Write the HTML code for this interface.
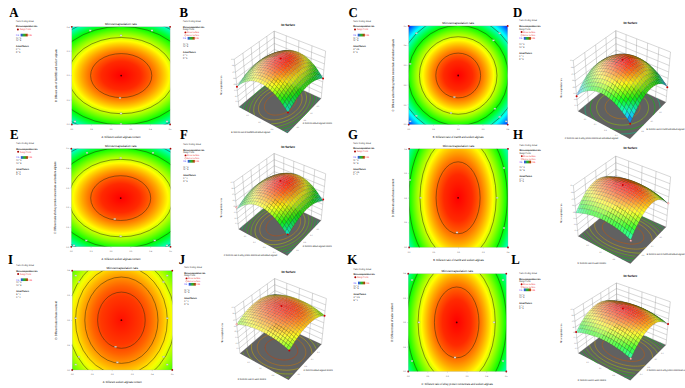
<!DOCTYPE html>
<html><head><meta charset="utf-8"><title>Figure</title>
<style>
html,body{margin:0;padding:0;background:#fff;width:685px;height:388px;overflow:hidden}
svg{display:block}
text{font-family:"Liberation Sans",sans-serif;text-rendering:geometricPrecision}
.L{font-family:"Liberation Serif",serif;font-weight:bold;font-size:13.6px;fill:#000;text-rendering:geometricPrecision}
</style></head><body>
<svg width="685" height="388" viewBox="0 0 685 388" font-family="Liberation Sans, sans-serif"><defs><linearGradient id="cbar"><stop offset="0" stop-color="#3344ff"/><stop offset="0.5" stop-color="#22bb22"/><stop offset="1" stop-color="#cc2200"/></linearGradient><radialGradient id="rg1" gradientUnits="userSpaceOnUse" cx="0" cy="0" r="1" gradientTransform="translate(121.2 75.6) scale(96.8 69.6)"><stop offset="0.0000" stop-color="#ff0000"/><stop offset="0.2041" stop-color="#ff2a00"/><stop offset="0.2887" stop-color="#ff5500"/><stop offset="0.3536" stop-color="#ff8000"/><stop offset="0.4082" stop-color="#ffaa00"/><stop offset="0.4564" stop-color="#ffd400"/><stop offset="0.5000" stop-color="#ffff00"/><stop offset="0.5401" stop-color="#d4ff00"/><stop offset="0.5774" stop-color="#aaff00"/><stop offset="0.6124" stop-color="#80ff00"/><stop offset="0.6455" stop-color="#55ff00"/><stop offset="0.6770" stop-color="#2bff00"/><stop offset="0.7071" stop-color="#00ff00"/><stop offset="0.7360" stop-color="#00ff2a"/><stop offset="0.7638" stop-color="#00ff55"/><stop offset="0.7906" stop-color="#00ff80"/><stop offset="0.8165" stop-color="#00ffaa"/><stop offset="0.8416" stop-color="#00ffd4"/><stop offset="0.8660" stop-color="#00ffff"/><stop offset="0.8898" stop-color="#00d4ff"/><stop offset="0.9129" stop-color="#00aaff"/><stop offset="0.9354" stop-color="#0080ff"/><stop offset="0.9574" stop-color="#0055ff"/><stop offset="0.9789" stop-color="#002bff"/><stop offset="1.0000" stop-color="#0000ff"/></radialGradient><clipPath id="cp1"><rect x="71.8" y="26.8" width="98.3" height="97.6"/></clipPath><radialGradient id="rg2" gradientUnits="userSpaceOnUse" cx="0" cy="0" r="1" gradientTransform="translate(458.2 75.5) scale(70.8 70.8)"><stop offset="0.0000" stop-color="#ff0000"/><stop offset="0.2041" stop-color="#ff2a00"/><stop offset="0.2887" stop-color="#ff5500"/><stop offset="0.3536" stop-color="#ff8000"/><stop offset="0.4082" stop-color="#ffaa00"/><stop offset="0.4564" stop-color="#ffd400"/><stop offset="0.5000" stop-color="#ffff00"/><stop offset="0.5401" stop-color="#d4ff00"/><stop offset="0.5774" stop-color="#aaff00"/><stop offset="0.6124" stop-color="#80ff00"/><stop offset="0.6455" stop-color="#55ff00"/><stop offset="0.6770" stop-color="#2bff00"/><stop offset="0.7071" stop-color="#00ff00"/><stop offset="0.7360" stop-color="#00ff2a"/><stop offset="0.7638" stop-color="#00ff55"/><stop offset="0.7906" stop-color="#00ff80"/><stop offset="0.8165" stop-color="#00ffaa"/><stop offset="0.8416" stop-color="#00ffd4"/><stop offset="0.8660" stop-color="#00ffff"/><stop offset="0.8898" stop-color="#00d4ff"/><stop offset="0.9129" stop-color="#00aaff"/><stop offset="0.9354" stop-color="#0080ff"/><stop offset="0.9574" stop-color="#0055ff"/><stop offset="0.9789" stop-color="#002bff"/><stop offset="1.0000" stop-color="#0000ff"/></radialGradient><clipPath id="cp2"><rect x="408.7" y="25.9" width="99" height="98.7"/></clipPath><radialGradient id="rg3" gradientUnits="userSpaceOnUse" cx="0" cy="0" r="1" gradientTransform="translate(120.7 198.1) scale(94.9 70.8)"><stop offset="0.0000" stop-color="#ff0000"/><stop offset="0.2041" stop-color="#ff2a00"/><stop offset="0.2887" stop-color="#ff5500"/><stop offset="0.3536" stop-color="#ff8000"/><stop offset="0.4082" stop-color="#ffaa00"/><stop offset="0.4564" stop-color="#ffd400"/><stop offset="0.5000" stop-color="#ffff00"/><stop offset="0.5401" stop-color="#d4ff00"/><stop offset="0.5774" stop-color="#aaff00"/><stop offset="0.6124" stop-color="#80ff00"/><stop offset="0.6455" stop-color="#55ff00"/><stop offset="0.6770" stop-color="#2bff00"/><stop offset="0.7071" stop-color="#00ff00"/><stop offset="0.7360" stop-color="#00ff2a"/><stop offset="0.7638" stop-color="#00ff55"/><stop offset="0.7906" stop-color="#00ff80"/><stop offset="0.8165" stop-color="#00ffaa"/><stop offset="0.8416" stop-color="#00ffd4"/><stop offset="0.8660" stop-color="#00ffff"/><stop offset="0.8898" stop-color="#00d4ff"/><stop offset="0.9129" stop-color="#00aaff"/><stop offset="0.9354" stop-color="#0080ff"/><stop offset="0.9574" stop-color="#0055ff"/><stop offset="0.9789" stop-color="#002bff"/><stop offset="1.0000" stop-color="#0000ff"/></radialGradient><clipPath id="cp3"><rect x="71.3" y="148.7" width="99.2" height="98.1"/></clipPath><radialGradient id="rg4" gradientUnits="userSpaceOnUse" cx="0" cy="0" r="1" gradientTransform="translate(458.1 197.8) scale(69.6 113.8)"><stop offset="0.0000" stop-color="#ff0000"/><stop offset="0.2041" stop-color="#ff2a00"/><stop offset="0.2887" stop-color="#ff5500"/><stop offset="0.3536" stop-color="#ff8000"/><stop offset="0.4082" stop-color="#ffaa00"/><stop offset="0.4564" stop-color="#ffd400"/><stop offset="0.5000" stop-color="#ffff00"/><stop offset="0.5401" stop-color="#d4ff00"/><stop offset="0.5774" stop-color="#aaff00"/><stop offset="0.6124" stop-color="#80ff00"/><stop offset="0.6455" stop-color="#55ff00"/><stop offset="0.6770" stop-color="#2bff00"/><stop offset="0.7071" stop-color="#00ff00"/><stop offset="0.7360" stop-color="#00ff2a"/><stop offset="0.7638" stop-color="#00ff55"/><stop offset="0.7906" stop-color="#00ff80"/><stop offset="0.8165" stop-color="#00ffaa"/><stop offset="0.8416" stop-color="#00ffd4"/><stop offset="0.8660" stop-color="#00ffff"/><stop offset="0.8898" stop-color="#00d4ff"/><stop offset="0.9129" stop-color="#00aaff"/><stop offset="0.9354" stop-color="#0080ff"/><stop offset="0.9574" stop-color="#0055ff"/><stop offset="0.9789" stop-color="#002bff"/><stop offset="1.0000" stop-color="#0000ff"/></radialGradient><clipPath id="cp4"><rect x="409.1" y="148.8" width="98.9" height="98.6"/></clipPath><radialGradient id="rg5" gradientUnits="userSpaceOnUse" cx="0" cy="0" r="1" gradientTransform="translate(121.4 320.2) scale(100.74 118.9)"><stop offset="0.0000" stop-color="#ff0f00"/><stop offset="0.2041" stop-color="#ff3900"/><stop offset="0.2887" stop-color="#ff6300"/><stop offset="0.3536" stop-color="#ff8d00"/><stop offset="0.4082" stop-color="#ffb700"/><stop offset="0.4564" stop-color="#ffe100"/><stop offset="0.5000" stop-color="#f4ff00"/><stop offset="0.5401" stop-color="#caff00"/><stop offset="0.5774" stop-color="#a0ff00"/><stop offset="0.6124" stop-color="#76ff00"/><stop offset="0.6455" stop-color="#4cff00"/><stop offset="0.6770" stop-color="#22ff00"/><stop offset="0.7071" stop-color="#00ff08"/><stop offset="0.7360" stop-color="#00ff32"/><stop offset="0.7638" stop-color="#00ff5b"/><stop offset="0.7906" stop-color="#00ff85"/><stop offset="0.8165" stop-color="#00ffaf"/><stop offset="0.8416" stop-color="#00ffd9"/><stop offset="0.8660" stop-color="#00fbff"/><stop offset="0.8898" stop-color="#00d1ff"/><stop offset="0.9129" stop-color="#00a7ff"/><stop offset="0.9354" stop-color="#007eff"/><stop offset="0.9574" stop-color="#0054ff"/><stop offset="0.9789" stop-color="#002aff"/><stop offset="1.0000" stop-color="#0000ff"/></radialGradient><clipPath id="cp5"><rect x="72.2" y="270.7" width="100.1" height="99.3"/></clipPath><radialGradient id="rg6" gradientUnits="userSpaceOnUse" cx="0" cy="0" r="1" gradientTransform="translate(456.7 322.4) scale(70.5 112)"><stop offset="0.0000" stop-color="#ff0000"/><stop offset="0.2041" stop-color="#ff2a00"/><stop offset="0.2887" stop-color="#ff5500"/><stop offset="0.3536" stop-color="#ff8000"/><stop offset="0.4082" stop-color="#ffaa00"/><stop offset="0.4564" stop-color="#ffd400"/><stop offset="0.5000" stop-color="#ffff00"/><stop offset="0.5401" stop-color="#d4ff00"/><stop offset="0.5774" stop-color="#aaff00"/><stop offset="0.6124" stop-color="#80ff00"/><stop offset="0.6455" stop-color="#55ff00"/><stop offset="0.6770" stop-color="#2bff00"/><stop offset="0.7071" stop-color="#00ff00"/><stop offset="0.7360" stop-color="#00ff2a"/><stop offset="0.7638" stop-color="#00ff55"/><stop offset="0.7906" stop-color="#00ff80"/><stop offset="0.8165" stop-color="#00ffaa"/><stop offset="0.8416" stop-color="#00ffd4"/><stop offset="0.8660" stop-color="#00ffff"/><stop offset="0.8898" stop-color="#00d4ff"/><stop offset="0.9129" stop-color="#00aaff"/><stop offset="0.9354" stop-color="#0080ff"/><stop offset="0.9574" stop-color="#0055ff"/><stop offset="0.9789" stop-color="#002bff"/><stop offset="1.0000" stop-color="#0000ff"/></radialGradient><clipPath id="cp6"><rect x="408.2" y="273.7" width="98.1" height="97.8"/></clipPath></defs><text transform="translate(9.3 16.8) scale(.94 1)" class="L">A</text><text x="16.1" y="21.75" font-size="2.4" fill="#222" textLength="17.64" lengthAdjust="spacingAndGlyphs">Factor Coding: Actual</text><text x="16.1" y="27.25" font-size="2.4" fill="#000" font-weight="bold" textLength="21.16" lengthAdjust="spacingAndGlyphs">Microencapsulation rate</text><circle cx="17.9" cy="29.4" r="1" fill="#a00"/><text x="19.9" y="30.25" font-size="2.4" fill="#e33" textLength="11.05" lengthAdjust="spacingAndGlyphs">Design Points</text><text x="16.1" y="35.95" font-size="2.4" fill="#33f" textLength="2.7" lengthAdjust="spacingAndGlyphs">0.5</text><rect x="20.6" y="33.75" width="7.1" height="2.7" fill="url(#cbar)"/><text x="28.3" y="35.95" font-size="2.4" fill="#f33" textLength="3.6" lengthAdjust="spacingAndGlyphs">0.95</text><text x="16.1" y="38.65" font-size="2.4" fill="#222" textLength="5.1" lengthAdjust="spacingAndGlyphs">X1 = A</text><text x="16.1" y="41.45" font-size="2.4" fill="#222" textLength="5.1" lengthAdjust="spacingAndGlyphs">X2 = B</text><text x="16.1" y="47.45" font-size="2.4" fill="#000" font-weight="bold" textLength="12.6" lengthAdjust="spacingAndGlyphs">Actual Factors</text><text x="16.1" y="50.35" font-size="2.4" fill="#222" textLength="4.25" lengthAdjust="spacingAndGlyphs">C = 1</text><text x="16.1" y="53.05" font-size="2.4" fill="#222" textLength="4.25" lengthAdjust="spacingAndGlyphs">D = 5</text><rect x="71.8" y="26.8" width="98.3" height="97.6" fill="url(#rg1)"/><g clip-path="url(#cp1)" fill="none" stroke="#2a2a10" stroke-width="0.5"><ellipse cx="121.2" cy="75.6" rx="30.61" ry="22.01"/><ellipse cx="121.2" cy="75.6" rx="53.02" ry="38.12"/><ellipse cx="121.2" cy="75.6" rx="68.45" ry="49.21"/><ellipse cx="121.2" cy="75.6" rx="80.99" ry="58.23"/></g><rect x="71.8" y="26.8" width="98.3" height="97.6" fill="none" stroke="#aaa" stroke-width="0.3"/><rect x="89.2" y="29.85" width="2" height="1.3" fill="#ddd" stroke="#999" stroke-width="0.2"/><rect x="120" y="34.85" width="2" height="1.3" fill="#ddd" stroke="#999" stroke-width="0.2"/><rect x="151" y="29.85" width="2" height="1.3" fill="#ddd" stroke="#999" stroke-width="0.2"/><rect x="120" y="112.85" width="2" height="1.3" fill="#ddd" stroke="#999" stroke-width="0.2"/><rect x="119" y="97.35" width="2" height="1.3" fill="#ddd" stroke="#999" stroke-width="0.2"/><rect x="74" y="120.85" width="2" height="1.3" fill="#ddd" stroke="#999" stroke-width="0.2"/><rect x="166" y="120.85" width="2" height="1.3" fill="#ddd" stroke="#999" stroke-width="0.2"/><rect x="120" y="123.35" width="2" height="1.3" fill="#ddd" stroke="#999" stroke-width="0.2"/><circle cx="71.8" cy="26.8" r="0.9" fill="#a00"/><circle cx="170.1" cy="26.8" r="0.9" fill="#a00"/><circle cx="71.8" cy="124.4" r="0.9" fill="#a00"/><circle cx="170.1" cy="124.4" r="0.9" fill="#a00"/><circle cx="121.2" cy="75.6" r="0.9" fill="#400"/><text x="120.95" y="24.9" font-size="3" fill="#000" text-anchor="middle" textLength="31.74" lengthAdjust="spacingAndGlyphs">Microencapsulation rate</text><line x1="71.8" y1="124.4" x2="71.8" y2="125.6" stroke="#999" stroke-width="0.3"/><text x="71.8" y="129.6" font-size="1.9" fill="#333" text-anchor="middle">0.0</text><line x1="91.46" y1="124.4" x2="91.46" y2="125.6" stroke="#999" stroke-width="0.3"/><text x="91.46" y="129.6" font-size="1.9" fill="#333" text-anchor="middle">0.1</text><line x1="111.12" y1="124.4" x2="111.12" y2="125.6" stroke="#999" stroke-width="0.3"/><text x="111.12" y="129.6" font-size="1.9" fill="#333" text-anchor="middle">0.2</text><line x1="130.78" y1="124.4" x2="130.78" y2="125.6" stroke="#999" stroke-width="0.3"/><text x="130.78" y="129.6" font-size="1.9" fill="#333" text-anchor="middle">0.3</text><line x1="150.44" y1="124.4" x2="150.44" y2="125.6" stroke="#999" stroke-width="0.3"/><text x="150.44" y="129.6" font-size="1.9" fill="#333" text-anchor="middle">0.4</text><line x1="170.1" y1="124.4" x2="170.1" y2="125.6" stroke="#999" stroke-width="0.3"/><text x="170.1" y="129.6" font-size="1.9" fill="#333" text-anchor="middle">0.5</text><line x1="70.6" y1="124.4" x2="71.8" y2="124.4" stroke="#999" stroke-width="0.3"/><text x="69.5" y="125.1" font-size="1.9" fill="#333" text-anchor="end">0.0</text><line x1="70.6" y1="100" x2="71.8" y2="100" stroke="#999" stroke-width="0.3"/><text x="69.5" y="100.7" font-size="1.9" fill="#333" text-anchor="end">0.1</text><line x1="70.6" y1="75.6" x2="71.8" y2="75.6" stroke="#999" stroke-width="0.3"/><text x="69.5" y="76.3" font-size="1.9" fill="#333" text-anchor="end">0.2</text><line x1="70.6" y1="51.2" x2="71.8" y2="51.2" stroke="#999" stroke-width="0.3"/><text x="69.5" y="51.9" font-size="1.9" fill="#333" text-anchor="end">0.3</text><line x1="70.6" y1="26.8" x2="71.8" y2="26.8" stroke="#999" stroke-width="0.3"/><text x="69.5" y="27.5" font-size="1.9" fill="#333" text-anchor="end">0.4</text><text x="120.95" y="137.6" font-size="3" fill="#000" text-anchor="middle" textLength="38.88" lengthAdjust="spacingAndGlyphs">A: Different sodium alginate content</text><text x="56.8" y="75.6" font-size="3" fill="#000" text-anchor="middle" transform="rotate(-90 56.8 75.6)" textLength="52.8" lengthAdjust="spacingAndGlyphs">B: Different ratio of NaHSO3 and sodium alginate</text><text transform="translate(179.6 16.5) scale(.94 1)" class="L">B</text><text x="183.1" y="21.95" font-size="2.4" fill="#222" textLength="17.64" lengthAdjust="spacingAndGlyphs">Factor Coding: Actual</text><text x="183.1" y="27.55" font-size="2.4" fill="#000" font-weight="bold" textLength="21.16" lengthAdjust="spacingAndGlyphs">Microencapsulation rate</text><text x="183.1" y="30.35" font-size="2.4" fill="#222" textLength="11.05" lengthAdjust="spacingAndGlyphs">Design Points</text><circle cx="185.4" cy="32.4" r="0.95" fill="#b00"/><text x="186.7" y="33.25" font-size="2.4" fill="#e33" textLength="12.48" lengthAdjust="spacingAndGlyphs">Above Surface</text><circle cx="185.4" cy="35.3" r="0.8" fill="none" stroke="#d66" stroke-width="0.35"/><text x="186.7" y="36.15" font-size="2.4" fill="#e55" textLength="12.48" lengthAdjust="spacingAndGlyphs">Below Surface</text><text x="183.1" y="39.15" font-size="2.4" fill="#33f" textLength="2.7" lengthAdjust="spacingAndGlyphs">0.5</text><rect x="187.6" y="36.95" width="7.1" height="2.7" fill="url(#cbar)"/><text x="195.3" y="39.15" font-size="2.4" fill="#f33" textLength="3.6" lengthAdjust="spacingAndGlyphs">0.95</text><text x="183.1" y="44.75" font-size="2.4" fill="#222" textLength="5.1" lengthAdjust="spacingAndGlyphs">X1 = A</text><text x="183.1" y="47.35" font-size="2.4" fill="#222" textLength="5.1" lengthAdjust="spacingAndGlyphs">X2 = B</text><text x="183.1" y="53.15" font-size="2.4" fill="#000" font-weight="bold" textLength="12.6" lengthAdjust="spacingAndGlyphs">Actual Factors</text><text x="183.1" y="55.95" font-size="2.4" fill="#222" textLength="4.25" lengthAdjust="spacingAndGlyphs">C = 1</text><text x="183.1" y="58.65" font-size="2.4" fill="#222" textLength="4.25" lengthAdjust="spacingAndGlyphs">D = 5</text><polygon points="274.78,77.13 238.92,107.1 234.21,59.22 274.18,31.12" fill="#fff"/><path d="M274.78 77.13L274.18 31.12M268.15 82.67L266.86 36.27M261.27 88.42L259.22 41.64M254.11 94.4L251.25 47.24M246.67 100.62L242.92 53.09M238.92 107.1L234.21 59.22M274.78 77.13L274.18 31.12M285.77 82.2L286.31 35.83M297.16 87.44L298.91 40.72M308.96 92.87L312.01 45.8M321.18 98.5L325.64 51.09M238.92 107.1L274.78 77.13L321.18 98.5M238.39 101.65L274.71 71.85L321.69 93.09M237.84 96.06L274.64 66.44L322.21 87.55M237.27 90.33L274.57 60.91L322.75 81.86M236.69 84.44L274.49 55.24L323.29 76.03M236.1 78.39L274.42 49.43L323.86 70.04M235.48 72.17L274.34 43.48L324.43 63.9M234.85 65.79L274.27 37.38L325.03 57.58M234.21 59.22L274.18 31.12L325.64 51.09" fill="none" stroke="#999" stroke-width="0.4"/><polygon points="274.78,77.13 238.92,107.1 287.56,133.27 321.18,98.5" fill="#616161"/><path d="M268.8 113.6 269.6 114.0 270.4 114.3 271.3 114.6 272.2 114.8 273.1 115.0 274.1 115.1 275.1 115.1 276.2 115.1 277.2 115.0 278.3 114.9 279.4 114.8 280.4 114.5 281.5 114.3 282.6 113.9 283.7 113.6 284.7 113.1 285.7 112.7 286.8 112.2 287.7 111.6 288.7 111.0 289.6 110.4 290.4 109.8 291.2 109.1 292.0 108.4 292.7 107.7 293.3 106.9 293.9 106.2 294.5 105.4 294.9 104.6 295.3 103.8 295.7 103.1 296.0 102.3 296.2 101.5 296.3 100.7 296.4 100.0 296.4 99.3 296.3 98.5 296.2 97.8 296.0 97.2 295.8 96.5 295.4 95.9 295.1 95.3 294.6 94.8 294.1 94.2 293.6 93.7 293.0 93.3 292.3 92.9 291.6 92.5 290.9 92.2 290.1 91.9 289.3 91.7 288.4 91.5 287.6 91.4 286.6 91.3 285.7 91.3 284.7 91.3 283.8 91.3 282.8 91.4 281.8 91.6 280.8 91.8 279.8 92.0 278.7 92.3 277.7 92.6 276.8 93.0 275.8 93.4 274.8 93.8 273.9 94.3 273.0 94.9 272.1 95.4 271.2 96.0 270.4 96.6 269.6 97.3 268.9 98.0 268.2 98.7 267.6 99.4 267.0 100.1 266.4 100.9 266.0 101.7 265.6 102.4 265.2 103.2 264.9 104.0 264.7 104.8 264.6 105.5 264.5 106.3 264.5 107.1 264.5 107.8 264.6 108.5 264.8 109.2 265.1 109.9 265.4 110.5 265.8 111.2 266.3 111.7 266.8 112.3 267.4 112.8 268.1 113.2 268.8 113.6" fill="none" stroke="#cc5a00" stroke-width="0.5"/><path d="M264.3 117.8 265.4 118.3 266.5 118.8 267.7 119.1 268.9 119.4 270.3 119.7 271.6 119.8 273.0 119.9 274.4 119.9 275.9 119.8 277.4 119.6 278.9 119.4 280.4 119.1 281.9 118.7 283.4 118.2 284.8 117.7 286.3 117.1 287.7 116.5 289.1 115.8 290.4 115.0 291.7 114.2 292.9 113.3 294.1 112.4 295.2 111.5 296.2 110.5 297.2 109.5 298.1 108.5 298.9 107.4 299.6 106.4 300.2 105.3 300.8 104.2 301.2 103.2 301.6 102.1 301.8 101.1 302.0 100.0 302.1 99.0 302.1 98.0 302.0 97.0 301.8 96.1 301.5 95.2 301.2 94.3 300.7 93.5 300.2 92.7 299.6 91.9 298.9 91.2 298.2 90.6 297.3 90.0 296.4 89.5 295.5 89.0 294.5 88.6 293.4 88.2 292.3 87.9 291.2 87.6 290.0 87.5 288.7 87.3 287.5 87.3 286.2 87.3 284.9 87.4 283.5 87.5 282.2 87.7 280.8 87.9 279.5 88.3 278.1 88.6 276.7 89.1 275.4 89.6 274.1 90.1 272.8 90.7 271.5 91.4 270.3 92.1 269.1 92.8 267.9 93.6 266.8 94.5 265.7 95.3 264.7 96.3 263.8 97.2 262.9 98.2 262.1 99.2 261.3 100.2 260.7 101.3 260.1 102.3 259.6 103.4 259.2 104.4 258.8 105.5 258.6 106.6 258.5 107.6 258.4 108.7 258.5 109.7 258.7 110.7 258.9 111.7 259.3 112.6 259.7 113.5 260.3 114.3 260.9 115.1 261.6 115.9 262.4 116.6 263.3 117.2 264.3 117.8" fill="none" stroke="#cca700" stroke-width="0.5"/><path d="M271.3 123.7 273.1 123.7 274.9 123.6 276.7 123.4 278.5 123.1 280.3 122.7 282.2 122.2 284.0 121.7 285.8 121.0 287.5 120.3 289.3 119.5 291.0 118.6 292.6 117.7 294.1 116.7 295.6 115.6 297.0 114.5 298.4 113.4 299.6 112.2 300.8 110.9 301.8 109.7 302.8 108.4 303.6 107.1 304.4 105.9 305.0 104.6 305.5 103.3 305.9 102.0 306.2 100.7 306.4 99.4 306.5 98.2 306.5 97.0 306.4 95.8 306.1 94.7 305.8 93.6 305.3 92.6 304.8 91.6M288.8 84.2 287.3 84.2 285.7 84.3 284.1 84.5 282.5 84.7 280.9 85.0 279.2 85.4 277.6 85.8 276.0 86.3 274.4 86.9 272.8 87.6 271.2 88.3 269.7 89.1 268.2 89.9 266.7 90.8 265.3 91.8 264.0 92.8 262.7 93.8 261.4 94.9 260.3 96.1 259.2 97.2 258.2 98.5 257.3 99.7 256.5 100.9 255.8 102.2 255.2 103.5 254.6 104.8 254.2 106.1 253.9 107.4 253.8 108.7 253.7 109.9 253.7 111.2 253.9 112.4 254.2 113.6 254.6 114.7" fill="none" stroke="#a3cc00" stroke-width="0.5"/><path d="M276.0 126.7 278.2 126.3 280.3 125.9 282.4 125.3 284.5 124.6 286.6 123.9 288.6 123.0 290.6 122.1 292.6 121.1 294.4 120.0 296.2 118.8 297.9 117.6 299.6 116.3 301.1 115.0 302.5 113.6 303.8 112.2 305.0 110.8 306.1 109.3 307.1 107.8 307.9 106.3 308.6 104.8 309.2 103.3 309.7 101.9 310.0 100.4 310.2 99.0 310.3 97.6 310.2 96.2 310.1 94.9 309.8 93.6M284.6 82.0 282.7 82.2 280.9 82.6 279.0 83.0 277.2 83.5 275.3 84.1 273.5 84.7 271.7 85.5 269.9 86.3 268.1 87.2 266.4 88.1 264.8 89.1 263.1 90.2 261.6 91.4 260.1 92.6 258.7 93.8 257.4 95.1 256.1 96.5 255.0 97.8 253.9 99.2 253.0 100.7 252.1 102.1 251.4 103.6 250.8 105.1 250.3 106.6 249.9 108.1 249.7 109.6 249.6 111.0 249.7 112.5" fill="none" stroke="#56cc00" stroke-width="0.5"/><path d="M280.3 128.7 282.6 128.1 285.0 127.3 287.3 126.5 289.6 125.5 291.8 124.5 294.0 123.3 296.1 122.1 298.1 120.8 300.0 119.4 301.8 117.9 303.5 116.4 305.1 114.9 306.6 113.3 307.9 111.7 309.1 110.0 310.1 108.4 311.1 106.7 311.8 105.1 312.5 103.4 313.0 101.8 313.3 100.1 313.5 98.5 313.6 97.0 313.5 95.5M280.9 80.4 278.9 80.9 276.8 81.4 274.8 82.1 272.7 82.8 270.7 83.6 268.7 84.5 266.8 85.5 264.9 86.5 263.0 87.7 261.2 88.9 259.5 90.1 257.9 91.5 256.3 92.8 254.8 94.3 253.4 95.8 252.1 97.3 250.9 98.9 249.8 100.5 248.9 102.1 248.1 103.7 247.4 105.4 246.8 107.0 246.4 108.7 246.1 110.4" fill="none" stroke="#08cc00" stroke-width="0.5"/><path d="M282.8 130.6 285.4 129.8 288.0 128.9 290.5 127.8 293.0 126.6M315.4 103.5 316.0 101.7 316.3 99.9 316.5 98.2 316.6 96.5M278.7 79.0 276.5 79.6 274.3 80.3 272.1 81.1 269.9 82.0M245.9 102.0 245.0 103.8 244.2 105.6 243.6 107.5 243.1 109.3" fill="none" stroke="#00cc46" stroke-width="0.5"/><path d="M285.8 132.1 288.6 131.1M319.1 99.7 319.3 97.8M276.2 77.9 273.8 78.7M241.4 105.9 240.7 107.8" fill="none" stroke="#00cc93" stroke-width="0.5"/><line x1="237.39" y1="101.65" x2="238.39" y2="101.65" stroke="#888" stroke-width="0.3"/><text x="237.09" y="102.25" font-size="1.7" fill="#333" text-anchor="end" textLength="1.65" lengthAdjust="spacingAndGlyphs">0.2</text><line x1="236.84" y1="96.06" x2="237.84" y2="96.06" stroke="#888" stroke-width="0.3"/><text x="236.54" y="96.66" font-size="1.7" fill="#333" text-anchor="end" textLength="1.65" lengthAdjust="spacingAndGlyphs">0.3</text><line x1="236.27" y1="90.33" x2="237.27" y2="90.33" stroke="#888" stroke-width="0.3"/><text x="235.97" y="90.93" font-size="1.7" fill="#333" text-anchor="end" textLength="1.65" lengthAdjust="spacingAndGlyphs">0.4</text><line x1="235.69" y1="84.44" x2="236.69" y2="84.44" stroke="#888" stroke-width="0.3"/><text x="235.39" y="85.04" font-size="1.7" fill="#333" text-anchor="end" textLength="1.65" lengthAdjust="spacingAndGlyphs">0.5</text><line x1="235.1" y1="78.39" x2="236.1" y2="78.39" stroke="#888" stroke-width="0.3"/><text x="234.8" y="78.99" font-size="1.7" fill="#333" text-anchor="end" textLength="1.65" lengthAdjust="spacingAndGlyphs">0.6</text><line x1="234.48" y1="72.17" x2="235.48" y2="72.17" stroke="#888" stroke-width="0.3"/><text x="234.18" y="72.77" font-size="1.7" fill="#333" text-anchor="end" textLength="1.65" lengthAdjust="spacingAndGlyphs">0.7</text><line x1="233.85" y1="65.79" x2="234.85" y2="65.79" stroke="#888" stroke-width="0.3"/><text x="233.55" y="66.39" font-size="1.7" fill="#333" text-anchor="end" textLength="1.65" lengthAdjust="spacingAndGlyphs">0.8</text><line x1="233.21" y1="59.22" x2="234.21" y2="59.22" stroke="#888" stroke-width="0.3"/><text x="232.91" y="59.82" font-size="1.7" fill="#333" text-anchor="end" textLength="1.65" lengthAdjust="spacingAndGlyphs">0.9</text><g transform="scale(.1)" stroke="#000" stroke-opacity=".42" stroke-width="2.6" stroke-linejoin="round"><polygon points="2745,575 2730,574 2750,558 2766,559" fill="#47ffd0"/><polygon points="2766,559 2750,558 2771,543 2786,544" fill="#44ff93"/><polygon points="2730,574 2714,574 2734,558 2750,558" fill="#4cffb4"/><polygon points="2786,544 2771,543 2792,531 2807,532" fill="#41ff59"/><polygon points="2750,558 2734,558 2755,543 2771,543" fill="#4aff78"/><polygon points="2714,574 2698,576 2718,559 2734,558" fill="#52ff9b"/><polygon points="2807,532 2792,531 2813,521 2829,522" fill="#59ff3d"/><polygon points="2771,543 2755,543 2776,531 2792,531" fill="#50ff48"/><polygon points="2734,558 2718,559 2739,544 2755,543" fill="#50ff61"/><polygon points="2698,576 2681,579 2702,562 2718,559" fill="#57ff88"/><polygon points="2829,522 2813,521 2835,513 2850,515" fill="#82ff39"/><polygon points="2792,531 2776,531 2797,521 2813,521" fill="#7dff44"/><polygon points="2755,543 2739,544 2760,532 2776,531" fill="#71ff4e"/><polygon points="2718,559 2702,562 2722,547 2739,544" fill="#5dff56"/><polygon points="2681,579 2665,583 2685,566 2702,562" fill="#5dff79"/><polygon points="2850,515 2835,513 2857,508 2872,510" fill="#a6ff33"/><polygon points="2776,531 2760,532 2781,522 2797,521" fill="#9eff4b"/><polygon points="2739,544 2722,547 2743,534 2760,532" fill="#8eff54"/><polygon points="2665,583 2648,588 2668,571 2685,566" fill="#62ff6d"/><polygon points="2813,521 2797,521 2819,513 2835,513" fill="#a6ff40"/><polygon points="2702,562 2685,566 2706,551 2722,547" fill="#76ff5c"/><polygon points="2872,510 2857,508 2879,506 2894,507" fill="#c6ff2b"/><polygon points="2835,513 2819,513 2841,508 2857,508" fill="#caff3a"/><polygon points="2797,521 2781,522 2803,514 2819,513" fill="#c6ff47"/><polygon points="2760,532 2743,534 2765,524 2781,522" fill="#b9ff52"/><polygon points="2722,547 2706,551 2727,538 2743,534" fill="#a5ff5a"/><polygon points="2685,566 2668,571 2689,556 2706,551" fill="#8aff61"/><polygon points="2648,588 2631,595 2652,578 2668,571" fill="#6aff67"/><polygon points="2894,507 2879,506 2902,506 2917,507" fill="#e0ff23"/><polygon points="2857,508 2841,508 2863,505 2879,506" fill="#eaff33"/><polygon points="2819,513 2803,514 2825,509 2841,508" fill="#e9ff41"/><polygon points="2781,522 2765,524 2787,517 2803,514" fill="#e0ff4e"/><polygon points="2743,534 2727,538 2748,528 2765,524" fill="#cfff58"/><polygon points="2706,551 2689,556 2710,544 2727,538" fill="#b8ff60"/><polygon points="2668,571 2652,578 2672,563 2689,556" fill="#9bff67"/><polygon points="2631,595 2614,603 2635,586 2652,578" fill="#78ff6c"/><polygon points="2917,507 2902,506 2924,508 2939,510" fill="#f5ff18"/><polygon points="2879,506 2863,505 2886,506 2902,506" fill="#fffa2a"/><polygon points="2841,508 2825,509 2848,507 2863,505" fill="#fff53b"/><polygon points="2803,514 2787,517 2809,512 2825,509" fill="#fffa49"/><polygon points="2765,524 2748,528 2770,521 2787,517" fill="#f6ff55"/><polygon points="2727,538 2710,544 2732,534 2748,528" fill="#e2ff5f"/><polygon points="2689,556 2672,563 2693,550 2710,544" fill="#c8ff66"/><polygon points="2652,578 2635,586 2655,571 2672,563" fill="#a9ff6c"/><polygon points="2614,603 2597,613 2617,596 2635,586" fill="#84ff71"/><polygon points="2863,505 2848,507 2870,507 2886,506" fill="#ffda32"/><polygon points="2825,509 2809,512 2831,509 2848,507" fill="#ffdd43"/><polygon points="2787,517 2770,521 2793,515 2809,512" fill="#ffe650"/><polygon points="2748,528 2732,534 2754,526 2770,521" fill="#fff85c"/><polygon points="2710,544 2693,550 2715,540 2732,534" fill="#f0ff65"/><polygon points="2672,563 2655,571 2676,559 2693,550" fill="#d4ff6c"/><polygon points="2939,510 2924,508 2947,514 2962,515" fill="#fbf614"/><polygon points="2902,506 2886,506 2909,508 2924,508" fill="#ffe320"/><polygon points="2635,586 2617,596 2638,581 2655,571" fill="#b3ff71"/><polygon points="2597,613 2580,624 2600,607 2617,596" fill="#8dff75"/><polygon points="2962,515 2947,514 2970,522 2985,523" fill="#f5e913"/><polygon points="2848,507 2831,509 2854,509 2870,507" fill="#ffc03a"/><polygon points="2809,512 2793,515 2815,513 2831,509" fill="#ffc84a"/><polygon points="2770,521 2754,526 2776,521 2793,515" fill="#ffd658"/><polygon points="2732,534 2715,540 2737,533 2754,526" fill="#ffeb62"/><polygon points="2693,550 2676,559 2698,548 2715,540" fill="#fbff6b"/><polygon points="2580,624 2563,636 2583,619 2600,607" fill="#92ff79"/><polygon points="2924,508 2909,508 2932,514 2947,514" fill="#ffd215"/><polygon points="2886,506 2870,507 2893,509 2909,508" fill="#ffc428"/><polygon points="2655,571 2638,581 2659,568 2676,559" fill="#ddff71"/><polygon points="2617,596 2600,607 2621,592 2638,581" fill="#baff76"/><polygon points="2985,523 2970,522 2993,532 3008,534" fill="#efe213"/><polygon points="2947,514 2932,514 2954,522 2970,522" fill="#f9c514"/><polygon points="2909,508 2893,509 2916,515 2932,514" fill="#ffb11d"/><polygon points="2870,507 2854,509 2877,512 2893,509" fill="#ffa930"/><polygon points="2831,509 2815,513 2838,513 2854,509" fill="#ffad42"/><polygon points="2793,515 2776,521 2798,518 2815,513" fill="#ffb952"/><polygon points="2754,526 2737,533 2759,527 2776,521" fill="#ffcb5f"/><polygon points="2715,540 2698,548 2720,541 2737,533" fill="#ffe269"/><polygon points="2676,559 2659,568 2681,558 2698,548" fill="#fffc71"/><polygon points="2638,581 2621,592 2642,579 2659,568" fill="#e2ff76"/><polygon points="2600,607 2583,619 2603,604 2621,592" fill="#bfff7a"/><polygon points="2563,636 2545,650 2565,633 2583,619" fill="#95ff7d"/><polygon points="3008,534 2993,532 3016,546 3030,547" fill="#e8e212"/><polygon points="2970,522 2954,522 2978,532 2993,532" fill="#f2c013"/><polygon points="2932,514 2916,515 2939,523 2954,522" fill="#fda514"/><polygon points="2893,509 2877,512 2900,517 2916,515" fill="#ff9625"/><polygon points="2854,509 2838,513 2861,516 2877,512" fill="#ff9539"/><polygon points="2815,513 2798,518 2821,518 2838,513" fill="#ff9e4a"/><polygon points="2776,521 2759,527 2782,525 2798,518" fill="#ffae59"/><polygon points="2737,533 2720,541 2742,536 2759,527" fill="#ffc366"/><polygon points="2698,548 2681,558 2703,550 2720,541" fill="#ffdb6f"/><polygon points="2659,568 2642,579 2663,569 2681,558" fill="#fff876"/><polygon points="2621,592 2603,604 2624,592 2642,579" fill="#e6ff7b"/><polygon points="2583,619 2565,633 2586,618 2603,604" fill="#c1ff7f"/><polygon points="2545,650 2528,665 2548,648 2565,633" fill="#96ff81"/><polygon points="2993,532 2978,532 3001,546 3016,546" fill="#ebc112"/><polygon points="2916,515 2900,517 2923,525 2939,523" fill="#ff8817"/><polygon points="2798,518 2782,525 2805,525 2821,518" fill="#ff9452"/><polygon points="2759,527 2742,536 2765,533 2782,525" fill="#ffa761"/><polygon points="2642,579 2624,592 2646,582 2663,569" fill="#fff57b"/><polygon points="2565,633 2548,648 2568,634 2586,618" fill="#c0ff82"/><polygon points="3030,547 3016,546 3039,562 3053,563" fill="#d8e012"/><polygon points="2954,522 2939,523 2962,534 2978,532" fill="#f6a113"/><polygon points="2877,512 2861,516 2884,521 2900,517" fill="#ff812d"/><polygon points="2838,513 2821,518 2844,521 2861,516" fill="#ff8641"/><polygon points="2720,541 2703,550 2725,545 2742,536" fill="#ffbe6c"/><polygon points="2681,558 2663,569 2685,562 2703,550" fill="#ffd875"/><polygon points="2603,604 2586,618 2607,606 2624,592" fill="#e7ff7f"/><polygon points="2528,665 2510,682 2530,665 2548,648" fill="#95ff84"/><polygon points="3053,563 3039,562 3062,581 3076,582" fill="#bdda11"/><polygon points="3016,546 3001,546 3024,562 3039,562" fill="#e4c912"/><polygon points="2978,532 2962,534 2985,547 3001,546" fill="#eea313"/><polygon points="2939,523 2923,525 2946,536 2962,534" fill="#f98314"/><polygon points="2900,517 2884,521 2907,529 2923,525" fill="#ff721f"/><polygon points="2861,516 2844,521 2867,527 2884,521" fill="#ff7135"/><polygon points="2821,518 2805,525 2828,528 2844,521" fill="#ff7c49"/><polygon points="2782,525 2765,533 2788,533 2805,525" fill="#ff8d5a"/><polygon points="2742,536 2725,545 2748,543 2765,533" fill="#ffa367"/><polygon points="2703,550 2685,562 2708,556 2725,545" fill="#ffbc72"/><polygon points="2663,569 2646,582 2668,574 2685,562" fill="#ffd77a"/><polygon points="2624,592 2607,606 2628,596 2646,582" fill="#fff680"/><polygon points="2586,618 2568,634 2589,621 2607,606" fill="#e5ff83"/><polygon points="2548,648 2530,665 2551,651 2568,634" fill="#beff86"/><polygon points="2510,682 2493,700 2513,684 2530,665" fill="#91ff87"/><polygon points="3076,582 3062,581 3084,602 3099,603" fill="#9fd311"/><polygon points="3039,562 3024,562 3047,581 3062,581" fill="#dcd711"/><polygon points="2962,534 2946,536 2970,550 2985,547" fill="#f28713"/><polygon points="2884,521 2867,527 2891,535 2907,529" fill="#ff6127"/><polygon points="2685,562 2668,574 2690,569 2708,556" fill="#ffbc78"/><polygon points="2607,606 2589,621 2611,611 2628,596" fill="#fff984"/><polygon points="2530,665 2513,684 2533,669 2551,651" fill="#baff89"/><polygon points="2493,700 2475,720 2495,703 2513,684" fill="#8cff8a"/><polygon points="3001,546 2985,547 3009,563 3024,562" fill="#e7ac12"/><polygon points="2923,525 2907,529 2931,540 2946,536" fill="#fd6a14"/><polygon points="2844,521 2828,528 2851,534 2867,527" fill="#ff673d"/><polygon points="2805,525 2788,533 2811,536 2828,528" fill="#ff7650"/><polygon points="2765,533 2748,543 2770,543 2788,533" fill="#ff8a61"/><polygon points="2725,545 2708,556 2730,554 2748,543" fill="#ffa26e"/><polygon points="2646,582 2628,596 2650,588 2668,574" fill="#ffd97f"/><polygon points="2568,634 2551,651 2571,638 2589,621" fill="#e2ff87"/><polygon points="3062,581 3047,581 3070,602 3084,602" fill="#c1d511"/><polygon points="2513,684 2495,703 2515,689 2533,669" fill="#b3ff8b"/><polygon points="3099,603 3084,602 3107,626 3121,627" fill="#7bcd10"/><polygon points="3024,562 3009,563 3032,583 3047,581" fill="#dfba12"/><polygon points="2985,547 2970,550 2993,566 3009,563" fill="#ea9012"/><polygon points="2946,536 2931,540 2954,554 2970,550" fill="#f56e13"/><polygon points="2907,529 2891,535 2914,546 2931,540" fill="#ff5618"/><polygon points="2867,527 2851,534 2874,542 2891,535" fill="#ff552f"/><polygon points="2828,528 2811,536 2834,542 2851,534" fill="#ff6045"/><polygon points="2788,533 2770,543 2794,546 2811,536" fill="#ff7358"/><polygon points="2748,543 2730,554 2753,554 2770,543" fill="#ff8a68"/><polygon points="2708,556 2690,569 2713,567 2730,554" fill="#ffa374"/><polygon points="2668,574 2650,588 2672,583 2690,569" fill="#ffbf7d"/><polygon points="2628,596 2611,611 2632,604 2650,588" fill="#ffdc83"/><polygon points="2589,621 2571,638 2593,628 2611,611" fill="#fffc88"/><polygon points="2551,651 2533,669 2554,657 2571,638" fill="#ddff8a"/><polygon points="2475,720 2457,741 2477,725 2495,703" fill="#8cff94"/><polygon points="3121,627 3107,626 3130,653 3144,653" fill="#54c710"/><polygon points="3084,602 3070,602 3093,627 3107,626" fill="#9ccf10"/><polygon points="3047,581 3032,583 3055,604 3070,602" fill="#d8ce11"/><polygon points="3009,563 2993,566 3017,586 3032,583" fill="#e2a012"/><polygon points="2970,550 2954,554 2977,571 2993,566" fill="#ed7913"/><polygon points="2931,540 2914,546 2938,560 2954,554" fill="#f95814"/><polygon points="2891,535 2874,542 2898,553 2914,546" fill="#ff481f"/><polygon points="2851,534 2834,542 2858,550 2874,542" fill="#ff4e37"/><polygon points="2811,536 2794,546 2817,552 2834,542" fill="#ff5d4c"/><polygon points="2770,543 2753,554 2776,558 2794,546" fill="#ff745f"/><polygon points="2730,554 2713,567 2736,567 2753,554" fill="#ff8c6e"/><polygon points="2690,569 2672,583 2695,581 2713,567" fill="#ffa779"/><polygon points="2650,588 2632,604 2655,599 2672,583" fill="#ffc382"/><polygon points="2611,611 2593,628 2615,621 2632,604" fill="#ffe187"/><polygon points="2571,638 2554,657 2575,647 2593,628" fill="#fcff8b"/><polygon points="2533,669 2515,689 2536,677 2554,657" fill="#d6ff8d"/><polygon points="2495,703 2477,725 2497,710 2515,689" fill="#abff8e"/><polygon points="2457,741 2440,764 2459,747 2477,725" fill="#8effa2"/><polygon points="3107,626 3093,627 3115,654 3130,653" fill="#73c910"/><polygon points="3032,583 3017,586 3040,608 3055,604" fill="#dbb611"/><polygon points="2993,566 2977,571 3001,590 3017,586" fill="#e58a12"/><polygon points="2914,546 2898,553 2922,567 2938,560" fill="#fc4614"/><polygon points="2874,542 2858,550 2881,562 2898,553" fill="#ff4027"/><polygon points="2834,542 2817,552 2841,560 2858,550" fill="#ff4b3e"/><polygon points="2753,554 2736,567 2759,570 2776,558" fill="#ff7665"/><polygon points="2713,567 2695,581 2718,582 2736,567" fill="#ff9173"/><polygon points="2672,583 2655,599 2677,597 2695,581" fill="#ffac7e"/><polygon points="2593,628 2575,647 2597,640 2615,621" fill="#ffe88b"/><polygon points="2554,657 2536,677 2557,667 2575,647" fill="#f4ff8e"/><polygon points="2477,725 2459,747 2479,733 2497,710" fill="#a1ff90"/><polygon points="3144,653 3130,653 3152,682 3166,682" fill="#28c20f"/><polygon points="3070,602 3055,604 3078,629 3093,627" fill="#bbd110"/><polygon points="2954,554 2938,560 2962,577 2977,571" fill="#f16413"/><polygon points="2794,546 2776,558 2800,563 2817,552" fill="#ff5e53"/><polygon points="2632,604 2615,621 2637,616 2655,599" fill="#ffc986"/><polygon points="2515,689 2497,710 2518,698 2536,677" fill="#cdff8f"/><polygon points="2440,764 2422,788 2441,771 2459,747" fill="#8fffb0"/><polygon points="3017,586 3001,590 3024,612 3040,608" fill="#de9f11"/><polygon points="2898,553 2881,562 2905,576 2922,567" fill="#ff3816"/><polygon points="2695,581 2677,597 2700,598 2718,582" fill="#ff9778"/><polygon points="2575,647 2557,667 2579,660 2597,640" fill="#fff18d"/><polygon points="3166,682 3152,682 3174,714 3188,714" fill="#0fbd25"/><polygon points="3130,653 3115,654 3138,683 3152,682" fill="#47c40f"/><polygon points="3093,627 3078,629 3101,656 3115,654" fill="#91cb10"/><polygon points="3055,604 3040,608 3063,632 3078,629" fill="#d4cf11"/><polygon points="2977,571 2962,577 2985,596 3001,590" fill="#e87612"/><polygon points="2938,560 2922,567 2945,584 2962,577" fill="#f45213"/><polygon points="2858,550 2841,560 2864,572 2881,562" fill="#ff3c2e"/><polygon points="2817,552 2800,563 2823,572 2841,560" fill="#ff4b45"/><polygon points="2776,558 2759,570 2782,576 2800,563" fill="#ff625a"/><polygon points="2736,567 2718,582 2741,585 2759,570" fill="#ff7b6b"/><polygon points="2655,599 2637,616 2659,614 2677,597" fill="#ffb382"/><polygon points="2615,621 2597,640 2619,635 2637,616" fill="#ffd189"/><polygon points="2536,677 2518,698 2539,689 2557,667" fill="#ebff90"/><polygon points="2497,710 2479,733 2500,721 2518,698" fill="#c3ff91"/><polygon points="2459,747 2441,771 2461,757 2479,733" fill="#96ff91"/><polygon points="2422,788 2404,813 2424,797 2441,771" fill="#91ffc0"/><polygon points="3188,714 3174,714 3196,748 3209,748" fill="#0eb956"/><polygon points="3152,682 3138,683 3160,715 3174,714" fill="#17bf0f"/><polygon points="3078,629 3063,632 3086,659 3101,656" fill="#acce10"/><polygon points="3001,590 2985,596 3009,618 3024,612" fill="#e08d12"/><polygon points="2962,577 2945,584 2969,604 2985,596" fill="#eb6612"/><polygon points="2881,562 2864,572 2888,586 2905,576" fill="#ff321d"/><polygon points="2800,563 2782,576 2806,585 2823,572" fill="#ff4e4c"/><polygon points="2718,582 2700,598 2724,601 2741,585" fill="#ff8370"/><polygon points="2637,616 2619,635 2641,633 2659,614" fill="#ffbb86"/><polygon points="2597,640 2579,660 2601,656 2619,635" fill="#ffda8c"/><polygon points="2518,698 2500,721 2521,712 2539,689" fill="#e0ff92"/><polygon points="2441,771 2424,797 2443,783 2461,757" fill="#92ff9d"/><polygon points="2404,813 2387,840 2406,824 2424,797" fill="#92ffd1"/><polygon points="3115,654 3101,656 3124,685 3138,683" fill="#63c610"/><polygon points="3040,608 3024,612 3048,637 3063,632" fill="#d6bb11"/><polygon points="2922,567 2905,576 2929,593 2945,584" fill="#f74413"/><polygon points="2841,560 2823,572 2847,584 2864,572" fill="#ff3b35"/><polygon points="2759,570 2741,585 2765,591 2782,576" fill="#ff6760"/><polygon points="2677,597 2659,614 2682,615 2700,598" fill="#ff9f7d"/><polygon points="2557,667 2539,689 2561,682 2579,660" fill="#fffa90"/><polygon points="2479,733 2461,757 2482,746 2500,721" fill="#b7ff93"/><polygon points="3174,714 3160,715 3182,749 3196,748" fill="#0fba3a"/><polygon points="2985,596 2969,604 2993,626 3009,618" fill="#e37d12"/><polygon points="2619,635 2601,656 2623,654 2641,633" fill="#ffc589"/><polygon points="2424,797 2406,824 2426,811 2443,783" fill="#93ffae"/><polygon points="3209,748 3196,748 3218,784 3231,784" fill="#0eb58a"/><polygon points="3138,683 3124,685 3146,718 3160,715" fill="#32c10f"/><polygon points="3101,656 3086,659 3109,689 3124,685" fill="#7dc810"/><polygon points="3063,632 3048,637 3071,664 3086,659" fill="#c5d010"/><polygon points="3024,612 3009,618 3032,643 3048,637" fill="#d9a811"/><polygon points="2945,584 2929,593 2953,612 2969,604" fill="#ee5713"/><polygon points="2905,576 2888,586 2912,603 2929,593" fill="#fa3914"/><polygon points="2864,572 2847,584 2871,598 2888,586" fill="#ff3224"/><polygon points="2823,572 2806,585 2830,597 2847,584" fill="#ff3e3c"/><polygon points="2782,576 2765,591 2789,600 2806,585" fill="#ff5452"/><polygon points="2741,585 2724,601 2747,607 2765,591" fill="#ff6f65"/><polygon points="2700,598 2682,615 2706,619 2724,601" fill="#ff8b75"/><polygon points="2659,614 2641,633 2664,634 2682,615" fill="#ffa881"/><polygon points="2579,660 2561,682 2583,678 2601,656" fill="#ffe48e"/><polygon points="2539,689 2521,712 2542,705 2561,682" fill="#f9ff92"/><polygon points="2500,721 2482,746 2503,737 2521,712" fill="#d3ff93"/><polygon points="2461,757 2443,783 2464,772 2482,746" fill="#a9ff94"/><polygon points="2387,840 2369,868 2388,853 2406,824" fill="#93ffe3"/><polygon points="3196,748 3182,749 3204,786 3218,784" fill="#0eb670"/><polygon points="3160,715 3146,718 3168,752 3182,749" fill="#0fbc20"/><polygon points="3124,685 3109,689 3132,722 3146,718" fill="#4cc20f"/><polygon points="3086,659 3071,664 3094,694 3109,689" fill="#95ca10"/><polygon points="3048,637 3032,643 3056,671 3071,664" fill="#d2ca10"/><polygon points="3009,618 2993,626 3016,651 3032,643" fill="#dc9a11"/><polygon points="2969,604 2953,612 2977,635 2993,626" fill="#e67012"/><polygon points="2929,593 2912,603 2936,623 2953,612" fill="#f24d13"/><polygon points="2888,586 2871,598 2895,615 2912,603" fill="#fe3314"/><polygon points="2847,584 2830,597 2854,611 2871,598" fill="#ff342a"/><polygon points="2806,585 2789,600 2813,611 2830,597" fill="#ff4442"/><polygon points="2765,591 2747,607 2771,616 2789,600" fill="#ff5d58"/><polygon points="2724,601 2706,619 2729,625 2747,607" fill="#ff786a"/><polygon points="2682,615 2664,634 2688,638 2706,619" fill="#ff9579"/><polygon points="2641,633 2623,654 2646,655 2664,634" fill="#ffb384"/><polygon points="2601,656 2583,678 2605,676 2623,654" fill="#ffd08b"/><polygon points="2561,682 2542,705 2564,701 2583,678" fill="#ffef90"/><polygon points="2521,712 2503,737 2524,730 2542,705" fill="#ecff93"/><polygon points="2482,746 2464,772 2485,763 2503,737" fill="#c5ff94"/><polygon points="2443,783 2426,811 2446,799 2464,772" fill="#99ff95"/><polygon points="2406,824 2388,853 2408,839 2426,811" fill="#94ffc1"/><polygon points="3182,749 3168,752 3190,789 3204,786" fill="#0eb857"/><polygon points="3146,718 3132,722 3154,757 3168,752" fill="#16be0f"/><polygon points="3109,689 3094,694 3117,727 3132,722" fill="#61c40f"/><polygon points="3071,664 3056,671 3079,701 3094,694" fill="#aacc10"/><polygon points="3032,643 3016,651 3040,679 3056,671" fill="#d5bc11"/><polygon points="2993,626 2977,635 3000,660 3016,651" fill="#de8e11"/><polygon points="2953,612 2936,623 2960,646 2977,635" fill="#e96612"/><polygon points="2912,603 2895,615 2919,635 2936,623" fill="#f44713"/><polygon points="2871,598 2854,611 2878,628 2895,615" fill="#ff3117"/><polygon points="2830,597 2813,611 2837,626 2854,611" fill="#ff3a30"/><polygon points="2789,600 2771,616 2795,628 2813,611" fill="#ff4d47"/><polygon points="2747,607 2729,625 2753,634 2771,616" fill="#ff675c"/><polygon points="2706,619 2688,638 2711,644 2729,625" fill="#ff836e"/><polygon points="2664,634 2646,655 2669,658 2688,638" fill="#ffa17c"/><polygon points="2623,654 2605,676 2628,677 2646,655" fill="#ffbe86"/><polygon points="2583,678 2564,701 2587,700 2605,676" fill="#ffdc8d"/><polygon points="2542,705 2524,730 2546,726 2564,701" fill="#fffc91"/><polygon points="2503,737 2485,763 2506,757 2524,730" fill="#deff94"/><polygon points="2464,772 2446,799 2467,791 2485,763" fill="#b5ff95"/><polygon points="2426,811 2408,839 2428,828 2446,799" fill="#95ffa2"/><polygon points="3168,752 3154,757 3176,794 3190,789" fill="#0fba40"/><polygon points="3132,722 3117,727 3140,762 3154,757" fill="#2bc00f"/><polygon points="3094,694 3079,701 3102,734 3117,727" fill="#75c610"/><polygon points="3056,671 3040,679 3063,709 3079,701" fill="#bcce10"/><polygon points="3016,651 3000,660 3024,688 3040,679" fill="#d7b011"/><polygon points="2977,635 2960,646 2984,671 3000,660" fill="#e18512"/><polygon points="2936,623 2919,635 2943,658 2960,646" fill="#ec6012"/><polygon points="2895,615 2878,628 2902,649 2919,635" fill="#f74313"/><polygon points="2854,611 2837,626 2861,643 2878,628" fill="#ff361d"/><polygon points="2813,611 2795,628 2819,642 2837,626" fill="#ff4235"/><polygon points="2771,616 2753,634 2777,646 2795,628" fill="#ff584c"/><polygon points="2729,625 2711,644 2735,653 2753,634" fill="#ff7361"/><polygon points="2688,638 2669,658 2693,665 2711,644" fill="#ff9071"/><polygon points="2646,655 2628,677 2651,681 2669,658" fill="#ffad7e"/><polygon points="2605,676 2587,700 2610,701 2628,677" fill="#ffcb88"/><polygon points="2564,701 2546,726 2569,725 2587,700" fill="#ffea8e"/><polygon points="2524,730 2506,757 2528,753 2546,726" fill="#f2ff92"/><polygon points="2485,763 2467,791 2488,784 2506,757" fill="#ceff94"/><polygon points="2446,799 2428,828 2449,820 2467,791" fill="#a4ff95"/><polygon points="3117,727 3102,734 3125,769 3140,762" fill="#3dc10f"/><polygon points="3079,701 3063,709 3087,742 3102,734" fill="#86c910"/><polygon points="3000,660 2984,671 3008,699 3024,688" fill="#d9a811"/><polygon points="2919,635 2902,649 2926,671 2943,658" fill="#ee5e13"/><polygon points="2878,628 2861,643 2885,664 2902,649" fill="#fa4414"/><polygon points="2837,626 2819,642 2843,660 2861,643" fill="#ff4023"/><polygon points="2795,628 2777,646 2801,661 2819,642" fill="#ff4d3b"/><polygon points="2753,634 2735,653 2759,665 2777,646" fill="#ff6551"/><polygon points="2711,644 2693,665 2717,674 2735,653" fill="#ff8064"/><polygon points="2628,677 2610,701 2633,705 2651,681" fill="#ffbb80"/><polygon points="2546,726 2528,753 2550,751 2569,725" fill="#fff98f"/><polygon points="2506,757 2488,784 2510,781 2528,753" fill="#e2ff93"/><polygon points="3154,757 3140,762 3162,800 3176,794" fill="#0fbb2d"/><polygon points="3040,679 3024,688 3048,719 3063,709" fill="#cbd010"/><polygon points="2960,646 2943,658 2967,683 2984,671" fill="#e48012"/><polygon points="2669,658 2651,681 2675,687 2693,665" fill="#ff9d74"/><polygon points="2587,700 2569,725 2591,726 2610,701" fill="#ffd989"/><polygon points="2467,791 2449,820 2470,814 2488,784" fill="#bcff94"/><polygon points="3102,734 3087,742 3109,778 3125,769" fill="#4dc30f"/><polygon points="2902,649 2885,664 2909,687 2926,671" fill="#f15f13"/><polygon points="2861,643 2843,660 2868,680 2885,664" fill="#fd4914"/><polygon points="2777,646 2759,665 2783,680 2801,661" fill="#ff5b3f"/><polygon points="2735,653 2717,674 2741,686 2759,665" fill="#ff7454"/><polygon points="2528,753 2510,781 2532,780 2550,751" fill="#f4ff8f"/><polygon points="3140,762 3125,769 3147,807 3162,800" fill="#0fbd1b"/><polygon points="3063,709 3048,719 3071,752 3087,742" fill="#94cb10"/><polygon points="3024,688 3008,699 3032,730 3048,719" fill="#d3cf11"/><polygon points="2984,671 2967,683 2991,712 3008,699" fill="#dca311"/><polygon points="2943,658 2926,671 2951,697 2967,683" fill="#e67d12"/><polygon points="2819,642 2801,661 2826,678 2843,660" fill="#ff4a28"/><polygon points="2693,665 2675,687 2699,697 2717,674" fill="#ff9067"/><polygon points="2651,681 2633,705 2657,711 2675,687" fill="#ffad76"/><polygon points="2610,701 2591,726 2615,730 2633,705" fill="#ffcb81"/><polygon points="2569,725 2550,751 2573,753 2591,726" fill="#ffea8a"/><polygon points="2488,784 2470,814 2492,810 2510,781" fill="#d0ff92"/><polygon points="2885,664 2868,680 2892,704 2909,687" fill="#f46313"/><polygon points="2759,665 2741,686 2765,701 2783,680" fill="#ff6c43"/><polygon points="3125,769 3109,778 3132,816 3147,807" fill="#12bf0f"/><polygon points="3087,742 3071,752 3094,788 3109,778" fill="#5bc50f"/><polygon points="3048,719 3032,730 3055,763 3071,752" fill="#9fcd10"/><polygon points="3008,699 2991,712 3015,743 3032,730" fill="#d5cb11"/><polygon points="2967,683 2951,697 2975,726 2991,712" fill="#dea111"/><polygon points="2926,671 2909,687 2934,713 2951,697" fill="#e97f12"/><polygon points="2843,660 2826,678 2850,699 2868,680" fill="#ff5114"/><polygon points="2801,661 2783,680 2808,698 2826,678" fill="#ff592c"/><polygon points="2717,674 2699,697 2723,709 2741,686" fill="#ff8457"/><polygon points="2675,687 2657,711 2680,721 2699,697" fill="#ffa169"/><polygon points="2633,705 2615,730 2638,737 2657,711" fill="#ffbe77"/><polygon points="2591,726 2573,753 2596,757 2615,730" fill="#ffdc82"/><polygon points="2550,751 2532,780 2555,781 2573,753" fill="#fffc8a"/><polygon points="2510,781 2492,810 2514,809 2532,780" fill="#e1ff8f"/><polygon points="3109,778 3094,788 3117,826 3132,816" fill="#1ec10f"/><polygon points="3071,752 3055,763 3078,799 3094,788" fill="#65c710"/><polygon points="3032,730 3015,743 3039,776 3055,763" fill="#a6cf10"/><polygon points="2991,712 2975,726 2999,757 3015,743" fill="#d7c911"/><polygon points="2951,697 2934,713 2958,741 2975,726" fill="#e1a312"/><polygon points="2909,687 2892,704 2916,730 2934,713" fill="#eb8412"/><polygon points="2868,680 2850,699 2875,722 2892,704" fill="#f66c13"/><polygon points="2826,678 2808,698 2832,719 2850,699" fill="#ff6019"/><polygon points="2783,680 2765,701 2790,719 2808,698" fill="#ff6a30"/><polygon points="2741,686 2723,709 2747,724 2765,701" fill="#ff7d46"/><polygon points="2699,697 2680,721 2705,733 2723,709" fill="#ff975a"/><polygon points="2657,711 2638,737 2662,747 2680,721" fill="#ffb36b"/><polygon points="2615,730 2596,757 2620,764 2638,737" fill="#ffd178"/><polygon points="2573,753 2555,781 2578,786 2596,757" fill="#ffef82"/><polygon points="2532,780 2514,809 2536,811 2555,781" fill="#efff8a"/><polygon points="3055,763 3039,776 3062,812 3078,799" fill="#6bc910"/><polygon points="3015,743 2999,757 3022,790 3039,776" fill="#acd110"/><polygon points="2934,713 2916,730 2941,758 2958,741" fill="#e3a812"/><polygon points="2850,699 2832,719 2857,742 2875,722" fill="#f87913"/><polygon points="2808,698 2790,719 2814,740 2832,719" fill="#ff741d"/><polygon points="2723,709 2705,733 2729,749 2747,724" fill="#ff9249"/><polygon points="2638,737 2620,764 2644,774 2662,747" fill="#ffc86c"/><polygon points="2596,757 2578,786 2601,793 2620,764" fill="#ffe578"/><polygon points="3094,788 3078,799 3101,838 3117,826" fill="#28c20f"/><polygon points="2975,726 2958,741 2982,772 2999,757" fill="#dacb11"/><polygon points="2892,704 2875,722 2899,748 2916,730" fill="#ed8d13"/><polygon points="2765,701 2747,724 2772,742 2790,719" fill="#ff7e34"/><polygon points="2680,721 2662,747 2686,759 2705,733" fill="#ffab5c"/><polygon points="2555,781 2536,811 2559,816 2578,786" fill="#faff82"/><polygon points="3039,776 3022,790 3046,827 3062,812" fill="#70cb10"/><polygon points="2832,719 2814,740 2839,764 2857,742" fill="#fa8914"/><polygon points="2620,764 2601,793 2625,803 2644,774" fill="#ffde6c"/><polygon points="3078,799 3062,812 3086,851 3101,838" fill="#2ec40f"/><polygon points="2999,757 2982,772 3006,806 3022,790" fill="#aed311"/><polygon points="2958,741 2941,758 2965,790 2982,772" fill="#dcd111"/><polygon points="2916,730 2899,748 2923,777 2941,758" fill="#e5b112"/><polygon points="2875,722 2857,742 2881,768 2899,748" fill="#f09913"/><polygon points="2790,719 2772,742 2796,763 2814,740" fill="#ff8821"/><polygon points="2747,724 2729,749 2753,767 2772,742" fill="#ff9537"/><polygon points="2705,733 2686,759 2711,775 2729,749" fill="#ffa94b"/><polygon points="2662,747 2644,774 2668,787 2686,759" fill="#ffc25d"/><polygon points="2578,786 2559,816 2583,823 2601,793" fill="#fffc78"/><polygon points="3062,812 3046,827 3069,866 3086,851" fill="#32c610"/><polygon points="3022,790 3006,806 3030,843 3046,827" fill="#72cd10"/><polygon points="2982,772 2965,790 2989,824 3006,806" fill="#abd511"/><polygon points="2941,758 2923,777 2948,808 2965,790" fill="#deda11"/><polygon points="2899,748 2881,768 2906,797 2923,777" fill="#e8be12"/><polygon points="2857,742 2839,764 2864,790 2881,768" fill="#f2aa13"/><polygon points="2814,740 2796,763 2821,787 2839,764" fill="#fc9e14"/><polygon points="2772,742 2753,767 2778,788 2796,763" fill="#ffa024"/><polygon points="2729,749 2711,775 2735,793 2753,767" fill="#ffad3a"/><polygon points="2686,759 2668,787 2692,802 2711,775" fill="#ffc24d"/><polygon points="2644,774 2625,803 2649,816 2668,787" fill="#ffdb5e"/><polygon points="2601,793 2583,823 2607,833 2625,803" fill="#fff76d"/><polygon points="3046,827 3030,843 3053,882 3069,866" fill="#32c810"/><polygon points="3006,806 2989,824 3013,860 3030,843" fill="#6fcf10"/><polygon points="2965,790 2948,808 2972,843 2989,824" fill="#a7d711"/><polygon points="2923,777 2906,797 2930,829 2948,808" fill="#dae012"/><polygon points="2881,768 2864,790 2888,819 2906,797" fill="#eace12"/><polygon points="2839,764 2821,787 2846,813 2864,790" fill="#f4bd13"/><polygon points="2796,763 2778,788 2803,811 2821,787" fill="#feb614"/><polygon points="2753,767 2735,793 2760,814 2778,788" fill="#ffba27"/><polygon points="2711,775 2692,802 2717,821 2735,793" fill="#ffc93c"/><polygon points="2668,787 2649,816 2674,831 2692,802" fill="#ffdd4f"/><polygon points="2625,803 2607,833 2631,846 2649,816" fill="#fff65f"/><polygon points="3030,843 3013,860 3037,899 3053,882" fill="#30ca10"/><polygon points="2989,824 2972,843 2996,879 3013,860" fill="#6ad110"/><polygon points="2948,808 2930,829 2955,863 2972,843" fill="#9fd911"/><polygon points="2906,797 2888,819 2913,851 2930,829" fill="#cee212"/><polygon points="2864,790 2846,813 2870,842 2888,819" fill="#ece212"/><polygon points="2821,787 2803,811 2828,838 2846,813" fill="#f6d613"/><polygon points="2778,788 2760,814 2785,838 2803,811" fill="#ffd415"/><polygon points="2735,793 2717,821 2742,842 2760,814" fill="#ffd92a"/><polygon points="2692,802 2674,831 2698,850 2717,821" fill="#ffe63e"/><polygon points="2649,816 2631,846 2655,862 2674,831" fill="#fffb50"/><polygon points="3013,860 2996,879 3020,918 3037,899" fill="#2acc10"/><polygon points="2972,843 2955,863 2979,900 2996,879" fill="#61d311"/><polygon points="2930,829 2913,851 2937,885 2955,863" fill="#92db11"/><polygon points="2888,819 2870,842 2895,874 2913,851" fill="#bee412"/><polygon points="2846,813 2828,838 2853,867 2870,842" fill="#e1ed13"/><polygon points="2803,811 2785,838 2810,864 2828,838" fill="#f7f113"/><polygon points="2760,814 2742,842 2766,866 2785,838" fill="#fff318"/><polygon points="2717,821 2698,850 2723,871 2742,842" fill="#fffa2c"/><polygon points="2674,831 2655,862 2680,881 2698,850" fill="#f7ff3f"/><polygon points="2996,879 2979,900 3003,939 3020,918" fill="#20ce10"/><polygon points="2955,863 2937,885 2962,922 2979,900" fill="#54d511"/><polygon points="2913,851 2895,874 2920,909 2937,885" fill="#82dd11"/><polygon points="2870,842 2853,867 2877,899 2895,874" fill="#aae612"/><polygon points="2828,838 2810,864 2834,894 2853,867" fill="#c9ef13"/><polygon points="2785,838 2766,866 2791,892 2810,864" fill="#def914"/><polygon points="2742,842 2723,871 2748,895 2766,866" fill="#e8ff1b"/><polygon points="2698,850 2680,881 2705,902 2723,871" fill="#e2ff2e"/><polygon points="2979,900 2962,922 2986,961 3003,939" fill="#14d010"/><polygon points="2937,885 2920,909 2944,946 2962,922" fill="#44d711"/><polygon points="2895,874 2877,899 2902,934 2920,909" fill="#6edf12"/><polygon points="2810,864 2791,892 2816,922 2834,894" fill="#acf113"/><polygon points="2766,866 2748,895 2773,922 2791,892" fill="#bcfa14"/><polygon points="2723,871 2705,902 2730,926 2748,895" fill="#c3ff1d"/><polygon points="2853,867 2834,894 2859,926 2877,899" fill="#91e812"/><polygon points="2920,909 2902,934 2926,971 2944,946" fill="#30d911"/><polygon points="2791,892 2773,922 2798,951 2816,922" fill="#8bf213"/><polygon points="2962,922 2944,946 2968,985 2986,961" fill="#10d21e"/><polygon points="2877,899 2859,926 2884,960 2902,934" fill="#57e112"/><polygon points="2834,894 2816,922 2841,954 2859,926" fill="#75ea12"/><polygon points="2748,895 2730,926 2755,953 2773,922" fill="#97fc14"/><polygon points="2944,946 2926,971 2951,1010 2968,985" fill="#11d333"/><polygon points="2902,934 2884,960 2909,997 2926,971" fill="#1adb11"/><polygon points="2859,926 2841,954 2866,988 2884,960" fill="#3be312"/><polygon points="2816,922 2798,951 2823,983 2841,954" fill="#55eb12"/><polygon points="2773,922 2755,953 2780,982 2798,951" fill="#66f413"/><polygon points="2884,960 2866,988 2891,1026 2909,997" fill="#11dc25"/><polygon points="2841,954 2823,983 2848,1018 2866,988" fill="#1ce412"/><polygon points="2926,971 2909,997 2933,1037 2951,1010" fill="#11d54a"/><polygon points="2798,951 2780,982 2805,1015 2823,983" fill="#31ed13"/><polygon points="2866,988 2848,1018 2873,1055 2891,1026" fill="#11de45"/><polygon points="2909,997 2891,1026 2915,1065 2933,1037" fill="#11d765"/><polygon points="2823,983 2805,1015 2830,1049 2848,1018" fill="#12e62d"/><polygon points="2891,1026 2873,1055 2897,1095 2915,1065" fill="#11d884"/><polygon points="2848,1018 2830,1049 2855,1087 2873,1055" fill="#12e068"/><polygon points="2873,1055 2855,1087 2879,1126 2897,1095" fill="#11daa7"/></g><circle cx="280.61" cy="58.51" r="1" fill="#c00"/><circle cx="236.93" cy="86.81" r="1" fill="#c00"/><circle cx="323.07" cy="78.38" r="1" fill="#c00"/><circle cx="287.93" cy="112.61" r="1" fill="#c00"/><text x="288" y="25.5" font-size="3.1" fill="#000" text-anchor="middle" font-weight="bold" textLength="14.1" lengthAdjust="spacingAndGlyphs">3D Surface</text><text x="222.49" y="85.44" font-size="2.6" fill="#000" text-anchor="middle" transform="rotate(-90 222.49 85.44)" textLength="19.78" lengthAdjust="spacingAndGlyphs">Microencapsulation rate</text><text x="250.74" y="133.47" font-size="2.6" fill="#000" text-anchor="middle" textLength="38.88" lengthAdjust="spacingAndGlyphs">B: Different ratio of NaHSO3 and sodium alginate</text><text x="302.87" y="124.27" font-size="2.6" fill="#000" textLength="29.16" lengthAdjust="spacingAndGlyphs">A: Different sodium alginate content</text><text x="248.88" y="116.46" font-size="1.7" fill="#333" text-anchor="end">0.1</text><text x="260.79" y="122.87" font-size="1.7" fill="#333" text-anchor="end">0.2</text><text x="273.18" y="129.54" font-size="1.7" fill="#333" text-anchor="end">0.3</text><text x="316.81" y="107.39" font-size="1.7" fill="#333">0.1</text><text x="310.38" y="114.04" font-size="1.7" fill="#333">0.2</text><text x="303.67" y="120.98" font-size="1.7" fill="#333">0.3</text><text x="296.67" y="128.21" font-size="1.7" fill="#333">0.4</text><text transform="translate(348.6 16.7) scale(.94 1)" class="L">C</text><text x="353.2" y="21.75" font-size="2.4" fill="#222" textLength="17.64" lengthAdjust="spacingAndGlyphs">Factor Coding: Actual</text><text x="353.2" y="27.25" font-size="2.4" fill="#000" font-weight="bold" textLength="21.16" lengthAdjust="spacingAndGlyphs">Microencapsulation rate</text><circle cx="355" cy="29.4" r="1" fill="#a00"/><text x="357" y="30.25" font-size="2.4" fill="#e33" textLength="11.05" lengthAdjust="spacingAndGlyphs">Design Points</text><text x="353.2" y="35.95" font-size="2.4" fill="#33f" textLength="2.7" lengthAdjust="spacingAndGlyphs">0.5</text><rect x="357.7" y="33.75" width="7.1" height="2.7" fill="url(#cbar)"/><text x="365.4" y="35.95" font-size="2.4" fill="#f33" textLength="3.6" lengthAdjust="spacingAndGlyphs">0.95</text><text x="353.2" y="38.65" font-size="2.4" fill="#222" textLength="5.1" lengthAdjust="spacingAndGlyphs">X1 = A</text><text x="353.2" y="41.45" font-size="2.4" fill="#222" textLength="5.1" lengthAdjust="spacingAndGlyphs">X2 = B</text><text x="353.2" y="47.45" font-size="2.4" fill="#000" font-weight="bold" textLength="12.6" lengthAdjust="spacingAndGlyphs">Actual Factors</text><text x="353.2" y="50.35" font-size="2.4" fill="#222" textLength="5.95" lengthAdjust="spacingAndGlyphs">A = 2.5</text><text x="353.2" y="53.05" font-size="2.4" fill="#222" textLength="4.25" lengthAdjust="spacingAndGlyphs">D = 5</text><rect x="408.7" y="25.9" width="99" height="98.7" fill="url(#rg2)"/><g clip-path="url(#cp2)" fill="none" stroke="#2a2a10" stroke-width="0.5"><ellipse cx="458.2" cy="75.5" rx="22.39" ry="22.39"/><ellipse cx="458.2" cy="75.5" rx="38.78" ry="38.78"/><ellipse cx="458.2" cy="75.5" rx="50.06" ry="50.06"/><ellipse cx="458.2" cy="75.5" rx="59.24" ry="59.24"/></g><rect x="408.7" y="25.9" width="99" height="98.7" fill="none" stroke="#aaa" stroke-width="0.3"/><rect x="415.4" y="32.65" width="2" height="1.3" fill="#ddd" stroke="#999" stroke-width="0.2"/><rect x="498.7" y="32.65" width="2" height="1.3" fill="#ddd" stroke="#999" stroke-width="0.2"/><rect x="492.5" y="39.75" width="2" height="1.3" fill="#ddd" stroke="#999" stroke-width="0.2"/><rect x="409.2" y="63.25" width="2" height="1.3" fill="#ddd" stroke="#999" stroke-width="0.2"/><rect x="453.4" y="96.45" width="2" height="1.3" fill="#ddd" stroke="#999" stroke-width="0.2"/><rect x="450" y="112.25" width="2" height="1.3" fill="#ddd" stroke="#999" stroke-width="0.2"/><rect x="493.9" y="108.05" width="2" height="1.3" fill="#ddd" stroke="#999" stroke-width="0.2"/><rect x="415.4" y="115.15" width="2" height="1.3" fill="#ddd" stroke="#999" stroke-width="0.2"/><rect x="498.7" y="116.25" width="2" height="1.3" fill="#ddd" stroke="#999" stroke-width="0.2"/><rect x="505.2" y="120.75" width="2" height="1.3" fill="#ddd" stroke="#999" stroke-width="0.2"/><rect x="409.2" y="120.75" width="2" height="1.3" fill="#ddd" stroke="#999" stroke-width="0.2"/><circle cx="408.7" cy="25.9" r="0.9" fill="#a00"/><circle cx="507.7" cy="25.9" r="0.9" fill="#a00"/><circle cx="408.7" cy="124.6" r="0.9" fill="#a00"/><circle cx="507.7" cy="124.6" r="0.9" fill="#a00"/><circle cx="458.2" cy="75.5" r="0.9" fill="#400"/><text x="458.2" y="24" font-size="3" fill="#000" text-anchor="middle" textLength="31.74" lengthAdjust="spacingAndGlyphs">Microencapsulation rate</text><line x1="408.7" y1="124.6" x2="408.7" y2="125.8" stroke="#999" stroke-width="0.3"/><text x="408.7" y="129.8" font-size="1.9" fill="#333" text-anchor="middle">0.0</text><line x1="433.45" y1="124.6" x2="433.45" y2="125.8" stroke="#999" stroke-width="0.3"/><text x="433.45" y="129.8" font-size="1.9" fill="#333" text-anchor="middle">0.1</text><line x1="458.2" y1="124.6" x2="458.2" y2="125.8" stroke="#999" stroke-width="0.3"/><text x="458.2" y="129.8" font-size="1.9" fill="#333" text-anchor="middle">0.2</text><line x1="482.95" y1="124.6" x2="482.95" y2="125.8" stroke="#999" stroke-width="0.3"/><text x="482.95" y="129.8" font-size="1.9" fill="#333" text-anchor="middle">0.3</text><line x1="507.7" y1="124.6" x2="507.7" y2="125.8" stroke="#999" stroke-width="0.3"/><text x="507.7" y="129.8" font-size="1.9" fill="#333" text-anchor="middle">0.4</text><line x1="407.5" y1="124.6" x2="408.7" y2="124.6" stroke="#999" stroke-width="0.3"/><text x="406.4" y="125.3" font-size="1.9" fill="#333" text-anchor="end">0.0</text><line x1="407.5" y1="104.86" x2="408.7" y2="104.86" stroke="#999" stroke-width="0.3"/><text x="406.4" y="105.56" font-size="1.9" fill="#333" text-anchor="end">0.1</text><line x1="407.5" y1="85.12" x2="408.7" y2="85.12" stroke="#999" stroke-width="0.3"/><text x="406.4" y="85.82" font-size="1.9" fill="#333" text-anchor="end">0.2</text><line x1="407.5" y1="65.38" x2="408.7" y2="65.38" stroke="#999" stroke-width="0.3"/><text x="406.4" y="66.08" font-size="1.9" fill="#333" text-anchor="end">0.3</text><line x1="407.5" y1="45.64" x2="408.7" y2="45.64" stroke="#999" stroke-width="0.3"/><text x="406.4" y="46.34" font-size="1.9" fill="#333" text-anchor="end">0.4</text><line x1="407.5" y1="25.9" x2="408.7" y2="25.9" stroke="#999" stroke-width="0.3"/><text x="406.4" y="26.6" font-size="1.9" fill="#333" text-anchor="end">0.5</text><text x="458.2" y="137.8" font-size="3" fill="#000" text-anchor="middle" textLength="50.76" lengthAdjust="spacingAndGlyphs">B: Different ratio of CaCl2 and sodium alginate</text><text x="393.7" y="75.25" font-size="3" fill="#000" text-anchor="middle" transform="rotate(-90 393.7 75.25)" textLength="72.6" lengthAdjust="spacingAndGlyphs">C: Different ratio of whey protein concentrate and sodium alginate</text><text transform="translate(513 16.7) scale(.94 1)" class="L">D</text><text x="519.3" y="20.65" font-size="2.4" fill="#222" textLength="17.64" lengthAdjust="spacingAndGlyphs">Factor Coding: Actual</text><text x="519.3" y="26.7" font-size="2.4" fill="#000" font-weight="bold" textLength="21.16" lengthAdjust="spacingAndGlyphs">Microencapsulation rate</text><text x="519.3" y="29.72" font-size="2.4" fill="#222" textLength="11.05" lengthAdjust="spacingAndGlyphs">Design Points</text><circle cx="521.6" cy="32" r="0.95" fill="#b00"/><text x="522.9" y="32.85" font-size="2.4" fill="#e33" textLength="12.48" lengthAdjust="spacingAndGlyphs">Above Surface</text><circle cx="521.6" cy="35.14" r="0.8" fill="none" stroke="#d66" stroke-width="0.35"/><text x="522.9" y="35.99" font-size="2.4" fill="#e55" textLength="12.48" lengthAdjust="spacingAndGlyphs">Below Surface</text><text x="519.3" y="39.23" font-size="2.4" fill="#33f" textLength="2.7" lengthAdjust="spacingAndGlyphs">0.5</text><rect x="523.8" y="37.03" width="7.1" height="2.7" fill="url(#cbar)"/><text x="531.5" y="39.23" font-size="2.4" fill="#f33" textLength="3.6" lengthAdjust="spacingAndGlyphs">0.95</text><text x="519.3" y="45.27" font-size="2.4" fill="#222" textLength="5.1" lengthAdjust="spacingAndGlyphs">X1 = A</text><text x="519.3" y="48.08" font-size="2.4" fill="#222" textLength="5.1" lengthAdjust="spacingAndGlyphs">X2 = B</text><text x="519.3" y="54.35" font-size="2.4" fill="#000" font-weight="bold" textLength="12.6" lengthAdjust="spacingAndGlyphs">Actual Factors</text><text x="519.3" y="57.37" font-size="2.4" fill="#222" textLength="4.25" lengthAdjust="spacingAndGlyphs">C = 1</text><text x="519.3" y="60.29" font-size="2.4" fill="#222" textLength="4.25" lengthAdjust="spacingAndGlyphs">D = 5</text><polygon points="616.42,79.42 578.07,111.25 573.25,60.53 615.81,30.65" fill="#fff"/><path d="M616.42 79.42L615.81 30.65M607.5 86.82L605.99 37.54M598.16 94.58L595.65 44.8M588.36 102.71L584.75 52.45M578.07 111.25L573.25 60.53M616.42 79.42L615.81 30.65M625.78 83.73L626.1 34.66M635.41 88.17L636.7 38.8M645.31 92.72L647.63 43.06M655.48 97.41L658.89 47.46M665.95 102.23L670.51 52M578.07 111.25L616.42 79.42L665.95 102.23M577.52 105.46L616.35 73.8L666.47 96.48M576.96 99.52L616.28 68.06L667 90.59M576.38 93.44L616.2 62.18L667.55 84.55M575.78 87.19L616.13 56.17L668.12 78.37M575.17 80.79L616.05 50.01L668.69 72.03M574.55 74.21L615.97 43.71L669.28 65.52M573.91 67.46L615.9 37.26L669.89 58.85M573.25 60.53L615.81 30.65L670.51 52" fill="none" stroke="#999" stroke-width="0.4"/><polygon points="616.42,79.42 578.07,111.25 629.91,139.05 665.95,102.23" fill="#616161"/><path d="M612.0 116.4 612.9 116.9 613.9 117.3 614.9 117.7 616.0 118.0 617.1 118.3 618.3 118.5 619.4 118.7 620.6 118.8 621.8 118.8 623.0 118.9 624.1 118.8 625.3 118.7 626.5 118.6 627.6 118.4 628.7 118.1 629.8 117.8 630.9 117.4 631.9 117.0 632.9 116.6 633.8 116.1 634.7 115.6 635.5 115.0 636.2 114.4 636.9 113.8 637.6 113.1 638.1 112.4 638.6 111.7 639.0 111.0 639.4 110.3 639.7 109.5 639.9 108.8 640.0 108.0 640.0 107.2 640.0 106.4 639.9 105.7 639.7 104.9 639.5 104.2 639.2 103.4 638.8 102.7 638.4 102.0 637.8 101.3 637.3 100.7 636.6 100.1 635.9 99.5 635.2 98.9 634.4 98.4 633.5 97.9 632.6 97.5 631.7 97.0 630.8 96.7 629.8 96.3 628.7 96.1 627.7 95.8 626.6 95.6 625.5 95.5 624.4 95.4 623.3 95.3 622.2 95.3 621.1 95.3 620.0 95.4 619.0 95.6 617.9 95.7 616.8 96.0 615.8 96.2 614.8 96.5 613.8 96.9 612.9 97.3 612.0 97.7 611.1 98.2 610.3 98.7 609.5 99.3 608.8 99.9 608.1 100.5 607.5 101.1 607.0 101.8 606.5 102.5 606.1 103.2 605.8 103.9 605.5 104.6 605.3 105.4 605.2 106.2 605.1 106.9 605.1 107.7 605.2 108.5 605.4 109.2 605.7 110.0 606.0 110.7 606.4 111.5 606.8 112.2 607.4 112.9 608.0 113.5 608.7 114.2 609.4 114.8 610.2 115.4 611.0 115.9 612.0 116.4" fill="none" stroke="#cc7600" stroke-width="0.5"/><path d="M606.6 121.4 608.0 122.1 609.5 122.7 611.1 123.3 612.7 123.8 614.4 124.2 616.1 124.5 617.8 124.8 619.6 125.0 621.4 125.1 623.1 125.1 624.9 125.0 626.7 124.9 628.4 124.6 630.2 124.3 631.9 123.9 633.5 123.5 635.1 122.9 636.6 122.3 638.1 121.6 639.4 120.9 640.7 120.1 642.0 119.2 643.1 118.3 644.1 117.3 645.0 116.4 645.9 115.3 646.6 114.2 647.2 113.2 647.7 112.0 648.1 110.9 648.3 109.8 648.5 108.6 648.5 107.5 648.5 106.3 648.3 105.2 648.0 104.1 647.6 103.0 647.1 101.9 646.5 100.8 645.9 99.8 645.1 98.8 644.2 97.9 643.2 97.0 642.2 96.1 641.1 95.3 639.9 94.5 638.7 93.8 637.3 93.2 636.0 92.6 634.6 92.0 633.1 91.6 631.6 91.1 630.1 90.8 628.5 90.5 626.9 90.3 625.3 90.1 623.7 90.1 622.1 90.1 620.5 90.1 618.9 90.2 617.3 90.4 615.7 90.7 614.2 91.0 612.6 91.4 611.2 91.8 609.7 92.4 608.3 92.9 607.0 93.6 605.7 94.2 604.5 95.0 603.4 95.8 602.3 96.6 601.3 97.5 600.4 98.5 599.6 99.4 598.9 100.4 598.2 101.5 597.7 102.6 597.3 103.6 597.0 104.8 596.7 105.9 596.6 107.0 596.6 108.2 596.8 109.3 597.0 110.5 597.3 111.6 597.8 112.7 598.3 113.8 599.0 114.9 599.8 116.0 600.7 117.0 601.7 118.0 602.8 118.9 603.9 119.8 605.2 120.6 606.6 121.4" fill="none" stroke="#93cc00" stroke-width="0.5"/><path d="M610.1 128.2 612.2 128.7 614.4 129.1 616.6 129.5 618.8 129.7 621.0 129.8 623.3 129.9 625.5 129.8 627.8 129.6 630.0 129.3 632.1 128.9 634.3 128.4 636.3 127.8 638.3 127.1 640.2 126.3 642.0 125.5 643.8 124.5M653.3 114.8 653.9 113.4 654.4 112.0 654.7 110.5 654.9 109.1 654.9 107.7 654.8 106.2 654.5 104.8 654.2 103.4 653.7 102.1 653.0 100.7 652.3 99.4 651.4 98.2 650.4 97.0 649.3 95.8 648.1 94.7 646.8 93.6M633.7 87.6 631.8 87.1 629.8 86.8 627.9 86.5 625.9 86.4 624.0 86.3 622.0 86.2 620.0 86.3 618.0 86.5 616.1 86.7 614.1 87.0 612.2 87.4 610.3 87.9 608.5 88.4 606.7 89.0 605.0 89.7 603.4 90.5M593.2 99.0 592.4 100.2 591.7 101.6 591.2 102.9 590.8 104.3 590.5 105.7 590.3 107.1 590.3 108.6 590.4 110.0 590.7 111.4 591.1 112.8 591.6 114.2 592.3 115.6 593.1 117.0 594.1 118.3 595.2 119.6 596.4 120.8" fill="none" stroke="#04cc00" stroke-width="0.5"/><path d="M620.8 133.9 623.4 133.9 626.1 133.8 628.7 133.6 631.3 133.3 633.8 132.8 636.3 132.2M660.2 107.8 660.0 106.2 659.7 104.5 659.3 102.9 658.7 101.3 657.9 99.8 657.0 98.3M624.2 83.1 621.9 83.1 619.6 83.2 617.3 83.4 615.1 83.6 612.8 84.0 610.6 84.4M585.2 105.5 585.0 107.2 585.0 108.9 585.1 110.5 585.4 112.2 585.8 113.9 586.4 115.5" fill="none" stroke="#00cc8a" stroke-width="0.5"/><line x1="576.52" y1="105.46" x2="577.52" y2="105.46" stroke="#888" stroke-width="0.3"/><text x="576.22" y="106.06" font-size="1.7" fill="#333" text-anchor="end" textLength="1.65" lengthAdjust="spacingAndGlyphs">0.2</text><line x1="575.96" y1="99.52" x2="576.96" y2="99.52" stroke="#888" stroke-width="0.3"/><text x="575.66" y="100.12" font-size="1.7" fill="#333" text-anchor="end" textLength="1.65" lengthAdjust="spacingAndGlyphs">0.3</text><line x1="575.38" y1="93.44" x2="576.38" y2="93.44" stroke="#888" stroke-width="0.3"/><text x="575.08" y="94.04" font-size="1.7" fill="#333" text-anchor="end" textLength="1.65" lengthAdjust="spacingAndGlyphs">0.4</text><line x1="574.78" y1="87.19" x2="575.78" y2="87.19" stroke="#888" stroke-width="0.3"/><text x="574.48" y="87.79" font-size="1.7" fill="#333" text-anchor="end" textLength="1.65" lengthAdjust="spacingAndGlyphs">0.5</text><line x1="574.17" y1="80.79" x2="575.17" y2="80.79" stroke="#888" stroke-width="0.3"/><text x="573.87" y="81.39" font-size="1.7" fill="#333" text-anchor="end" textLength="1.65" lengthAdjust="spacingAndGlyphs">0.6</text><line x1="573.55" y1="74.21" x2="574.55" y2="74.21" stroke="#888" stroke-width="0.3"/><text x="573.25" y="74.81" font-size="1.7" fill="#333" text-anchor="end" textLength="1.65" lengthAdjust="spacingAndGlyphs">0.7</text><line x1="572.91" y1="67.46" x2="573.91" y2="67.46" stroke="#888" stroke-width="0.3"/><text x="572.61" y="68.06" font-size="1.7" fill="#333" text-anchor="end" textLength="1.65" lengthAdjust="spacingAndGlyphs">0.8</text><line x1="572.25" y1="60.53" x2="573.25" y2="60.53" stroke="#888" stroke-width="0.3"/><text x="571.95" y="61.13" font-size="1.7" fill="#333" text-anchor="end" textLength="1.65" lengthAdjust="spacingAndGlyphs">0.9</text><g transform="scale(.1)" stroke="#000" stroke-opacity=".42" stroke-width="2.6" stroke-linejoin="round"><polygon points="6162,644 6146,632 6167,616 6184,628" fill="#1499ff"/><polygon points="6184,628 6167,616 6189,603 6206,615" fill="#14e0fd"/><polygon points="6146,632 6128,622 6150,606 6167,616" fill="#1ee3ff"/><polygon points="6206,615 6189,603 6211,591 6228,604" fill="#14fad6"/><polygon points="6167,616 6150,606 6172,592 6189,603" fill="#1affd4"/><polygon points="6128,622 6111,614 6133,598 6150,606" fill="#28ffdd"/><polygon points="6228,604 6211,591 6234,582 6250,595" fill="#13f79b"/><polygon points="6189,603 6172,592 6194,581 6211,591" fill="#15ff92"/><polygon points="6150,606 6133,598 6155,584 6172,592" fill="#24ff9a"/><polygon points="6111,614 6094,609 6115,593 6133,598" fill="#33ffac"/><polygon points="6250,595 6234,582 6257,576 6273,589" fill="#13f468"/><polygon points="6211,591 6194,581 6217,572 6234,582" fill="#14fd56"/><polygon points="6172,592 6155,584 6177,573 6194,581" fill="#20ff58"/><polygon points="6133,598 6115,593 6137,579 6155,584" fill="#2fff6a"/><polygon points="6094,609 6076,606 6098,590 6115,593" fill="#3dff87"/><polygon points="6273,589 6257,576 6280,572 6296,585" fill="#13f13d"/><polygon points="6194,581 6177,573 6200,564 6217,572" fill="#1aff1b"/><polygon points="6155,584 6137,579 6160,567 6177,573" fill="#2bff2c"/><polygon points="6076,606 6058,606 6080,589 6098,590" fill="#48ff6b"/><polygon points="6234,582 6217,572 6240,565 6257,576" fill="#14f923"/><polygon points="6115,593 6098,590 6120,576 6137,579" fill="#3aff48"/><polygon points="6296,585 6280,572 6303,570 6319,583" fill="#13ed1b"/><polygon points="6257,576 6240,565 6263,561 6280,572" fill="#2ff613"/><polygon points="6217,572 6200,564 6223,557 6240,565" fill="#46ff14"/><polygon points="6177,573 6160,567 6183,558 6200,564" fill="#5bff26"/><polygon points="6137,579 6120,576 6142,564 6160,567" fill="#61ff37"/><polygon points="6098,590 6080,589 6102,575 6120,576" fill="#5cff46"/><polygon points="6058,606 6040,608 6062,592 6080,589" fill="#53ff59"/><polygon points="6319,583 6303,570 6327,571 6343,584" fill="#26e912"/><polygon points="6280,572 6263,561 6287,559 6303,570" fill="#51f213"/><polygon points="6240,565 6223,557 6247,553 6263,561" fill="#71fc14"/><polygon points="6200,564 6183,558 6206,551 6223,557" fill="#88ff20"/><polygon points="6160,567 6142,564 6165,555 6183,558" fill="#91ff32"/><polygon points="6120,576 6102,575 6124,563 6142,564" fill="#8eff43"/><polygon points="6080,589 6062,592 6084,577 6102,575" fill="#81ff51"/><polygon points="6040,608 6022,613 6043,596 6062,592" fill="#6cff5d"/><polygon points="6343,584 6327,571 6351,575 6367,588" fill="#38e412"/><polygon points="6303,570 6287,559 6311,560 6327,571" fill="#6aee13"/><polygon points="6263,561 6247,553 6270,551 6287,559" fill="#93f813"/><polygon points="6223,557 6206,551 6229,547 6247,553" fill="#aeff19"/><polygon points="6183,558 6165,555 6188,548 6206,551" fill="#bcff2d"/><polygon points="6142,564 6124,563 6147,554 6165,555" fill="#bbff3f"/><polygon points="6102,575 6084,577 6106,565 6124,563" fill="#b1ff4e"/><polygon points="6062,592 6043,596 6065,582 6084,577" fill="#9dff5c"/><polygon points="6022,613 6003,620 6025,603 6043,596" fill="#83ff67"/><polygon points="6287,559 6270,551 6294,552 6311,560" fill="#acf413"/><polygon points="6247,553 6229,547 6253,545 6270,551" fill="#d0fe14"/><polygon points="6206,551 6188,548 6212,543 6229,547" fill="#e2ff26"/><polygon points="6165,555 6147,554 6171,547 6188,548" fill="#e5ff3a"/><polygon points="6124,563 6106,565 6129,556 6147,554" fill="#dcff4b"/><polygon points="6084,577 6065,582 6088,570 6106,565" fill="#caff5a"/><polygon points="6367,588 6351,575 6375,581 6390,594" fill="#44e012"/><polygon points="6327,571 6311,560 6335,564 6351,575" fill="#7ce912"/><polygon points="6043,596 6025,603 6047,589 6065,582" fill="#b2ff66"/><polygon points="6003,620 5985,630 6006,613 6025,603" fill="#93ff70"/><polygon points="6390,594 6375,581 6399,589 6414,603" fill="#49db11"/><polygon points="6270,551 6253,545 6277,546 6294,552" fill="#e9fa14"/><polygon points="6229,547 6212,543 6236,541 6253,545" fill="#fffa1f"/><polygon points="6188,548 6171,547 6194,542 6212,543" fill="#fff534"/><polygon points="6147,554 6129,556 6153,549 6171,547" fill="#fffb47"/><polygon points="6106,565 6088,570 6111,560 6129,556" fill="#f3ff58"/><polygon points="5985,630 5966,643 5988,626 6006,613" fill="#9eff78"/><polygon points="6351,575 6335,564 6359,570 6375,581" fill="#87e512"/><polygon points="6311,560 6294,552 6318,555 6335,564" fill="#bdef13"/><polygon points="6065,582 6047,589 6070,577 6088,570" fill="#dcff65"/><polygon points="6025,603 6006,613 6029,599 6047,589" fill="#c0ff70"/><polygon points="6414,603 6399,589 6423,601 6438,614" fill="#47d611"/><polygon points="6375,581 6359,570 6383,579 6399,589" fill="#8ae012"/><polygon points="6335,564 6318,555 6342,561 6359,570" fill="#c6ea12"/><polygon points="6294,552 6277,546 6301,549 6318,555" fill="#f5f013"/><polygon points="6253,545 6236,541 6260,542 6277,546" fill="#ffdd16"/><polygon points="6212,543 6194,542 6218,541 6236,541" fill="#ffd32d"/><polygon points="6171,547 6153,549 6176,544 6194,542" fill="#ffd842"/><polygon points="6129,556 6111,560 6134,553 6153,549" fill="#ffe654"/><polygon points="6088,570 6070,577 6093,567 6111,560" fill="#fffc64"/><polygon points="6047,589 6029,599 6051,587 6070,577" fill="#e7ff70"/><polygon points="6006,613 5988,626 6010,612 6029,599" fill="#c7ff79"/><polygon points="5966,643 5948,658 5969,641 5988,626" fill="#a3ff80"/><polygon points="6438,614 6423,601 6447,615 6462,628" fill="#3fd110"/><polygon points="6399,589 6383,579 6407,590 6423,601" fill="#86da11"/><polygon points="6359,570 6342,561 6367,570 6383,579" fill="#c9e512"/><polygon points="6318,555 6301,549 6326,555 6342,561" fill="#f0de13"/><polygon points="6277,546 6260,542 6284,546 6301,549" fill="#fbc414"/><polygon points="6236,541 6218,541 6242,541 6260,542" fill="#ffb624"/><polygon points="6194,542 6176,544 6200,542 6218,541" fill="#ffb73b"/><polygon points="6153,549 6134,553 6158,549 6176,544" fill="#ffc54f"/><polygon points="6111,560 6093,567 6116,560 6134,553" fill="#ffd961"/><polygon points="6070,577 6051,587 6074,577 6093,567" fill="#fff36f"/><polygon points="6029,599 6010,612 6032,600 6051,587" fill="#edff79"/><polygon points="5988,626 5969,641 5991,627 6010,612" fill="#caff81"/><polygon points="5948,658 5929,676 5951,659 5969,641" fill="#a3ff86"/><polygon points="6423,601 6407,590 6432,604 6447,615" fill="#7ed511"/><polygon points="6342,561 6326,555 6350,564 6367,570" fill="#ead112"/><polygon points="6218,541 6200,542 6224,543 6242,541" fill="#ff9c33"/><polygon points="6176,544 6158,549 6182,547 6200,542" fill="#ffa749"/><polygon points="6051,587 6032,600 6055,590 6074,577" fill="#fff079"/><polygon points="5969,641 5951,659 5972,645 5991,627" fill="#caff87"/><polygon points="6462,628 6447,615 6471,631 6486,644" fill="#32cc10"/><polygon points="6383,579 6367,570 6391,582 6407,590" fill="#c4df12"/><polygon points="6301,549 6284,546 6309,552 6326,555" fill="#f6b213"/><polygon points="6260,542 6242,541 6267,545 6284,546" fill="#ff9f1b"/><polygon points="6134,553 6116,560 6140,556 6158,549" fill="#ffbb5d"/><polygon points="6093,567 6074,577 6097,570 6116,560" fill="#ffd36d"/><polygon points="6010,612 5991,627 6014,615 6032,600" fill="#eeff81"/><polygon points="5929,676 5911,697 5932,680 5951,659" fill="#a0ff8b"/><polygon points="6486,644 6471,631 6495,651 6510,664" fill="#21c710"/><polygon points="6447,615 6432,604 6456,621 6471,631" fill="#6fd010"/><polygon points="6407,590 6391,582 6416,596 6432,604" fill="#b8da11"/><polygon points="6367,570 6350,564 6375,576 6391,582" fill="#e4cc12"/><polygon points="6326,555 6309,552 6333,561 6350,564" fill="#f0a713"/><polygon points="6284,546 6267,545 6291,551 6309,552" fill="#fd8c14"/><polygon points="6242,541 6224,543 6249,547 6267,545" fill="#ff8329"/><polygon points="6200,542 6182,547 6206,548 6224,543" fill="#ff8b42"/><polygon points="6158,549 6140,556 6164,554 6182,547" fill="#ff9e57"/><polygon points="6116,560 6097,570 6121,566 6140,556" fill="#ffb669"/><polygon points="6074,577 6055,590 6079,583 6097,570" fill="#ffd277"/><polygon points="6032,600 6014,615 6037,606 6055,590" fill="#fff181"/><polygon points="5991,627 5972,645 5995,633 6014,615" fill="#ebff88"/><polygon points="5951,659 5932,680 5954,666 5972,645" fill="#c5ff8c"/><polygon points="5911,697 5892,720 5913,704 5932,680" fill="#99ff8f"/><polygon points="6510,664 6495,651 6519,673 6534,685" fill="#0fc316"/><polygon points="6471,631 6456,621 6480,640 6495,651" fill="#5bcb10"/><polygon points="6391,582 6375,576 6399,590 6416,596" fill="#dfce11"/><polygon points="6309,552 6291,551 6316,560 6333,561" fill="#f78213"/><polygon points="6097,570 6079,583 6102,579 6121,566" fill="#ffb874"/><polygon points="6014,615 5995,633 6018,624 6037,606" fill="#fff588"/><polygon points="5932,680 5913,704 5935,690 5954,666" fill="#bdff90"/><polygon points="5892,720 5874,746 5895,730 5913,704" fill="#92ff96"/><polygon points="6432,604 6416,596 6440,613 6456,621" fill="#a8d411"/><polygon points="6350,564 6333,561 6358,573 6375,576" fill="#eaa312"/><polygon points="6267,545 6249,547 6274,553 6291,551" fill="#ff6e1e"/><polygon points="6224,543 6206,548 6231,551 6249,547" fill="#ff7238"/><polygon points="6182,547 6164,554 6188,555 6206,548" fill="#ff8350"/><polygon points="6140,556 6121,566 6145,564 6164,554" fill="#ff9c64"/><polygon points="6055,590 6037,606 6060,599 6079,583" fill="#ffd580"/><polygon points="5972,645 5954,666 5976,654 5995,633" fill="#e5ff8e"/><polygon points="6495,651 6480,640 6505,662 6519,673" fill="#42c610"/><polygon points="5913,704 5895,730 5916,716 5935,690" fill="#b1ff93"/><polygon points="6534,685 6519,673 6543,697 6558,710" fill="#0fbe31"/><polygon points="6456,621 6440,613 6465,632 6480,640" fill="#92cf10"/><polygon points="6416,596 6399,590 6424,607 6440,613" fill="#d9d411"/><polygon points="6375,576 6358,573 6383,587 6399,590" fill="#e4a412"/><polygon points="6333,561 6316,560 6341,572 6358,573" fill="#f07e13"/><polygon points="6291,551 6274,553 6299,562 6316,560" fill="#fe6014"/><polygon points="6249,547 6231,551 6256,558 6274,553" fill="#ff5e2d"/><polygon points="6206,548 6188,555 6213,559 6231,551" fill="#ff6c47"/><polygon points="6164,554 6145,564 6170,565 6188,555" fill="#ff835d"/><polygon points="6121,566 6102,579 6127,577 6145,564" fill="#ff9f70"/><polygon points="6079,583 6060,599 6084,595 6102,579" fill="#ffbd7e"/><polygon points="6037,606 6018,624 6041,617 6060,599" fill="#ffdb88"/><polygon points="5995,633 5976,654 5999,645 6018,624" fill="#fffd8e"/><polygon points="5954,666 5935,690 5957,678 5976,654" fill="#dcff91"/><polygon points="5874,746 5855,775 5876,759 5895,730" fill="#93ffa8"/><polygon points="6558,710 6543,697 6567,724 6581,736" fill="#0fba50"/><polygon points="6519,673 6505,662 6529,687 6543,697" fill="#25c10f"/><polygon points="6480,640 6465,632 6489,655 6505,662" fill="#77c910"/><polygon points="6440,613 6424,607 6449,627 6465,632" fill="#c5d311"/><polygon points="6399,590 6383,587 6408,604 6424,607" fill="#dead11"/><polygon points="6358,573 6341,572 6366,586 6383,587" fill="#ea8112"/><polygon points="6316,560 6299,562 6324,574 6341,572" fill="#f75e13"/><polygon points="6274,553 6256,558 6281,567 6299,562" fill="#ff4d20"/><polygon points="6231,551 6213,559 6238,565 6256,558" fill="#ff583b"/><polygon points="6188,555 6170,565 6194,569 6213,559" fill="#ff6d55"/><polygon points="6145,564 6127,577 6151,578 6170,565" fill="#ff886a"/><polygon points="6102,579 6084,595 6108,593 6127,577" fill="#ffa67a"/><polygon points="6060,599 6041,617 6065,613 6084,595" fill="#ffc486"/><polygon points="6018,624 5999,645 6022,639 6041,617" fill="#ffe48d"/><polygon points="5976,654 5957,678 5980,669 5999,645" fill="#f7ff92"/><polygon points="5935,690 5916,716 5939,705 5957,678" fill="#d0ff94"/><polygon points="5895,730 5876,759 5898,745 5916,716" fill="#a2ff94"/><polygon points="5855,775 5837,806 5858,791 5876,759" fill="#94ffbc"/><polygon points="6543,697 6529,687 6553,715 6567,724" fill="#0fbd1b"/><polygon points="6465,632 6449,627 6474,649 6489,655" fill="#a8cd10"/><polygon points="6424,607 6408,604 6433,624 6449,627" fill="#d7bb11"/><polygon points="6341,572 6324,574 6349,589 6366,586" fill="#f06213"/><polygon points="6299,562 6281,567 6306,579 6324,574" fill="#fe4414"/><polygon points="6256,558 6238,565 6263,574 6281,567" fill="#ff452e"/><polygon points="6170,565 6151,578 6176,582 6194,569" fill="#ff7361"/><polygon points="6127,577 6108,593 6132,594 6151,578" fill="#ff9074"/><polygon points="6084,595 6065,613 6089,612 6108,593" fill="#ffaf82"/><polygon points="5999,645 5980,669 6003,663 6022,639" fill="#ffef91"/><polygon points="5957,678 5939,705 5961,696 5980,669" fill="#eaff94"/><polygon points="5876,759 5858,791 5879,777 5898,745" fill="#95ff9c"/><polygon points="6581,736 6567,724 6591,754 6605,766" fill="#0eb672"/><polygon points="6505,662 6489,655 6514,680 6529,687" fill="#58c40f"/><polygon points="6383,587 6366,586 6391,604 6408,604" fill="#e38b12"/><polygon points="6213,559 6194,569 6219,575 6238,565" fill="#ff5849"/><polygon points="6041,617 6022,639 6046,635 6065,613" fill="#ffce8b"/><polygon points="5916,716 5898,745 5920,734 5939,705" fill="#bfff95"/><polygon points="5837,806 5819,840 5840,825 5858,791" fill="#94ffd4"/><polygon points="6449,627 6433,624 6458,647 6474,649" fill="#d1cd10"/><polygon points="6324,574 6306,579 6331,594 6349,589" fill="#f64813"/><polygon points="6108,593 6089,612 6113,613 6132,594" fill="#ff9b7c"/><polygon points="5980,669 5961,696 5984,690 6003,663" fill="#fffd93"/><polygon points="6605,766 6591,754 6614,786 6628,797" fill="#0eb399"/><polygon points="6567,724 6553,715 6577,744 6591,754" fill="#0eb93f"/><polygon points="6529,687 6514,680 6538,707 6553,715" fill="#35c00f"/><polygon points="6489,655 6474,649 6498,675 6514,680" fill="#87c810"/><polygon points="6408,604 6391,604 6416,624 6433,624" fill="#dc9911"/><polygon points="6366,586 6349,589 6374,606 6391,604" fill="#e96d12"/><polygon points="6281,567 6263,574 6288,586 6306,579" fill="#ff3820"/><polygon points="6238,565 6219,575 6244,585 6263,574" fill="#ff453c"/><polygon points="6194,569 6176,582 6201,589 6219,575" fill="#ff5e56"/><polygon points="6151,578 6132,594 6157,598 6176,582" fill="#ff7c6c"/><polygon points="6065,613 6046,635 6070,633 6089,612" fill="#ffba88"/><polygon points="6022,639 6003,663 6027,659 6046,635" fill="#ffda8f"/><polygon points="5939,705 5920,734 5942,726 5961,696" fill="#daff95"/><polygon points="5898,745 5879,777 5901,766 5920,734" fill="#acff95"/><polygon points="5858,791 5840,825 5861,812 5879,777" fill="#94ffb3"/><polygon points="5819,840 5801,877 5822,862 5840,825" fill="#93ffee"/><polygon points="6628,797 6614,786 6638,820 6651,832" fill="#0e9baf"/><polygon points="6591,754 6577,744 6600,777 6614,786" fill="#0eb568"/><polygon points="6514,680 6498,675 6523,702 6538,707" fill="#63c30f"/><polygon points="6433,624 6416,624 6441,647 6458,647" fill="#d6ad11"/><polygon points="6391,604 6374,606 6399,626 6416,624" fill="#e27d12"/><polygon points="6306,579 6288,586 6313,601 6331,594" fill="#fd3614"/><polygon points="6219,575 6201,589 6226,598 6244,585" fill="#ff4c49"/><polygon points="6132,594 6113,613 6138,617 6157,598" fill="#ff8874"/><polygon points="6046,635 6027,659 6051,658 6070,633" fill="#ffc78c"/><polygon points="6003,663 5984,690 6008,686 6027,659" fill="#ffe891"/><polygon points="5920,734 5901,766 5924,758 5942,726" fill="#c6ff95"/><polygon points="5840,825 5822,862 5843,849 5861,812" fill="#93ffcd"/><polygon points="5801,877 5783,916 5804,901 5822,862" fill="#92f2ff"/><polygon points="6553,715 6538,707 6562,737 6577,744" fill="#0fbb0f"/><polygon points="6474,649 6458,647 6482,672 6498,675" fill="#b3cc10"/><polygon points="6349,589 6331,594 6356,611 6374,606" fill="#ef5313"/><polygon points="6263,574 6244,585 6270,597 6288,586" fill="#ff372d"/><polygon points="6176,582 6157,598 6182,605 6201,589" fill="#ff6861"/><polygon points="6089,612 6070,633 6094,635 6113,613" fill="#ffa782"/><polygon points="5961,696 5942,726 5965,719 5984,690" fill="#f1ff94"/><polygon points="5879,777 5861,812 5883,801 5901,766" fill="#94ff95"/><polygon points="6614,786 6600,777 6624,812 6638,820" fill="#0eb193"/><polygon points="6416,624 6399,626 6424,649 6441,647" fill="#db9111"/><polygon points="6027,659 6008,686 6032,685 6051,658" fill="#ffd58d"/><polygon points="5822,862 5804,901 5825,889 5843,849" fill="#92ffeb"/><polygon points="6651,832 6638,820 6660,857 6673,868" fill="#0e67ac"/><polygon points="6577,744 6562,737 6586,770 6600,777" fill="#0eb739"/><polygon points="6538,707 6523,702 6547,733 6562,737" fill="#39be0f"/><polygon points="6498,675 6482,672 6507,700 6523,702" fill="#8cc610"/><polygon points="6458,647 6441,647 6466,672 6482,672" fill="#d0c610"/><polygon points="6374,606 6356,611 6382,631 6399,626" fill="#e76512"/><polygon points="6331,594 6313,601 6339,619 6356,611" fill="#f54113"/><polygon points="6288,586 6270,597 6295,612 6313,601" fill="#ff2f1d"/><polygon points="6244,585 6226,598 6251,610 6270,597" fill="#ff3d3a"/><polygon points="6201,589 6182,605 6207,614 6226,598" fill="#ff5754"/><polygon points="6157,598 6138,617 6163,624 6182,605" fill="#ff766a"/><polygon points="6113,613 6094,635 6119,639 6138,617" fill="#ff967b"/><polygon points="6070,633 6051,658 6075,659 6094,635" fill="#ffb586"/><polygon points="5984,690 5965,719 5989,716 6008,686" fill="#fff992"/><polygon points="5942,726 5924,758 5947,752 5965,719" fill="#ddff93"/><polygon points="5901,766 5883,801 5905,793 5924,758" fill="#aeff94"/><polygon points="5861,812 5843,849 5864,839 5883,801" fill="#93ffae"/><polygon points="5783,916 5766,957 5786,943 5804,901" fill="#90cfff"/><polygon points="6638,820 6624,812 6647,849 6660,857" fill="#0e9aae"/><polygon points="6600,777 6586,770 6610,805 6624,812" fill="#0eb467"/><polygon points="6562,737 6547,733 6571,766 6586,770" fill="#0fba0f"/><polygon points="6523,702 6507,700 6532,731 6547,733" fill="#62c20f"/><polygon points="6482,672 6466,672 6491,700 6507,700" fill="#b2ca10"/><polygon points="6441,647 6424,649 6449,675 6466,672" fill="#d4ac11"/><polygon points="6399,626 6382,631 6407,655 6424,649" fill="#e07c12"/><polygon points="6356,611 6339,619 6364,640 6382,631" fill="#ed5313"/><polygon points="6313,601 6295,612 6321,630 6339,619" fill="#fb3514"/><polygon points="6270,597 6251,610 6277,625 6295,612" fill="#ff3329"/><polygon points="6226,598 6207,614 6233,627 6251,610" fill="#ff4845"/><polygon points="6182,605 6163,624 6188,633 6207,614" fill="#ff655d"/><polygon points="6138,617 6119,639 6144,646 6163,624" fill="#ff8570"/><polygon points="6094,635 6075,659 6100,663 6119,639" fill="#ffa47f"/><polygon points="6051,658 6032,685 6056,687 6075,659" fill="#ffc588"/><polygon points="6008,686 5989,716 6013,715 6032,685" fill="#ffe78e"/><polygon points="5965,719 5947,752 5970,749 5989,716" fill="#f0ff91"/><polygon points="5924,758 5905,793 5928,787 5947,752" fill="#c5ff92"/><polygon points="5883,801 5864,839 5887,831 5905,793" fill="#92ff92"/><polygon points="5843,849 5825,889 5846,879 5864,839" fill="#91ffcc"/><polygon points="5804,901 5786,943 5807,931 5825,889" fill="#8ff1ff"/><polygon points="6624,812 6610,805 6633,843 6647,849" fill="#0eb097"/><polygon points="6586,770 6571,766 6595,801 6610,805" fill="#0eb63e"/><polygon points="6547,733 6532,731 6556,764 6571,766" fill="#34bd0f"/><polygon points="6507,700 6491,700 6516,731 6532,731" fill="#85c50f"/><polygon points="6466,672 6449,675 6474,703 6491,700" fill="#ceca10"/><polygon points="6424,649 6407,655 6432,681 6449,675" fill="#d99711"/><polygon points="6382,631 6364,640 6390,663 6407,655" fill="#e56b12"/><polygon points="6339,619 6321,630 6346,650 6364,640" fill="#f34713"/><polygon points="6295,612 6277,625 6302,643 6321,630" fill="#ff3118"/><polygon points="6251,610 6233,627 6258,642 6277,625" fill="#ff3d34"/><polygon points="6207,614 6188,633 6214,646 6233,627" fill="#ff564e"/><polygon points="6163,624 6144,646 6169,655 6188,633" fill="#ff7564"/><polygon points="6119,639 6100,663 6125,670 6144,646" fill="#ff9575"/><polygon points="6075,659 6056,687 6081,691 6100,663" fill="#ffb681"/><polygon points="6032,685 6013,715 6037,717 6056,687" fill="#ffd888"/><polygon points="5989,716 5970,749 5994,748 6013,715" fill="#fffd8d"/><polygon points="5947,752 5928,787 5951,784 5970,749" fill="#d7ff8f"/><polygon points="5905,793 5887,831 5909,825 5928,787" fill="#a7ff90"/><polygon points="5864,839 5846,879 5868,871 5887,831" fill="#8fffaf"/><polygon points="5825,889 5807,931 5828,921 5846,879" fill="#8effed"/><polygon points="6610,805 6595,801 6619,839 6633,843" fill="#0eb370"/><polygon points="6571,766 6556,764 6580,800 6595,801" fill="#0fb91a"/><polygon points="6532,731 6516,731 6540,765 6556,764" fill="#56c00f"/><polygon points="6491,700 6474,703 6499,735 6516,731" fill="#a5c910"/><polygon points="6449,675 6432,681 6458,709 6474,703" fill="#d3b711"/><polygon points="6407,655 6390,663 6415,689 6432,681" fill="#de8811"/><polygon points="6364,640 6346,650 6372,674 6390,663" fill="#eb6012"/><polygon points="6321,630 6302,643 6328,664 6346,650" fill="#f84213"/><polygon points="6277,625 6258,642 6284,660 6302,643" fill="#ff3b22"/><polygon points="6233,627 6214,646 6239,661 6258,642" fill="#ff4d3d"/><polygon points="6188,633 6169,655 6195,668 6214,646" fill="#ff6855"/><polygon points="6144,646 6125,670 6150,680 6169,655" fill="#ff8768"/><polygon points="6100,663 6081,691 6106,698 6125,670" fill="#ffa877"/><polygon points="6056,687 6037,717 6062,721 6081,691" fill="#ffca81"/><polygon points="6013,715 5994,748 6018,750 6037,717" fill="#ffee87"/><polygon points="5970,749 5951,784 5975,784 5994,748" fill="#e8ff8b"/><polygon points="5928,787 5909,825 5932,822 5951,784" fill="#baff8d"/><polygon points="5887,831 5868,871 5891,866 5909,825" fill="#8dff95"/><polygon points="5846,879 5828,921 5850,914 5868,871" fill="#8dffd1"/><polygon points="6556,764 6540,765 6564,801 6580,800" fill="#24bc0f"/><polygon points="6516,731 6499,735 6524,768 6540,765" fill="#74c40f"/><polygon points="6432,681 6415,689 6440,718 6458,709" fill="#d7a811"/><polygon points="6346,650 6328,664 6354,688 6372,674" fill="#f05b13"/><polygon points="6302,643 6284,660 6310,681 6328,664" fill="#fd4414"/><polygon points="6258,642 6239,661 6265,679 6284,660" fill="#ff4a2c"/><polygon points="6214,646 6195,668 6221,683 6239,661" fill="#ff6045"/><polygon points="6169,655 6150,680 6176,693 6195,668" fill="#ff7c5a"/><polygon points="6125,670 6106,698 6131,708 6150,680" fill="#ff9c6b"/><polygon points="6037,717 6018,750 6043,755 6062,721" fill="#ffe180"/><polygon points="5951,784 5932,822 5956,822 5975,784" fill="#caff88"/><polygon points="5909,825 5891,866 5914,863 5932,822" fill="#98ff8a"/><polygon points="6595,801 6580,800 6604,838 6619,839" fill="#0eb54d"/><polygon points="6474,703 6458,709 6483,741 6499,735" fill="#bfcd10"/><polygon points="6390,663 6372,674 6397,700 6415,689" fill="#e37d12"/><polygon points="6081,691 6062,721 6087,729 6106,698" fill="#ffbd78"/><polygon points="5994,748 5975,784 5999,786 6018,750" fill="#f6ff85"/><polygon points="5868,871 5850,914 5873,909 5891,866" fill="#8affb6"/><polygon points="6540,765 6524,768 6549,805 6564,801" fill="#40bf0f"/><polygon points="6328,664 6310,681 6335,705 6354,688" fill="#f55d13"/><polygon points="6284,660 6265,679 6291,700 6310,681" fill="#ff4f1a"/><polygon points="6195,668 6176,693 6201,709 6221,683" fill="#ff754a"/><polygon points="6150,680 6131,708 6157,721 6176,693" fill="#ff925d"/><polygon points="5932,822 5914,863 5937,863 5956,822" fill="#a7ff85"/><polygon points="6580,800 6564,801 6589,839 6604,838" fill="#0eb82f"/><polygon points="6499,735 6483,741 6508,775 6524,768" fill="#8dc710"/><polygon points="6458,709 6440,718 6466,749 6483,741" fill="#d1cd10"/><polygon points="6415,689 6397,700 6423,729 6440,718" fill="#dc9f11"/><polygon points="6372,674 6354,688 6379,714 6397,700" fill="#e87a12"/><polygon points="6239,661 6221,683 6246,702 6265,679" fill="#ff5d33"/><polygon points="6106,698 6087,729 6112,739 6131,708" fill="#ffb36c"/><polygon points="6062,721 6043,755 6068,762 6087,729" fill="#ffd677"/><polygon points="6018,750 5999,786 6024,791 6043,755" fill="#fffc7e"/><polygon points="5975,784 5956,822 5980,825 5999,786" fill="#d7ff83"/><polygon points="5891,866 5873,909 5896,907 5914,863" fill="#86ff9e"/><polygon points="6310,681 6291,700 6317,724 6335,705" fill="#f96614"/><polygon points="6176,693 6157,721 6182,737 6201,709" fill="#ff8d4e"/><polygon points="6564,801 6549,805 6573,843 6589,839" fill="#0fbb15"/><polygon points="6524,768 6508,775 6532,811 6549,805" fill="#57c30f"/><polygon points="6483,741 6466,749 6491,783 6508,775" fill="#a1cb10"/><polygon points="6440,718 6423,729 6448,761 6466,749" fill="#d5c511"/><polygon points="6397,700 6379,714 6405,743 6423,729" fill="#e09c12"/><polygon points="6354,688 6335,705 6361,731 6379,714" fill="#ec7c13"/><polygon points="6265,679 6246,702 6272,723 6291,700" fill="#ff6321"/><polygon points="6221,683 6201,709 6227,727 6246,702" fill="#ff7339"/><polygon points="6131,708 6112,739 6137,752 6157,721" fill="#ffad5f"/><polygon points="6087,729 6068,762 6093,773 6112,739" fill="#ffce6c"/><polygon points="6043,755 6024,791 6048,799 6068,762" fill="#fff475"/><polygon points="5999,786 5980,825 6005,830 6024,791" fill="#e1ff7c"/><polygon points="5956,822 5937,863 5961,866 5980,825" fill="#b3ff80"/><polygon points="5914,863 5896,907 5919,907 5937,863" fill="#82ff87"/><polygon points="6549,805 6532,811 6557,850 6573,843" fill="#1fbe0f"/><polygon points="6508,775 6491,783 6516,820 6532,811" fill="#6ac610"/><polygon points="6466,749 6448,761 6474,795 6491,783" fill="#b0cf10"/><polygon points="6423,729 6405,743 6431,775 6448,761" fill="#d9c211"/><polygon points="6379,714 6361,731 6387,760 6405,743" fill="#e59f12"/><polygon points="6335,705 6317,724 6343,751 6361,731" fill="#f18513"/><polygon points="6291,700 6272,723 6298,747 6317,724" fill="#fd7614"/><polygon points="6246,702 6227,727 6253,748 6272,723" fill="#ff7b28"/><polygon points="6201,709 6182,737 6208,755 6227,727" fill="#ff8f3e"/><polygon points="6157,721 6137,752 6163,768 6182,737" fill="#ffaa51"/><polygon points="6112,739 6093,773 6118,786 6137,752" fill="#ffca5f"/><polygon points="6068,762 6048,799 6074,809 6093,773" fill="#ffee6b"/><polygon points="6024,791 6005,830 6029,838 6048,799" fill="#e8ff73"/><polygon points="5980,825 5961,866 5986,871 6005,830" fill="#bbff79"/><polygon points="5937,863 5919,907 5943,910 5961,866" fill="#88ff7c"/><polygon points="6491,783 6474,795 6499,832 6516,820" fill="#78ca10"/><polygon points="6448,761 6431,775 6456,810 6474,795" fill="#bad311"/><polygon points="6361,731 6343,751 6369,780 6387,760" fill="#e9a812"/><polygon points="6272,723 6253,748 6279,772 6298,747" fill="#ff8e17"/><polygon points="6227,727 6208,755 6234,777 6253,748" fill="#ff992d"/><polygon points="6137,752 6118,786 6144,802 6163,768" fill="#ffcb52"/><polygon points="6048,799 6029,838 6054,848 6074,809" fill="#ebff69"/><polygon points="6005,830 5986,871 6010,879 6029,838" fill="#c0ff70"/><polygon points="6532,811 6516,820 6540,860 6557,850" fill="#30c20f"/><polygon points="6405,743 6387,760 6413,792 6431,775" fill="#dec611"/><polygon points="6317,724 6298,747 6324,774 6343,751" fill="#f59613"/><polygon points="6182,737 6163,768 6189,786 6208,755" fill="#ffaf41"/><polygon points="6093,773 6074,809 6099,822 6118,786" fill="#ffed5f"/><polygon points="5961,866 5943,910 5967,915 5986,871" fill="#8fff75"/><polygon points="6474,795 6456,810 6481,847 6499,832" fill="#7fce10"/><polygon points="6253,748 6234,777 6260,801 6279,772" fill="#ffac1c"/><polygon points="6029,838 6010,879 6035,890 6054,848" fill="#c0ff67"/><polygon points="6516,820 6499,832 6523,872 6540,860" fill="#3bc50f"/><polygon points="6431,775 6413,792 6438,827 6456,810" fill="#bdd711"/><polygon points="6387,760 6369,780 6394,813 6413,792" fill="#e2d112"/><polygon points="6343,751 6324,774 6350,803 6369,780" fill="#edb913"/><polygon points="6298,747 6279,772 6305,799 6324,774" fill="#f8ac13"/><polygon points="6208,755 6189,786 6215,808 6234,777" fill="#ffbb31"/><polygon points="6163,768 6144,802 6170,820 6189,786" fill="#ffd243"/><polygon points="6118,786 6099,822 6125,838 6144,802" fill="#fff152"/><polygon points="6074,809 6054,848 6080,862 6099,822" fill="#eaff5e"/><polygon points="5986,871 5967,915 5992,924 6010,879" fill="#91ff6d"/><polygon points="6499,832 6481,847 6506,887 6523,872" fill="#43c910"/><polygon points="6456,810 6438,827 6464,864 6481,847" fill="#81d110"/><polygon points="6413,792 6394,813 6420,847 6438,827" fill="#badb11"/><polygon points="6369,780 6350,803 6376,836 6394,813" fill="#e6e112"/><polygon points="6324,774 6305,799 6331,829 6350,803" fill="#f0d013"/><polygon points="6279,772 6260,801 6286,828 6305,799" fill="#fbcb14"/><polygon points="6234,777 6215,808 6241,832 6260,801" fill="#ffd121"/><polygon points="6189,786 6170,820 6196,842 6215,808" fill="#ffe234"/><polygon points="6144,802 6125,838 6151,857 6170,820" fill="#fffb44"/><polygon points="6099,822 6080,862 6105,878 6125,838" fill="#e2ff52"/><polygon points="6054,848 6035,890 6061,904 6080,862" fill="#bbff5c"/><polygon points="6010,879 5992,924 6017,935 6035,890" fill="#8fff64"/><polygon points="6481,847 6464,864 6489,904 6506,887" fill="#44cc10"/><polygon points="6438,827 6420,847 6446,885 6464,864" fill="#7ed511"/><polygon points="6394,813 6376,836 6402,870 6420,847" fill="#b1df11"/><polygon points="6350,803 6331,829 6357,861 6376,836" fill="#dae912"/><polygon points="6305,799 6286,828 6313,858 6331,829" fill="#f3ef13"/><polygon points="6260,801 6241,832 6267,859 6286,828" fill="#fef214"/><polygon points="6215,808 6196,842 6222,866 6241,832" fill="#fffa24"/><polygon points="6170,820 6151,857 6177,879 6196,842" fill="#f0ff36"/><polygon points="6125,838 6105,878 6131,897 6151,857" fill="#d5ff44"/><polygon points="6080,862 6061,904 6086,920 6105,878" fill="#b2ff51"/><polygon points="6035,890 6017,935 6042,948 6061,904" fill="#88ff5a"/><polygon points="6464,864 6446,885 6471,925 6489,904" fill="#3fd010"/><polygon points="6420,847 6402,870 6427,908 6446,885" fill="#74d911"/><polygon points="6376,836 6357,861 6383,896 6402,870" fill="#a0e212"/><polygon points="6331,829 6313,858 6339,890 6357,861" fill="#c2ec13"/><polygon points="6286,828 6267,859 6293,889 6313,858" fill="#d8f613"/><polygon points="6241,832 6222,866 6248,893 6267,859" fill="#e0ff15"/><polygon points="6196,842 6177,879 6203,903 6222,866" fill="#d5ff27"/><polygon points="6151,857 6131,897 6157,919 6177,879" fill="#bfff37"/><polygon points="6105,878 6086,920 6112,939 6131,897" fill="#a0ff44"/><polygon points="6061,904 6042,948 6067,965 6086,920" fill="#7aff4f"/><polygon points="6446,885 6427,908 6453,948 6471,925" fill="#34d311"/><polygon points="6402,870 6383,896 6409,934 6427,908" fill="#62dc11"/><polygon points="6357,861 6339,890 6365,925 6383,896" fill="#88e612"/><polygon points="6313,858 6293,889 6320,922 6339,890" fill="#a1ef13"/><polygon points="6267,859 6248,893 6274,923 6293,889" fill="#aff813"/><polygon points="6222,866 6203,903 6229,930 6248,893" fill="#aeff19"/><polygon points="6177,879 6157,919 6183,943 6203,903" fill="#a0ff29"/><polygon points="6131,897 6112,939 6138,961 6157,919" fill="#87ff37"/><polygon points="6086,920 6067,965 6093,984 6112,939" fill="#66ff44"/><polygon points="6427,908 6409,934 6435,974 6453,948" fill="#23d711"/><polygon points="6383,896 6365,925 6390,963 6409,934" fill="#4adf12"/><polygon points="6339,890 6320,922 6346,957 6365,925" fill="#68e912"/><polygon points="6293,889 6274,923 6300,956 6320,922" fill="#7af213"/><polygon points="6248,893 6229,930 6255,960 6274,923" fill="#7ffa14"/><polygon points="6203,903 6183,943 6210,970 6229,930" fill="#76ff1b"/><polygon points="6157,919 6138,961 6164,985 6183,943" fill="#65ff2a"/><polygon points="6112,939 6093,984 6119,1006 6138,961" fill="#4aff38"/><polygon points="6409,934 6390,963 6416,1003 6435,974" fill="#11da19"/><polygon points="6365,925 6346,957 6371,994 6390,963" fill="#2ce212"/><polygon points="6320,922 6300,956 6327,991 6346,957" fill="#41eb12"/><polygon points="6229,930 6210,970 6236,1000 6255,960" fill="#45fc14"/><polygon points="6183,943 6164,985 6190,1013 6210,970" fill="#39ff1e"/><polygon points="6138,961 6119,1006 6145,1030 6164,985" fill="#2bff34"/><polygon points="6274,923 6255,960 6281,993 6300,956" fill="#4af413"/><polygon points="6346,957 6327,991 6353,1029 6371,994" fill="#12e520"/><polygon points="6210,970 6190,1013 6217,1043 6236,1000" fill="#14fd24"/><polygon points="6390,963 6371,994 6397,1034 6416,1003" fill="#11dd38"/><polygon points="6300,956 6281,993 6307,1028 6327,991" fill="#13ee14"/><polygon points="6255,960 6236,1000 6262,1033 6281,993" fill="#13f614"/><polygon points="6164,985 6145,1030 6171,1058 6190,1013" fill="#1fff4a"/><polygon points="6371,994 6353,1029 6378,1069 6397,1034" fill="#12e060"/><polygon points="6327,991 6307,1028 6333,1066 6353,1029" fill="#12e84f"/><polygon points="6281,993 6262,1033 6288,1068 6307,1028" fill="#13f04a"/><polygon points="6236,1000 6217,1043 6243,1075 6262,1033" fill="#13f754"/><polygon points="6190,1013 6171,1058 6197,1088 6217,1043" fill="#14ff6d"/><polygon points="6307,1028 6288,1068 6314,1105 6333,1066" fill="#12ea86"/><polygon points="6262,1033 6243,1075 6269,1110 6288,1068" fill="#13f28a"/><polygon points="6353,1029 6333,1066 6359,1106 6378,1069" fill="#12e28e"/><polygon points="6217,1043 6197,1088 6223,1120 6243,1075" fill="#14f99c"/><polygon points="6288,1068 6269,1110 6295,1148 6314,1105" fill="#13ecc3"/><polygon points="6333,1066 6314,1105 6340,1145 6359,1106" fill="#12e5c3"/><polygon points="6243,1075 6223,1120 6250,1155 6269,1110" fill="#13f3d0"/><polygon points="6314,1105 6295,1148 6321,1188 6340,1145" fill="#12cde7"/><polygon points="6269,1110 6250,1155 6276,1192 6295,1148" fill="#13d3ee"/><polygon points="6295,1148 6276,1192 6302,1232 6321,1188" fill="#128ce9"/></g><circle cx="622.58" cy="59.81" r="1" fill="#c00"/><circle cx="576.64" cy="96.13" r="1" fill="#c00"/><circle cx="667.31" cy="87.23" r="1" fill="#c00"/><circle cx="630.16" cy="123.66" r="1" fill="#c00"/><text x="630.3" y="24.1" font-size="3.1" fill="#000" text-anchor="middle" font-weight="bold" textLength="14.1" lengthAdjust="spacingAndGlyphs">3D Surface</text><text x="561.58" y="88.19" font-size="2.6" fill="#000" text-anchor="middle" transform="rotate(-90 561.58 88.19)" textLength="19.78" lengthAdjust="spacingAndGlyphs">Microencapsulation rate</text><text x="591.49" y="139.25" font-size="2.6" fill="#000" text-anchor="middle" textLength="53.46" lengthAdjust="spacingAndGlyphs">C: Different ratio of whey protein concentrate and sodium alginate</text><text x="646.43" y="130.05" font-size="2.6" fill="#000" textLength="38.07" lengthAdjust="spacingAndGlyphs">B: Different ratio of CaCl2 and sodium alginate</text><text x="586.32" y="119.68" font-size="1.7" fill="#333" text-anchor="end">0.1</text><text x="596.36" y="125.07" font-size="1.7" fill="#333" text-anchor="end">0.2</text><text x="606.72" y="130.62" font-size="1.7" fill="#333" text-anchor="end">0.3</text><text x="617.39" y="136.34" font-size="1.7" fill="#333" text-anchor="end">0.4</text><text x="659.41" y="113.24" font-size="1.7" fill="#333">0.1</text><text x="650.65" y="122.2" font-size="1.7" fill="#333">0.2</text><text x="641.43" y="131.62" font-size="1.7" fill="#333">0.3</text><text transform="translate(9.9 139.2) scale(.94 1)" class="L">E</text><text x="16.3" y="144.15" font-size="2.4" fill="#222" textLength="17.64" lengthAdjust="spacingAndGlyphs">Factor Coding: Actual</text><text x="16.3" y="149.65" font-size="2.4" fill="#000" font-weight="bold" textLength="21.16" lengthAdjust="spacingAndGlyphs">Microencapsulation rate</text><circle cx="18.1" cy="151.8" r="1" fill="#a00"/><text x="20.1" y="152.65" font-size="2.4" fill="#e33" textLength="11.05" lengthAdjust="spacingAndGlyphs">Design Points</text><text x="16.3" y="158.35" font-size="2.4" fill="#33f" textLength="2.7" lengthAdjust="spacingAndGlyphs">0.5</text><rect x="20.8" y="156.15" width="7.1" height="2.7" fill="url(#cbar)"/><text x="28.5" y="158.35" font-size="2.4" fill="#f33" textLength="3.6" lengthAdjust="spacingAndGlyphs">0.95</text><text x="16.3" y="161.05" font-size="2.4" fill="#222" textLength="5.1" lengthAdjust="spacingAndGlyphs">X1 = A</text><text x="16.3" y="163.85" font-size="2.4" fill="#222" textLength="5.1" lengthAdjust="spacingAndGlyphs">X2 = B</text><text x="16.3" y="169.85" font-size="2.4" fill="#000" font-weight="bold" textLength="12.6" lengthAdjust="spacingAndGlyphs">Actual Factors</text><text x="16.3" y="172.75" font-size="2.4" fill="#222" textLength="4.25" lengthAdjust="spacingAndGlyphs">B = 0</text><text x="16.3" y="175.45" font-size="2.4" fill="#222" textLength="4.25" lengthAdjust="spacingAndGlyphs">D = 5</text><rect x="71.3" y="148.7" width="99.2" height="98.1" fill="url(#rg3)"/><g clip-path="url(#cp3)" fill="none" stroke="#2a2a10" stroke-width="0.5"><ellipse cx="120.7" cy="198.1" rx="30.01" ry="22.39"/><ellipse cx="120.7" cy="198.1" rx="51.98" ry="38.78"/><ellipse cx="120.7" cy="198.1" rx="67.1" ry="50.06"/><ellipse cx="120.7" cy="198.1" rx="79.4" ry="59.24"/></g><rect x="71.3" y="148.7" width="99.2" height="98.1" fill="none" stroke="#aaa" stroke-width="0.3"/><rect x="86" y="152.15" width="2" height="1.3" fill="#ddd" stroke="#999" stroke-width="0.2"/><rect x="119.7" y="157.35" width="2" height="1.3" fill="#ddd" stroke="#999" stroke-width="0.2"/><rect x="152" y="152.15" width="2" height="1.3" fill="#ddd" stroke="#999" stroke-width="0.2"/><rect x="119.7" y="235.65" width="2" height="1.3" fill="#ddd" stroke="#999" stroke-width="0.2"/><rect x="113.8" y="218.35" width="2" height="1.3" fill="#ddd" stroke="#999" stroke-width="0.2"/><rect x="73" y="244.85" width="2" height="1.3" fill="#ddd" stroke="#999" stroke-width="0.2"/><rect x="166" y="244.85" width="2" height="1.3" fill="#ddd" stroke="#999" stroke-width="0.2"/><rect x="85.3" y="239.85" width="2" height="1.3" fill="#ddd" stroke="#999" stroke-width="0.2"/><rect x="153.8" y="239.85" width="2" height="1.3" fill="#ddd" stroke="#999" stroke-width="0.2"/><circle cx="71.3" cy="148.7" r="0.9" fill="#a00"/><circle cx="170.5" cy="148.7" r="0.9" fill="#a00"/><circle cx="71.3" cy="246.8" r="0.9" fill="#a00"/><circle cx="170.5" cy="246.8" r="0.9" fill="#a00"/><circle cx="120.7" cy="198.1" r="0.9" fill="#400"/><text x="120.9" y="146.8" font-size="3" fill="#000" text-anchor="middle" textLength="31.74" lengthAdjust="spacingAndGlyphs">Microencapsulation rate</text><line x1="71.3" y1="246.8" x2="71.3" y2="248" stroke="#999" stroke-width="0.3"/><text x="71.3" y="252" font-size="1.9" fill="#333" text-anchor="middle">0.0</text><line x1="91.14" y1="246.8" x2="91.14" y2="248" stroke="#999" stroke-width="0.3"/><text x="91.14" y="252" font-size="1.9" fill="#333" text-anchor="middle">0.1</text><line x1="110.98" y1="246.8" x2="110.98" y2="248" stroke="#999" stroke-width="0.3"/><text x="110.98" y="252" font-size="1.9" fill="#333" text-anchor="middle">0.2</text><line x1="130.82" y1="246.8" x2="130.82" y2="248" stroke="#999" stroke-width="0.3"/><text x="130.82" y="252" font-size="1.9" fill="#333" text-anchor="middle">0.3</text><line x1="150.66" y1="246.8" x2="150.66" y2="248" stroke="#999" stroke-width="0.3"/><text x="150.66" y="252" font-size="1.9" fill="#333" text-anchor="middle">0.4</text><line x1="170.5" y1="246.8" x2="170.5" y2="248" stroke="#999" stroke-width="0.3"/><text x="170.5" y="252" font-size="1.9" fill="#333" text-anchor="middle">0.5</text><line x1="70.1" y1="246.8" x2="71.3" y2="246.8" stroke="#999" stroke-width="0.3"/><text x="69" y="247.5" font-size="1.9" fill="#333" text-anchor="end">0.0</text><line x1="70.1" y1="227.18" x2="71.3" y2="227.18" stroke="#999" stroke-width="0.3"/><text x="69" y="227.88" font-size="1.9" fill="#333" text-anchor="end">0.1</text><line x1="70.1" y1="207.56" x2="71.3" y2="207.56" stroke="#999" stroke-width="0.3"/><text x="69" y="208.26" font-size="1.9" fill="#333" text-anchor="end">0.2</text><line x1="70.1" y1="187.94" x2="71.3" y2="187.94" stroke="#999" stroke-width="0.3"/><text x="69" y="188.64" font-size="1.9" fill="#333" text-anchor="end">0.3</text><line x1="70.1" y1="168.32" x2="71.3" y2="168.32" stroke="#999" stroke-width="0.3"/><text x="69" y="169.02" font-size="1.9" fill="#333" text-anchor="end">0.4</text><line x1="70.1" y1="148.7" x2="71.3" y2="148.7" stroke="#999" stroke-width="0.3"/><text x="69" y="149.4" font-size="1.9" fill="#333" text-anchor="end">0.5</text><text x="120.9" y="260" font-size="3" fill="#000" text-anchor="middle" textLength="38.88" lengthAdjust="spacingAndGlyphs">A: Different sodium alginate content</text><text x="56.3" y="197.75" font-size="3" fill="#000" text-anchor="middle" transform="rotate(-90 56.3 197.75)" textLength="72.6" lengthAdjust="spacingAndGlyphs">C: Different ratio of whey protein concentrate and sodium alginate</text><text transform="translate(179.9 139.3) scale(.94 1)" class="L">F</text><text x="183.2" y="144.95" font-size="2.4" fill="#222" textLength="17.64" lengthAdjust="spacingAndGlyphs">Factor Coding: Actual</text><text x="183.2" y="150.55" font-size="2.4" fill="#000" font-weight="bold" textLength="21.16" lengthAdjust="spacingAndGlyphs">Microencapsulation rate</text><text x="183.2" y="153.35" font-size="2.4" fill="#222" textLength="11.05" lengthAdjust="spacingAndGlyphs">Design Points</text><circle cx="185.5" cy="155.4" r="0.95" fill="#b00"/><text x="186.8" y="156.25" font-size="2.4" fill="#e33" textLength="12.48" lengthAdjust="spacingAndGlyphs">Above Surface</text><circle cx="185.5" cy="158.3" r="0.8" fill="none" stroke="#d66" stroke-width="0.35"/><text x="186.8" y="159.15" font-size="2.4" fill="#e55" textLength="12.48" lengthAdjust="spacingAndGlyphs">Below Surface</text><text x="183.2" y="162.15" font-size="2.4" fill="#33f" textLength="2.7" lengthAdjust="spacingAndGlyphs">0.5</text><rect x="187.7" y="159.95" width="7.1" height="2.7" fill="url(#cbar)"/><text x="195.4" y="162.15" font-size="2.4" fill="#f33" textLength="3.6" lengthAdjust="spacingAndGlyphs">0.95</text><text x="183.2" y="167.75" font-size="2.4" fill="#222" textLength="5.1" lengthAdjust="spacingAndGlyphs">X1 = A</text><text x="183.2" y="170.35" font-size="2.4" fill="#222" textLength="5.1" lengthAdjust="spacingAndGlyphs">X2 = B</text><text x="183.2" y="176.15" font-size="2.4" fill="#000" font-weight="bold" textLength="12.6" lengthAdjust="spacingAndGlyphs">Actual Factors</text><text x="183.2" y="178.95" font-size="2.4" fill="#222" textLength="4.25" lengthAdjust="spacingAndGlyphs">C = 1</text><text x="183.2" y="181.65" font-size="2.4" fill="#222" textLength="4.25" lengthAdjust="spacingAndGlyphs">D = 5</text><polygon points="274.71,198.92 238.69,229.16 233.79,181.94 274.11,153.46" fill="#fff"/><path d="M274.71 198.92L274.11 153.46M268.07 204.5L266.74 158.67M261.15 210.3L259.04 164.1M253.97 216.34L251 169.78M246.48 222.62L242.59 175.72M238.69 229.16L233.79 181.94M274.71 198.92L274.11 153.46M283.46 203.01L283.79 157.27M292.47 207.22L293.77 161.21M301.73 211.55L304.07 165.27M311.27 216.01L314.71 169.47M321.09 220.6L325.71 173.81M238.69 229.16L274.71 198.92L321.09 220.6M238.13 223.81L274.65 193.71L321.61 215.28M237.56 218.31L274.57 188.38L322.15 209.82M236.98 212.66L274.5 182.92L322.71 204.22M236.38 206.86L274.43 177.32L323.27 198.47M235.76 200.89L274.35 171.58L323.86 192.55M235.12 194.75L274.27 165.69L324.46 186.48M234.47 188.44L274.19 159.65L325.08 180.23M233.79 181.94L274.11 153.46L325.71 173.81" fill="none" stroke="#999" stroke-width="0.4"/><polygon points="274.71,198.92 238.69,229.16 287.31,255.83 321.09,220.6" fill="#616161"/><path d="M270.1 234.4 270.8 234.8 271.5 235.1 272.3 235.3 273.1 235.5 274.0 235.7 274.9 235.8 275.8 235.8 276.7 235.8 277.7 235.8 278.6 235.7 279.6 235.6 280.5 235.4 281.5 235.2 282.5 234.9 283.4 234.6 284.3 234.2 285.3 233.8 286.1 233.4 287.0 232.9 287.8 232.4 288.6 231.8 289.4 231.3 290.1 230.7 290.8 230.0 291.4 229.4 292.0 228.7 292.5 228.1 293.0 227.4 293.4 226.7 293.7 226.0 294.0 225.3 294.2 224.6 294.4 223.9 294.5 223.2 294.6 222.5 294.6 221.9 294.5 221.2 294.4 220.6 294.2 220.0 294.0 219.4 293.7 218.8 293.3 218.3 292.9 217.8 292.5 217.3 292.0 216.9 291.4 216.5 290.8 216.1 290.2 215.8 289.5 215.5 288.8 215.2 288.1 215.0 287.3 214.8 286.5 214.7 285.7 214.6 284.8 214.5 283.9 214.5 283.1 214.6 282.2 214.6 281.3 214.8 280.4 214.9 279.5 215.1 278.6 215.4 277.7 215.7 276.8 216.0 275.9 216.3 275.0 216.7 274.2 217.2 273.4 217.6 272.6 218.1 271.9 218.6 271.1 219.2 270.5 219.8 269.8 220.4 269.2 221.0 268.7 221.7 268.1 222.3 267.7 223.0 267.3 223.7 266.9 224.4 266.6 225.1 266.4 225.8 266.2 226.4 266.1 227.1 266.0 227.8 266.0 228.5 266.1 229.2 266.2 229.8 266.4 230.4 266.7 231.0 267.0 231.6 267.4 232.2 267.8 232.7 268.3 233.2 268.9 233.6 269.5 234.1 270.1 234.4" fill="none" stroke="#cc4a00" stroke-width="0.5"/><path d="M265.5 238.7 266.5 239.2 267.6 239.6 268.7 240.0 269.9 240.3 271.1 240.5 272.4 240.7 273.7 240.8 275.0 240.8 276.4 240.7 277.8 240.6 279.2 240.4 280.6 240.1 282.0 239.8 283.4 239.4 284.7 238.9 286.1 238.4 287.4 237.8 288.7 237.1 289.9 236.4 291.1 235.7 292.2 234.9 293.3 234.1 294.3 233.2 295.3 232.3 296.2 231.4 297.0 230.4 297.7 229.5 298.3 228.5 298.9 227.5 299.4 226.5 299.8 225.5 300.1 224.5 300.4 223.5 300.5 222.5 300.6 221.6 300.5 220.6 300.4 219.7 300.2 218.8 300.0 218.0 299.6 217.1 299.2 216.4 298.7 215.6 298.1 214.9 297.4 214.2 296.7 213.6 295.9 213.0 295.1 212.5 294.2 212.1 293.2 211.6 292.2 211.3 291.2 211.0 290.1 210.7 288.9 210.6 287.8 210.4 286.6 210.4 285.4 210.3 284.1 210.4 282.9 210.5 281.6 210.7 280.3 210.9 279.1 211.2 277.8 211.5 276.5 211.9 275.3 212.4 274.0 212.9 272.8 213.4 271.6 214.0 270.5 214.7 269.4 215.4 268.3 216.1 267.3 216.9 266.3 217.7 265.4 218.5 264.5 219.4 263.7 220.3 263.0 221.3 262.3 222.2 261.7 223.2 261.2 224.2 260.7 225.1 260.4 226.1 260.1 227.1 259.9 228.1 259.8 229.1 259.8 230.1 259.9 231.1 260.1 232.0 260.3 232.9 260.7 233.8 261.1 234.6 261.6 235.4 262.2 236.2 262.9 236.9 263.7 237.6 264.6 238.2 265.5 238.7" fill="none" stroke="#cc9600" stroke-width="0.5"/><path d="M264.5 243.2 265.9 243.7 267.3 244.0 268.9 244.3 270.4 244.5 272.1 244.6 273.7 244.6 275.4 244.6 277.1 244.4 278.9 244.1 280.6 243.8 282.3 243.4 284.1 242.9 285.8 242.3 287.4 241.6 289.0 240.9 290.6 240.1 292.2 239.2 293.6 238.3 295.0 237.3 296.3 236.3 297.6 235.2 298.8 234.1 299.8 232.9 300.8 231.7 301.7 230.5 302.5 229.3 303.2 228.1 303.8 226.9 304.2 225.7 304.6 224.4 304.9 223.2 305.0 222.0 305.1 220.9 305.0 219.7 304.9 218.6 304.6 217.5 304.3 216.5 303.8 215.4 303.3 214.5 302.7 213.6 301.9 212.7 301.1 211.9 300.3 211.2 299.3 210.5M294.8 208.4 293.5 208.0 292.1 207.7 290.8 207.5 289.4 207.3 287.9 207.2 286.4 207.2 284.9 207.3 283.4 207.4 281.8 207.6 280.3 207.9 278.8 208.2 277.2 208.6 275.7 209.1 274.1 209.6 272.6 210.3 271.2 210.9 269.7 211.6 268.3 212.4 266.9 213.3 265.6 214.2 264.4 215.1 263.2 216.1 262.0 217.1 260.9 218.2 259.9 219.3 259.0 220.4 258.2 221.6 257.4 222.8 256.8 224.0 256.2 225.2 255.8 226.4 255.4 227.7 255.2 228.9 255.0 230.1 255.0 231.3 255.1 232.5 255.3 233.7 255.6 234.8 256.0 235.9 256.5 236.9 257.2 237.9 257.9 238.9 258.8 239.8 259.7 240.6" fill="none" stroke="#b6cc00" stroke-width="0.5"/><path d="M274.6 247.9 276.6 247.7 278.6 247.4 280.6 247.0 282.7 246.5 284.7 245.9 286.6 245.2 288.6 244.4 290.5 243.5 292.3 242.6 294.1 241.6 295.8 240.5 297.4 239.3 298.9 238.1 300.4 236.9 301.7 235.6 302.9 234.2 304.1 232.8 305.1 231.5 306.0 230.0 306.8 228.6 307.4 227.2 308.0 225.8 308.4 224.4 308.7 223.0 308.8 221.6 308.9 220.2 308.8 218.9 308.6 217.6 308.3 216.4 307.9 215.2M285.6 204.7 283.8 204.9 282.1 205.1 280.3 205.4 278.5 205.8 276.7 206.3 275.0 206.8 273.2 207.4 271.5 208.1 269.8 208.9 268.1 209.7 266.5 210.6 264.9 211.5 263.4 212.6 261.9 213.6 260.5 214.8 259.2 216.0 258.0 217.2 256.8 218.5 255.7 219.8 254.8 221.1 253.9 222.5 253.1 223.9 252.4 225.3 251.9 226.7 251.5 228.1 251.2 229.6 251.0 231.0 250.9 232.4 251.0 233.7 251.2 235.1" fill="none" stroke="#6bcc00" stroke-width="0.5"/><path d="M278.4 250.3 280.7 249.8 282.9 249.3 285.2 248.6 287.4 247.8 289.6 246.9 291.7 245.9 293.8 244.8 295.8 243.7 297.7 242.4 299.5 241.1 301.2 239.8 302.8 238.4 304.3 236.9 305.7 235.4 307.0 233.8 308.1 232.3 309.1 230.7 309.9 229.1 310.7 227.5 311.2 225.9 311.7 224.3 312.0 222.7 312.2 221.2 312.2 219.7 312.1 218.2 311.9 216.8M282.2 202.9 280.3 203.2 278.3 203.7 276.3 204.2 274.4 204.8 272.4 205.5 270.5 206.2 268.6 207.1 266.7 208.0 264.9 209.0 263.2 210.0 261.5 211.2 259.8 212.4 258.3 213.6 256.8 214.9 255.4 216.3 254.1 217.7 252.8 219.2 251.7 220.7 250.7 222.2 249.9 223.8 249.1 225.3 248.5 226.9 248.0 228.5 247.6 230.1 247.4 231.7 247.3 233.3" fill="none" stroke="#1fcc00" stroke-width="0.5"/><path d="M283.2 251.8 285.7 251.0 288.1 250.2 290.6 249.2 292.9 248.1 295.2 246.9M313.6 227.7 314.2 226.0 314.7 224.3 315.0 222.6 315.2 220.9 315.2 219.2M278.1 201.8 276.0 202.3 273.8 203.0 271.7 203.7 269.6 204.6 267.5 205.5M247.9 222.0 246.9 223.7 246.1 225.4 245.4 227.1 244.8 228.9 244.4 230.6" fill="none" stroke="#00cc2d" stroke-width="0.5"/><path d="M286.2 253.3 288.8 252.4 291.4 251.3M317.4 224.2 317.8 222.4 317.9 220.6M275.6 200.7 273.3 201.4 271.0 202.2M243.3 225.4 242.5 227.3 241.9 229.2" fill="none" stroke="#00cc79" stroke-width="0.5"/><line x1="237.13" y1="223.81" x2="238.13" y2="223.81" stroke="#888" stroke-width="0.3"/><text x="236.83" y="224.41" font-size="1.7" fill="#333" text-anchor="end" textLength="1.65" lengthAdjust="spacingAndGlyphs">0.2</text><line x1="236.56" y1="218.31" x2="237.56" y2="218.31" stroke="#888" stroke-width="0.3"/><text x="236.26" y="218.91" font-size="1.7" fill="#333" text-anchor="end" textLength="1.65" lengthAdjust="spacingAndGlyphs">0.3</text><line x1="235.98" y1="212.66" x2="236.98" y2="212.66" stroke="#888" stroke-width="0.3"/><text x="235.68" y="213.26" font-size="1.7" fill="#333" text-anchor="end" textLength="1.65" lengthAdjust="spacingAndGlyphs">0.4</text><line x1="235.38" y1="206.86" x2="236.38" y2="206.86" stroke="#888" stroke-width="0.3"/><text x="235.08" y="207.46" font-size="1.7" fill="#333" text-anchor="end" textLength="1.65" lengthAdjust="spacingAndGlyphs">0.5</text><line x1="234.76" y1="200.89" x2="235.76" y2="200.89" stroke="#888" stroke-width="0.3"/><text x="234.46" y="201.49" font-size="1.7" fill="#333" text-anchor="end" textLength="1.65" lengthAdjust="spacingAndGlyphs">0.6</text><line x1="234.12" y1="194.75" x2="235.12" y2="194.75" stroke="#888" stroke-width="0.3"/><text x="233.82" y="195.35" font-size="1.7" fill="#333" text-anchor="end" textLength="1.65" lengthAdjust="spacingAndGlyphs">0.7</text><line x1="233.47" y1="188.44" x2="234.47" y2="188.44" stroke="#888" stroke-width="0.3"/><text x="233.17" y="189.04" font-size="1.7" fill="#333" text-anchor="end" textLength="1.65" lengthAdjust="spacingAndGlyphs">0.8</text><line x1="232.79" y1="181.94" x2="233.79" y2="181.94" stroke="#888" stroke-width="0.3"/><text x="232.49" y="182.54" font-size="1.7" fill="#333" text-anchor="end" textLength="1.65" lengthAdjust="spacingAndGlyphs">0.9</text><g transform="scale(.1)" stroke="#000" stroke-opacity=".42" stroke-width="2.6" stroke-linejoin="round"><polygon points="2745,1799 2729,1798 2749,1782 2765,1783" fill="#43ffd8"/><polygon points="2765,1783 2749,1782 2770,1768 2786,1770" fill="#40ff99"/><polygon points="2729,1798 2713,1797 2733,1781 2749,1782" fill="#49ffb8"/><polygon points="2786,1770 2770,1768 2791,1756 2807,1758" fill="#3dff5f"/><polygon points="2749,1782 2733,1781 2754,1767 2770,1768" fill="#46ff7c"/><polygon points="2713,1797 2697,1798 2717,1782 2733,1781" fill="#4fff9d"/><polygon points="2807,1758 2791,1756 2812,1747 2828,1749" fill="#4aff39"/><polygon points="2770,1768 2754,1767 2775,1756 2791,1756" fill="#45ff44"/><polygon points="2733,1781 2717,1782 2738,1768 2754,1767" fill="#4dff63"/><polygon points="2697,1798 2680,1801 2701,1785 2717,1782" fill="#55ff88"/><polygon points="2828,1749 2812,1747 2834,1740 2850,1742" fill="#74ff34"/><polygon points="2791,1756 2775,1756 2796,1746 2812,1747" fill="#73ff40"/><polygon points="2754,1767 2738,1768 2759,1756 2775,1756" fill="#69ff4a"/><polygon points="2717,1782 2701,1785 2721,1770 2738,1768" fill="#57ff53"/><polygon points="2680,1801 2664,1805 2684,1788 2701,1785" fill="#5aff78"/><polygon points="2850,1742 2834,1740 2856,1735 2872,1738" fill="#98ff2d"/><polygon points="2775,1756 2759,1756 2780,1747 2796,1746" fill="#96ff47"/><polygon points="2738,1768 2721,1770 2742,1759 2759,1756" fill="#88ff51"/><polygon points="2664,1805 2647,1810 2667,1793 2684,1788" fill="#60ff6c"/><polygon points="2812,1747 2796,1746 2818,1739 2834,1740" fill="#9cff3b"/><polygon points="2701,1785 2684,1788 2705,1774 2721,1770" fill="#72ff59"/><polygon points="2872,1738 2856,1735 2878,1733 2894,1735" fill="#b8ff26"/><polygon points="2834,1740 2818,1739 2840,1735 2856,1735" fill="#bfff35"/><polygon points="2796,1746 2780,1747 2802,1740 2818,1739" fill="#beff43"/><polygon points="2759,1756 2742,1759 2764,1749 2780,1747" fill="#b4ff4e"/><polygon points="2721,1770 2705,1774 2726,1762 2742,1759" fill="#a1ff58"/><polygon points="2684,1788 2667,1793 2688,1779 2705,1774" fill="#88ff60"/><polygon points="2647,1810 2630,1817 2650,1800 2667,1793" fill="#69ff66"/><polygon points="2894,1735 2878,1733 2901,1734 2916,1736" fill="#d2ff1d"/><polygon points="2856,1735 2840,1735 2863,1732 2878,1733" fill="#e0ff2e"/><polygon points="2818,1739 2802,1740 2824,1735 2840,1735" fill="#e2ff3d"/><polygon points="2780,1747 2764,1749 2786,1742 2802,1740" fill="#dbff4a"/><polygon points="2742,1759 2726,1762 2747,1753 2764,1749" fill="#ccff55"/><polygon points="2705,1774 2688,1779 2709,1767 2726,1762" fill="#b7ff5e"/><polygon points="2667,1793 2650,1800 2671,1786 2688,1779" fill="#9aff65"/><polygon points="2630,1817 2613,1825 2633,1808 2650,1800" fill="#79ff6b"/><polygon points="2916,1736 2901,1734 2923,1737 2939,1739" fill="#e7ff14"/><polygon points="2878,1733 2863,1732 2885,1733 2901,1734" fill="#faff26"/><polygon points="2840,1735 2824,1735 2847,1733 2863,1732" fill="#fffc36"/><polygon points="2802,1740 2786,1742 2808,1737 2824,1735" fill="#feff45"/><polygon points="2764,1749 2747,1753 2769,1746 2786,1742" fill="#f2ff52"/><polygon points="2726,1762 2709,1767 2731,1758 2747,1753" fill="#e0ff5c"/><polygon points="2688,1779 2671,1786 2692,1774 2709,1767" fill="#c7ff65"/><polygon points="2650,1800 2633,1808 2654,1794 2671,1786" fill="#a9ff6b"/><polygon points="2613,1825 2596,1834 2616,1818 2633,1808" fill="#85ff70"/><polygon points="2863,1732 2847,1733 2869,1734 2885,1733" fill="#ffe22e"/><polygon points="2824,1735 2808,1737 2830,1735 2847,1733" fill="#ffe13f"/><polygon points="2786,1742 2769,1746 2791,1741 2808,1737" fill="#ffe94d"/><polygon points="2747,1753 2731,1758 2752,1751 2769,1746" fill="#fff959"/><polygon points="2709,1767 2692,1774 2714,1764 2731,1758" fill="#efff63"/><polygon points="2671,1786 2654,1794 2675,1782 2692,1774" fill="#d4ff6b"/><polygon points="2939,1739 2923,1737 2946,1742 2961,1744" fill="#f0f914"/><polygon points="2901,1734 2885,1733 2908,1736 2923,1737" fill="#ffee1b"/><polygon points="2633,1808 2616,1818 2637,1803 2654,1794" fill="#b4ff71"/><polygon points="2596,1834 2578,1845 2598,1829 2616,1818" fill="#8fff75"/><polygon points="2961,1744 2946,1742 2969,1750 2984,1752" fill="#f2f313"/><polygon points="2847,1733 2830,1735 2853,1736 2869,1734" fill="#ffc636"/><polygon points="2808,1737 2791,1741 2814,1739 2830,1735" fill="#ffcb47"/><polygon points="2769,1746 2752,1751 2775,1746 2791,1741" fill="#ffd855"/><polygon points="2731,1758 2714,1764 2736,1757 2752,1751" fill="#ffeb60"/><polygon points="2692,1774 2675,1782 2696,1772 2714,1764" fill="#fbff69"/><polygon points="2578,1845 2561,1858 2581,1841 2598,1829" fill="#94ff79"/><polygon points="2923,1737 2908,1736 2931,1742 2946,1742" fill="#fddc14"/><polygon points="2885,1733 2869,1734 2892,1737 2908,1736" fill="#ffcb24"/><polygon points="2654,1794 2637,1803 2658,1792 2675,1782" fill="#deff70"/><polygon points="2616,1818 2598,1829 2619,1815 2637,1803" fill="#bcff76"/><polygon points="2984,1752 2969,1750 2992,1761 3007,1763" fill="#eced13"/><polygon points="2946,1742 2931,1742 2954,1750 2969,1750" fill="#f7cf13"/><polygon points="2908,1736 2892,1737 2915,1742 2931,1742" fill="#ffb818"/><polygon points="2869,1734 2853,1736 2876,1739 2892,1737" fill="#ffae2c"/><polygon points="2830,1735 2814,1739 2837,1739 2853,1736" fill="#ffb03f"/><polygon points="2791,1741 2775,1746 2797,1744 2814,1739" fill="#ffba4f"/><polygon points="2752,1751 2736,1757 2758,1752 2775,1746" fill="#ffcb5c"/><polygon points="2714,1764 2696,1772 2718,1765 2736,1757" fill="#ffe167"/><polygon points="2675,1782 2658,1792 2679,1782 2696,1772" fill="#fffb70"/><polygon points="2637,1803 2619,1815 2640,1803 2658,1792" fill="#e4ff76"/><polygon points="2598,1829 2581,1841 2602,1827 2619,1815" fill="#c0ff7a"/><polygon points="2561,1858 2543,1872 2563,1855 2581,1841" fill="#97ff7e"/><polygon points="3007,1763 2992,1761 3015,1775 3030,1777" fill="#dee612"/><polygon points="2969,1750 2954,1750 2977,1761 2992,1761" fill="#f0ca13"/><polygon points="2931,1742 2915,1742 2938,1751 2954,1750" fill="#fbad14"/><polygon points="2892,1737 2876,1739 2899,1744 2915,1742" fill="#ff9b21"/><polygon points="2853,1736 2837,1739 2860,1742 2876,1739" fill="#ff9835"/><polygon points="2814,1739 2797,1744 2820,1744 2837,1739" fill="#ffa047"/><polygon points="2775,1746 2758,1752 2780,1750 2797,1744" fill="#ffae57"/><polygon points="2736,1757 2718,1765 2741,1761 2758,1752" fill="#ffc264"/><polygon points="2696,1772 2679,1782 2701,1775 2718,1765" fill="#ffdb6e"/><polygon points="2658,1792 2640,1803 2662,1793 2679,1782" fill="#fff775"/><polygon points="2619,1815 2602,1827 2623,1815 2640,1803" fill="#e7ff7b"/><polygon points="2581,1841 2563,1855 2584,1841 2602,1827" fill="#c2ff7f"/><polygon points="2543,1872 2526,1887 2546,1871 2563,1855" fill="#99ff81"/><polygon points="2992,1761 2977,1761 3000,1774 3015,1775" fill="#e9cb12"/><polygon points="2915,1742 2899,1744 2922,1753 2938,1751" fill="#ff8e14"/><polygon points="2797,1744 2780,1750 2803,1751 2820,1744" fill="#ff9450"/><polygon points="2758,1752 2741,1761 2763,1759 2780,1750" fill="#ffa65f"/><polygon points="2640,1803 2623,1815 2644,1806 2662,1793" fill="#fff57b"/><polygon points="2563,1855 2546,1871 2566,1857 2584,1841" fill="#c2ff83"/><polygon points="3030,1777 3015,1775 3038,1791 3053,1793" fill="#cadf11"/><polygon points="2954,1750 2938,1751 2961,1762 2977,1761" fill="#f4a813"/><polygon points="2876,1739 2860,1742 2883,1748 2899,1744" fill="#ff8429"/><polygon points="2837,1739 2820,1744 2843,1747 2860,1742" fill="#ff883e"/><polygon points="2718,1765 2701,1775 2723,1770 2741,1761" fill="#ffbd6b"/><polygon points="2679,1782 2662,1793 2684,1786 2701,1775" fill="#ffd774"/><polygon points="2602,1827 2584,1841 2605,1830 2623,1815" fill="#e8ff80"/><polygon points="2526,1887 2508,1904 2528,1888 2546,1871" fill="#97ff85"/><polygon points="3053,1793 3038,1791 3061,1810 3075,1811" fill="#b0d811"/><polygon points="3015,1775 3000,1774 3023,1790 3038,1791" fill="#e2d212"/><polygon points="2977,1761 2961,1762 2985,1775 3000,1774" fill="#edaa13"/><polygon points="2938,1751 2922,1753 2946,1764 2961,1762" fill="#f88a13"/><polygon points="2899,1744 2883,1748 2906,1757 2922,1753" fill="#ff751c"/><polygon points="2860,1742 2843,1747 2866,1753 2883,1748" fill="#ff7332"/><polygon points="2820,1744 2803,1751 2826,1754 2843,1747" fill="#ff7c46"/><polygon points="2780,1750 2763,1759 2786,1759 2803,1751" fill="#ff8d58"/><polygon points="2741,1761 2723,1770 2746,1768 2763,1759" fill="#ffa266"/><polygon points="2701,1775 2684,1786 2706,1781 2723,1770" fill="#ffbb71"/><polygon points="2662,1793 2644,1806 2666,1799 2684,1786" fill="#ffd67a"/><polygon points="2623,1815 2605,1830 2626,1820 2644,1806" fill="#fff580"/><polygon points="2584,1841 2566,1857 2587,1845 2605,1830" fill="#e6ff84"/><polygon points="2546,1871 2528,1888 2548,1874 2566,1857" fill="#bfff86"/><polygon points="2508,1904 2490,1923 2510,1907 2528,1888" fill="#93ff88"/><polygon points="3075,1811 3061,1810 3084,1831 3098,1832" fill="#93d210"/><polygon points="3038,1791 3023,1790 3046,1809 3061,1810" fill="#d7db11"/><polygon points="2961,1762 2946,1764 2969,1778 2985,1775" fill="#f08c13"/><polygon points="2883,1748 2866,1753 2890,1762 2906,1757" fill="#ff6325"/><polygon points="2684,1786 2666,1799 2688,1794 2706,1781" fill="#ffbb77"/><polygon points="2605,1830 2587,1845 2608,1836 2626,1820" fill="#fff884"/><polygon points="2528,1888 2510,1907 2530,1893 2548,1874" fill="#bbff8a"/><polygon points="2490,1923 2473,1943 2492,1927 2510,1907" fill="#8dff8b"/><polygon points="3000,1774 2985,1775 3008,1792 3023,1790" fill="#e5b312"/><polygon points="2922,1753 2906,1757 2930,1768 2946,1764" fill="#fc6f14"/><polygon points="2843,1747 2826,1754 2850,1760 2866,1753" fill="#ff683b"/><polygon points="2803,1751 2786,1759 2809,1762 2826,1754" fill="#ff754e"/><polygon points="2763,1759 2746,1768 2769,1769 2786,1759" fill="#ff895f"/><polygon points="2723,1770 2706,1781 2729,1780 2746,1768" fill="#ffa16d"/><polygon points="2644,1806 2626,1820 2648,1813 2666,1799" fill="#ffd87f"/><polygon points="2566,1857 2548,1874 2569,1863 2587,1845" fill="#e3ff88"/><polygon points="3061,1810 3046,1809 3069,1831 3084,1831" fill="#b7d511"/><polygon points="2510,1907 2492,1927 2512,1914 2530,1893" fill="#b4ff8c"/><polygon points="3098,1832 3084,1831 3107,1855 3121,1856" fill="#6fcc10"/><polygon points="3023,1790 3008,1792 3031,1811 3046,1809" fill="#dec211"/><polygon points="2985,1775 2969,1778 2992,1794 3008,1792" fill="#e99712"/><polygon points="2946,1764 2930,1768 2953,1782 2969,1778" fill="#f47313"/><polygon points="2906,1757 2890,1762 2913,1773 2930,1768" fill="#ff5815"/><polygon points="2866,1753 2850,1760 2873,1769 2890,1762" fill="#ff552d"/><polygon points="2826,1754 2809,1762 2833,1768 2850,1760" fill="#ff6043"/><polygon points="2786,1759 2769,1769 2792,1772 2809,1762" fill="#ff7256"/><polygon points="2746,1768 2729,1780 2751,1780 2769,1769" fill="#ff8966"/><polygon points="2706,1781 2688,1794 2711,1792 2729,1780" fill="#ffa373"/><polygon points="2666,1799 2648,1813 2670,1809 2688,1794" fill="#ffbe7d"/><polygon points="2626,1820 2608,1836 2630,1829 2648,1813" fill="#ffdc84"/><polygon points="2587,1845 2569,1863 2590,1853 2608,1836" fill="#fffc88"/><polygon points="2548,1874 2530,1893 2551,1882 2569,1863" fill="#ddff8b"/><polygon points="2473,1943 2455,1965 2474,1949 2492,1927" fill="#8dff95"/><polygon points="3121,1856 3107,1855 3129,1881 3143,1882" fill="#49c610"/><polygon points="3084,1831 3069,1831 3092,1855 3107,1855" fill="#92ce10"/><polygon points="3046,1809 3031,1811 3054,1832 3069,1831" fill="#d7d511"/><polygon points="3008,1792 2992,1794 3016,1813 3031,1811" fill="#e1a612"/><polygon points="2969,1778 2953,1782 2977,1798 2992,1794" fill="#ec7d13"/><polygon points="2930,1768 2913,1773 2937,1787 2953,1782" fill="#f85c13"/><polygon points="2890,1762 2873,1769 2897,1780 2913,1773" fill="#ff491e"/><polygon points="2850,1760 2833,1768 2856,1777 2873,1769" fill="#ff4e35"/><polygon points="2809,1762 2792,1772 2816,1778 2833,1768" fill="#ff5c4b"/><polygon points="2769,1769 2751,1780 2775,1784 2792,1772" fill="#ff735e"/><polygon points="2729,1780 2711,1792 2734,1793 2751,1780" fill="#ff8c6d"/><polygon points="2688,1794 2670,1809 2693,1807 2711,1792" fill="#ffa779"/><polygon points="2648,1813 2630,1829 2653,1825 2670,1809" fill="#ffc382"/><polygon points="2608,1836 2590,1853 2612,1847 2630,1829" fill="#ffe188"/><polygon points="2569,1863 2551,1882 2572,1873 2590,1853" fill="#fcff8c"/><polygon points="2530,1893 2512,1914 2533,1902 2551,1882" fill="#d6ff8e"/><polygon points="2492,1927 2474,1949 2494,1936 2512,1914" fill="#abff8f"/><polygon points="2455,1965 2437,1988 2457,1972 2474,1949" fill="#8fffa3"/><polygon points="3107,1855 3092,1855 3115,1882 3129,1881" fill="#6bc910"/><polygon points="3031,1811 3016,1813 3039,1835 3054,1832" fill="#dabb11"/><polygon points="2992,1794 2977,1798 3000,1817 3016,1813" fill="#e58e12"/><polygon points="2913,1773 2897,1780 2921,1794 2937,1787" fill="#fc4914"/><polygon points="2873,1769 2856,1777 2880,1789 2897,1780" fill="#ff4026"/><polygon points="2833,1768 2816,1778 2839,1787 2856,1777" fill="#ff4a3d"/><polygon points="2751,1780 2734,1793 2757,1797 2775,1784" fill="#ff7665"/><polygon points="2711,1792 2693,1807 2716,1808 2734,1793" fill="#ff9073"/><polygon points="2670,1809 2653,1825 2675,1823 2693,1807" fill="#ffac7e"/><polygon points="2590,1853 2572,1873 2594,1866 2612,1847" fill="#ffe88b"/><polygon points="2551,1882 2533,1902 2554,1893 2572,1873" fill="#f3ff8e"/><polygon points="2474,1949 2457,1972 2477,1959 2494,1936" fill="#a1ff91"/><polygon points="3143,1882 3129,1881 3151,1910 3165,1911" fill="#1fc10f"/><polygon points="3069,1831 3054,1832 3077,1857 3092,1855" fill="#b4d110"/><polygon points="2953,1782 2937,1787 2961,1804 2977,1798" fill="#f06713"/><polygon points="2792,1772 2775,1784 2798,1790 2816,1778" fill="#ff5d52"/><polygon points="2630,1829 2612,1847 2634,1843 2653,1825" fill="#ffc986"/><polygon points="2512,1914 2494,1936 2515,1924 2533,1902" fill="#cdff90"/><polygon points="2437,1988 2419,2013 2439,1997 2457,1972" fill="#90ffb2"/><polygon points="3016,1813 3000,1817 3024,1839 3039,1835" fill="#dda411"/><polygon points="2897,1780 2880,1789 2904,1803 2921,1794" fill="#ff3915"/><polygon points="2693,1807 2675,1823 2698,1824 2716,1808" fill="#ff9778"/><polygon points="2572,1873 2554,1893 2576,1887 2594,1866" fill="#fff18e"/><polygon points="3165,1911 3151,1910 3174,1942 3187,1942" fill="#0fbd2d"/><polygon points="3129,1881 3115,1882 3137,1911 3151,1910" fill="#40c30f"/><polygon points="3092,1855 3077,1857 3100,1883 3115,1882" fill="#8acb10"/><polygon points="3054,1832 3039,1835 3062,1860 3077,1857" fill="#d3d311"/><polygon points="2977,1798 2961,1804 2984,1823 3000,1817" fill="#e87912"/><polygon points="2937,1787 2921,1794 2944,1811 2961,1804" fill="#f35413"/><polygon points="2856,1777 2839,1787 2863,1799 2880,1789" fill="#ff3c2d"/><polygon points="2816,1778 2798,1790 2822,1799 2839,1787" fill="#ff4b45"/><polygon points="2775,1784 2757,1797 2781,1803 2798,1790" fill="#ff6159"/><polygon points="2734,1793 2716,1808 2739,1811 2757,1797" fill="#ff7b6b"/><polygon points="2653,1825 2634,1843 2657,1841 2675,1823" fill="#ffb382"/><polygon points="2612,1847 2594,1866 2616,1862 2634,1843" fill="#ffd18a"/><polygon points="2533,1902 2515,1924 2536,1915 2554,1893" fill="#eaff91"/><polygon points="2494,1936 2477,1959 2497,1948 2515,1924" fill="#c2ff92"/><polygon points="2457,1972 2439,1997 2459,1984 2477,1959" fill="#94ff92"/><polygon points="2419,2013 2402,2039 2421,2024 2439,1997" fill="#92ffc3"/><polygon points="3187,1942 3174,1942 3195,1975 3209,1976" fill="#0eb95e"/><polygon points="3151,1910 3137,1911 3160,1942 3174,1942" fill="#10bf0f"/><polygon points="3077,1857 3062,1860 3086,1887 3100,1883" fill="#a7cd10"/><polygon points="3000,1817 2984,1823 3008,1845 3024,1839" fill="#e08f12"/><polygon points="2961,1804 2944,1811 2968,1831 2984,1823" fill="#eb6612"/><polygon points="2880,1789 2863,1799 2887,1813 2904,1803" fill="#ff321c"/><polygon points="2798,1790 2781,1803 2804,1812 2822,1799" fill="#ff4e4c"/><polygon points="2716,1808 2698,1824 2721,1828 2739,1811" fill="#ff8370"/><polygon points="2634,1843 2616,1862 2639,1860 2657,1841" fill="#ffbc86"/><polygon points="2594,1866 2576,1887 2598,1883 2616,1862" fill="#ffda8c"/><polygon points="2515,1924 2497,1948 2518,1939 2536,1915" fill="#deff92"/><polygon points="2439,1997 2421,2024 2441,2011 2459,1984" fill="#93ffa1"/><polygon points="2402,2039 2384,2067 2403,2052 2421,2024" fill="#93ffd5"/><polygon points="3115,1882 3100,1883 3123,1913 3137,1911" fill="#5ec50f"/><polygon points="3039,1835 3024,1839 3047,1864 3062,1860" fill="#d6be11"/><polygon points="2921,1794 2904,1803 2928,1820 2944,1811" fill="#f74613"/><polygon points="2839,1787 2822,1799 2846,1810 2863,1799" fill="#ff3c35"/><polygon points="2757,1797 2739,1811 2763,1818 2781,1803" fill="#ff6760"/><polygon points="2675,1823 2657,1841 2680,1842 2698,1824" fill="#ff9f7d"/><polygon points="2554,1893 2536,1915 2558,1909 2576,1887" fill="#fffb90"/><polygon points="2477,1959 2459,1984 2479,1973 2497,1948" fill="#b5ff93"/><polygon points="3174,1942 3160,1942 3182,1977 3195,1975" fill="#0fba40"/><polygon points="2984,1823 2968,1831 2992,1853 3008,1845" fill="#e37e12"/><polygon points="2616,1862 2598,1883 2621,1881 2639,1860" fill="#ffc689"/><polygon points="2421,2024 2403,2052 2423,2039 2441,2011" fill="#94ffb3"/><polygon points="3209,1976 3195,1975 3217,2011 3230,2011" fill="#0eb592"/><polygon points="3137,1911 3123,1913 3146,1945 3160,1942" fill="#2dc00f"/><polygon points="3100,1883 3086,1887 3109,1916 3123,1913" fill="#79c810"/><polygon points="3062,1860 3047,1864 3070,1891 3086,1887" fill="#c2d010"/><polygon points="3024,1839 3008,1845 3032,1870 3047,1864" fill="#d9ab11"/><polygon points="2944,1811 2928,1820 2952,1839 2968,1831" fill="#ee5913"/><polygon points="2904,1803 2887,1813 2911,1830 2928,1820" fill="#fa3a14"/><polygon points="2863,1799 2846,1810 2870,1825 2887,1813" fill="#ff3123"/><polygon points="2822,1799 2804,1812 2828,1824 2846,1810" fill="#ff3e3c"/><polygon points="2781,1803 2763,1818 2787,1827 2804,1812" fill="#ff5452"/><polygon points="2739,1811 2721,1828 2745,1834 2763,1818" fill="#ff6f65"/><polygon points="2698,1824 2680,1842 2703,1846 2721,1828" fill="#ff8c75"/><polygon points="2657,1841 2639,1860 2662,1862 2680,1842" fill="#ffa981"/><polygon points="2576,1887 2558,1909 2580,1905 2598,1883" fill="#ffe58f"/><polygon points="2536,1915 2518,1939 2540,1933 2558,1909" fill="#f7ff92"/><polygon points="2497,1948 2479,1973 2500,1965 2518,1939" fill="#d1ff94"/><polygon points="2459,1984 2441,2011 2461,2000 2479,1973" fill="#a6ff94"/><polygon points="2384,2067 2367,2096 2385,2081 2403,2052" fill="#93ffe9"/><polygon points="3195,1975 3182,1977 3204,2013 3217,2011" fill="#0eb675"/><polygon points="3160,1942 3146,1945 3168,1979 3182,1977" fill="#0fbc24"/><polygon points="3123,1913 3109,1916 3131,1948 3146,1945" fill="#48c20f"/><polygon points="3086,1887 3070,1891 3094,1921 3109,1916" fill="#92ca10"/><polygon points="3047,1864 3032,1870 3055,1898 3070,1891" fill="#d2cc10"/><polygon points="3008,1845 2992,1853 3016,1878 3032,1870" fill="#dc9b11"/><polygon points="2968,1831 2952,1839 2976,1862 2992,1853" fill="#e67112"/><polygon points="2928,1820 2911,1830 2935,1850 2952,1839" fill="#f24e13"/><polygon points="2887,1813 2870,1825 2894,1842 2911,1830" fill="#fe3314"/><polygon points="2846,1810 2828,1824 2853,1838 2870,1825" fill="#ff342a"/><polygon points="2804,1812 2787,1827 2811,1839 2828,1824" fill="#ff4542"/><polygon points="2763,1818 2745,1834 2769,1843 2787,1827" fill="#ff5e58"/><polygon points="2721,1828 2703,1846 2727,1852 2745,1834" fill="#ff796a"/><polygon points="2680,1842 2662,1862 2685,1866 2703,1846" fill="#ff9779"/><polygon points="2639,1860 2621,1881 2644,1883 2662,1862" fill="#ffb484"/><polygon points="2598,1883 2580,1905 2602,1904 2621,1881" fill="#ffd28b"/><polygon points="2558,1909 2540,1933 2562,1930 2580,1905" fill="#fff190"/><polygon points="2518,1939 2500,1965 2521,1959 2540,1933" fill="#e9ff93"/><polygon points="2479,1973 2461,2000 2482,1992 2500,1965" fill="#c2ff95"/><polygon points="2441,2011 2423,2039 2443,2028 2461,2000" fill="#96ff95"/><polygon points="2403,2052 2385,2081 2405,2068 2423,2039" fill="#94ffc6"/><polygon points="3182,1977 3168,1979 3190,2016 3204,2013" fill="#0eb85a"/><polygon points="3146,1945 3131,1948 3154,1983 3168,1979" fill="#13be0f"/><polygon points="3109,1916 3094,1921 3116,1954 3131,1948" fill="#5fc50f"/><polygon points="3070,1891 3055,1898 3078,1928 3094,1921" fill="#a8cc10"/><polygon points="3032,1870 3016,1878 3039,1905 3055,1898" fill="#d5bd11"/><polygon points="2992,1853 2976,1862 3000,1887 3016,1878" fill="#de8e11"/><polygon points="2952,1839 2935,1850 2959,1873 2976,1862" fill="#e96612"/><polygon points="2911,1830 2894,1842 2918,1862 2935,1850" fill="#f54613"/><polygon points="2870,1825 2853,1838 2877,1856 2894,1842" fill="#ff3118"/><polygon points="2828,1824 2811,1839 2835,1853 2853,1838" fill="#ff3a31"/><polygon points="2787,1827 2769,1843 2793,1855 2811,1839" fill="#ff4e48"/><polygon points="2745,1834 2727,1852 2751,1862 2769,1843" fill="#ff685d"/><polygon points="2703,1846 2685,1866 2709,1872 2727,1852" fill="#ff856e"/><polygon points="2662,1862 2644,1883 2667,1887 2685,1866" fill="#ffa27c"/><polygon points="2621,1881 2602,1904 2625,1906 2644,1883" fill="#ffc086"/><polygon points="2580,1905 2562,1930 2584,1929 2602,1904" fill="#ffdf8d"/><polygon points="2540,1933 2521,1959 2543,1955 2562,1930" fill="#ffff92"/><polygon points="2500,1965 2482,1992 2503,1986 2521,1959" fill="#daff94"/><polygon points="2461,2000 2443,2028 2464,2020 2482,1992" fill="#b1ff95"/><polygon points="2423,2039 2405,2068 2425,2058 2443,2028" fill="#95ffa8"/><polygon points="3168,1979 3154,1983 3176,2020 3190,2016" fill="#0fba42"/><polygon points="3131,1948 3116,1954 3139,1988 3154,1983" fill="#29c00f"/><polygon points="3094,1921 3078,1928 3101,1960 3116,1954" fill="#74c710"/><polygon points="3055,1898 3039,1905 3063,1936 3078,1928" fill="#bbce10"/><polygon points="3016,1878 3000,1887 3023,1915 3039,1905" fill="#d7b111"/><polygon points="2976,1862 2959,1873 2983,1898 3000,1887" fill="#e18512"/><polygon points="2935,1850 2918,1862 2942,1885 2959,1873" fill="#ec6013"/><polygon points="2894,1842 2877,1856 2901,1876 2918,1862" fill="#f84313"/><polygon points="2853,1838 2835,1853 2859,1871 2877,1856" fill="#ff371e"/><polygon points="2811,1839 2793,1855 2817,1870 2835,1853" fill="#ff4336"/><polygon points="2769,1843 2751,1862 2775,1874 2793,1855" fill="#ff594d"/><polygon points="2727,1852 2709,1872 2733,1882 2751,1862" fill="#ff7561"/><polygon points="2685,1866 2667,1887 2691,1894 2709,1872" fill="#ff9272"/><polygon points="2644,1883 2625,1906 2649,1910 2667,1887" fill="#ffb07e"/><polygon points="2602,1904 2584,1929 2607,1930 2625,1906" fill="#ffce88"/><polygon points="2562,1930 2543,1955 2566,1954 2584,1929" fill="#ffed8e"/><polygon points="2521,1959 2503,1986 2525,1983 2543,1955" fill="#efff92"/><polygon points="2482,1992 2464,2020 2485,2015 2503,1986" fill="#c9ff94"/><polygon points="2443,2028 2425,2058 2446,2050 2464,2020" fill="#9fff95"/><polygon points="3116,1954 3101,1960 3124,1995 3139,1988" fill="#3dc20f"/><polygon points="3078,1928 3063,1936 3086,1969 3101,1960" fill="#86c910"/><polygon points="3000,1887 2983,1898 3007,1926 3023,1915" fill="#daa811"/><polygon points="2918,1862 2901,1876 2925,1899 2942,1885" fill="#ef5e13"/><polygon points="2877,1856 2859,1871 2884,1891 2901,1876" fill="#fb4414"/><polygon points="2835,1853 2817,1870 2842,1888 2859,1871" fill="#ff4124"/><polygon points="2793,1855 2775,1874 2799,1889 2817,1870" fill="#ff4f3c"/><polygon points="2751,1862 2733,1882 2757,1894 2775,1874" fill="#ff6752"/><polygon points="2709,1872 2691,1894 2715,1903 2733,1882" fill="#ff8265"/><polygon points="2625,1906 2607,1930 2630,1934 2649,1910" fill="#ffbe80"/><polygon points="2543,1955 2525,1983 2547,1982 2566,1954" fill="#fffe8f"/><polygon points="2503,1986 2485,2015 2507,2012 2525,1983" fill="#ddff92"/><polygon points="3154,1983 3139,1988 3161,2026 3176,2020" fill="#0fbb2e"/><polygon points="3039,1905 3023,1915 3047,1945 3063,1936" fill="#cbd110"/><polygon points="2959,1873 2942,1885 2966,1910 2983,1898" fill="#e47f12"/><polygon points="2667,1887 2649,1910 2672,1917 2691,1894" fill="#ffa174"/><polygon points="2584,1929 2566,1954 2589,1956 2607,1930" fill="#ffdd89"/><polygon points="2464,2020 2446,2050 2467,2045 2485,2015" fill="#b6ff94"/><polygon points="3101,1960 3086,1969 3109,2004 3124,1995" fill="#4ec40f"/><polygon points="2901,1876 2884,1891 2908,1914 2925,1899" fill="#f25f13"/><polygon points="2859,1871 2842,1888 2866,1908 2884,1891" fill="#fe4914"/><polygon points="2775,1874 2757,1894 2781,1909 2799,1889" fill="#ff5e40"/><polygon points="2733,1882 2715,1903 2739,1916 2757,1894" fill="#ff7655"/><polygon points="2525,1983 2507,2012 2529,2011 2547,1982" fill="#eeff8f"/><polygon points="3139,1988 3124,1995 3147,2033 3161,2026" fill="#0fbd1b"/><polygon points="3063,1936 3047,1945 3070,1978 3086,1969" fill="#95cb10"/><polygon points="3023,1915 3007,1926 3031,1956 3047,1945" fill="#d3ce11"/><polygon points="2983,1898 2966,1910 2990,1938 3007,1926" fill="#dda311"/><polygon points="2942,1885 2925,1899 2949,1924 2966,1910" fill="#e77c12"/><polygon points="2817,1870 2799,1889 2824,1906 2842,1888" fill="#ff4d29"/><polygon points="2691,1894 2672,1917 2696,1926 2715,1903" fill="#ff9368"/><polygon points="2649,1910 2630,1934 2654,1942 2672,1917" fill="#ffb076"/><polygon points="2607,1930 2589,1956 2612,1961 2630,1934" fill="#ffcf81"/><polygon points="2566,1954 2547,1982 2570,1984 2589,1956" fill="#ffee89"/><polygon points="2485,2015 2467,2045 2488,2042 2507,2012" fill="#c9ff92"/><polygon points="2884,1891 2866,1908 2891,1931 2908,1914" fill="#f56413"/><polygon points="2757,1894 2739,1916 2763,1931 2781,1909" fill="#ff6f44"/><polygon points="3124,1995 3109,2004 3132,2041 3147,2033" fill="#13bf0f"/><polygon points="3086,1969 3070,1978 3093,2014 3109,2004" fill="#5cc610"/><polygon points="3047,1945 3031,1956 3054,1990 3070,1978" fill="#a1cd10"/><polygon points="3007,1926 2990,1938 3014,1969 3031,1956" fill="#d6ca11"/><polygon points="2966,1910 2949,1924 2974,1953 2990,1938" fill="#dfa012"/><polygon points="2925,1899 2908,1914 2932,1940 2949,1924" fill="#ea7d12"/><polygon points="2842,1888 2824,1906 2848,1927 2866,1908" fill="#ff5416"/><polygon points="2799,1889 2781,1909 2806,1927 2824,1906" fill="#ff5c2e"/><polygon points="2715,1903 2696,1926 2720,1939 2739,1916" fill="#ff8858"/><polygon points="2672,1917 2654,1942 2678,1951 2696,1926" fill="#ffa46a"/><polygon points="2630,1934 2612,1961 2635,1968 2654,1942" fill="#ffc277"/><polygon points="2589,1956 2570,1984 2593,1989 2612,1961" fill="#ffe182"/><polygon points="2547,1982 2529,2011 2552,2013 2570,1984" fill="#fcff89"/><polygon points="2507,2012 2488,2042 2511,2042 2529,2011" fill="#daff8e"/><polygon points="3109,2004 3093,2014 3116,2052 3132,2041" fill="#20c10f"/><polygon points="3070,1978 3054,1990 3078,2025 3093,2014" fill="#67c810"/><polygon points="3031,1956 3014,1969 3038,2003 3054,1990" fill="#a9d010"/><polygon points="2990,1938 2974,1953 2998,1984 3014,1969" fill="#d8c911"/><polygon points="2949,1924 2932,1940 2957,1968 2974,1953" fill="#e2a212"/><polygon points="2908,1914 2891,1931 2915,1957 2932,1940" fill="#ec8313"/><polygon points="2866,1908 2848,1927 2873,1950 2891,1931" fill="#f76d13"/><polygon points="2824,1906 2806,1927 2830,1947 2848,1927" fill="#ff641b"/><polygon points="2781,1909 2763,1931 2788,1949 2806,1927" fill="#ff6d32"/><polygon points="2739,1916 2720,1939 2745,1954 2763,1931" fill="#ff8248"/><polygon points="2696,1926 2678,1951 2702,1964 2720,1939" fill="#ff9b5b"/><polygon points="2654,1942 2635,1968 2659,1978 2678,1951" fill="#ffb86b"/><polygon points="2612,1961 2593,1989 2617,1996 2635,1968" fill="#ffd678"/><polygon points="2570,1984 2552,2013 2575,2018 2593,1989" fill="#fff582"/><polygon points="2529,2011 2511,2042 2533,2044 2552,2013" fill="#e7ff89"/><polygon points="3054,1990 3038,2003 3062,2038 3078,2025" fill="#6fca10"/><polygon points="3014,1969 2998,1984 3022,2017 3038,2003" fill="#afd210"/><polygon points="2932,1940 2915,1957 2939,1986 2957,1968" fill="#e4a812"/><polygon points="2848,1927 2830,1947 2855,1971 2873,1950" fill="#f97a14"/><polygon points="2806,1927 2788,1949 2812,1969 2830,1947" fill="#ff7620"/><polygon points="2720,1939 2702,1964 2726,1979 2745,1954" fill="#ff974a"/><polygon points="2635,1968 2617,1996 2641,2006 2659,1978" fill="#ffce6c"/><polygon points="2593,1989 2575,2018 2598,2026 2617,1996" fill="#ffec78"/><polygon points="3093,2014 3078,2025 3101,2063 3116,2052" fill="#2ac30f"/><polygon points="2974,1953 2957,1968 2981,1999 2998,1984" fill="#dbcb11"/><polygon points="2891,1931 2873,1950 2897,1976 2915,1957" fill="#ef8c13"/><polygon points="2763,1931 2745,1954 2769,1972 2788,1949" fill="#ff8336"/><polygon points="2678,1951 2659,1978 2684,1991 2702,1964" fill="#ffb15d"/><polygon points="2552,2013 2533,2044 2556,2049 2575,2018" fill="#f2ff81"/><polygon points="3038,2003 3022,2017 3045,2053 3062,2038" fill="#73cc10"/><polygon points="2830,1947 2812,1969 2837,1993 2855,1971" fill="#fc8c14"/><polygon points="2617,1996 2598,2026 2622,2036 2641,2006" fill="#ffe56c"/><polygon points="3078,2025 3062,2038 3085,2077 3101,2063" fill="#31c50f"/><polygon points="2998,1984 2981,1999 3005,2033 3022,2017" fill="#b1d411"/><polygon points="2957,1968 2939,1986 2964,2017 2981,1999" fill="#ddd111"/><polygon points="2915,1957 2897,1976 2922,2005 2939,1986" fill="#e7b112"/><polygon points="2873,1950 2855,1971 2880,1997 2897,1976" fill="#f19a13"/><polygon points="2788,1949 2769,1972 2794,1993 2812,1969" fill="#ff8d23"/><polygon points="2745,1954 2726,1979 2751,1998 2769,1972" fill="#ff9a39"/><polygon points="2702,1964 2684,1991 2708,2006 2726,1979" fill="#ffaf4d"/><polygon points="2659,1978 2641,2006 2665,2019 2684,1991" fill="#ffc95e"/><polygon points="2575,2018 2556,2049 2580,2057 2598,2026" fill="#faff78"/><polygon points="3062,2038 3045,2053 3069,2091 3085,2077" fill="#34c710"/><polygon points="3022,2017 3005,2033 3029,2069 3045,2053" fill="#75ce10"/><polygon points="2981,1999 2964,2017 2988,2051 3005,2033" fill="#afd611"/><polygon points="2939,1986 2922,2005 2946,2036 2964,2017" fill="#dfda12"/><polygon points="2897,1976 2880,1997 2904,2026 2922,2005" fill="#e9bf12"/><polygon points="2855,1971 2837,1993 2862,2019 2880,1997" fill="#f3ac13"/><polygon points="2812,1969 2794,1993 2819,2017 2837,1993" fill="#fea214"/><polygon points="2769,1972 2751,1998 2776,2019 2794,1993" fill="#ffa627"/><polygon points="2726,1979 2708,2006 2733,2025 2751,1998" fill="#ffb43b"/><polygon points="2684,1991 2665,2019 2689,2035 2708,2006" fill="#ffc94e"/><polygon points="2641,2006 2622,2036 2646,2049 2665,2019" fill="#ffe35f"/><polygon points="2598,2026 2580,2057 2604,2067 2622,2036" fill="#feff6c"/><polygon points="3045,2053 3029,2069 3052,2108 3069,2091" fill="#35c910"/><polygon points="3005,2033 2988,2051 3012,2087 3029,2069" fill="#72d010"/><polygon points="2964,2017 2946,2036 2971,2070 2988,2051" fill="#aad911"/><polygon points="2922,2005 2904,2026 2929,2057 2946,2036" fill="#dbe112"/><polygon points="2880,1997 2862,2019 2886,2048 2904,2026" fill="#ebd012"/><polygon points="2837,1993 2819,2017 2844,2043 2862,2019" fill="#f5c113"/><polygon points="2794,1993 2776,2019 2801,2042 2819,2017" fill="#ffbd15"/><polygon points="2751,1998 2733,2025 2757,2046 2776,2019" fill="#ffc22a"/><polygon points="2708,2006 2689,2035 2714,2053 2733,2025" fill="#ffd13e"/><polygon points="2665,2019 2646,2049 2671,2065 2689,2035" fill="#ffe650"/><polygon points="2622,2036 2604,2067 2628,2081 2646,2049" fill="#feff5f"/><polygon points="3029,2069 3012,2087 3035,2126 3052,2108" fill="#33cb10"/><polygon points="2988,2051 2971,2070 2995,2107 3012,2087" fill="#6cd311"/><polygon points="2946,2036 2929,2057 2953,2091 2971,2070" fill="#a0db11"/><polygon points="2904,2026 2886,2048 2911,2080 2929,2057" fill="#cee412"/><polygon points="2862,2019 2844,2043 2868,2072 2886,2048" fill="#ede613"/><polygon points="2819,2017 2801,2042 2825,2069 2844,2043" fill="#f7db13"/><polygon points="2776,2019 2757,2046 2782,2069 2801,2042" fill="#ffdb18"/><polygon points="2733,2025 2714,2053 2739,2074 2757,2046" fill="#ffe12c"/><polygon points="2689,2035 2671,2065 2695,2083 2714,2053" fill="#fff03f"/><polygon points="2646,2049 2628,2081 2652,2096 2671,2065" fill="#f8ff50"/><polygon points="3012,2087 2995,2107 3019,2145 3035,2126" fill="#2ccd10"/><polygon points="2971,2070 2953,2091 2977,2128 2995,2107" fill="#63d511"/><polygon points="2929,2057 2911,2080 2936,2114 2953,2091" fill="#93dd11"/><polygon points="2886,2048 2868,2072 2893,2104 2911,2080" fill="#bde612"/><polygon points="2844,2043 2825,2069 2850,2098 2868,2072" fill="#dfef13"/><polygon points="2801,2042 2782,2069 2807,2096 2825,2069" fill="#f8f914"/><polygon points="2757,2046 2739,2074 2764,2098 2782,2069" fill="#fffc1b"/><polygon points="2714,2053 2695,2083 2720,2105 2739,2074" fill="#fbff2f"/><polygon points="2671,2065 2652,2096 2677,2115 2695,2083" fill="#ecff41"/><polygon points="2995,2107 2977,2128 3001,2167 3019,2145" fill="#22cf10"/><polygon points="2953,2091 2936,2114 2960,2150 2977,2128" fill="#55d711"/><polygon points="2911,2080 2893,2104 2918,2138 2936,2114" fill="#82df11"/><polygon points="2868,2072 2850,2098 2875,2130 2893,2104" fill="#a7e812"/><polygon points="2825,2069 2807,2096 2832,2125 2850,2098" fill="#c4f113"/><polygon points="2782,2069 2764,2098 2789,2125 2807,2096" fill="#d8fa14"/><polygon points="2739,2074 2720,2105 2745,2129 2764,2098" fill="#ddff1e"/><polygon points="2695,2083 2677,2115 2702,2137 2720,2105" fill="#d6ff30"/><polygon points="2977,2128 2960,2150 2984,2189 3001,2167" fill="#15d110"/><polygon points="2936,2114 2918,2138 2942,2175 2960,2150" fill="#44d911"/><polygon points="2893,2104 2875,2130 2900,2164 2918,2138" fill="#6ce112"/><polygon points="2807,2096 2789,2125 2814,2154 2832,2125" fill="#a6f313"/><polygon points="2764,2098 2745,2129 2770,2155 2789,2125" fill="#b3fc14"/><polygon points="2720,2105 2702,2137 2727,2161 2745,2129" fill="#b6ff20"/><polygon points="2850,2098 2832,2125 2857,2157 2875,2130" fill="#8eea12"/><polygon points="2918,2138 2900,2164 2924,2201 2942,2175" fill="#2fdb11"/><polygon points="2789,2125 2770,2155 2795,2185 2814,2154" fill="#82f413"/><polygon points="2960,2150 2942,2175 2967,2214 2984,2189" fill="#11d31f"/><polygon points="2875,2130 2857,2157 2882,2191 2900,2164" fill="#54e312"/><polygon points="2832,2125 2814,2154 2839,2186 2857,2157" fill="#70eb12"/><polygon points="2745,2129 2727,2161 2752,2187 2770,2155" fill="#8afd14"/><polygon points="2942,2175 2924,2201 2949,2240 2967,2214" fill="#11d534"/><polygon points="2900,2164 2882,2191 2907,2228 2924,2201" fill="#16dd11"/><polygon points="2857,2157 2839,2186 2864,2220 2882,2191" fill="#36e512"/><polygon points="2814,2154 2795,2185 2820,2217 2839,2186" fill="#4ded13"/><polygon points="2770,2155 2752,2187 2777,2217 2795,2185" fill="#5bf613"/><polygon points="2882,2191 2864,2220 2888,2257 2907,2228" fill="#11de2b"/><polygon points="2839,2186 2820,2217 2845,2251 2864,2220" fill="#14e612"/><polygon points="2924,2201 2907,2228 2931,2267 2949,2240" fill="#11d74d"/><polygon points="2795,2185 2777,2217 2802,2249 2820,2217" fill="#26ee13"/><polygon points="2864,2220 2845,2251 2870,2288 2888,2257" fill="#12e04d"/><polygon points="2907,2228 2888,2257 2913,2296 2931,2267" fill="#11d96a"/><polygon points="2820,2217 2802,2249 2827,2283 2845,2251" fill="#12e837"/><polygon points="2888,2257 2870,2288 2895,2327 2913,2296" fill="#11da8c"/><polygon points="2845,2251 2827,2283 2852,2320 2870,2288" fill="#12e273"/><polygon points="2870,2288 2852,2320 2877,2359 2895,2327" fill="#11dcb2"/></g><circle cx="280.45" cy="180.68" r="1" fill="#c00"/><circle cx="323.18" cy="199.4" r="1" fill="#c00"/><circle cx="287.7" cy="234.59" r="1" fill="#c00"/><circle cx="236.43" cy="207.33" r="0.9" fill="#fcc" stroke="#d66" stroke-width="0.3"/><text x="288" y="147.5" font-size="3.1" fill="#000" text-anchor="middle" font-weight="bold" textLength="14.1" lengthAdjust="spacingAndGlyphs">3D Surface</text><text x="222.18" y="207.86" font-size="2.6" fill="#000" text-anchor="middle" transform="rotate(-90 222.18 207.86)" textLength="19.78" lengthAdjust="spacingAndGlyphs">Microencapsulation rate</text><text x="250.5" y="256.03" font-size="2.6" fill="#000" text-anchor="middle" textLength="53.46" lengthAdjust="spacingAndGlyphs">C: Different ratio of whey protein concentrate and sodium alginate</text><text x="302.7" y="246.83" font-size="2.6" fill="#000" textLength="29.16" lengthAdjust="spacingAndGlyphs">A: Different sodium alginate content</text><text x="246.3" y="237.36" font-size="1.7" fill="#333" text-anchor="end">0.1</text><text x="255.71" y="242.52" font-size="1.7" fill="#333" text-anchor="end">0.2</text><text x="265.42" y="247.85" font-size="1.7" fill="#333" text-anchor="end">0.3</text><text x="275.45" y="253.34" font-size="1.7" fill="#333" text-anchor="end">0.4</text><text x="316.69" y="229.56" font-size="1.7" fill="#333">0.1</text><text x="310.24" y="236.3" font-size="1.7" fill="#333">0.2</text><text x="303.5" y="243.32" font-size="1.7" fill="#333">0.3</text><text x="296.46" y="250.66" font-size="1.7" fill="#333">0.4</text><text transform="translate(348 139.4) scale(.94 1)" class="L">G</text><text x="353.2" y="143.95" font-size="2.4" fill="#222" textLength="17.64" lengthAdjust="spacingAndGlyphs">Factor Coding: Actual</text><text x="353.2" y="149.45" font-size="2.4" fill="#000" font-weight="bold" textLength="21.16" lengthAdjust="spacingAndGlyphs">Microencapsulation rate</text><circle cx="355" cy="151.6" r="1" fill="#a00"/><text x="357" y="152.45" font-size="2.4" fill="#e33" textLength="11.05" lengthAdjust="spacingAndGlyphs">Design Points</text><text x="353.2" y="158.15" font-size="2.4" fill="#33f" textLength="2.7" lengthAdjust="spacingAndGlyphs">0.5</text><rect x="357.7" y="155.95" width="7.1" height="2.7" fill="url(#cbar)"/><text x="365.4" y="158.15" font-size="2.4" fill="#f33" textLength="3.6" lengthAdjust="spacingAndGlyphs">0.95</text><text x="353.2" y="160.85" font-size="2.4" fill="#222" textLength="5.1" lengthAdjust="spacingAndGlyphs">X1 = A</text><text x="353.2" y="163.65" font-size="2.4" fill="#222" textLength="5.1" lengthAdjust="spacingAndGlyphs">X2 = B</text><text x="353.2" y="169.65" font-size="2.4" fill="#000" font-weight="bold" textLength="12.6" lengthAdjust="spacingAndGlyphs">Actual Factors</text><text x="353.2" y="172.55" font-size="2.4" fill="#222" textLength="5.95" lengthAdjust="spacingAndGlyphs">A = 2.5</text><text x="353.2" y="175.25" font-size="2.4" fill="#222" textLength="4.25" lengthAdjust="spacingAndGlyphs">C = 1</text><rect x="409.1" y="148.8" width="98.9" height="98.6" fill="url(#rg4)"/><g clip-path="url(#cp4)" fill="none" stroke="#2a2a10" stroke-width="0.5"><ellipse cx="458.1" cy="197.8" rx="22.01" ry="35.99"/><ellipse cx="458.1" cy="197.8" rx="38.12" ry="62.33"/><ellipse cx="458.1" cy="197.8" rx="49.21" ry="80.47"/><ellipse cx="458.1" cy="197.8" rx="58.23" ry="95.21"/></g><rect x="409.1" y="148.8" width="98.9" height="98.6" fill="none" stroke="#aaa" stroke-width="0.3"/><rect x="409" y="179.35" width="2" height="1.3" fill="#ddd" stroke="#999" stroke-width="0.2"/><rect x="419.7" y="197.15" width="2" height="1.3" fill="#ddd" stroke="#999" stroke-width="0.2"/><rect x="496.1" y="197.15" width="2" height="1.3" fill="#ddd" stroke="#999" stroke-width="0.2"/><rect x="503" y="167.35" width="2" height="1.3" fill="#ddd" stroke="#999" stroke-width="0.2"/><rect x="503" y="227.35" width="2" height="1.3" fill="#ddd" stroke="#999" stroke-width="0.2"/><rect x="456" y="231.85" width="2" height="1.3" fill="#ddd" stroke="#999" stroke-width="0.2"/><circle cx="409.1" cy="148.8" r="0.9" fill="#a00"/><circle cx="508" cy="148.8" r="0.9" fill="#a00"/><circle cx="409.1" cy="247.4" r="0.9" fill="#a00"/><circle cx="508" cy="247.4" r="0.9" fill="#a00"/><circle cx="458.1" cy="197.8" r="0.9" fill="#400"/><text x="458.55" y="146.9" font-size="3" fill="#000" text-anchor="middle" textLength="31.74" lengthAdjust="spacingAndGlyphs">Microencapsulation rate</text><line x1="409.1" y1="247.4" x2="409.1" y2="248.6" stroke="#999" stroke-width="0.3"/><text x="409.1" y="252.6" font-size="1.9" fill="#333" text-anchor="middle">0.0</text><line x1="433.83" y1="247.4" x2="433.83" y2="248.6" stroke="#999" stroke-width="0.3"/><text x="433.83" y="252.6" font-size="1.9" fill="#333" text-anchor="middle">0.1</text><line x1="458.55" y1="247.4" x2="458.55" y2="248.6" stroke="#999" stroke-width="0.3"/><text x="458.55" y="252.6" font-size="1.9" fill="#333" text-anchor="middle">0.2</text><line x1="483.27" y1="247.4" x2="483.27" y2="248.6" stroke="#999" stroke-width="0.3"/><text x="483.27" y="252.6" font-size="1.9" fill="#333" text-anchor="middle">0.3</text><line x1="508" y1="247.4" x2="508" y2="248.6" stroke="#999" stroke-width="0.3"/><text x="508" y="252.6" font-size="1.9" fill="#333" text-anchor="middle">0.4</text><line x1="407.9" y1="247.4" x2="409.1" y2="247.4" stroke="#999" stroke-width="0.3"/><text x="406.8" y="248.1" font-size="1.9" fill="#333" text-anchor="end">0.0</text><line x1="407.9" y1="222.75" x2="409.1" y2="222.75" stroke="#999" stroke-width="0.3"/><text x="406.8" y="223.45" font-size="1.9" fill="#333" text-anchor="end">0.1</text><line x1="407.9" y1="198.1" x2="409.1" y2="198.1" stroke="#999" stroke-width="0.3"/><text x="406.8" y="198.8" font-size="1.9" fill="#333" text-anchor="end">0.2</text><line x1="407.9" y1="173.45" x2="409.1" y2="173.45" stroke="#999" stroke-width="0.3"/><text x="406.8" y="174.15" font-size="1.9" fill="#333" text-anchor="end">0.3</text><line x1="407.9" y1="148.8" x2="409.1" y2="148.8" stroke="#999" stroke-width="0.3"/><text x="406.8" y="149.5" font-size="1.9" fill="#333" text-anchor="end">0.4</text><text x="458.55" y="260.6" font-size="3" fill="#000" text-anchor="middle" textLength="50.76" lengthAdjust="spacingAndGlyphs">B: Different ratio of CaCl2 and sodium alginate</text><text x="394.1" y="198.1" font-size="3" fill="#000" text-anchor="middle" transform="rotate(-90 394.1 198.1)" textLength="38.5" lengthAdjust="spacingAndGlyphs">D: Different ratio of water content</text><text transform="translate(513 139.4) scale(.94 1)" class="L">H</text><text x="519.5" y="145.65" font-size="2.4" fill="#222" textLength="17.64" lengthAdjust="spacingAndGlyphs">Factor Coding: Actual</text><text x="519.5" y="151.25" font-size="2.4" fill="#000" font-weight="bold" textLength="21.16" lengthAdjust="spacingAndGlyphs">Microencapsulation rate</text><text x="519.5" y="154.05" font-size="2.4" fill="#222" textLength="11.05" lengthAdjust="spacingAndGlyphs">Design Points</text><circle cx="521.8" cy="156.1" r="0.95" fill="#b00"/><text x="523.1" y="156.95" font-size="2.4" fill="#e33" textLength="12.48" lengthAdjust="spacingAndGlyphs">Above Surface</text><circle cx="521.8" cy="159" r="0.8" fill="none" stroke="#d66" stroke-width="0.35"/><text x="523.1" y="159.85" font-size="2.4" fill="#e55" textLength="12.48" lengthAdjust="spacingAndGlyphs">Below Surface</text><text x="519.5" y="162.85" font-size="2.4" fill="#33f" textLength="2.7" lengthAdjust="spacingAndGlyphs">0.5</text><rect x="524" y="160.65" width="7.1" height="2.7" fill="url(#cbar)"/><text x="531.7" y="162.85" font-size="2.4" fill="#f33" textLength="3.6" lengthAdjust="spacingAndGlyphs">0.95</text><text x="519.5" y="168.45" font-size="2.4" fill="#222" textLength="5.1" lengthAdjust="spacingAndGlyphs">X1 = A</text><text x="519.5" y="171.05" font-size="2.4" fill="#222" textLength="5.1" lengthAdjust="spacingAndGlyphs">X2 = B</text><text x="519.5" y="176.85" font-size="2.4" fill="#000" font-weight="bold" textLength="12.6" lengthAdjust="spacingAndGlyphs">Actual Factors</text><text x="519.5" y="179.65" font-size="2.4" fill="#222" textLength="4.25" lengthAdjust="spacingAndGlyphs">C = 1</text><text x="519.5" y="182.35" font-size="2.4" fill="#222" textLength="4.25" lengthAdjust="spacingAndGlyphs">D = 5</text><polygon points="616.33,204.77 578.17,236.37 573.34,185.57 615.71,156.14" fill="#fff"/><path d="M616.33 204.77L615.71 156.14M607.48 212.1L605.96 162.92M598.19 219.79L595.68 170.06M588.43 227.87L584.82 177.6M578.17 236.37L573.34 185.57M616.33 204.77L615.71 156.14M628.12 210.06L628.65 161.03M640.32 215.53L642.1 166.1M652.97 221.2L656.08 171.37M666.07 227.08L670.62 176.86M578.17 236.37L616.33 204.77L666.07 227.08M577.62 230.57L616.26 199.17L666.59 221.33M577.05 224.63L616.19 193.44L667.13 215.44M576.47 218.53L616.11 187.58L667.67 209.41M575.88 212.28L616.03 181.58L668.23 203.22M575.27 205.86L615.96 175.45L668.81 196.88M574.64 199.28L615.88 169.16L669.4 190.38M574 192.52L615.79 162.73L670 183.71M573.34 185.57L615.71 156.14L670.62 176.86" fill="none" stroke="#999" stroke-width="0.4"/><polygon points="616.33,204.77 578.17,236.37 630.38,263.77 666.07,227.08" fill="#616161"/><path d="M614.1 239.6 615.4 240.2 616.7 240.8 618.0 241.3 619.4 241.8 620.8 242.3 622.2 242.7 623.6 243.0 625.0 243.3 626.4 243.6 627.8 243.8 629.1 244.0 630.5 244.1 631.8 244.1 633.0 244.1 634.3 244.0 635.4 243.9 636.5 243.7 637.6 243.5 638.5 243.2 639.4 242.9 640.3 242.5 641.0 242.1 641.7 241.6 642.3 241.1 642.7 240.5 643.1 240.0 643.5 239.3 643.7 238.7 643.8 238.0 643.8 237.3 643.8 236.5 643.6 235.8 643.4 235.0 643.1 234.3 642.7 233.5 642.2 232.7 641.6 231.9 640.9 231.1 640.2 230.3 639.4 229.6 638.5 228.8 637.6 228.1 636.6 227.4 635.6 226.7 634.5 226.0 633.4 225.3 632.2 224.7 631.0 224.1 629.7 223.6 628.5 223.0 627.2 222.6 625.9 222.1 624.6 221.7 623.2 221.3 621.9 221.0 620.6 220.8 619.3 220.5 618.0 220.3 616.8 220.2 615.5 220.1 614.3 220.1 613.2 220.1 612.0 220.2 610.9 220.3 609.9 220.4 608.9 220.6 608.0 220.9 607.1 221.1 606.3 221.5 605.5 221.9 604.9 222.3 604.3 222.7 603.7 223.2 603.3 223.8 602.9 224.3 602.6 224.9 602.4 225.6 602.3 226.2 602.3 226.9 602.3 227.6 602.5 228.4 602.7 229.1 603.0 229.9 603.4 230.6 603.9 231.4 604.5 232.2 605.1 233.0 605.9 233.8 606.7 234.6 607.5 235.3 608.5 236.1 609.5 236.8 610.6 237.6 611.7 238.3 612.9 238.9 614.1 239.6" fill="none" stroke="#cc5600" stroke-width="0.5"/><path d="M610.7 242.7 612.5 243.5 614.3 244.4 616.2 245.1 618.1 245.8 620.0 246.5 622.0 247.0 624.0 247.6 625.9 248.0 627.9 248.4 629.8 248.7 631.7 248.9 633.6 249.0 635.4 249.1 637.2 249.1 638.9 249.0 640.5 248.8 642.0 248.6 643.5 248.2 644.8 247.8 646.1 247.4M651.9 241.4 652.0 240.5 652.1 239.5 652.0 238.4 651.7 237.4 651.4 236.3 650.9 235.3 650.3 234.2 649.6 233.1 648.8 232.0 647.8 230.9 646.8 229.8 645.7 228.8 644.5 227.7 643.2 226.7 641.8 225.7 640.4 224.8 638.9 223.9 637.3 223.0 635.7 222.1 634.0 221.3 632.3 220.6 630.6 219.9 628.8 219.2 627.0 218.6 625.2 218.1 623.4 217.6 621.6 217.2 619.8 216.8 618.1 216.5 616.3 216.2 614.6 216.1 612.9 215.9 611.3 215.9 609.7 215.9 608.1 216.0 606.7 216.1 605.2 216.3 603.9 216.6 602.6 216.9 601.4 217.3M595.2 222.4 594.9 223.3 594.7 224.2 594.7 225.1 594.7 226.1 594.9 227.1 595.2 228.1 595.6 229.2 596.1 230.2 596.8 231.3 597.5 232.4 598.4 233.5 599.4 234.6 600.5 235.7 601.7 236.7 603.0 237.8 604.3 238.8 605.8 239.8 607.4 240.8 609.0 241.8 610.7 242.7" fill="none" stroke="#cca300" stroke-width="0.5"/><path d="M608.0 245.1 610.2 246.2 612.4 247.2 614.7 248.1 617.1 249.0 619.4 249.8 621.8 250.5 624.2 251.2 626.6 251.7 629.0 252.2 631.4 252.5 633.8 252.8 636.1 253.0 638.3 253.1 640.5 253.0M657.0 236.0 656.3 234.7 655.4 233.4 654.4 232.1 653.2 230.8 651.9 229.5 650.6 228.2 649.1 226.9 647.5 225.7 645.8 224.5 644.1 223.4 642.2 222.2 640.3 221.2 638.3 220.2 636.3 219.2 634.3 218.3 632.2 217.5 630.0 216.7 627.9 216.0 625.7 215.3 623.6 214.7 621.4 214.2 619.3 213.8 617.1 213.4 615.0 213.1 613.0 212.9 610.9 212.8 609.0 212.7 607.0 212.7M589.3 227.4 589.8 228.7 590.4 229.9 591.2 231.3 592.1 232.6 593.1 233.9 594.3 235.2 595.6 236.5 597.1 237.9 598.6 239.1 600.3 240.4 602.1 241.7 604.0 242.9 606.0 244.0 608.0 245.1" fill="none" stroke="#a7cc00" stroke-width="0.5"/><path d="M605.7 247.2 608.2 248.5 610.8 249.7 613.4 250.8 616.1 251.8 618.9 252.7 621.7 253.5 624.5 254.3 627.3 254.9 630.1 255.5 632.8 255.9 635.5 256.2M659.1 232.1 657.8 230.6 656.3 229.1 654.7 227.7 653.0 226.2 651.1 224.8 649.2 223.5 647.2 222.1 645.0 220.9 642.8 219.7 640.6 218.5 638.3 217.4 635.9 216.4 633.5 215.4 631.1 214.5 628.6 213.7 626.1 213.0 623.7 212.3 621.2 211.8 618.8 211.3 616.3 210.9 613.9 210.5 611.6 210.3M586.5 231.2 587.5 232.7 588.7 234.2 590.0 235.8 591.5 237.3 593.1 238.8 594.9 240.3 596.8 241.8 598.9 243.2 601.1 244.6 603.3 246.0 605.7 247.2" fill="none" stroke="#5acc00" stroke-width="0.5"/><path d="M603.7 249.1 606.5 250.5 609.3 251.9 612.3 253.1 615.3 254.2 618.4 255.3 621.5 256.2 624.7 257.1 627.8 257.8 631.0 258.4 634.1 258.9M661.8 230.5 660.1 228.8 658.3 227.2 656.4 225.6 654.3 224.1 652.1 222.5 649.9 221.1 647.5 219.7 645.1 218.3 642.5 217.1 640.0 215.9 637.3 214.7 634.7 213.7 632.0 212.7 629.2 211.8 626.5 211.0 623.8 210.3 621.1 209.6 618.3 209.1 615.7 208.6 613.0 208.3M583.4 232.8 584.7 234.5 586.2 236.2 587.8 237.9 589.6 239.6 591.6 241.3 593.7 243.0 596.0 244.6 598.5 246.2 601.0 247.7 603.7 249.1" fill="none" stroke="#0ccc00" stroke-width="0.5"/><path d="M621.4 258.7 624.9 259.7 628.3 260.5 631.8 261.2M663.6 228.6 661.6 226.8 659.5 225.1 657.2 223.4M623.9 208.4 620.9 207.7 618.0 207.1 615.0 206.6M581.1 234.8 582.7 236.7 584.5 238.5 586.5 240.4" fill="none" stroke="#00cc42" stroke-width="0.5"/><line x1="576.62" y1="230.57" x2="577.62" y2="230.57" stroke="#888" stroke-width="0.3"/><text x="576.32" y="231.17" font-size="1.7" fill="#333" text-anchor="end" textLength="1.65" lengthAdjust="spacingAndGlyphs">0.2</text><line x1="576.05" y1="224.63" x2="577.05" y2="224.63" stroke="#888" stroke-width="0.3"/><text x="575.75" y="225.23" font-size="1.7" fill="#333" text-anchor="end" textLength="1.65" lengthAdjust="spacingAndGlyphs">0.3</text><line x1="575.47" y1="218.53" x2="576.47" y2="218.53" stroke="#888" stroke-width="0.3"/><text x="575.17" y="219.13" font-size="1.7" fill="#333" text-anchor="end" textLength="1.65" lengthAdjust="spacingAndGlyphs">0.4</text><line x1="574.88" y1="212.28" x2="575.88" y2="212.28" stroke="#888" stroke-width="0.3"/><text x="574.58" y="212.88" font-size="1.7" fill="#333" text-anchor="end" textLength="1.65" lengthAdjust="spacingAndGlyphs">0.5</text><line x1="574.27" y1="205.86" x2="575.27" y2="205.86" stroke="#888" stroke-width="0.3"/><text x="573.97" y="206.46" font-size="1.7" fill="#333" text-anchor="end" textLength="1.65" lengthAdjust="spacingAndGlyphs">0.6</text><line x1="573.64" y1="199.28" x2="574.64" y2="199.28" stroke="#888" stroke-width="0.3"/><text x="573.34" y="199.88" font-size="1.7" fill="#333" text-anchor="end" textLength="1.65" lengthAdjust="spacingAndGlyphs">0.7</text><line x1="573" y1="192.52" x2="574" y2="192.52" stroke="#888" stroke-width="0.3"/><text x="572.7" y="193.12" font-size="1.7" fill="#333" text-anchor="end" textLength="1.65" lengthAdjust="spacingAndGlyphs">0.8</text><line x1="572.34" y1="185.57" x2="573.34" y2="185.57" stroke="#888" stroke-width="0.3"/><text x="572.04" y="186.17" font-size="1.7" fill="#333" text-anchor="end" textLength="1.65" lengthAdjust="spacingAndGlyphs">0.9</text><g transform="scale(.1)" stroke="#000" stroke-opacity=".42" stroke-width="2.6" stroke-linejoin="round"><polygon points="6160,1822 6143,1807 6166,1806 6182,1821" fill="#12e885"/><polygon points="6182,1821 6166,1806 6188,1806 6205,1821" fill="#12e76b"/><polygon points="6143,1807 6126,1795 6148,1793 6166,1806" fill="#13ee3f"/><polygon points="6205,1821 6188,1806 6211,1807 6227,1822" fill="#12e552"/><polygon points="6166,1806 6148,1793 6171,1793 6188,1806" fill="#12ec24"/><polygon points="6126,1795 6109,1785 6131,1783 6148,1793" fill="#29f313"/><polygon points="6227,1822 6211,1807 6233,1808 6250,1824" fill="#12e33c"/><polygon points="6188,1806 6171,1793 6194,1794 6211,1807" fill="#1aea12"/><polygon points="6148,1793 6131,1783 6154,1783 6171,1793" fill="#45f213"/><polygon points="6109,1785 6091,1777 6113,1776 6131,1783" fill="#68fa14"/><polygon points="6250,1824 6233,1808 6256,1811 6273,1827" fill="#12e12a"/><polygon points="6211,1807 6194,1794 6217,1796 6233,1808" fill="#2fe812"/><polygon points="6171,1793 6154,1783 6177,1784 6194,1794" fill="#5df013"/><polygon points="6131,1783 6113,1776 6136,1775 6154,1783" fill="#83f813"/><polygon points="6091,1777 6073,1772 6096,1771 6113,1776" fill="#a2ff17"/><polygon points="6273,1827 6256,1811 6280,1815 6296,1831" fill="#12e01a"/><polygon points="6194,1794 6177,1784 6200,1785 6217,1796" fill="#73ee13"/><polygon points="6154,1783 6136,1775 6159,1776 6177,1784" fill="#9bf613"/><polygon points="6073,1772 6055,1770 6077,1768 6096,1771" fill="#d3ff25"/><polygon points="6233,1808 6217,1796 6240,1798 6256,1811" fill="#41e712"/><polygon points="6113,1776 6096,1771 6118,1770 6136,1775" fill="#bfff14"/><polygon points="6296,1831 6280,1815 6303,1820 6319,1835" fill="#17de11"/><polygon points="6256,1811 6240,1798 6263,1802 6280,1815" fill="#50e512"/><polygon points="6217,1796 6200,1785 6223,1788 6240,1798" fill="#84ec13"/><polygon points="6177,1784 6159,1776 6182,1778 6200,1785" fill="#b1f413"/><polygon points="6136,1775 6118,1770 6141,1771 6159,1776" fill="#d6fd14"/><polygon points="6096,1771 6077,1768 6100,1768 6118,1770" fill="#efff22"/><polygon points="6055,1770 6037,1770 6059,1769 6077,1768" fill="#f9ff34"/><polygon points="6319,1835 6303,1820 6327,1826 6342,1841" fill="#21dc11"/><polygon points="6280,1815 6263,1802 6287,1807 6303,1820" fill="#5de312"/><polygon points="6240,1798 6223,1788 6246,1792 6263,1802" fill="#93ea12"/><polygon points="6200,1785 6182,1778 6206,1780 6223,1788" fill="#c3f213"/><polygon points="6159,1776 6141,1771 6165,1773 6182,1778" fill="#ecfb14"/><polygon points="6118,1770 6100,1768 6123,1769 6141,1771" fill="#fff71e"/><polygon points="6077,1768 6059,1769 6082,1768 6100,1768" fill="#ffed31"/><polygon points="6037,1770 6018,1774 6041,1772 6059,1769" fill="#ffec44"/><polygon points="6342,1841 6327,1826 6350,1833 6366,1849" fill="#27da11"/><polygon points="6303,1820 6287,1807 6311,1813 6327,1826" fill="#66e112"/><polygon points="6263,1802 6246,1792 6270,1797 6287,1807" fill="#9fe812"/><polygon points="6223,1788 6206,1780 6229,1784 6246,1792" fill="#d2f013"/><polygon points="6182,1778 6165,1773 6188,1775 6206,1780" fill="#f9f314"/><polygon points="6141,1771 6123,1769 6147,1770 6165,1773" fill="#ffe01a"/><polygon points="6100,1768 6082,1768 6105,1769 6123,1769" fill="#ffd42d"/><polygon points="6059,1769 6041,1772 6064,1772 6082,1768" fill="#ffd541"/><polygon points="6018,1774 5999,1780 6022,1778 6041,1772" fill="#ffdd53"/><polygon points="6287,1807 6270,1797 6294,1803 6311,1813" fill="#a9e612"/><polygon points="6246,1792 6229,1784 6253,1789 6270,1797" fill="#deee13"/><polygon points="6206,1780 6188,1775 6212,1779 6229,1784" fill="#f7e113"/><polygon points="6165,1773 6147,1770 6170,1773 6188,1775" fill="#ffcc16"/><polygon points="6123,1769 6105,1769 6129,1771 6147,1770" fill="#ffbe2a"/><polygon points="6082,1768 6064,1772 6087,1772 6105,1769" fill="#ffbe3d"/><polygon points="6366,1849 6350,1833 6374,1841 6390,1857" fill="#2dd811"/><polygon points="6327,1826 6311,1813 6334,1820 6350,1833" fill="#6ddf11"/><polygon points="6041,1772 6022,1778 6045,1778 6064,1772" fill="#ffc650"/><polygon points="5999,1780 5981,1789 6003,1788 6022,1778" fill="#ffd561"/><polygon points="6390,1857 6374,1841 6398,1851 6414,1866" fill="#2ed611"/><polygon points="6270,1797 6253,1789 6277,1795 6294,1803" fill="#e7ec13"/><polygon points="6229,1784 6212,1779 6236,1784 6253,1789" fill="#f5d013"/><polygon points="6188,1775 6170,1773 6194,1777 6212,1779" fill="#feb814"/><polygon points="6147,1770 6129,1771 6152,1774 6170,1773" fill="#ffaa26"/><polygon points="6105,1769 6087,1772 6110,1774 6129,1771" fill="#ffa839"/><polygon points="5981,1789 5962,1801 5985,1800 6003,1788" fill="#ffd36e"/><polygon points="6350,1833 6334,1820 6359,1829 6374,1841" fill="#72dd11"/><polygon points="6311,1813 6294,1803 6318,1810 6334,1820" fill="#afe412"/><polygon points="6064,1772 6045,1778 6068,1779 6087,1772" fill="#ffb14d"/><polygon points="6022,1778 6003,1788 6026,1787 6045,1778" fill="#ffc05e"/><polygon points="6414,1866 6398,1851 6423,1861 6438,1876" fill="#2ed511"/><polygon points="6374,1841 6359,1829 6383,1838 6398,1851" fill="#73db11"/><polygon points="6334,1820 6318,1810 6342,1818 6359,1829" fill="#b3e212"/><polygon points="6294,1803 6277,1795 6302,1802 6318,1810" fill="#eae612"/><polygon points="6253,1789 6236,1784 6260,1790 6277,1795" fill="#f3c313"/><polygon points="6212,1779 6194,1777 6218,1782 6236,1784" fill="#fca814"/><polygon points="6170,1773 6152,1774 6176,1778 6194,1777" fill="#ff9821"/><polygon points="6129,1771 6110,1774 6134,1777 6152,1774" fill="#ff9635"/><polygon points="6087,1772 6068,1779 6092,1781 6110,1774" fill="#ff9d49"/><polygon points="6045,1778 6026,1787 6050,1788 6068,1779" fill="#ffac5b"/><polygon points="6003,1788 5985,1800 6008,1800 6026,1787" fill="#ffc06b"/><polygon points="5962,1801 5943,1816 5966,1815 5985,1800" fill="#ffd679"/><polygon points="6438,1876 6423,1861 6447,1872 6462,1888" fill="#2cd311"/><polygon points="6398,1851 6383,1838 6407,1848 6423,1861" fill="#72d911"/><polygon points="6359,1829 6342,1818 6367,1828 6383,1838" fill="#b3e012"/><polygon points="6318,1810 6302,1802 6326,1811 6342,1818" fill="#e8e012"/><polygon points="6277,1795 6260,1790 6285,1797 6302,1802" fill="#f0ba13"/><polygon points="6236,1784 6218,1782 6243,1788 6260,1790" fill="#fa9b14"/><polygon points="6194,1777 6176,1778 6201,1783 6218,1782" fill="#ff881d"/><polygon points="6152,1774 6134,1777 6158,1781 6176,1778" fill="#ff8431"/><polygon points="6110,1774 6092,1781 6116,1783 6134,1777" fill="#ff8b45"/><polygon points="6068,1779 6050,1788 6073,1790 6092,1781" fill="#ff9a58"/><polygon points="6026,1787 6008,1800 6031,1800 6050,1788" fill="#ffae68"/><polygon points="5985,1800 5966,1815 5989,1815 6008,1800" fill="#ffc576"/><polygon points="5943,1816 5924,1834 5947,1833 5966,1815" fill="#ffdd81"/><polygon points="6423,1861 6407,1848 6432,1860 6447,1872" fill="#6ed711"/><polygon points="6342,1818 6326,1811 6351,1820 6367,1828" fill="#e6db12"/><polygon points="6218,1782 6201,1783 6225,1789 6243,1788" fill="#ff7918"/><polygon points="6176,1778 6158,1781 6183,1786 6201,1783" fill="#ff742d"/><polygon points="6050,1788 6031,1800 6055,1802 6073,1790" fill="#ff9d65"/><polygon points="5966,1815 5947,1833 5970,1833 5989,1815" fill="#ffcd7f"/><polygon points="6462,1888 6447,1872 6471,1885 6486,1900" fill="#26d110"/><polygon points="6383,1838 6367,1828 6391,1838 6407,1848" fill="#b2de11"/><polygon points="6302,1802 6285,1797 6309,1806 6326,1811" fill="#eeb213"/><polygon points="6260,1790 6243,1788 6267,1795 6285,1797" fill="#f79113"/><polygon points="6134,1777 6116,1783 6140,1787 6158,1781" fill="#ff7a41"/><polygon points="6092,1781 6073,1790 6097,1793 6116,1783" fill="#ff8854"/><polygon points="6008,1800 5989,1815 6012,1816 6031,1800" fill="#ffb473"/><polygon points="5924,1834 5905,1855 5928,1854 5947,1833" fill="#ffe787"/><polygon points="6486,1900 6471,1885 6496,1899 6510,1914" fill="#1fcf10"/><polygon points="6447,1872 6432,1860 6456,1872 6471,1885" fill="#68d511"/><polygon points="6407,1848 6391,1838 6416,1850 6432,1860" fill="#aedc11"/><polygon points="6367,1828 6351,1820 6375,1831 6391,1838" fill="#e3d912"/><polygon points="6326,1811 6309,1806 6334,1815 6351,1820" fill="#ecae12"/><polygon points="6285,1797 6267,1795 6292,1804 6309,1806" fill="#f58a13"/><polygon points="6243,1788 6225,1789 6250,1796 6267,1795" fill="#ff6f14"/><polygon points="6201,1783 6183,1786 6207,1792 6225,1789" fill="#ff6628"/><polygon points="6158,1781 6140,1787 6164,1793 6183,1786" fill="#ff6b3c"/><polygon points="6116,1783 6097,1793 6121,1797 6140,1787" fill="#ff7950"/><polygon points="6073,1790 6055,1802 6079,1805 6097,1793" fill="#ff8d62"/><polygon points="6031,1800 6012,1816 6036,1818 6055,1802" fill="#ffa470"/><polygon points="5989,1815 5970,1833 5993,1834 6012,1816" fill="#ffbd7c"/><polygon points="5947,1833 5928,1854 5951,1854 5970,1833" fill="#ffd785"/><polygon points="5905,1855 5887,1879 5909,1879 5928,1854" fill="#fff38b"/><polygon points="6510,1914 6496,1899 6521,1913 6535,1928" fill="#15cd10"/><polygon points="6471,1885 6456,1872 6481,1886 6496,1899" fill="#60d311"/><polygon points="6391,1838 6375,1831 6400,1842 6416,1850" fill="#e1d912"/><polygon points="6309,1806 6292,1804 6317,1813 6334,1815" fill="#f38613"/><polygon points="6097,1793 6079,1805 6103,1809 6121,1797" fill="#ff7e5e"/><polygon points="6012,1816 5993,1834 6017,1836 6036,1818" fill="#ffae79"/><polygon points="5928,1854 5909,1879 5932,1879 5951,1854" fill="#ffe588"/><polygon points="5887,1879 5868,1906 5891,1906 5909,1879" fill="#fcff8c"/><polygon points="6432,1860 6416,1850 6441,1862 6456,1872" fill="#a6da11"/><polygon points="6351,1820 6334,1815 6359,1826 6375,1831" fill="#e9ac12"/><polygon points="6267,1795 6250,1796 6274,1804 6292,1804" fill="#fc6714"/><polygon points="6225,1789 6207,1792 6232,1800 6250,1796" fill="#ff5a23"/><polygon points="6183,1786 6164,1793 6189,1799 6207,1792" fill="#ff5e38"/><polygon points="6140,1787 6121,1797 6146,1802 6164,1793" fill="#ff6a4c"/><polygon points="6055,1802 6036,1818 6060,1821 6079,1805" fill="#ff956d"/><polygon points="5970,1833 5951,1854 5974,1855 5993,1834" fill="#ffc882"/><polygon points="6496,1899 6481,1886 6506,1901 6521,1913" fill="#55d110"/><polygon points="5909,1879 5891,1906 5914,1906 5932,1879" fill="#fff58a"/><polygon points="6535,1928 6521,1913 6545,1929 6559,1944" fill="#10cb18"/><polygon points="6456,1872 6441,1862 6466,1876 6481,1886" fill="#9ed811"/><polygon points="6416,1850 6400,1842 6425,1855 6441,1862" fill="#dfdb11"/><polygon points="6375,1831 6359,1826 6384,1838 6400,1842" fill="#e7ad12"/><polygon points="6334,1815 6317,1813 6342,1824 6359,1826" fill="#f08513"/><polygon points="6292,1804 6274,1804 6299,1814 6317,1813" fill="#fa6314"/><polygon points="6250,1796 6232,1800 6257,1808 6274,1804" fill="#ff511e"/><polygon points="6207,1792 6189,1799 6214,1806 6232,1800" fill="#ff5133"/><polygon points="6164,1793 6146,1802 6171,1809 6189,1799" fill="#ff5d47"/><polygon points="6121,1797 6103,1809 6127,1815 6146,1802" fill="#ff7059"/><polygon points="6079,1805 6060,1821 6084,1825 6103,1809" fill="#ff8769"/><polygon points="6036,1818 6017,1836 6041,1839 6060,1821" fill="#ffa076"/><polygon points="5993,1834 5974,1855 5998,1858 6017,1836" fill="#ffbb7f"/><polygon points="5951,1854 5932,1879 5956,1880 5974,1855" fill="#ffd686"/><polygon points="5868,1906 5849,1936 5872,1936 5891,1906" fill="#e8ff8c"/><polygon points="6559,1944 6545,1929 6570,1946 6584,1961" fill="#10c925"/><polygon points="6521,1913 6506,1901 6531,1917 6545,1929" fill="#48cf10"/><polygon points="6481,1886 6466,1876 6491,1891 6506,1901" fill="#92d511"/><polygon points="6441,1862 6425,1855 6450,1869 6466,1876" fill="#d7dd11"/><polygon points="6400,1842 6384,1838 6409,1850 6425,1855" fill="#e5b112"/><polygon points="6359,1826 6342,1824 6367,1836 6384,1838" fill="#ed8613"/><polygon points="6317,1813 6299,1814 6325,1825 6342,1824" fill="#f76213"/><polygon points="6274,1804 6257,1808 6282,1818 6299,1814" fill="#ff4918"/><polygon points="6232,1800 6214,1806 6239,1815 6257,1808" fill="#ff482d"/><polygon points="6189,1799 6171,1809 6195,1816 6214,1806" fill="#ff5242"/><polygon points="6146,1802 6127,1815 6152,1821 6171,1809" fill="#ff6454"/><polygon points="6103,1809 6084,1825 6109,1830 6127,1815" fill="#ff7a65"/><polygon points="6060,1821 6041,1839 6065,1844 6084,1825" fill="#ff9372"/><polygon points="6017,1836 5998,1858 6022,1861 6041,1839" fill="#ffad7c"/><polygon points="5974,1855 5956,1880 5979,1882 5998,1858" fill="#ffc983"/><polygon points="5932,1879 5914,1906 5937,1907 5956,1880" fill="#ffe788"/><polygon points="5891,1906 5872,1936 5895,1936 5914,1906" fill="#f7ff8a"/><polygon points="5849,1936 5831,1969 5853,1969 5872,1936" fill="#d0ff8b"/><polygon points="6545,1929 6531,1917 6556,1934 6570,1946" fill="#3acd10"/><polygon points="6466,1876 6450,1869 6475,1884 6491,1891" fill="#ccda11"/><polygon points="6425,1855 6409,1850 6434,1865 6450,1869" fill="#e2b612"/><polygon points="6342,1824 6325,1825 6350,1837 6367,1836" fill="#f46413"/><polygon points="6299,1814 6282,1818 6307,1829 6325,1825" fill="#fe4614"/><polygon points="6257,1808 6239,1815 6264,1825 6282,1818" fill="#ff4028"/><polygon points="6171,1809 6152,1821 6177,1829 6195,1816" fill="#ff584f"/><polygon points="6127,1815 6109,1830 6133,1837 6152,1821" fill="#ff6e60"/><polygon points="6084,1825 6065,1844 6090,1849 6109,1830" fill="#ff876e"/><polygon points="5998,1858 5979,1882 6003,1886 6022,1861" fill="#ffbc80"/><polygon points="5956,1880 5937,1907 5960,1910 5979,1882" fill="#ffda85"/><polygon points="5872,1936 5853,1969 5876,1970 5895,1936" fill="#dfff88"/><polygon points="6584,1961 6570,1946 6595,1964 6608,1979" fill="#10c734"/><polygon points="6506,1901 6491,1891 6516,1907 6531,1917" fill="#85d311"/><polygon points="6384,1838 6367,1836 6392,1849 6409,1850" fill="#eb8912"/><polygon points="6214,1806 6195,1816 6220,1825 6239,1815" fill="#ff483c"/><polygon points="6041,1839 6022,1861 6046,1866 6065,1844" fill="#ffa178"/><polygon points="5914,1906 5895,1936 5918,1938 5937,1907" fill="#fffb87"/><polygon points="5831,1969 5813,2005 5835,2005 5853,1969" fill="#b4ff88"/><polygon points="6450,1869 6434,1865 6460,1880 6475,1884" fill="#e0be12"/><polygon points="6325,1825 6307,1829 6333,1841 6350,1837" fill="#fc4814"/><polygon points="6109,1830 6090,1849 6114,1856 6133,1837" fill="#ff7c69"/><polygon points="5979,1882 5960,1910 5984,1914 6003,1886" fill="#ffce82"/><polygon points="6608,1979 6595,1964 6619,1983 6633,1998" fill="#0fc647"/><polygon points="6570,1946 6556,1934 6581,1952 6595,1964" fill="#29cb10"/><polygon points="6531,1917 6516,1907 6541,1925 6556,1934" fill="#75d110"/><polygon points="6491,1891 6475,1884 6501,1900 6516,1907" fill="#bdd811"/><polygon points="6409,1850 6392,1849 6418,1863 6434,1865" fill="#e89012"/><polygon points="6367,1836 6350,1837 6375,1850 6392,1849" fill="#f26913"/><polygon points="6282,1818 6264,1825 6289,1836 6307,1829" fill="#ff3b22"/><polygon points="6239,1815 6220,1825 6246,1835 6264,1825" fill="#ff4036"/><polygon points="6195,1816 6177,1829 6202,1838 6220,1825" fill="#ff4e4a"/><polygon points="6152,1821 6133,1837 6158,1845 6177,1829" fill="#ff635b"/><polygon points="6065,1844 6046,1866 6071,1871 6090,1849" fill="#ff9574"/><polygon points="6022,1861 6003,1886 6027,1890 6046,1866" fill="#ffb17c"/><polygon points="5937,1907 5918,1938 5942,1941 5960,1910" fill="#ffee85"/><polygon points="5895,1936 5876,1970 5899,1971 5918,1938" fill="#ebff86"/><polygon points="5853,1969 5835,2005 5858,2006 5876,1970" fill="#c1ff86"/><polygon points="5813,2005 5795,2044 5817,2044 5835,2005" fill="#91ff85"/><polygon points="6633,1998 6619,1983 6644,2004 6657,2018" fill="#0fc45b"/><polygon points="6595,1964 6581,1952 6606,1972 6619,1983" fill="#16c910"/><polygon points="6516,1907 6501,1900 6526,1918 6541,1925" fill="#acd611"/><polygon points="6434,1865 6418,1863 6443,1878 6460,1880" fill="#e69912"/><polygon points="6392,1849 6375,1850 6401,1864 6418,1863" fill="#ef6f13"/><polygon points="6307,1829 6289,1836 6315,1848 6333,1841" fill="#ff391c"/><polygon points="6220,1825 6202,1838 6227,1848 6246,1835" fill="#ff4644"/><polygon points="6133,1837 6114,1856 6139,1864 6158,1845" fill="#ff7264"/><polygon points="6046,1866 6027,1890 6052,1896 6071,1871" fill="#ffa678"/><polygon points="6003,1886 5984,1914 6008,1918 6027,1890" fill="#ffc37e"/><polygon points="5918,1938 5899,1971 5923,1974 5942,1941" fill="#f7ff83"/><polygon points="5835,2005 5817,2044 5840,2045 5858,2006" fill="#9fff83"/><polygon points="5795,2044 5777,2085 5799,2086 5817,2044" fill="#81ff9b"/><polygon points="6556,1934 6541,1925 6566,1943 6581,1952" fill="#64cf10"/><polygon points="6475,1884 6460,1880 6485,1896 6501,1900" fill="#ddc911"/><polygon points="6350,1837 6333,1841 6358,1854 6375,1850" fill="#f94d13"/><polygon points="6264,1825 6246,1835 6271,1846 6289,1836" fill="#ff3a30"/><polygon points="6177,1829 6158,1845 6183,1854 6202,1838" fill="#ff5a56"/><polygon points="6090,1849 6071,1871 6096,1878 6114,1856" fill="#ff8b70"/><polygon points="5960,1910 5942,1941 5965,1944 5984,1914" fill="#ffe381"/><polygon points="5876,1970 5858,2006 5881,2008 5899,1971" fill="#ceff83"/><polygon points="6619,1983 6606,1972 6631,1992 6644,2004" fill="#10c71e"/><polygon points="6418,1863 6401,1864 6427,1880 6443,1878" fill="#ec7913"/><polygon points="6027,1890 6008,1918 6033,1924 6052,1896" fill="#ffb97a"/><polygon points="5817,2044 5799,2086 5822,2087 5840,2045" fill="#7fff8a"/><polygon points="6657,2018 6644,2004 6669,2025 6682,2039" fill="#0fc26f"/><polygon points="6581,1952 6566,1943 6592,1962 6606,1972" fill="#50cd10"/><polygon points="6541,1925 6526,1918 6551,1936 6566,1943" fill="#99d411"/><polygon points="6501,1900 6485,1896 6511,1914 6526,1918" fill="#dbd611"/><polygon points="6460,1880 6443,1878 6469,1895 6485,1896" fill="#e3a512"/><polygon points="6375,1850 6358,1854 6384,1868 6401,1864" fill="#f65513"/><polygon points="6333,1841 6315,1848 6340,1861 6358,1854" fill="#ff3816"/><polygon points="6289,1836 6271,1846 6297,1858 6315,1848" fill="#ff372a"/><polygon points="6246,1835 6227,1848 6253,1859 6271,1846" fill="#ff413e"/><polygon points="6202,1838 6183,1854 6209,1864 6227,1848" fill="#ff5250"/><polygon points="6158,1845 6139,1864 6165,1873 6183,1854" fill="#ff695f"/><polygon points="6114,1856 6096,1878 6121,1886 6139,1864" fill="#ff816b"/><polygon points="6071,1871 6052,1896 6077,1903 6096,1878" fill="#ff9c74"/><polygon points="5984,1914 5965,1944 5990,1949 6008,1918" fill="#ffd97e"/><polygon points="5942,1941 5923,1974 5947,1978 5965,1944" fill="#fffc80"/><polygon points="5899,1971 5881,2008 5904,2011 5923,1974" fill="#d9ff81"/><polygon points="5858,2006 5840,2045 5863,2047 5881,2008" fill="#abff80"/><polygon points="5777,2085 5759,2129 5782,2130 5799,2086" fill="#7effc3"/><polygon points="6644,2004 6631,1992 6656,2014 6669,2025" fill="#0fc535"/><polygon points="6606,1972 6592,1962 6617,1983 6631,1992" fill="#3acb10"/><polygon points="6566,1943 6551,1936 6577,1956 6592,1962" fill="#84d110"/><polygon points="6526,1918 6511,1914 6536,1932 6551,1936" fill="#ccd811"/><polygon points="6485,1896 6469,1895 6495,1912 6511,1914" fill="#e0b312"/><polygon points="6443,1878 6427,1880 6452,1896 6469,1895" fill="#e98612"/><polygon points="6401,1864 6384,1868 6410,1884 6427,1880" fill="#f35f13"/><polygon points="6358,1854 6340,1861 6366,1876 6384,1868" fill="#fd4014"/><polygon points="6315,1848 6297,1858 6323,1871 6340,1861" fill="#ff3624"/><polygon points="6271,1846 6253,1859 6279,1871 6297,1858" fill="#ff3d38"/><polygon points="6227,1848 6209,1864 6234,1875 6253,1859" fill="#ff4c4a"/><polygon points="6183,1854 6165,1873 6190,1883 6209,1864" fill="#ff6159"/><polygon points="6139,1864 6121,1886 6146,1895 6165,1873" fill="#ff7a66"/><polygon points="6096,1878 6077,1903 6102,1911 6121,1886" fill="#ff946f"/><polygon points="6052,1896 6033,1924 6058,1931 6077,1903" fill="#ffb076"/><polygon points="6008,1918 5990,1949 6014,1955 6033,1924" fill="#ffcf7a"/><polygon points="5965,1944 5947,1978 5971,1983 5990,1949" fill="#fff27d"/><polygon points="5923,1974 5904,2011 5928,2015 5947,1978" fill="#e3ff7e"/><polygon points="5881,2008 5863,2047 5886,2051 5904,2011" fill="#b6ff7e"/><polygon points="5840,2045 5822,2087 5845,2089 5863,2047" fill="#81ff7d"/><polygon points="5799,2086 5782,2130 5804,2132 5822,2087" fill="#7bffb2"/><polygon points="6631,1992 6617,1983 6642,2005 6656,2014" fill="#22c910"/><polygon points="6592,1962 6577,1956 6602,1977 6617,1983" fill="#6ecf10"/><polygon points="6551,1936 6536,1932 6562,1952 6577,1956" fill="#b5d611"/><polygon points="6511,1914 6495,1912 6520,1931 6536,1932" fill="#dec211"/><polygon points="6469,1895 6452,1896 6478,1914 6495,1912" fill="#e69312"/><polygon points="6427,1880 6410,1884 6436,1901 6452,1896" fill="#f06b13"/><polygon points="6384,1868 6366,1876 6392,1891 6410,1884" fill="#fa4a14"/><polygon points="6340,1861 6323,1871 6349,1886 6366,1876" fill="#ff391d"/><polygon points="6297,1858 6279,1871 6304,1885 6323,1871" fill="#ff3b31"/><polygon points="6253,1859 6234,1875 6260,1887 6279,1871" fill="#ff4844"/><polygon points="6209,1864 6190,1883 6216,1894 6234,1875" fill="#ff5b53"/><polygon points="6165,1873 6146,1895 6171,1905 6190,1883" fill="#ff7360"/><polygon points="6121,1886 6102,1911 6127,1920 6146,1895" fill="#ff8c6a"/><polygon points="6077,1903 6058,1931 6083,1940 6102,1911" fill="#ffa872"/><polygon points="6033,1924 6014,1955 6039,1963 6058,1931" fill="#ffc776"/><polygon points="5990,1949 5971,1983 5995,1990 6014,1955" fill="#ffe979"/><polygon points="5947,1978 5928,2015 5952,2020 5971,1983" fill="#edff7a"/><polygon points="5904,2011 5886,2051 5910,2055 5928,2015" fill="#c0ff7b"/><polygon points="5863,2047 5845,2089 5868,2093 5886,2051" fill="#8cff7a"/><polygon points="5822,2087 5804,2132 5827,2134 5845,2089" fill="#79ffa2"/><polygon points="6617,1983 6602,1977 6628,1999 6642,2005" fill="#55cd10"/><polygon points="6577,1956 6562,1952 6587,1973 6602,1977" fill="#9fd411"/><polygon points="6536,1932 6520,1931 6546,1951 6562,1952" fill="#dbd411"/><polygon points="6495,1912 6478,1914 6504,1933 6520,1931" fill="#e4a312"/><polygon points="6452,1896 6436,1901 6461,1919 6478,1914" fill="#ed7b13"/><polygon points="6410,1884 6392,1891 6418,1908 6436,1901" fill="#f65713"/><polygon points="6366,1876 6349,1886 6375,1902 6392,1891" fill="#ff3e17"/><polygon points="6323,1871 6304,1885 6330,1899 6349,1886" fill="#ff3d2a"/><polygon points="6279,1871 6260,1887 6286,1901 6304,1885" fill="#ff463d"/><polygon points="6234,1875 6216,1894 6242,1907 6260,1887" fill="#ff584d"/><polygon points="6190,1883 6171,1905 6197,1917 6216,1894" fill="#ff6e5b"/><polygon points="6146,1895 6127,1920 6152,1931 6171,1905" fill="#ff8665"/><polygon points="6102,1911 6083,1940 6108,1949 6127,1920" fill="#ffa16d"/><polygon points="6058,1931 6039,1963 6064,1971 6083,1940" fill="#ffbf72"/><polygon points="6014,1955 5995,1990 6020,1997 6039,1963" fill="#ffe275"/><polygon points="5971,1983 5952,2020 5976,2027 5995,1990" fill="#f5ff77"/><polygon points="5928,2015 5910,2055 5933,2060 5952,2020" fill="#c8ff77"/><polygon points="5886,2051 5868,2093 5891,2097 5910,2055" fill="#95ff77"/><polygon points="5845,2089 5827,2134 5850,2138 5868,2093" fill="#76ff92"/><polygon points="6562,1952 6546,1951 6572,1972 6587,1973" fill="#cad911"/><polygon points="6520,1931 6504,1933 6530,1953 6546,1951" fill="#e1b712"/><polygon points="6436,1901 6418,1908 6444,1926 6461,1919" fill="#f36713"/><polygon points="6349,1886 6330,1899 6357,1915 6375,1902" fill="#ff4224"/><polygon points="6304,1885 6286,1901 6312,1916 6330,1899" fill="#ff4836"/><polygon points="6260,1887 6242,1907 6268,1921 6286,1901" fill="#ff5647"/><polygon points="6216,1894 6197,1917 6223,1930 6242,1907" fill="#ff6a55"/><polygon points="6171,1905 6152,1931 6178,1943 6197,1917" fill="#ff8160"/><polygon points="6127,1920 6108,1949 6133,1960 6152,1931" fill="#ff9c68"/><polygon points="6039,1963 6020,1997 6045,2006 6064,1971" fill="#ffdc71"/><polygon points="5952,2020 5933,2060 5958,2067 5976,2027" fill="#d0ff74"/><polygon points="5910,2055 5891,2097 5915,2103 5933,2060" fill="#9dff74"/><polygon points="6602,1977 6587,1973 6613,1995 6628,1999" fill="#84d110"/><polygon points="6478,1914 6461,1919 6488,1938 6504,1933" fill="#ea8b12"/><polygon points="6392,1891 6375,1902 6401,1919 6418,1908" fill="#fd4a14"/><polygon points="6083,1940 6064,1971 6089,1981 6108,1949" fill="#ffba6d"/><polygon points="5995,1990 5976,2027 6001,2034 6020,1997" fill="#fbff73"/><polygon points="5868,2093 5850,2138 5873,2143 5891,2097" fill="#74ff84"/><polygon points="6546,1951 6530,1953 6556,1975 6572,1972" fill="#decc11"/><polygon points="6330,1899 6312,1916 6338,1932 6357,1915" fill="#ff4c2f"/><polygon points="6286,1901 6268,1921 6294,1936 6312,1916" fill="#ff5740"/><polygon points="6197,1917 6178,1943 6204,1955 6223,1930" fill="#ff7f5a"/><polygon points="6152,1931 6133,1960 6159,1971 6178,1943" fill="#ff9862"/><polygon points="5933,2060 5915,2103 5939,2110 5958,2067" fill="#a4ff71"/><polygon points="6587,1973 6572,1972 6598,1995 6613,1995" fill="#afd611"/><polygon points="6504,1933 6488,1938 6514,1958 6530,1953" fill="#e79f12"/><polygon points="6461,1919 6444,1926 6471,1946 6488,1938" fill="#f07913"/><polygon points="6418,1908 6401,1919 6427,1937 6444,1926" fill="#fa5a14"/><polygon points="6375,1902 6357,1915 6383,1933 6401,1919" fill="#ff4a1d"/><polygon points="6242,1907 6223,1930 6249,1943 6268,1921" fill="#ff684e"/><polygon points="6108,1949 6089,1981 6114,1991 6133,1960" fill="#ffb669"/><polygon points="6064,1971 6045,2006 6070,2015 6089,1981" fill="#ffd76d"/><polygon points="6020,1997 6001,2034 6026,2043 6045,2006" fill="#fffd6f"/><polygon points="5976,2027 5958,2067 5982,2075 6001,2034" fill="#d6ff71"/><polygon points="5891,2097 5873,2143 5897,2149 5915,2103" fill="#71ff77"/><polygon points="6312,1916 6294,1936 6320,1952 6338,1932" fill="#ff5b39"/><polygon points="6178,1943 6159,1971 6185,1984 6204,1955" fill="#ff975d"/><polygon points="6572,1972 6556,1975 6582,1997 6598,1995" fill="#d5db11"/><polygon points="6530,1953 6514,1958 6540,1980 6556,1975" fill="#e4b512"/><polygon points="6488,1938 6471,1946 6497,1966 6514,1958" fill="#ed8d13"/><polygon points="6444,1926 6427,1937 6453,1956 6471,1946" fill="#f66d13"/><polygon points="6401,1919 6383,1933 6409,1951 6427,1937" fill="#ff5616"/><polygon points="6357,1915 6338,1932 6365,1949 6383,1933" fill="#ff5328"/><polygon points="6268,1921 6249,1943 6275,1959 6294,1936" fill="#ff6b48"/><polygon points="6223,1930 6204,1955 6230,1969 6249,1943" fill="#ff7f53"/><polygon points="6133,1960 6114,1991 6140,2003 6159,1971" fill="#ffb463"/><polygon points="6089,1981 6070,2015 6095,2026 6114,1991" fill="#ffd468"/><polygon points="6045,2006 6026,2043 6051,2053 6070,2015" fill="#fff96b"/><polygon points="6001,2034 5982,2075 6007,2084 6026,2043" fill="#daff6d"/><polygon points="5958,2067 5939,2110 5964,2118 5982,2075" fill="#a9ff6e"/><polygon points="5915,2103 5897,2149 5921,2156 5939,2110" fill="#71ff6e"/><polygon points="6556,1975 6540,1980 6566,2002 6582,1997" fill="#e1cc12"/><polygon points="6514,1958 6497,1966 6523,1988 6540,1980" fill="#eaa412"/><polygon points="6471,1946 6453,1956 6480,1977 6497,1966" fill="#f38213"/><polygon points="6427,1937 6409,1951 6436,1970 6453,1956" fill="#fc6814"/><polygon points="6383,1933 6365,1949 6391,1968 6409,1951" fill="#ff5e21"/><polygon points="6338,1932 6320,1952 6346,1969 6365,1949" fill="#ff6232"/><polygon points="6294,1936 6275,1959 6301,1975 6320,1952" fill="#ff6e41"/><polygon points="6249,1943 6230,1969 6256,1985 6275,1959" fill="#ff814d"/><polygon points="6204,1955 6185,1984 6211,1998 6230,1969" fill="#ff9857"/><polygon points="6159,1971 6140,2003 6166,2016 6185,1984" fill="#ffb35e"/><polygon points="6114,1991 6095,2026 6121,2038 6140,2003" fill="#ffd363"/><polygon points="6070,2015 6051,2053 6076,2064 6095,2026" fill="#fff767"/><polygon points="6026,2043 6007,2084 6032,2094 6051,2053" fill="#ddff69"/><polygon points="5982,2075 5964,2118 5988,2127 6007,2084" fill="#adff6a"/><polygon points="5939,2110 5921,2156 5945,2164 5964,2118" fill="#76ff6a"/><polygon points="6497,1966 6480,1977 6506,1999 6523,1988" fill="#f09913"/><polygon points="6453,1956 6436,1970 6462,1991 6480,1977" fill="#f97e14"/><polygon points="6365,1949 6346,1969 6373,1988 6391,1968" fill="#ff6c2b"/><polygon points="6275,1959 6256,1985 6282,2001 6301,1975" fill="#ff8547"/><polygon points="6230,1969 6211,1998 6237,2014 6256,1985" fill="#ff9a51"/><polygon points="6140,2003 6121,2038 6147,2051 6166,2016" fill="#ffd35e"/><polygon points="6051,2053 6032,2094 6057,2105 6076,2064" fill="#deff65"/><polygon points="6007,2084 5988,2127 6013,2137 6032,2094" fill="#aeff66"/><polygon points="6540,1980 6523,1988 6549,2011 6566,2002" fill="#e7bc12"/><polygon points="6409,1951 6391,1968 6418,1988 6436,1970" fill="#ff6d1a"/><polygon points="6320,1952 6301,1975 6328,1992 6346,1969" fill="#ff753a"/><polygon points="6185,1984 6166,2016 6192,2031 6211,1998" fill="#ffb458"/><polygon points="6095,2026 6076,2064 6102,2076 6121,2038" fill="#fff762"/><polygon points="5964,2118 5945,2164 5970,2173 5988,2127" fill="#78ff67"/><polygon points="6480,1977 6462,1991 6489,2013 6506,1999" fill="#f69513"/><polygon points="6256,1985 6237,2014 6263,2030 6282,2001" fill="#ffa04a"/><polygon points="6032,2094 6013,2137 6038,2149 6057,2105" fill="#aeff62"/><polygon points="6523,1988 6506,1999 6533,2022 6549,2011" fill="#edb213"/><polygon points="6436,1970 6418,1988 6444,2008 6462,1991" fill="#fe8114"/><polygon points="6391,1968 6373,1988 6399,2008 6418,1988" fill="#ff7a24"/><polygon points="6346,1969 6328,1992 6354,2011 6373,1988" fill="#ff7f33"/><polygon points="6301,1975 6282,2001 6309,2019 6328,1992" fill="#ff8c40"/><polygon points="6211,1998 6192,2031 6218,2046 6237,2014" fill="#ffb853"/><polygon points="6166,2016 6147,2051 6173,2066 6192,2031" fill="#ffd659"/><polygon points="6121,2038 6102,2076 6128,2090 6147,2051" fill="#fff95d"/><polygon points="6076,2064 6057,2105 6083,2117 6102,2076" fill="#ddff60"/><polygon points="5988,2127 5970,2173 5995,2183 6013,2137" fill="#79ff63"/><polygon points="6506,1999 6489,2013 6515,2036 6533,2022" fill="#f2af13"/><polygon points="6462,1991 6444,2008 6471,2030 6489,2013" fill="#fb9814"/><polygon points="6418,1988 6399,2008 6426,2029 6444,2008" fill="#ff8c1c"/><polygon points="6373,1988 6354,2011 6381,2031 6399,2008" fill="#ff8e2c"/><polygon points="6328,1992 6309,2019 6336,2038 6354,2011" fill="#ff9739"/><polygon points="6282,2001 6263,2030 6290,2048 6309,2019" fill="#ffa844"/><polygon points="6237,2014 6218,2046 6244,2063 6263,2030" fill="#ffbf4d"/><polygon points="6192,2031 6173,2066 6199,2082 6218,2046" fill="#ffda53"/><polygon points="6147,2051 6128,2090 6153,2104 6173,2066" fill="#fffc58"/><polygon points="6102,2076 6083,2117 6108,2131 6128,2090" fill="#daff5c"/><polygon points="6057,2105 6038,2149 6064,2161 6083,2117" fill="#acff5e"/><polygon points="6013,2137 5995,2183 6020,2195 6038,2149" fill="#77ff60"/><polygon points="6489,2013 6471,2030 6498,2054 6515,2036" fill="#f7b313"/><polygon points="6444,2008 6426,2029 6453,2051 6471,2030" fill="#ffa415"/><polygon points="6399,2008 6381,2031 6408,2052 6426,2029" fill="#ff9f25"/><polygon points="6354,2011 6336,2038 6362,2058 6381,2031" fill="#ffa532"/><polygon points="6309,2019 6290,2048 6317,2067 6336,2038" fill="#ffb33e"/><polygon points="6263,2030 6244,2063 6271,2081 6290,2048" fill="#ffc847"/><polygon points="6218,2046 6199,2082 6225,2098 6244,2063" fill="#ffe24e"/><polygon points="6173,2066 6153,2104 6180,2120 6199,2082" fill="#fbff53"/><polygon points="6128,2090 6108,2131 6134,2145 6153,2104" fill="#d4ff57"/><polygon points="6083,2117 6064,2161 6089,2175 6108,2131" fill="#a8ff5a"/><polygon points="6038,2149 6020,2195 6045,2208 6064,2161" fill="#74ff5c"/><polygon points="6471,2030 6453,2051 6480,2074 6498,2054" fill="#fcbe14"/><polygon points="6426,2029 6408,2052 6434,2075 6453,2051" fill="#ffb61e"/><polygon points="6381,2031 6362,2058 6389,2079 6408,2052" fill="#ffb82b"/><polygon points="6336,2038 6317,2067 6343,2087 6362,2058" fill="#ffc237"/><polygon points="6290,2048 6271,2081 6297,2100 6317,2067" fill="#ffd541"/><polygon points="6244,2063 6225,2098 6252,2116 6271,2081" fill="#ffed48"/><polygon points="6199,2082 6180,2120 6206,2137 6225,2098" fill="#f2ff4e"/><polygon points="6153,2104 6134,2145 6160,2161 6180,2120" fill="#cdff52"/><polygon points="6108,2131 6089,2175 6115,2190 6134,2145" fill="#a1ff55"/><polygon points="6064,2161 6045,2208 6071,2222 6089,2175" fill="#6fff58"/><polygon points="6453,2051 6434,2075 6461,2098 6480,2074" fill="#ffd117"/><polygon points="6408,2052 6389,2079 6416,2101 6434,2075" fill="#ffcf24"/><polygon points="6362,2058 6343,2087 6370,2109 6389,2079" fill="#ffd530"/><polygon points="6317,2067 6297,2100 6324,2120 6343,2087" fill="#ffe43a"/><polygon points="6271,2081 6252,2116 6278,2136 6297,2100" fill="#fffa42"/><polygon points="6225,2098 6206,2137 6232,2155 6252,2116" fill="#e6ff49"/><polygon points="6180,2120 6160,2161 6187,2178 6206,2137" fill="#c3ff4d"/><polygon points="6134,2145 6115,2190 6141,2206 6160,2161" fill="#98ff51"/><polygon points="6089,2175 6071,2222 6096,2237 6115,2190" fill="#67ff54"/><polygon points="6434,2075 6416,2101 6443,2125 6461,2098" fill="#ffe81e"/><polygon points="6389,2079 6370,2109 6397,2131 6416,2101" fill="#ffec2a"/><polygon points="6343,2087 6324,2120 6351,2142 6370,2109" fill="#fff834"/><polygon points="6297,2100 6278,2136 6305,2156 6324,2120" fill="#f3ff3c"/><polygon points="6252,2116 6232,2155 6259,2174 6278,2136" fill="#d7ff43"/><polygon points="6206,2137 6187,2178 6213,2197 6232,2155" fill="#b5ff48"/><polygon points="6160,2161 6141,2206 6168,2223 6187,2178" fill="#8cff4c"/><polygon points="6115,2190 6096,2237 6122,2253 6141,2206" fill="#5dff4f"/><polygon points="6416,2101 6397,2131 6424,2155 6443,2125" fill="#f8ff23"/><polygon points="6370,2109 6351,2142 6378,2164 6397,2131" fill="#f0ff2e"/><polygon points="6324,2120 6305,2156 6332,2178 6351,2142" fill="#deff36"/><polygon points="6232,2155 6213,2197 6240,2216 6259,2174" fill="#a6ff43"/><polygon points="6187,2178 6168,2223 6194,2241 6213,2197" fill="#7dff48"/><polygon points="6141,2206 6122,2253 6148,2270 6168,2223" fill="#50ff4b"/><polygon points="6278,2136 6259,2174 6286,2195 6305,2156" fill="#c5ff3e"/><polygon points="6351,2142 6332,2178 6359,2200 6378,2164" fill="#c7ff30"/><polygon points="6213,2197 6194,2241 6220,2261 6240,2216" fill="#6cff43"/><polygon points="6397,2131 6378,2164 6405,2188 6424,2155" fill="#d4ff27"/><polygon points="6305,2156 6286,2195 6313,2217 6332,2178" fill="#afff38"/><polygon points="6259,2174 6240,2216 6266,2237 6286,2195" fill="#93ff3e"/><polygon points="6168,2223 6148,2270 6175,2289 6194,2241" fill="#47ff4e"/><polygon points="6378,2164 6359,2200 6386,2224 6405,2188" fill="#aaff2a"/><polygon points="6332,2178 6313,2217 6339,2239 6359,2200" fill="#97ff32"/><polygon points="6286,2195 6266,2237 6293,2259 6313,2217" fill="#7bff39"/><polygon points="6240,2216 6220,2261 6247,2281 6266,2237" fill="#58ff3e"/><polygon points="6194,2241 6175,2289 6201,2308 6220,2261" fill="#42ff58"/><polygon points="6313,2217 6293,2259 6320,2281 6339,2239" fill="#61ff34"/><polygon points="6266,2237 6247,2281 6274,2303 6293,2259" fill="#40ff39"/><polygon points="6359,2200 6339,2239 6366,2264 6386,2224" fill="#7aff2d"/><polygon points="6220,2261 6201,2308 6228,2329 6247,2281" fill="#3eff64"/><polygon points="6293,2259 6274,2303 6301,2326 6320,2281" fill="#34ff45"/><polygon points="6339,2239 6320,2281 6347,2306 6366,2264" fill="#43ff2e"/><polygon points="6247,2281 6228,2329 6254,2351 6274,2303" fill="#39ff75"/><polygon points="6320,2281 6301,2326 6328,2351 6347,2306" fill="#2fff5a"/><polygon points="6274,2303 6254,2351 6281,2374 6301,2326" fill="#34ff89"/><polygon points="6301,2326 6281,2374 6308,2398 6328,2351" fill="#30ff9f"/></g><circle cx="622.74" cy="185.03" r="1" fill="#c00"/><circle cx="630.78" cy="240.69" r="0.9" fill="#fcc" stroke="#d66" stroke-width="0.3"/><circle cx="668.23" cy="203.22" r="0.9" fill="#fcc" stroke="#d66" stroke-width="0.3"/><text x="630.3" y="149.1" font-size="3.1" fill="#000" text-anchor="middle" font-weight="bold" textLength="14.1" lengthAdjust="spacingAndGlyphs">3D Surface</text><text x="561.68" y="213.28" font-size="2.6" fill="#000" text-anchor="middle" transform="rotate(-90 561.68 213.28)" textLength="19.78" lengthAdjust="spacingAndGlyphs">Microencapsulation rate</text><text x="591.78" y="263.97" font-size="2.6" fill="#000" text-anchor="middle" textLength="28.35" lengthAdjust="spacingAndGlyphs">D: Different ratio of water content</text><text x="646.73" y="254.77" font-size="2.6" fill="#000" textLength="38.07" lengthAdjust="spacingAndGlyphs">B: Different ratio of CaCl2 and sodium alginate</text><text x="588.97" y="246.03" font-size="1.7" fill="#333" text-anchor="end">0.1</text><text x="601.75" y="252.73" font-size="1.7" fill="#333" text-anchor="end">0.2</text><text x="615.05" y="259.71" font-size="1.7" fill="#333" text-anchor="end">0.3</text><text x="659.64" y="238.04" font-size="1.7" fill="#333">0.1</text><text x="650.98" y="246.95" font-size="1.7" fill="#333">0.2</text><text x="641.84" y="256.35" font-size="1.7" fill="#333">0.3</text><text transform="translate(7.9 264.4) scale(.94 1)" class="L">I</text><text x="16.3" y="266.35" font-size="2.4" fill="#222" textLength="17.64" lengthAdjust="spacingAndGlyphs">Factor Coding: Actual</text><text x="16.3" y="271.85" font-size="2.4" fill="#000" font-weight="bold" textLength="21.16" lengthAdjust="spacingAndGlyphs">Microencapsulation rate</text><circle cx="18.1" cy="274" r="1" fill="#a00"/><text x="20.1" y="274.85" font-size="2.4" fill="#e33" textLength="11.05" lengthAdjust="spacingAndGlyphs">Design Points</text><text x="16.3" y="280.55" font-size="2.4" fill="#33f" textLength="2.7" lengthAdjust="spacingAndGlyphs">0.5</text><rect x="20.8" y="278.35" width="7.1" height="2.7" fill="url(#cbar)"/><text x="28.5" y="280.55" font-size="2.4" fill="#f33" textLength="3.6" lengthAdjust="spacingAndGlyphs">0.95</text><text x="16.3" y="283.25" font-size="2.4" fill="#222" textLength="5.1" lengthAdjust="spacingAndGlyphs">X1 = A</text><text x="16.3" y="286.05" font-size="2.4" fill="#222" textLength="5.1" lengthAdjust="spacingAndGlyphs">X2 = B</text><text x="16.3" y="292.05" font-size="2.4" fill="#000" font-weight="bold" textLength="12.6" lengthAdjust="spacingAndGlyphs">Actual Factors</text><text x="16.3" y="294.95" font-size="2.4" fill="#222" textLength="4.25" lengthAdjust="spacingAndGlyphs">B = 1</text><text x="16.3" y="297.65" font-size="2.4" fill="#222" textLength="4.25" lengthAdjust="spacingAndGlyphs">C = 1</text><rect x="72.2" y="270.7" width="100.1" height="99.3" fill="url(#rg5)"/><g clip-path="url(#cp5)" fill="none" stroke="#2a2a10" stroke-width="0.5"><ellipse cx="121.4" cy="320.2" rx="23.8" ry="28.1"/><ellipse cx="121.4" cy="320.2" rx="36.6" ry="43.19"/><ellipse cx="121.4" cy="320.2" rx="45.96" ry="54.24"/><ellipse cx="121.4" cy="320.2" rx="53.71" ry="63.39"/></g><rect x="72.2" y="270.7" width="100.1" height="99.3" fill="none" stroke="#aaa" stroke-width="0.3"/><rect x="74.8" y="274.95" width="2" height="1.3" fill="#ddd" stroke="#999" stroke-width="0.2"/><rect x="78" y="281.35" width="2" height="1.3" fill="#ddd" stroke="#999" stroke-width="0.2"/><rect x="162.6" y="281.35" width="2" height="1.3" fill="#ddd" stroke="#999" stroke-width="0.2"/><rect x="166.2" y="274.95" width="2" height="1.3" fill="#ddd" stroke="#999" stroke-width="0.2"/><rect x="74.8" y="317.65" width="2" height="1.3" fill="#ddd" stroke="#999" stroke-width="0.2"/><rect x="166.2" y="317.65" width="2" height="1.3" fill="#ddd" stroke="#999" stroke-width="0.2"/><rect x="114.6" y="346.15" width="2" height="1.3" fill="#ddd" stroke="#999" stroke-width="0.2"/><rect x="116.4" y="361.75" width="2" height="1.3" fill="#ddd" stroke="#999" stroke-width="0.2"/><rect x="78" y="356.15" width="2" height="1.3" fill="#ddd" stroke="#999" stroke-width="0.2"/><rect x="162.6" y="356.15" width="2" height="1.3" fill="#ddd" stroke="#999" stroke-width="0.2"/><rect x="74.8" y="363.95" width="2" height="1.3" fill="#ddd" stroke="#999" stroke-width="0.2"/><rect x="166.2" y="363.95" width="2" height="1.3" fill="#ddd" stroke="#999" stroke-width="0.2"/><circle cx="72.2" cy="270.7" r="0.9" fill="#a00"/><circle cx="172.3" cy="270.7" r="0.9" fill="#a00"/><circle cx="72.2" cy="370" r="0.9" fill="#a00"/><circle cx="172.3" cy="370" r="0.9" fill="#a00"/><circle cx="121.4" cy="320.2" r="0.9" fill="#400"/><text x="122.25" y="268.8" font-size="3" fill="#000" text-anchor="middle" textLength="31.74" lengthAdjust="spacingAndGlyphs">Microencapsulation rate</text><line x1="72.2" y1="370" x2="72.2" y2="371.2" stroke="#999" stroke-width="0.3"/><text x="72.2" y="375.2" font-size="1.9" fill="#333" text-anchor="middle">0.0</text><line x1="92.22" y1="370" x2="92.22" y2="371.2" stroke="#999" stroke-width="0.3"/><text x="92.22" y="375.2" font-size="1.9" fill="#333" text-anchor="middle">0.1</text><line x1="112.24" y1="370" x2="112.24" y2="371.2" stroke="#999" stroke-width="0.3"/><text x="112.24" y="375.2" font-size="1.9" fill="#333" text-anchor="middle">0.2</text><line x1="132.26" y1="370" x2="132.26" y2="371.2" stroke="#999" stroke-width="0.3"/><text x="132.26" y="375.2" font-size="1.9" fill="#333" text-anchor="middle">0.3</text><line x1="152.28" y1="370" x2="152.28" y2="371.2" stroke="#999" stroke-width="0.3"/><text x="152.28" y="375.2" font-size="1.9" fill="#333" text-anchor="middle">0.4</text><line x1="172.3" y1="370" x2="172.3" y2="371.2" stroke="#999" stroke-width="0.3"/><text x="172.3" y="375.2" font-size="1.9" fill="#333" text-anchor="middle">0.5</text><line x1="71" y1="370" x2="72.2" y2="370" stroke="#999" stroke-width="0.3"/><text x="69.9" y="370.7" font-size="1.9" fill="#333" text-anchor="end">0.0</text><line x1="71" y1="345.18" x2="72.2" y2="345.18" stroke="#999" stroke-width="0.3"/><text x="69.9" y="345.88" font-size="1.9" fill="#333" text-anchor="end">0.1</text><line x1="71" y1="320.35" x2="72.2" y2="320.35" stroke="#999" stroke-width="0.3"/><text x="69.9" y="321.05" font-size="1.9" fill="#333" text-anchor="end">0.2</text><line x1="71" y1="295.52" x2="72.2" y2="295.52" stroke="#999" stroke-width="0.3"/><text x="69.9" y="296.22" font-size="1.9" fill="#333" text-anchor="end">0.3</text><line x1="71" y1="270.7" x2="72.2" y2="270.7" stroke="#999" stroke-width="0.3"/><text x="69.9" y="271.4" font-size="1.9" fill="#333" text-anchor="end">0.4</text><text x="122.25" y="383.2" font-size="3" fill="#000" text-anchor="middle" textLength="38.88" lengthAdjust="spacingAndGlyphs">A: Different sodium alginate content</text><text x="57.2" y="320.35" font-size="3" fill="#000" text-anchor="middle" transform="rotate(-90 57.2 320.35)" textLength="38.5" lengthAdjust="spacingAndGlyphs">D: Different ratio of water content</text><text transform="translate(178.8 264) scale(.94 1)" class="L">J</text><text x="184.2" y="267.95" font-size="2.4" fill="#222" textLength="17.64" lengthAdjust="spacingAndGlyphs">Factor Coding: Actual</text><text x="184.2" y="273.55" font-size="2.4" fill="#000" font-weight="bold" textLength="21.16" lengthAdjust="spacingAndGlyphs">Microencapsulation rate</text><text x="184.2" y="276.35" font-size="2.4" fill="#222" textLength="11.05" lengthAdjust="spacingAndGlyphs">Design Points</text><circle cx="186.5" cy="278.4" r="0.95" fill="#b00"/><text x="187.8" y="279.25" font-size="2.4" fill="#e33" textLength="12.48" lengthAdjust="spacingAndGlyphs">Above Surface</text><circle cx="186.5" cy="281.3" r="0.8" fill="none" stroke="#d66" stroke-width="0.35"/><text x="187.8" y="282.15" font-size="2.4" fill="#e55" textLength="12.48" lengthAdjust="spacingAndGlyphs">Below Surface</text><text x="184.2" y="285.15" font-size="2.4" fill="#33f" textLength="2.7" lengthAdjust="spacingAndGlyphs">0.5</text><rect x="188.7" y="282.95" width="7.1" height="2.7" fill="url(#cbar)"/><text x="196.4" y="285.15" font-size="2.4" fill="#f33" textLength="3.6" lengthAdjust="spacingAndGlyphs">0.95</text><text x="184.2" y="290.75" font-size="2.4" fill="#222" textLength="5.1" lengthAdjust="spacingAndGlyphs">X1 = A</text><text x="184.2" y="293.35" font-size="2.4" fill="#222" textLength="5.1" lengthAdjust="spacingAndGlyphs">X2 = B</text><text x="184.2" y="299.15" font-size="2.4" fill="#000" font-weight="bold" textLength="12.6" lengthAdjust="spacingAndGlyphs">Actual Factors</text><text x="184.2" y="301.95" font-size="2.4" fill="#222" textLength="4.25" lengthAdjust="spacingAndGlyphs">C = 1</text><text x="184.2" y="304.65" font-size="2.4" fill="#222" textLength="4.25" lengthAdjust="spacingAndGlyphs">D = 5</text><polygon points="275.32,323.07 239.98,353.55 234.75,307.28 274.64,278.55" fill="#fff"/><path d="M275.32 323.07L274.64 278.55M268.83 328.67L267.39 283.77M262.07 334.5L259.8 289.23M255.02 340.58L251.85 294.96M247.66 346.92L243.51 300.97M239.98 353.55L234.75 307.28M275.32 323.07L274.64 278.55M286.22 328.1L286.78 283.24M297.53 333.32L299.43 288.13M309.28 338.74L312.62 293.23M321.49 344.37L326.39 298.55M239.98 353.55L275.32 323.07L321.49 344.37M239.39 348.34L275.24 318L322.04 339.2M238.78 342.98L275.16 312.81L322.61 333.88M238.16 337.47L275.08 307.47L323.19 328.41M237.52 331.79L274.99 301.99L323.8 322.78M236.86 325.94L274.91 296.37L324.42 316.99M236.18 319.91L274.82 290.59L325.05 311.02M235.47 313.69L274.73 284.65L325.71 304.88M234.75 307.28L274.64 278.55L326.39 298.55" fill="none" stroke="#999" stroke-width="0.4"/><polygon points="275.32,323.07 239.98,353.55 288.66,380.11 321.49,344.37" fill="#616161"/><path d="M272.6 357.3 273.6 357.7 274.6 358.2 275.6 358.6 276.6 358.9 277.7 359.2 278.8 359.5 279.9 359.7 281.0 359.8 282.1 359.9 283.2 360.0 284.3 360.0 285.3 360.0 286.4 359.9 287.4 359.8 288.5 359.6 289.4 359.3 290.4 359.1 291.3 358.8 292.1 358.4 292.9 358.0 293.7 357.5 294.4 357.1 295.0 356.6 295.6 356.0 296.1 355.4 296.5 354.8 296.9 354.2 297.2 353.6 297.5 352.9 297.6 352.2 297.7 351.5 297.7 350.8 297.7 350.1 297.6 349.4 297.4 348.7 297.1 348.0 296.8 347.3 296.4 346.7 296.0 346.0 295.5 345.3 294.9 344.7 294.3 344.1 293.6 343.5 292.9 342.9 292.1 342.4 291.3 341.9 290.5 341.4 289.6 340.9 288.7 340.5 287.8 340.2 286.8 339.8 285.8 339.5 284.8 339.2 283.8 339.0 282.8 338.8 281.7 338.7 280.7 338.6 279.7 338.6 278.7 338.5 277.7 338.6 276.7 338.6 275.7 338.8 274.7 338.9 273.8 339.1 272.9 339.4 272.1 339.6 271.2 340.0 270.4 340.3 269.7 340.7 269.0 341.1 268.4 341.6 267.8 342.1 267.2 342.6 266.7 343.2 266.3 343.8 266.0 344.4 265.7 345.0 265.4 345.6 265.3 346.3 265.2 347.0 265.2 347.7 265.2 348.3 265.3 349.0 265.5 349.7 265.7 350.5 266.1 351.2 266.4 351.8 266.9 352.5 267.4 353.2 268.0 353.9 268.6 354.5 269.3 355.1 270.1 355.7 270.9 356.3 271.7 356.8 272.6 357.3" fill="none" stroke="#cc3d00" stroke-width="0.5"/><path d="M268.2 361.6 269.6 362.3 271.1 362.9 272.6 363.5 274.2 364.0 275.8 364.5 277.4 364.9 279.1 365.2 280.7 365.5 282.4 365.6 284.1 365.7 285.8 365.8 287.4 365.7 289.0 365.6 290.6 365.4 292.1 365.1 293.6 364.7 295.0 364.3 296.4 363.8 297.7 363.3 298.9 362.6 300.0 362.0 301.0 361.2 302.0 360.4 302.8 359.6 303.6 358.7 304.2 357.8 304.7 356.9 305.2 355.9 305.5 354.9 305.7 353.9 305.8 352.8 305.8 351.8 305.7 350.8 305.5 349.7 305.2 348.7 304.8 347.6 304.3 346.6 303.7 345.6 303.0 344.6 302.3 343.6 301.4 342.7 300.5 341.8 299.5 340.9 298.4 340.1 297.3 339.3 296.1 338.6 294.8 337.9 293.5 337.2 292.1 336.6 290.8 336.1 289.3 335.6 287.9 335.1 286.4 334.8 284.9 334.4 283.4 334.2 281.9 334.0 280.4 333.8 278.9 333.8 277.4 333.7 275.9 333.8 274.5 333.9 273.1 334.1 271.7 334.3 270.3 334.6 269.0 334.9 267.7 335.3 266.5 335.8 265.3 336.3 264.2 336.9 263.2 337.5 262.2 338.2 261.3 338.9 260.5 339.7 259.8 340.5 259.2 341.3 258.6 342.2 258.2 343.1 257.8 344.1 257.5 345.0 257.3 346.0 257.3 347.0 257.3 348.1 257.5 349.1 257.7 350.2 258.0 351.2 258.5 352.3 259.0 353.3 259.7 354.3 260.4 355.3 261.3 356.3 262.2 357.3 263.3 358.2 264.4 359.1 265.6 360.0 266.9 360.8 268.2 361.6" fill="none" stroke="#cc7900" stroke-width="0.5"/><path d="M264.8 364.8 266.6 365.7 268.4 366.6 270.3 367.3 272.3 368.0 274.3 368.6 276.4 369.1 278.5 369.5 280.6 369.8 282.7 370.0 284.8 370.1 286.9 370.2 289.0 370.1 291.0 369.9 293.0 369.7 294.9 369.3 296.8 368.9 298.6 368.3M311.9 353.8 311.9 352.5 311.7 351.2 311.5 349.9 311.1 348.6 310.5 347.3 309.9 346.0 309.1 344.8 308.2 343.6 307.3 342.4 306.2 341.2 305.0 340.1 303.8 339.0 302.4 338.0 301.0 337.1 299.5 336.1 297.9 335.3 296.3 334.5 294.6 333.8 292.9 333.1 291.2 332.5 289.4 332.0 287.6 331.5 285.7 331.1 283.9 330.8 282.0 330.6 280.2 330.4 278.3 330.3 276.5 330.3 274.7 330.3 272.9 330.4 271.1 330.7 269.4 330.9 267.8 331.3 266.1 331.7M251.8 344.1 251.5 345.3 251.4 346.6 251.5 347.9 251.6 349.2 251.9 350.5 252.3 351.8 252.8 353.1 253.5 354.4 254.3 355.7 255.2 357.0 256.2 358.2 257.4 359.4 258.7 360.6 260.0 361.7 261.5 362.8 263.1 363.9 264.8 364.8" fill="none" stroke="#ccb400" stroke-width="0.5"/><path d="M275.5 372.6 278.0 373.1 280.4 373.5 282.9 373.8 285.4 373.9 287.9 373.9 290.3 373.9 292.7 373.7M315.9 348.6 315.3 347.1 314.5 345.6 313.6 344.1 312.6 342.7 311.4 341.3 310.1 340.0 308.8 338.7M286.4 328.4 284.3 328.0 282.1 327.8 280.0 327.6 277.9 327.5 275.8 327.4 273.7 327.5 271.6 327.6M246.7 349.2 247.0 350.7 247.5 352.3 248.1 353.8 248.8 355.3 249.7 356.8 250.8 358.3 252.0 359.8" fill="none" stroke="#a8cc00" stroke-width="0.5"/><path d="M286.0 377.3 288.8 377.3M318.5 345.2 317.5 343.6M277.5 325.0 275.1 325.0M243.2 352.7 243.9 354.4" fill="none" stroke="#6dcc00" stroke-width="0.5"/><line x1="238.39" y1="348.34" x2="239.39" y2="348.34" stroke="#888" stroke-width="0.3"/><text x="238.09" y="348.94" font-size="1.7" fill="#333" text-anchor="end" textLength="1.65" lengthAdjust="spacingAndGlyphs">0.2</text><line x1="237.78" y1="342.98" x2="238.78" y2="342.98" stroke="#888" stroke-width="0.3"/><text x="237.48" y="343.58" font-size="1.7" fill="#333" text-anchor="end" textLength="1.65" lengthAdjust="spacingAndGlyphs">0.3</text><line x1="237.16" y1="337.47" x2="238.16" y2="337.47" stroke="#888" stroke-width="0.3"/><text x="236.86" y="338.07" font-size="1.7" fill="#333" text-anchor="end" textLength="1.65" lengthAdjust="spacingAndGlyphs">0.4</text><line x1="236.52" y1="331.79" x2="237.52" y2="331.79" stroke="#888" stroke-width="0.3"/><text x="236.22" y="332.39" font-size="1.7" fill="#333" text-anchor="end" textLength="1.65" lengthAdjust="spacingAndGlyphs">0.5</text><line x1="235.86" y1="325.94" x2="236.86" y2="325.94" stroke="#888" stroke-width="0.3"/><text x="235.56" y="326.54" font-size="1.7" fill="#333" text-anchor="end" textLength="1.65" lengthAdjust="spacingAndGlyphs">0.6</text><line x1="235.18" y1="319.91" x2="236.18" y2="319.91" stroke="#888" stroke-width="0.3"/><text x="234.88" y="320.51" font-size="1.7" fill="#333" text-anchor="end" textLength="1.65" lengthAdjust="spacingAndGlyphs">0.7</text><line x1="234.47" y1="313.69" x2="235.47" y2="313.69" stroke="#888" stroke-width="0.3"/><text x="234.17" y="314.29" font-size="1.7" fill="#333" text-anchor="end" textLength="1.65" lengthAdjust="spacingAndGlyphs">0.8</text><line x1="233.75" y1="307.28" x2="234.75" y2="307.28" stroke="#888" stroke-width="0.3"/><text x="233.45" y="307.88" font-size="1.7" fill="#333" text-anchor="end" textLength="1.65" lengthAdjust="spacingAndGlyphs">0.9</text><g transform="scale(.1)" stroke="#000" stroke-opacity=".42" stroke-width="2.6" stroke-linejoin="round"><polygon points="2749,2949 2733,2949 2754,2948 2770,2949" fill="#82ff29"/><polygon points="2770,2949 2754,2948 2775,2949 2791,2950" fill="#9aff26"/><polygon points="2733,2949 2717,2949 2738,2949 2754,2948" fill="#a8ff31"/><polygon points="2791,2950 2775,2949 2796,2950 2812,2951" fill="#aeff23"/><polygon points="2754,2948 2738,2949 2759,2950 2775,2949" fill="#bfff2d"/><polygon points="2717,2949 2701,2951 2722,2951 2738,2949" fill="#c8ff38"/><polygon points="2812,2951 2796,2950 2818,2953 2834,2953" fill="#c2ff1f"/><polygon points="2775,2949 2759,2950 2781,2951 2796,2950" fill="#d3ff2a"/><polygon points="2738,2949 2722,2951 2743,2952 2759,2950" fill="#ddff35"/><polygon points="2701,2951 2684,2955 2705,2954 2722,2951" fill="#e2ff40"/><polygon points="2834,2953 2818,2953 2840,2956 2855,2956" fill="#d3ff1b"/><polygon points="2796,2950 2781,2951 2802,2953 2818,2953" fill="#e6ff26"/><polygon points="2759,2950 2743,2952 2765,2953 2781,2951" fill="#f3ff31"/><polygon points="2722,2951 2705,2954 2727,2955 2743,2952" fill="#f8ff3c"/><polygon points="2684,2955 2668,2959 2689,2959 2705,2954" fill="#f9ff47"/><polygon points="2855,2956 2840,2956 2862,2960 2877,2961" fill="#e2ff17"/><polygon points="2781,2951 2765,2953 2786,2955 2802,2953" fill="#fff92e"/><polygon points="2743,2952 2727,2955 2748,2956 2765,2953" fill="#fff139"/><polygon points="2668,2959 2651,2965 2672,2964 2689,2959" fill="#fff44e"/><polygon points="2818,2953 2802,2953 2824,2957 2840,2956" fill="#f8ff23"/><polygon points="2705,2954 2689,2959 2710,2959 2727,2955" fill="#fff144"/><polygon points="2877,2961 2862,2960 2884,2965 2899,2966" fill="#eefe14"/><polygon points="2840,2956 2824,2957 2846,2961 2862,2960" fill="#fff61e"/><polygon points="2802,2953 2786,2955 2808,2959 2824,2957" fill="#ffe72a"/><polygon points="2765,2953 2748,2956 2770,2959 2786,2955" fill="#ffde35"/><polygon points="2727,2955 2710,2959 2732,2961 2748,2956" fill="#ffdd41"/><polygon points="2689,2959 2672,2964 2693,2965 2710,2959" fill="#ffe04b"/><polygon points="2651,2965 2634,2972 2655,2972 2672,2964" fill="#ffe755"/><polygon points="2899,2966 2884,2965 2907,2971 2922,2972" fill="#f7fc14"/><polygon points="2862,2960 2846,2961 2869,2966 2884,2965" fill="#ffea1a"/><polygon points="2824,2957 2808,2959 2831,2963 2846,2961" fill="#ffd826"/><polygon points="2786,2955 2770,2959 2792,2962 2808,2959" fill="#ffcd32"/><polygon points="2748,2956 2732,2961 2754,2963 2770,2959" fill="#ffca3d"/><polygon points="2710,2959 2693,2965 2715,2967 2732,2961" fill="#ffcc48"/><polygon points="2672,2964 2655,2972 2677,2972 2693,2965" fill="#ffd352"/><polygon points="2634,2972 2617,2980 2638,2980 2655,2972" fill="#ffde5c"/><polygon points="2922,2972 2907,2971 2929,2978 2944,2978" fill="#faf614"/><polygon points="2884,2965 2869,2966 2891,2972 2907,2971" fill="#ffde16"/><polygon points="2846,2961 2831,2963 2853,2968 2869,2966" fill="#ffca22"/><polygon points="2808,2959 2792,2962 2815,2966 2831,2963" fill="#ffbe2e"/><polygon points="2770,2959 2754,2963 2776,2967 2792,2962" fill="#ffb939"/><polygon points="2732,2961 2715,2967 2737,2969 2754,2963" fill="#ffbb45"/><polygon points="2693,2965 2677,2972 2698,2974 2715,2967" fill="#ffc04f"/><polygon points="2655,2972 2638,2980 2659,2981 2677,2972" fill="#ffca59"/><polygon points="2617,2980 2599,2990 2621,2990 2638,2980" fill="#ffd863"/><polygon points="2869,2966 2853,2968 2876,2974 2891,2972" fill="#ffbf1d"/><polygon points="2831,2963 2815,2966 2837,2972 2853,2968" fill="#ffb129"/><polygon points="2792,2962 2776,2967 2798,2971 2815,2966" fill="#ffaa35"/><polygon points="2754,2963 2737,2969 2759,2973 2776,2967" fill="#ffa941"/><polygon points="2715,2967 2698,2974 2720,2976 2737,2969" fill="#ffae4c"/><polygon points="2677,2972 2659,2981 2681,2982 2698,2974" fill="#ffb856"/><polygon points="2944,2978 2929,2978 2952,2986 2967,2986" fill="#f8ef13"/><polygon points="2907,2971 2891,2972 2914,2979 2929,2978" fill="#fed514"/><polygon points="2638,2980 2621,2990 2642,2991 2659,2981" fill="#ffc560"/><polygon points="2599,2990 2582,3001 2603,3001 2621,2990" fill="#ffd469"/><polygon points="2967,2986 2952,2986 2975,2995 2990,2995" fill="#f6ea13"/><polygon points="2853,2968 2837,2972 2860,2978 2876,2974" fill="#ffa425"/><polygon points="2815,2966 2798,2971 2821,2976 2837,2972" fill="#ff9c31"/><polygon points="2776,2967 2759,2973 2782,2977 2798,2971" fill="#ff9b3d"/><polygon points="2737,2969 2720,2976 2743,2980 2759,2973" fill="#ff9f48"/><polygon points="2698,2974 2681,2982 2703,2985 2720,2976" fill="#ffa653"/><polygon points="2582,3001 2564,3014 2586,3014 2603,3001" fill="#ffd36f"/><polygon points="2929,2978 2914,2979 2937,2987 2952,2986" fill="#fbcd14"/><polygon points="2891,2972 2876,2974 2898,2981 2914,2979" fill="#ffb619"/><polygon points="2659,2981 2642,2991 2664,2992 2681,2982" fill="#ffb35d"/><polygon points="2621,2990 2603,3001 2625,3002 2642,2991" fill="#ffc266"/><polygon points="2990,2995 2975,2995 2998,3005 3012,3005" fill="#f3e813"/><polygon points="2952,2986 2937,2987 2960,2996 2975,2995" fill="#f9c814"/><polygon points="2914,2979 2898,2981 2921,2989 2937,2987" fill="#ffae14"/><polygon points="2876,2974 2860,2978 2883,2985 2898,2981" fill="#ff9b20"/><polygon points="2837,2972 2821,2976 2844,2982 2860,2978" fill="#ff912d"/><polygon points="2798,2971 2782,2977 2805,2982 2821,2976" fill="#ff8d39"/><polygon points="2759,2973 2743,2980 2765,2984 2782,2977" fill="#ff8f44"/><polygon points="2720,2976 2703,2985 2726,2989 2743,2980" fill="#ff964f"/><polygon points="2681,2982 2664,2992 2686,2995 2703,2985" fill="#ffa25a"/><polygon points="2642,2991 2625,3002 2647,3004 2664,2992" fill="#ffb163"/><polygon points="2603,3001 2586,3014 2607,3015 2625,3002" fill="#ffc26c"/><polygon points="2564,3014 2547,3028 2568,3028 2586,3014" fill="#ffd574"/><polygon points="3012,3005 2998,3005 3021,3015 3035,3015" fill="#f1e813"/><polygon points="2975,2995 2960,2996 2983,3006 2998,3005" fill="#f7c613"/><polygon points="2937,2987 2921,2989 2945,2998 2960,2996" fill="#fdaa14"/><polygon points="2898,2981 2883,2985 2906,2993 2921,2989" fill="#ff941b"/><polygon points="2860,2978 2844,2982 2867,2990 2883,2985" fill="#ff8628"/><polygon points="2821,2976 2805,2982 2827,2989 2844,2982" fill="#ff8134"/><polygon points="2782,2977 2765,2984 2788,2990 2805,2982" fill="#ff8140"/><polygon points="2743,2980 2726,2989 2748,2993 2765,2984" fill="#ff894b"/><polygon points="2703,2985 2686,2995 2708,2999 2726,2989" fill="#ff9356"/><polygon points="2664,2992 2647,3004 2669,3006 2686,2995" fill="#ffa060"/><polygon points="2625,3002 2607,3015 2629,3016 2647,3004" fill="#ffb269"/><polygon points="2586,3014 2568,3028 2589,3029 2607,3015" fill="#ffc472"/><polygon points="2547,3028 2529,3043 2550,3043 2568,3028" fill="#ffd979"/><polygon points="2998,3005 2983,3006 3006,3017 3021,3015" fill="#f4c713"/><polygon points="2921,2989 2906,2993 2929,3002 2945,2998" fill="#ff8f16"/><polygon points="2805,2982 2788,2990 2811,2996 2827,2989" fill="#ff763b"/><polygon points="2765,2984 2748,2993 2771,2999 2788,2990" fill="#ff7b47"/><polygon points="2647,3004 2629,3016 2651,3019 2669,3006" fill="#ffa166"/><polygon points="2568,3028 2550,3043 2572,3044 2589,3029" fill="#ffc876"/><polygon points="3035,3015 3021,3015 3044,3027 3059,3027" fill="#eeeb13"/><polygon points="2960,2996 2945,2998 2968,3008 2983,3006" fill="#faa914"/><polygon points="2883,2985 2867,2990 2890,2998 2906,2993" fill="#ff7f23"/><polygon points="2844,2982 2827,2989 2851,2996 2867,2990" fill="#ff762f"/><polygon points="2726,2989 2708,2999 2731,3003 2748,2993" fill="#ff8452"/><polygon points="2686,2995 2669,3006 2691,3010 2708,2999" fill="#ff925d"/><polygon points="2607,3015 2589,3029 2611,3031 2629,3016" fill="#ffb56f"/><polygon points="2529,3043 2511,3060 2532,3060 2550,3043" fill="#ffde7d"/><polygon points="3059,3027 3044,3027 3068,3040 3082,3040" fill="#e7ec13"/><polygon points="3021,3015 3006,3017 3030,3029 3044,3027" fill="#f2cb13"/><polygon points="2983,3006 2968,3008 2991,3019 3006,3017" fill="#f8a913"/><polygon points="2945,2998 2929,3002 2953,3012 2968,3008" fill="#fe8d14"/><polygon points="2906,2993 2890,2998 2913,3007 2929,3002" fill="#ff791e"/><polygon points="2867,2990 2851,2996 2874,3004 2890,2998" fill="#ff6e2a"/><polygon points="2827,2989 2811,2996 2834,3003 2851,2996" fill="#ff6c37"/><polygon points="2788,2990 2771,2999 2794,3005 2811,2996" fill="#ff6f43"/><polygon points="2748,2993 2731,3003 2754,3009 2771,2999" fill="#ff784e"/><polygon points="2708,2999 2691,3010 2714,3015 2731,3003" fill="#ff8359"/><polygon points="2669,3006 2651,3019 2674,3023 2691,3010" fill="#ff9363"/><polygon points="2629,3016 2611,3031 2634,3034 2651,3019" fill="#ffa56c"/><polygon points="2589,3029 2572,3044 2594,3046 2611,3031" fill="#ffb974"/><polygon points="2550,3043 2532,3060 2554,3061 2572,3044" fill="#ffcf7b"/><polygon points="2511,3060 2493,3078 2514,3078 2532,3060" fill="#ffe580"/><polygon points="3082,3040 3068,3040 3091,3054 3105,3053" fill="#dbe912"/><polygon points="3044,3027 3030,3029 3053,3041 3068,3040" fill="#efd013"/><polygon points="2968,3008 2953,3012 2976,3023 2991,3019" fill="#fb8f14"/><polygon points="2890,2998 2874,3004 2897,3013 2913,3007" fill="#ff6925"/><polygon points="2691,3010 2674,3023 2696,3028 2714,3015" fill="#ff865f"/><polygon points="2611,3031 2594,3046 2616,3049 2634,3034" fill="#ffaa71"/><polygon points="2532,3060 2514,3078 2536,3080 2554,3061" fill="#ffd67e"/><polygon points="2493,3078 2475,3097 2496,3098 2514,3078" fill="#ffee83"/><polygon points="3006,3017 2991,3019 3015,3031 3030,3029" fill="#f5ad13"/><polygon points="2929,3002 2913,3007 2937,3017 2953,3012" fill="#ff7619"/><polygon points="2851,2996 2834,3003 2857,3012 2874,3004" fill="#ff6332"/><polygon points="2811,2996 2794,3005 2817,3013 2834,3003" fill="#ff643e"/><polygon points="2771,2999 2754,3009 2777,3015 2794,3005" fill="#ff6c4a"/><polygon points="2731,3003 2714,3015 2737,3021 2754,3009" fill="#ff7655"/><polygon points="2651,3019 2634,3034 2656,3038 2674,3023" fill="#ff9768"/><polygon points="2572,3044 2554,3061 2576,3063 2594,3046" fill="#ffc078"/><polygon points="3068,3040 3053,3041 3077,3055 3091,3054" fill="#edd813"/><polygon points="2514,3078 2496,3098 2518,3099 2536,3080" fill="#ffdf81"/><polygon points="3105,3053 3091,3054 3115,3068 3128,3068" fill="#cde712"/><polygon points="3030,3029 3015,3031 3039,3044 3053,3041" fill="#f2b313"/><polygon points="2991,3019 2976,3023 3000,3035 3015,3031" fill="#f89213"/><polygon points="2953,3012 2937,3017 2961,3028 2976,3023" fill="#ff7614"/><polygon points="2913,3007 2897,3013 2921,3024 2937,3017" fill="#ff6520"/><polygon points="2874,3004 2857,3012 2881,3021 2897,3013" fill="#ff5d2c"/><polygon points="2834,3003 2817,3013 2841,3021 2857,3012" fill="#ff5c39"/><polygon points="2794,3005 2777,3015 2800,3023 2817,3013" fill="#ff6145"/><polygon points="2754,3009 2737,3021 2760,3027 2777,3015" fill="#ff6b50"/><polygon points="2714,3015 2696,3028 2719,3034 2737,3021" fill="#ff795b"/><polygon points="2674,3023 2656,3038 2679,3042 2696,3028" fill="#ff8a64"/><polygon points="2634,3034 2616,3049 2638,3053 2656,3038" fill="#ff9d6d"/><polygon points="2594,3046 2576,3063 2598,3067 2616,3049" fill="#ffb175"/><polygon points="2554,3061 2536,3080 2558,3082 2576,3063" fill="#ffc87c"/><polygon points="2475,3097 2457,3118 2478,3119 2496,3098" fill="#fff886"/><polygon points="3128,3068 3115,3068 3138,3084 3152,3083" fill="#bce412"/><polygon points="3091,3054 3077,3055 3101,3070 3115,3068" fill="#eae212"/><polygon points="3053,3041 3039,3044 3062,3058 3077,3055" fill="#f0bb13"/><polygon points="3015,3031 3000,3035 3024,3048 3039,3044" fill="#f69713"/><polygon points="2976,3023 2961,3028 2984,3041 3000,3035" fill="#fc7914"/><polygon points="2937,3017 2921,3024 2945,3035 2961,3028" fill="#ff631a"/><polygon points="2897,3013 2881,3021 2905,3032 2921,3024" fill="#ff5927"/><polygon points="2857,3012 2841,3021 2865,3030 2881,3021" fill="#ff5534"/><polygon points="2817,3013 2800,3023 2824,3031 2841,3021" fill="#ff5840"/><polygon points="2777,3015 2760,3027 2783,3035 2800,3023" fill="#ff614b"/><polygon points="2737,3021 2719,3034 2743,3040 2760,3027" fill="#ff6e56"/><polygon points="2696,3028 2679,3042 2702,3048 2719,3034" fill="#ff7d60"/><polygon points="2656,3038 2638,3053 2661,3058 2679,3042" fill="#ff9069"/><polygon points="2616,3049 2598,3067 2620,3071 2638,3053" fill="#ffa472"/><polygon points="2576,3063 2558,3082 2580,3085 2598,3067" fill="#ffba79"/><polygon points="2536,3080 2518,3099 2540,3102 2558,3082" fill="#ffd17f"/><polygon points="2496,3098 2478,3119 2500,3121 2518,3099" fill="#ffea84"/><polygon points="2457,3118 2439,3141 2460,3142 2478,3119" fill="#fbff88"/><polygon points="3115,3068 3101,3070 3124,3086 3138,3084" fill="#e1e712"/><polygon points="3039,3044 3024,3048 3048,3062 3062,3058" fill="#f3a113"/><polygon points="3000,3035 2984,3041 3008,3054 3024,3048" fill="#f98114"/><polygon points="2921,3024 2905,3032 2929,3043 2945,3035" fill="#ff5721"/><polygon points="2881,3021 2865,3030 2888,3041 2905,3032" fill="#ff512e"/><polygon points="2841,3021 2824,3031 2848,3041 2865,3030" fill="#ff513a"/><polygon points="2760,3027 2743,3040 2766,3048 2783,3035" fill="#ff6352"/><polygon points="2719,3034 2702,3048 2725,3055 2743,3040" fill="#ff735c"/><polygon points="2679,3042 2661,3058 2684,3064 2702,3048" fill="#ff8365"/><polygon points="2598,3067 2580,3085 2602,3089 2620,3071" fill="#ffad75"/><polygon points="2558,3082 2540,3102 2562,3105 2580,3085" fill="#ffc47c"/><polygon points="2478,3119 2460,3142 2482,3143 2500,3121" fill="#fff686"/><polygon points="3152,3083 3138,3084 3162,3101 3175,3100" fill="#a9e212"/><polygon points="3077,3055 3062,3058 3086,3073 3101,3070" fill="#edc613"/><polygon points="2961,3028 2945,3035 2969,3047 2984,3041" fill="#ff6415"/><polygon points="2800,3023 2783,3035 2807,3043 2824,3031" fill="#ff5846"/><polygon points="2638,3053 2620,3071 2643,3076 2661,3058" fill="#ff986e"/><polygon points="2518,3099 2500,3121 2521,3123 2540,3102" fill="#ffdc81"/><polygon points="2439,3141 2421,3165 2442,3166 2460,3142" fill="#edff89"/><polygon points="3024,3048 3008,3054 3032,3068 3048,3062" fill="#f68913"/><polygon points="2905,3032 2888,3041 2912,3052 2929,3043" fill="#ff4f28"/><polygon points="2702,3048 2684,3064 2707,3071 2725,3055" fill="#ff7961"/><polygon points="2580,3085 2562,3105 2584,3110 2602,3089" fill="#ffb878"/><polygon points="3175,3100 3162,3101 3186,3118 3199,3117" fill="#94e012"/><polygon points="3138,3084 3124,3086 3148,3103 3162,3101" fill="#cde512"/><polygon points="3101,3070 3086,3073 3110,3089 3124,3086" fill="#ead212"/><polygon points="3062,3058 3048,3062 3072,3077 3086,3073" fill="#f0ac13"/><polygon points="2984,3041 2969,3047 2993,3061 3008,3054" fill="#fd6c14"/><polygon points="2945,3035 2929,3043 2953,3055 2969,3047" fill="#ff581c"/><polygon points="2865,3030 2848,3041 2872,3052 2888,3041" fill="#ff4c35"/><polygon points="2824,3031 2807,3043 2831,3053 2848,3041" fill="#ff5141"/><polygon points="2783,3035 2766,3048 2790,3057 2807,3043" fill="#ff5b4c"/><polygon points="2743,3040 2725,3055 2749,3063 2766,3048" fill="#ff6857"/><polygon points="2661,3058 2643,3076 2666,3082 2684,3064" fill="#ff8d6a"/><polygon points="2620,3071 2602,3089 2625,3095 2643,3076" fill="#ffa272"/><polygon points="2540,3102 2521,3123 2544,3127 2562,3105" fill="#ffd07e"/><polygon points="2500,3121 2482,3143 2503,3146 2521,3123" fill="#ffe983"/><polygon points="2460,3142 2442,3166 2463,3168 2482,3143" fill="#fbff87"/><polygon points="2421,3165 2403,3190 2424,3191 2442,3166" fill="#dfff8a"/><polygon points="3199,3117 3186,3118 3209,3137 3222,3136" fill="#7fdd11"/><polygon points="3162,3101 3148,3103 3172,3120 3186,3118" fill="#b8e212"/><polygon points="3086,3073 3072,3077 3096,3093 3110,3089" fill="#eeb813"/><polygon points="3008,3054 2993,3061 3017,3075 3032,3068" fill="#fa7514"/><polygon points="2969,3047 2953,3055 2977,3069 2993,3061" fill="#ff5b16"/><polygon points="2888,3041 2872,3052 2896,3063 2912,3052" fill="#ff4a2f"/><polygon points="2807,3043 2790,3057 2814,3067 2831,3053" fill="#ff5447"/><polygon points="2725,3055 2707,3071 2731,3079 2749,3063" fill="#ff705c"/><polygon points="2643,3076 2625,3095 2648,3101 2666,3082" fill="#ff976e"/><polygon points="2602,3089 2584,3110 2607,3115 2625,3095" fill="#ffac75"/><polygon points="2521,3123 2503,3146 2525,3150 2544,3127" fill="#ffdc80"/><polygon points="2442,3166 2424,3191 2445,3193 2463,3168" fill="#ebff88"/><polygon points="2403,3190 2385,3216 2406,3218 2424,3191" fill="#ceff8a"/><polygon points="3124,3086 3110,3089 3134,3106 3148,3103" fill="#e8e112"/><polygon points="3048,3062 3032,3068 3056,3083 3072,3077" fill="#f49513"/><polygon points="2929,3043 2912,3052 2936,3065 2953,3055" fill="#ff4e23"/><polygon points="2848,3041 2831,3053 2855,3064 2872,3052" fill="#ff4c3b"/><polygon points="2766,3048 2749,3063 2772,3072 2790,3057" fill="#ff6052"/><polygon points="2684,3064 2666,3082 2690,3089 2707,3071" fill="#ff8266"/><polygon points="2562,3105 2544,3127 2566,3131 2584,3110" fill="#ffc37b"/><polygon points="2482,3143 2463,3168 2485,3170 2503,3146" fill="#fff684"/><polygon points="3186,3118 3172,3120 3196,3139 3209,3137" fill="#a1e012"/><polygon points="2993,3061 2977,3069 3001,3083 3017,3075" fill="#fd6314"/><polygon points="2625,3095 2607,3115 2630,3121 2648,3101" fill="#ffa171"/><polygon points="2424,3191 2406,3218 2427,3220 2445,3193" fill="#dbff88"/><polygon points="3222,3136 3209,3137 3233,3156 3246,3155" fill="#65db11"/><polygon points="3148,3103 3134,3106 3158,3124 3172,3120" fill="#d9e512"/><polygon points="3110,3089 3096,3093 3120,3111 3134,3106" fill="#ebc812"/><polygon points="3072,3077 3056,3083 3081,3099 3096,3093" fill="#f1a213"/><polygon points="3032,3068 3017,3075 3041,3090 3056,3083" fill="#f78213"/><polygon points="2953,3055 2936,3065 2961,3078 2977,3069" fill="#ff521d"/><polygon points="2912,3052 2896,3063 2920,3076 2936,3065" fill="#ff4929"/><polygon points="2872,3052 2855,3064 2879,3076 2896,3063" fill="#ff4836"/><polygon points="2831,3053 2814,3067 2838,3077 2855,3064" fill="#ff4e42"/><polygon points="2790,3057 2772,3072 2796,3082 2814,3067" fill="#ff594d"/><polygon points="2749,3063 2731,3079 2755,3088 2772,3072" fill="#ff6757"/><polygon points="2707,3071 2690,3089 2713,3097 2731,3079" fill="#ff7861"/><polygon points="2666,3082 2648,3101 2672,3108 2690,3089" fill="#ff8c69"/><polygon points="2584,3110 2566,3131 2589,3137 2607,3115" fill="#ffb977"/><polygon points="2544,3127 2525,3150 2548,3154 2566,3131" fill="#ffd17d"/><polygon points="2503,3146 2485,3170 2507,3174 2525,3150" fill="#ffeb82"/><polygon points="2463,3168 2445,3193 2467,3196 2485,3170" fill="#f8ff85"/><polygon points="2385,3216 2367,3244 2388,3246 2406,3218" fill="#bbff8a"/><polygon points="3209,3137 3196,3139 3220,3159 3233,3156" fill="#87dd11"/><polygon points="3172,3120 3158,3124 3182,3143 3196,3139" fill="#c0e312"/><polygon points="3134,3106 3120,3111 3144,3129 3158,3124" fill="#e8d912"/><polygon points="3096,3093 3081,3099 3105,3116 3120,3111" fill="#eeb213"/><polygon points="3056,3083 3041,3090 3065,3107 3081,3099" fill="#f48f13"/><polygon points="3017,3075 3001,3083 3026,3099 3041,3090" fill="#fa7014"/><polygon points="2977,3069 2961,3078 2985,3093 3001,3083" fill="#ff5816"/><polygon points="2936,3065 2920,3076 2944,3090 2961,3078" fill="#ff4c23"/><polygon points="2896,3063 2879,3076 2903,3088 2920,3076" fill="#ff4830"/><polygon points="2855,3064 2838,3077 2862,3089 2879,3076" fill="#ff4c3c"/><polygon points="2814,3067 2796,3082 2820,3093 2838,3077" fill="#ff5447"/><polygon points="2772,3072 2755,3088 2779,3098 2796,3082" fill="#ff6152"/><polygon points="2731,3079 2713,3097 2737,3106 2755,3088" fill="#ff715c"/><polygon points="2690,3089 2672,3108 2695,3116 2713,3097" fill="#ff8365"/><polygon points="2648,3101 2630,3121 2654,3129 2672,3108" fill="#ff986d"/><polygon points="2607,3115 2589,3137 2612,3143 2630,3121" fill="#ffaf74"/><polygon points="2566,3131 2548,3154 2571,3160 2589,3137" fill="#ffc779"/><polygon points="2525,3150 2507,3174 2530,3179 2548,3154" fill="#ffe07e"/><polygon points="2485,3170 2467,3196 2489,3200 2507,3174" fill="#fffb82"/><polygon points="2445,3193 2427,3220 2449,3223 2467,3196" fill="#e6ff86"/><polygon points="2406,3218 2388,3246 2409,3248 2427,3220" fill="#c8ff88"/><polygon points="3196,3139 3182,3143 3206,3162 3220,3159" fill="#a7e012"/><polygon points="3158,3124 3144,3129 3168,3148 3182,3143" fill="#dee512"/><polygon points="3120,3111 3105,3116 3129,3135 3144,3129" fill="#ebc412"/><polygon points="3081,3099 3065,3107 3090,3124 3105,3116" fill="#f1a013"/><polygon points="3041,3090 3026,3099 3050,3115 3065,3107" fill="#f77f13"/><polygon points="3001,3083 2985,3093 3010,3109 3026,3099" fill="#fd6314"/><polygon points="2961,3078 2944,3090 2969,3104 2985,3093" fill="#ff521d"/><polygon points="2920,3076 2903,3088 2928,3102 2944,3090" fill="#ff4a2a"/><polygon points="2879,3076 2862,3089 2886,3102 2903,3088" fill="#ff4a36"/><polygon points="2838,3077 2820,3093 2845,3105 2862,3089" fill="#ff5141"/><polygon points="2796,3082 2779,3098 2803,3109 2820,3093" fill="#ff5c4c"/><polygon points="2755,3088 2737,3106 2761,3116 2779,3098" fill="#ff6a57"/><polygon points="2713,3097 2695,3116 2719,3125 2737,3106" fill="#ff7c60"/><polygon points="2672,3108 2654,3129 2677,3137 2695,3116" fill="#ff9068"/><polygon points="2630,3121 2612,3143 2635,3151 2654,3129" fill="#ffa66f"/><polygon points="2589,3137 2571,3160 2594,3167 2612,3143" fill="#ffbd76"/><polygon points="2548,3154 2530,3179 2552,3185 2571,3160" fill="#ffd67b"/><polygon points="2507,3174 2489,3200 2511,3205 2530,3179" fill="#fff07f"/><polygon points="2467,3196 2449,3223 2471,3227 2489,3200" fill="#f1ff83"/><polygon points="2427,3220 2409,3248 2431,3252 2449,3223" fill="#d3ff86"/><polygon points="3182,3143 3168,3148 3192,3168 3206,3162" fill="#c4e312"/><polygon points="3144,3129 3129,3135 3154,3154 3168,3148" fill="#e8d812"/><polygon points="3105,3116 3090,3124 3114,3142 3129,3135" fill="#eeb113"/><polygon points="3065,3107 3050,3115 3075,3133 3090,3124" fill="#f48f13"/><polygon points="3026,3099 3010,3109 3034,3125 3050,3115" fill="#fa7114"/><polygon points="2985,3093 2969,3104 2993,3120 3010,3109" fill="#ff5a17"/><polygon points="2944,3090 2928,3102 2952,3117 2969,3104" fill="#ff4e23"/><polygon points="2903,3088 2886,3102 2911,3116 2928,3102" fill="#ff4d30"/><polygon points="2862,3089 2845,3105 2869,3118 2886,3102" fill="#ff4f3b"/><polygon points="2820,3093 2803,3109 2827,3121 2845,3105" fill="#ff5847"/><polygon points="2779,3098 2761,3116 2785,3127 2803,3109" fill="#ff6551"/><polygon points="2737,3106 2719,3125 2743,3136 2761,3116" fill="#ff765b"/><polygon points="2695,3116 2677,3137 2701,3146 2719,3125" fill="#ff8963"/><polygon points="2654,3129 2635,3151 2659,3159 2677,3137" fill="#ff9d6b"/><polygon points="2612,3143 2594,3167 2617,3174 2635,3151" fill="#ffb572"/><polygon points="2571,3160 2552,3185 2576,3191 2594,3167" fill="#ffcd77"/><polygon points="2530,3179 2511,3205 2534,3211 2552,3185" fill="#ffe87c"/><polygon points="2489,3200 2471,3227 2493,3232 2511,3205" fill="#fbff80"/><polygon points="2449,3223 2431,3252 2453,3256 2471,3227" fill="#ddff83"/><polygon points="3129,3135 3114,3142 3139,3161 3154,3154" fill="#ebc612"/><polygon points="3090,3124 3075,3133 3099,3151 3114,3142" fill="#f1a213"/><polygon points="3010,3109 2993,3120 3018,3137 3034,3125" fill="#fd6714"/><polygon points="2928,3102 2911,3116 2936,3131 2952,3117" fill="#ff5029"/><polygon points="2886,3102 2869,3118 2894,3132 2911,3116" fill="#ff5235"/><polygon points="2845,3105 2827,3121 2852,3134 2869,3118" fill="#ff5741"/><polygon points="2803,3109 2785,3127 2810,3140 2827,3121" fill="#ff624b"/><polygon points="2761,3116 2743,3136 2767,3147 2785,3127" fill="#ff7155"/><polygon points="2719,3125 2701,3146 2725,3157 2743,3136" fill="#ff835e"/><polygon points="2635,3151 2617,3174 2641,3183 2659,3159" fill="#ffad6d"/><polygon points="2552,3185 2534,3211 2557,3218 2576,3191" fill="#ffdf78"/><polygon points="2511,3205 2493,3232 2516,3239 2534,3211" fill="#fffa7d"/><polygon points="3168,3148 3154,3154 3178,3174 3192,3168" fill="#dee612"/><polygon points="3050,3115 3034,3125 3059,3143 3075,3133" fill="#f78213"/><polygon points="2969,3104 2952,3117 2977,3133 2993,3120" fill="#ff571d"/><polygon points="2677,3137 2659,3159 2683,3169 2701,3146" fill="#ff9766"/><polygon points="2594,3167 2576,3191 2599,3199 2617,3174" fill="#ffc573"/><polygon points="2471,3227 2453,3256 2475,3261 2493,3232" fill="#e7ff80"/><polygon points="3114,3142 3099,3151 3124,3171 3139,3161" fill="#eeb613"/><polygon points="2911,3116 2894,3132 2919,3147 2936,3131" fill="#ff552f"/><polygon points="2869,3118 2852,3134 2876,3149 2894,3132" fill="#ff583a"/><polygon points="2785,3127 2767,3147 2792,3159 2810,3140" fill="#ff6f4f"/><polygon points="2743,3136 2725,3157 2749,3168 2767,3147" fill="#ff7f59"/><polygon points="2534,3211 2516,3239 2539,3246 2557,3218" fill="#fff279"/><polygon points="3154,3154 3139,3161 3163,3182 3178,3174" fill="#e8dc12"/><polygon points="3075,3133 3059,3143 3084,3161 3099,3151" fill="#f49513"/><polygon points="3034,3125 3018,3137 3043,3154 3059,3143" fill="#fa7914"/><polygon points="2993,3120 2977,3133 3002,3150 3018,3137" fill="#ff6316"/><polygon points="2952,3117 2936,3131 2960,3147 2977,3133" fill="#ff5823"/><polygon points="2827,3121 2810,3140 2834,3153 2852,3134" fill="#ff6145"/><polygon points="2701,3146 2683,3169 2707,3179 2725,3157" fill="#ff9261"/><polygon points="2659,3159 2641,3183 2665,3192 2683,3169" fill="#ffa768"/><polygon points="2617,3174 2599,3199 2622,3208 2641,3183" fill="#ffbf6f"/><polygon points="2576,3191 2557,3218 2580,3226 2599,3199" fill="#ffd774"/><polygon points="2493,3232 2475,3261 2498,3268 2516,3239" fill="#efff7d"/><polygon points="2894,3132 2876,3149 2901,3164 2919,3147" fill="#ff5c34"/><polygon points="2767,3147 2749,3168 2774,3181 2792,3159" fill="#ff7d53"/><polygon points="3139,3161 3124,3171 3148,3191 3163,3182" fill="#ebcd12"/><polygon points="3099,3151 3084,3161 3108,3181 3124,3171" fill="#f1aa13"/><polygon points="3059,3143 3043,3154 3068,3173 3084,3161" fill="#f78c13"/><polygon points="3018,3137 3002,3150 3027,3167 3043,3154" fill="#fd7214"/><polygon points="2977,3133 2960,3147 2985,3164 3002,3150" fill="#ff631c"/><polygon points="2936,3131 2919,3147 2943,3163 2960,3147" fill="#ff5c28"/><polygon points="2852,3134 2834,3153 2859,3167 2876,3149" fill="#ff633f"/><polygon points="2810,3140 2792,3159 2816,3173 2834,3153" fill="#ff6d49"/><polygon points="2725,3157 2707,3179 2731,3191 2749,3168" fill="#ff8e5c"/><polygon points="2683,3169 2665,3192 2689,3203 2707,3179" fill="#ffa263"/><polygon points="2641,3183 2622,3208 2646,3218 2665,3192" fill="#ffb96a"/><polygon points="2599,3199 2580,3226 2604,3235 2622,3208" fill="#ffd170"/><polygon points="2557,3218 2539,3246 2562,3254 2580,3226" fill="#ffec75"/><polygon points="2516,3239 2498,3268 2521,3275 2539,3246" fill="#f6ff79"/><polygon points="3124,3171 3108,3181 3133,3202 3148,3191" fill="#eec113"/><polygon points="3084,3161 3068,3173 3093,3193 3108,3181" fill="#f4a213"/><polygon points="3043,3154 3027,3167 3052,3186 3068,3173" fill="#fa8614"/><polygon points="3002,3150 2985,3164 3010,3182 3027,3167" fill="#ff7016"/><polygon points="2960,3147 2943,3163 2968,3180 2985,3164" fill="#ff6722"/><polygon points="2919,3147 2901,3164 2926,3180 2943,3163" fill="#ff632e"/><polygon points="2876,3149 2859,3167 2884,3182 2901,3164" fill="#ff6739"/><polygon points="2834,3153 2816,3173 2841,3187 2859,3167" fill="#ff6f43"/><polygon points="2792,3159 2774,3181 2799,3194 2816,3173" fill="#ff7c4d"/><polygon points="2749,3168 2731,3191 2756,3203 2774,3181" fill="#ff8c56"/><polygon points="2707,3179 2689,3203 2713,3215 2731,3191" fill="#ff9f5e"/><polygon points="2665,3192 2646,3218 2670,3229 2689,3203" fill="#ffb565"/><polygon points="2622,3208 2604,3235 2628,3245 2646,3218" fill="#ffcc6b"/><polygon points="2580,3226 2562,3254 2586,3263 2604,3235" fill="#ffe671"/><polygon points="2539,3246 2521,3275 2544,3283 2562,3254" fill="#fcff75"/><polygon points="3068,3173 3052,3186 3077,3206 3093,3193" fill="#f79c13"/><polygon points="3027,3167 3010,3182 3035,3201 3052,3186" fill="#fd8514"/><polygon points="2943,3163 2926,3180 2951,3197 2968,3180" fill="#ff6e27"/><polygon points="2859,3167 2841,3187 2866,3203 2884,3182" fill="#ff743d"/><polygon points="2816,3173 2799,3194 2823,3209 2841,3187" fill="#ff7e47"/><polygon points="2731,3191 2713,3215 2738,3228 2756,3203" fill="#ff9e59"/><polygon points="2646,3218 2628,3245 2652,3256 2670,3229" fill="#ffc967"/><polygon points="2604,3235 2586,3263 2610,3273 2628,3245" fill="#ffe26c"/><polygon points="3108,3181 3093,3193 3118,3214 3133,3202" fill="#f1b913"/><polygon points="2985,3164 2968,3180 2994,3198 3010,3182" fill="#ff731b"/><polygon points="2901,3164 2884,3182 2909,3199 2926,3180" fill="#ff6e32"/><polygon points="2774,3181 2756,3203 2781,3217 2799,3194" fill="#ff8c50"/><polygon points="2689,3203 2670,3229 2695,3240 2713,3215" fill="#ffb360"/><polygon points="2562,3254 2544,3283 2567,3292 2586,3263" fill="#fffd71"/><polygon points="3052,3186 3035,3201 3060,3221 3077,3206" fill="#fa9a14"/><polygon points="2841,3187 2823,3209 2849,3224 2866,3203" fill="#ff8241"/><polygon points="2628,3245 2610,3273 2634,3284 2652,3256" fill="#ffdf68"/><polygon points="3093,3193 3077,3206 3102,3227 3118,3214" fill="#f4b413"/><polygon points="3010,3182 2994,3198 3019,3217 3035,3201" fill="#ff8615"/><polygon points="2968,3180 2951,3197 2977,3216 2994,3198" fill="#ff7a20"/><polygon points="2926,3180 2909,3199 2934,3216 2951,3197" fill="#ff772c"/><polygon points="2884,3182 2866,3203 2891,3219 2909,3199" fill="#ff7b37"/><polygon points="2799,3194 2781,3217 2805,3232 2823,3209" fill="#ff8f4a"/><polygon points="2756,3203 2738,3228 2762,3241 2781,3217" fill="#ff9e53"/><polygon points="2713,3215 2695,3240 2719,3253 2738,3228" fill="#ffb25b"/><polygon points="2670,3229 2652,3256 2676,3268 2695,3240" fill="#ffc762"/><polygon points="2586,3263 2567,3292 2591,3303 2610,3273" fill="#fff96d"/><polygon points="3077,3206 3060,3221 3086,3242 3102,3227" fill="#f6b213"/><polygon points="3035,3201 3019,3217 3044,3238 3060,3221" fill="#fc9b14"/><polygon points="2994,3198 2977,3216 3002,3235 3019,3217" fill="#ff8c1a"/><polygon points="2951,3197 2934,3216 2959,3235 2977,3216" fill="#ff8525"/><polygon points="2909,3199 2891,3219 2917,3237 2934,3216" fill="#ff8430"/><polygon points="2866,3203 2849,3224 2874,3241 2891,3219" fill="#ff893a"/><polygon points="2823,3209 2805,3232 2831,3247 2849,3224" fill="#ff9444"/><polygon points="2781,3217 2762,3241 2787,3256 2805,3232" fill="#ffa24d"/><polygon points="2738,3228 2719,3253 2744,3267 2762,3241" fill="#ffb355"/><polygon points="2695,3240 2676,3268 2701,3281 2719,3253" fill="#ffc75c"/><polygon points="2652,3256 2634,3284 2658,3296 2676,3268" fill="#ffde63"/><polygon points="2610,3273 2591,3303 2615,3314 2634,3284" fill="#fff768"/><polygon points="3060,3221 3044,3238 3069,3259 3086,3242" fill="#f9b414"/><polygon points="3019,3217 3002,3235 3027,3255 3044,3238" fill="#ffa114"/><polygon points="2977,3216 2959,3235 2985,3254 3002,3235" fill="#ff961e"/><polygon points="2934,3216 2917,3237 2942,3255 2959,3235" fill="#ff9129"/><polygon points="2891,3219 2874,3241 2899,3259 2917,3237" fill="#ff9434"/><polygon points="2849,3224 2831,3247 2856,3264 2874,3241" fill="#ff9c3e"/><polygon points="2805,3232 2787,3256 2812,3272 2831,3247" fill="#ffa747"/><polygon points="2762,3241 2744,3267 2769,3282 2787,3256" fill="#ffb64f"/><polygon points="2719,3253 2701,3281 2726,3295 2744,3267" fill="#ffc957"/><polygon points="2676,3268 2658,3296 2683,3309 2701,3281" fill="#ffdf5d"/><polygon points="2634,3284 2615,3314 2639,3326 2658,3296" fill="#fff763"/><polygon points="3044,3238 3027,3255 3053,3277 3069,3259" fill="#fbb914"/><polygon points="3002,3235 2985,3254 3010,3275 3027,3255" fill="#ffaa18"/><polygon points="2959,3235 2942,3255 2967,3275 2985,3254" fill="#ffa223"/><polygon points="2917,3237 2899,3259 2924,3277 2942,3255" fill="#ffa02d"/><polygon points="2874,3241 2856,3264 2881,3282 2899,3259" fill="#ffa537"/><polygon points="2831,3247 2812,3272 2838,3289 2856,3264" fill="#ffaf41"/><polygon points="2787,3256 2769,3282 2794,3298 2812,3272" fill="#ffbd49"/><polygon points="2744,3267 2726,3295 2751,3310 2769,3282" fill="#ffcd51"/><polygon points="2701,3281 2683,3309 2707,3323 2726,3295" fill="#ffe258"/><polygon points="2658,3296 2639,3326 2664,3339 2683,3309" fill="#fff95e"/><polygon points="3027,3255 3010,3275 3036,3296 3053,3277" fill="#fec314"/><polygon points="2985,3254 2967,3275 2993,3295 3010,3275" fill="#ffb71c"/><polygon points="2942,3255 2924,3277 2950,3297 2967,3275" fill="#ffb227"/><polygon points="2899,3259 2881,3282 2907,3301 2924,3277" fill="#ffb431"/><polygon points="2856,3264 2838,3289 2863,3307 2881,3282" fill="#ffba3a"/><polygon points="2812,3272 2794,3298 2820,3315 2838,3289" fill="#ffc543"/><polygon points="2769,3282 2751,3310 2776,3326 2794,3298" fill="#ffd44b"/><polygon points="2726,3295 2707,3323 2732,3339 2751,3310" fill="#ffe753"/><polygon points="2683,3309 2664,3339 2689,3354 2707,3323" fill="#fffc59"/><polygon points="3010,3275 2993,3295 3018,3317 3036,3296" fill="#ffcf16"/><polygon points="2967,3275 2950,3297 2975,3318 2993,3295" fill="#ffc620"/><polygon points="2924,3277 2907,3301 2932,3321 2950,3297" fill="#ffc42a"/><polygon points="2881,3282 2863,3307 2889,3326 2907,3301" fill="#ffc834"/><polygon points="2838,3289 2820,3315 2845,3333 2863,3307" fill="#ffd03d"/><polygon points="2794,3298 2776,3326 2801,3343 2820,3315" fill="#ffde45"/><polygon points="2751,3310 2732,3339 2757,3355 2776,3326" fill="#ffee4d"/><polygon points="2707,3323 2689,3354 2714,3369 2732,3339" fill="#fbff54"/><polygon points="2993,3295 2975,3318 3001,3340 3018,3317" fill="#ffdf1a"/><polygon points="2950,3297 2932,3321 2958,3342 2975,3318" fill="#ffda24"/><polygon points="2907,3301 2889,3326 2914,3346 2932,3321" fill="#ffda2e"/><polygon points="2820,3315 2801,3343 2827,3361 2845,3333" fill="#ffe93f"/><polygon points="2776,3326 2757,3355 2783,3372 2801,3343" fill="#fff847"/><polygon points="2732,3339 2714,3369 2739,3386 2757,3355" fill="#f3ff4e"/><polygon points="2863,3307 2845,3333 2871,3352 2889,3326" fill="#ffdf37"/><polygon points="2932,3321 2914,3346 2940,3367 2958,3342" fill="#ffee27"/><polygon points="2801,3343 2783,3372 2808,3391 2827,3361" fill="#f9ff41"/><polygon points="2975,3318 2958,3342 2984,3364 3001,3340" fill="#fff21d"/><polygon points="2889,3326 2871,3352 2896,3373 2914,3346" fill="#fff030"/><polygon points="2845,3333 2827,3361 2852,3380 2871,3352" fill="#fff939"/><polygon points="2757,3355 2739,3386 2764,3403 2783,3372" fill="#e8ff48"/><polygon points="2958,3342 2940,3367 2966,3389 2984,3364" fill="#f7ff21"/><polygon points="2914,3346 2896,3373 2922,3394 2940,3367" fill="#f8ff2a"/><polygon points="2871,3352 2852,3380 2878,3401 2896,3373" fill="#f3ff33"/><polygon points="2827,3361 2808,3391 2834,3410 2852,3380" fill="#e8ff3b"/><polygon points="2783,3372 2764,3403 2790,3421 2808,3391" fill="#dbff43"/><polygon points="2896,3373 2878,3401 2904,3422 2922,3394" fill="#dcff2d"/><polygon points="2852,3380 2834,3410 2860,3430 2878,3401" fill="#d6ff35"/><polygon points="2940,3367 2922,3394 2948,3416 2966,3389" fill="#deff24"/><polygon points="2808,3391 2790,3421 2815,3441 2834,3410" fill="#caff3d"/><polygon points="2878,3401 2860,3430 2885,3452 2904,3422" fill="#bfff2f"/><polygon points="2922,3394 2904,3422 2930,3444 2948,3416" fill="#c3ff26"/><polygon points="2834,3410 2815,3441 2841,3461 2860,3430" fill="#b6ff37"/><polygon points="2904,3422 2885,3452 2911,3474 2930,3444" fill="#a5ff29"/><polygon points="2860,3430 2841,3461 2867,3483 2885,3452" fill="#9fff31"/><polygon points="2885,3452 2867,3483 2893,3505 2911,3474" fill="#83ff2b"/></g><circle cx="281.36" cy="306.12" r="1" fill="#c00"/><circle cx="324.54" cy="315.81" r="1" fill="#c00"/><circle cx="289.3" cy="350.61" r="1" fill="#c00"/><circle cx="236.67" cy="324.27" r="0.9" fill="#fcc" stroke="#d66" stroke-width="0.3"/><text x="288.4" y="272.9" font-size="3.1" fill="#000" text-anchor="middle" font-weight="bold" textLength="14.1" lengthAdjust="spacingAndGlyphs">3D Surface</text><text x="223.32" y="332.79" font-size="2.6" fill="#000" text-anchor="middle" transform="rotate(-90 223.32 332.79)" textLength="19.78" lengthAdjust="spacingAndGlyphs">Microencapsulation rate</text><text x="251.82" y="380.31" font-size="2.6" fill="#000" text-anchor="middle" textLength="28.35" lengthAdjust="spacingAndGlyphs">D: Different ratio of water content</text><text x="303.58" y="371.11" font-size="2.6" fill="#000" textLength="29.16" lengthAdjust="spacingAndGlyphs">A: Different sodium alginate content</text><text x="249.9" y="362.98" font-size="1.7" fill="#333" text-anchor="end">0.1</text><text x="261.8" y="369.47" font-size="1.7" fill="#333" text-anchor="end">0.2</text><text x="274.21" y="376.24" font-size="1.7" fill="#333" text-anchor="end">0.3</text><text x="317.3" y="353.39" font-size="1.7" fill="#333">0.1</text><text x="311.05" y="360.19" font-size="1.7" fill="#333">0.2</text><text x="304.51" y="367.32" font-size="1.7" fill="#333">0.3</text><text x="297.65" y="374.78" font-size="1.7" fill="#333">0.4</text><text transform="translate(347.3 264) scale(.94 1)" class="L">K</text><text x="353.5" y="269.65" font-size="2.4" fill="#222" textLength="17.64" lengthAdjust="spacingAndGlyphs">Factor Coding: Actual</text><text x="353.5" y="275.15" font-size="2.4" fill="#000" font-weight="bold" textLength="21.16" lengthAdjust="spacingAndGlyphs">Microencapsulation rate</text><circle cx="355.3" cy="277.3" r="1" fill="#a00"/><text x="357.3" y="278.15" font-size="2.4" fill="#e33" textLength="11.05" lengthAdjust="spacingAndGlyphs">Design Points</text><text x="353.5" y="283.85" font-size="2.4" fill="#33f" textLength="2.7" lengthAdjust="spacingAndGlyphs">0.5</text><rect x="358" y="281.65" width="7.1" height="2.7" fill="url(#cbar)"/><text x="365.7" y="283.85" font-size="2.4" fill="#f33" textLength="3.6" lengthAdjust="spacingAndGlyphs">0.95</text><text x="353.5" y="286.55" font-size="2.4" fill="#222" textLength="5.1" lengthAdjust="spacingAndGlyphs">X1 = A</text><text x="353.5" y="289.35" font-size="2.4" fill="#222" textLength="5.1" lengthAdjust="spacingAndGlyphs">X2 = B</text><text x="353.5" y="295.35" font-size="2.4" fill="#000" font-weight="bold" textLength="12.6" lengthAdjust="spacingAndGlyphs">Actual Factors</text><text x="353.5" y="298.25" font-size="2.4" fill="#222" textLength="5.95" lengthAdjust="spacingAndGlyphs">A = 2.5</text><text x="353.5" y="300.95" font-size="2.4" fill="#222" textLength="4.25" lengthAdjust="spacingAndGlyphs">B = 1</text><rect x="408.2" y="273.7" width="98.1" height="97.8" fill="url(#rg6)"/><g clip-path="url(#cp6)" fill="none" stroke="#2a2a10" stroke-width="0.5"><ellipse cx="456.7" cy="322.4" rx="22.29" ry="35.42"/><ellipse cx="456.7" cy="322.4" rx="38.61" ry="61.34"/><ellipse cx="456.7" cy="322.4" rx="49.85" ry="79.2"/><ellipse cx="456.7" cy="322.4" rx="58.98" ry="93.71"/></g><rect x="408.2" y="273.7" width="98.1" height="97.8" fill="none" stroke="#aaa" stroke-width="0.3"/><rect x="411" y="279.35" width="2" height="1.3" fill="#ddd" stroke="#999" stroke-width="0.2"/><rect x="418" y="321.75" width="2" height="1.3" fill="#ddd" stroke="#999" stroke-width="0.2"/><rect x="493" y="321.75" width="2" height="1.3" fill="#ddd" stroke="#999" stroke-width="0.2"/><rect x="502" y="279.35" width="2" height="1.3" fill="#ddd" stroke="#999" stroke-width="0.2"/><rect x="411" y="360.35" width="2" height="1.3" fill="#ddd" stroke="#999" stroke-width="0.2"/><rect x="502" y="360.35" width="2" height="1.3" fill="#ddd" stroke="#999" stroke-width="0.2"/><rect x="454" y="356.85" width="2" height="1.3" fill="#ddd" stroke="#999" stroke-width="0.2"/><circle cx="408.2" cy="273.7" r="0.9" fill="#a00"/><circle cx="506.3" cy="273.7" r="0.9" fill="#a00"/><circle cx="408.2" cy="371.5" r="0.9" fill="#a00"/><circle cx="506.3" cy="371.5" r="0.9" fill="#a00"/><circle cx="456.7" cy="322.4" r="0.9" fill="#400"/><text x="457.25" y="271.8" font-size="3" fill="#000" text-anchor="middle" textLength="31.74" lengthAdjust="spacingAndGlyphs">Microencapsulation rate</text><line x1="408.2" y1="371.5" x2="408.2" y2="372.7" stroke="#999" stroke-width="0.3"/><text x="408.2" y="376.7" font-size="1.9" fill="#333" text-anchor="middle">0.0</text><line x1="427.82" y1="371.5" x2="427.82" y2="372.7" stroke="#999" stroke-width="0.3"/><text x="427.82" y="376.7" font-size="1.9" fill="#333" text-anchor="middle">0.1</text><line x1="447.44" y1="371.5" x2="447.44" y2="372.7" stroke="#999" stroke-width="0.3"/><text x="447.44" y="376.7" font-size="1.9" fill="#333" text-anchor="middle">0.2</text><line x1="467.06" y1="371.5" x2="467.06" y2="372.7" stroke="#999" stroke-width="0.3"/><text x="467.06" y="376.7" font-size="1.9" fill="#333" text-anchor="middle">0.3</text><line x1="486.68" y1="371.5" x2="486.68" y2="372.7" stroke="#999" stroke-width="0.3"/><text x="486.68" y="376.7" font-size="1.9" fill="#333" text-anchor="middle">0.4</text><line x1="506.3" y1="371.5" x2="506.3" y2="372.7" stroke="#999" stroke-width="0.3"/><text x="506.3" y="376.7" font-size="1.9" fill="#333" text-anchor="middle">0.5</text><line x1="407" y1="371.5" x2="408.2" y2="371.5" stroke="#999" stroke-width="0.3"/><text x="405.9" y="372.2" font-size="1.9" fill="#333" text-anchor="end">0.0</text><line x1="407" y1="347.05" x2="408.2" y2="347.05" stroke="#999" stroke-width="0.3"/><text x="405.9" y="347.75" font-size="1.9" fill="#333" text-anchor="end">0.1</text><line x1="407" y1="322.6" x2="408.2" y2="322.6" stroke="#999" stroke-width="0.3"/><text x="405.9" y="323.3" font-size="1.9" fill="#333" text-anchor="end">0.2</text><line x1="407" y1="298.15" x2="408.2" y2="298.15" stroke="#999" stroke-width="0.3"/><text x="405.9" y="298.85" font-size="1.9" fill="#333" text-anchor="end">0.3</text><line x1="407" y1="273.7" x2="408.2" y2="273.7" stroke="#999" stroke-width="0.3"/><text x="405.9" y="274.4" font-size="1.9" fill="#333" text-anchor="end">0.4</text><text x="457.25" y="384.7" font-size="3" fill="#000" text-anchor="middle" textLength="71.28" lengthAdjust="spacingAndGlyphs">C: Different ratio of whey protein concentrate and sodium alginate</text><text x="393.2" y="322.6" font-size="3" fill="#000" text-anchor="middle" transform="rotate(-90 393.2 322.6)" textLength="38.5" lengthAdjust="spacingAndGlyphs">D: Different ratio of water content</text><text transform="translate(511.3 264.1) scale(.94 1)" class="L">L</text><text x="519.3" y="274.35" font-size="2.4" fill="#222" textLength="17.64" lengthAdjust="spacingAndGlyphs">Factor Coding: Actual</text><text x="519.3" y="279.67" font-size="2.4" fill="#000" font-weight="bold" textLength="21.16" lengthAdjust="spacingAndGlyphs">Microencapsulation rate</text><text x="519.3" y="282.33" font-size="2.4" fill="#222" textLength="11.05" lengthAdjust="spacingAndGlyphs">Design Points</text><circle cx="521.6" cy="284.24" r="0.95" fill="#b00"/><text x="522.9" y="285.09" font-size="2.4" fill="#e33" textLength="12.48" lengthAdjust="spacingAndGlyphs">Above Surface</text><circle cx="521.6" cy="286.99" r="0.8" fill="none" stroke="#d66" stroke-width="0.35"/><text x="522.9" y="287.84" font-size="2.4" fill="#e55" textLength="12.48" lengthAdjust="spacingAndGlyphs">Below Surface</text><text x="519.3" y="290.69" font-size="2.4" fill="#33f" textLength="2.7" lengthAdjust="spacingAndGlyphs">0.5</text><rect x="523.8" y="288.49" width="7.1" height="2.7" fill="url(#cbar)"/><text x="531.5" y="290.69" font-size="2.4" fill="#f33" textLength="3.6" lengthAdjust="spacingAndGlyphs">0.95</text><text x="519.3" y="296.01" font-size="2.4" fill="#222" textLength="5.1" lengthAdjust="spacingAndGlyphs">X1 = A</text><text x="519.3" y="298.48" font-size="2.4" fill="#222" textLength="5.1" lengthAdjust="spacingAndGlyphs">X2 = B</text><text x="519.3" y="303.99" font-size="2.4" fill="#000" font-weight="bold" textLength="12.6" lengthAdjust="spacingAndGlyphs">Actual Factors</text><text x="519.3" y="306.65" font-size="2.4" fill="#222" textLength="4.25" lengthAdjust="spacingAndGlyphs">C = 1</text><text x="519.3" y="309.22" font-size="2.4" fill="#222" textLength="4.25" lengthAdjust="spacingAndGlyphs">D = 5</text><polygon points="616.96,324.04 578.39,353.34 573.72,309.41 616.41,282.98" fill="#fff"/><path d="M616.96 324.04L616.41 282.98M609.98 329.35L608.76 287.72M602.65 334.91L600.7 292.71M594.97 340.74L592.2 297.97M586.89 346.88L583.22 303.53M578.39 353.34L573.72 309.41M616.96 324.04L616.41 282.98M628.4 328.92L628.92 287.34M640.36 334.02L642.04 291.91M652.86 339.35L655.81 296.71M665.94 344.93L670.29 301.76M578.39 353.34L616.96 324.04L665.94 344.93M577.85 348.31L616.9 319.29L666.44 339.97M577.31 343.16L616.83 314.44L666.95 334.9M576.74 337.88L616.77 309.48L667.48 329.71M576.17 332.47L616.7 304.41L668.01 324.39M575.58 326.92L616.63 299.23L668.56 318.94M574.98 321.23L616.56 293.93L669.12 313.35M574.36 315.4L616.49 288.52L669.7 307.63M573.72 309.41L616.41 282.98L670.29 301.76" fill="none" stroke="#999" stroke-width="0.4"/><polygon points="616.96,324.04 578.39,353.34 630.34,380.38 665.94,344.93" fill="#616161"/><path d="M613.8 356.9 615.0 357.6 616.4 358.1 617.7 358.7 619.1 359.2 620.6 359.6 622.0 360.0 623.4 360.4 624.9 360.7 626.3 360.9 627.7 361.1 629.1 361.3 630.5 361.4 631.9 361.4 633.2 361.4 634.4 361.3 635.6 361.2 636.8 361.0 637.8 360.8 638.9 360.5 639.8 360.2 640.7 359.8 641.4 359.4 642.1 358.9 642.7 358.4 643.2 357.8 643.7 357.2 644.0 356.6 644.2 355.9 644.4 355.2 644.4 354.5 644.4 353.8 644.2 353.1 644.0 352.3 643.7 351.5 643.3 350.8 642.8 350.0 642.2 349.2 641.5 348.5 640.8 347.7 640.0 346.9 639.1 346.2 638.2 345.5 637.2 344.8 636.1 344.1 635.0 343.4 633.9 342.8 632.7 342.2 631.5 341.7 630.3 341.1 629.0 340.6 627.7 340.2 626.4 339.7 625.1 339.3 623.7 339.0 622.4 338.7 621.1 338.4 619.8 338.2 618.5 338.1 617.2 337.9 616.0 337.9 614.8 337.8 613.6 337.8 612.4 337.9 611.3 338.0 610.3 338.1 609.3 338.3 608.3 338.6 607.4 338.9 606.6 339.2 605.8 339.6 605.1 340.0 604.5 340.4 603.9 340.9 603.4 341.4 603.0 342.0 602.7 342.6 602.4 343.2 602.3 343.8 602.2 344.5 602.2 345.2 602.3 345.9 602.5 346.6 602.8 347.4 603.2 348.1 603.6 348.9 604.2 349.7 604.8 350.4 605.5 351.2 606.3 352.0 607.2 352.7 608.1 353.5 609.1 354.2 610.2 354.9 611.3 355.6 612.5 356.3 613.8 356.9" fill="none" stroke="#cc5a00" stroke-width="0.5"/><path d="M610.3 359.9 612.0 360.8 613.9 361.6 615.8 362.4 617.7 363.0 619.6 363.7 621.6 364.3 623.6 364.8 625.6 365.2 627.6 365.6 629.6 365.8 631.6 366.1 633.5 366.2 635.3 366.2 637.2 366.2 638.9 366.1 640.6 365.9 642.2 365.7 643.7 365.4 645.1 365.0M652.5 357.6 652.5 356.6 652.4 355.6 652.2 354.6 651.8 353.5 651.4 352.5 650.8 351.4 650.1 350.3 649.2 349.3 648.3 348.2 647.3 347.2 646.2 346.2 645.0 345.2 643.7 344.2 642.3 343.3 640.9 342.3 639.3 341.5 637.8 340.6 636.2 339.8 634.5 339.1 632.8 338.3 631.1 337.7 629.4 337.1 627.6 336.5 625.8 336.0 624.0 335.5 622.3 335.1 620.5 334.8 618.7 334.5 617.0 334.3 615.3 334.1 613.6 334.0 612.0 334.0 610.4 334.0 608.8 334.1 607.3 334.2 605.9 334.4 604.6 334.7 603.3 335.0M595.2 341.1 595.0 342.0 594.9 342.9 594.9 343.8 595.0 344.8 595.2 345.8 595.6 346.8 596.0 347.8 596.6 348.8 597.3 349.9 598.2 351.0 599.1 352.0 600.1 353.1 601.3 354.1 602.6 355.2 603.9 356.2 605.4 357.2 606.9 358.1 608.6 359.1 610.3 359.9" fill="none" stroke="#cca700" stroke-width="0.5"/><path d="M607.5 362.4 609.6 363.4 611.9 364.4 614.2 365.3 616.5 366.2 618.9 367.0 621.3 367.7 623.8 368.3 626.3 368.8 628.7 369.3 631.1 369.7 633.5 369.9 635.9 370.1 638.2 370.2 640.4 370.1M657.4 353.2 656.7 351.9 655.8 350.6 654.8 349.3 653.6 348.1 652.3 346.8 651.0 345.6 649.5 344.4 647.9 343.2 646.2 342.1 644.5 341.0 642.7 339.9 640.8 338.9 638.8 338.0 636.8 337.1 634.8 336.2 632.7 335.4 630.6 334.7 628.5 334.0 626.4 333.4 624.3 332.9 622.1 332.4 620.0 332.0 617.9 331.7 615.8 331.4 613.8 331.2 611.8 331.1 609.8 331.0 607.9 331.0M589.5 345.1 589.9 346.3 590.4 347.5 591.1 348.8 591.9 350.1 592.9 351.4 594.0 352.6 595.3 353.9 596.7 355.2 598.2 356.5 599.8 357.7 601.6 358.9 603.4 360.1 605.4 361.3 607.5 362.4" fill="none" stroke="#a3cc00" stroke-width="0.5"/><path d="M605.1 364.4 607.5 365.7 610.1 366.8 612.8 367.9 615.5 368.9 618.3 369.8 621.1 370.7 623.9 371.4 626.8 372.0 629.6 372.6 632.5 373.0 635.2 373.3M659.5 349.4 658.1 347.9 656.6 346.5 655.0 345.1 653.3 343.7 651.5 342.4 649.6 341.1 647.6 339.8 645.5 338.6 643.3 337.5 641.1 336.4 638.8 335.4 636.5 334.4 634.1 333.5 631.7 332.7 629.3 331.9 626.9 331.3 624.4 330.7 622.0 330.1 619.6 329.7 617.2 329.3 614.9 329.0 612.6 328.8M586.4 348.8 587.4 350.2 588.5 351.7 589.7 353.2 591.1 354.7 592.7 356.1 594.4 357.6 596.3 359.0 598.3 360.4 600.4 361.8 602.7 363.2 605.1 364.4" fill="none" stroke="#56cc00" stroke-width="0.5"/><path d="M608.6 369.0 611.5 370.2 614.6 371.4 617.7 372.4 620.9 373.4 624.1 374.2 627.3 374.9 630.5 375.5 633.7 376.0M662.1 347.8 660.4 346.2 658.6 344.6 656.7 343.1 654.7 341.6 652.5 340.2 650.2 338.8 647.9 337.5 645.5 336.2M635.3 331.9 632.6 331.0 630.0 330.1 627.3 329.4 624.6 328.7 621.9 328.2 619.3 327.7 616.7 327.2 614.1 326.9M583.3 350.3 584.5 352.0 585.9 353.7 587.4 355.3 589.1 357.0 591.0 358.6 593.1 360.2 595.3 361.8 597.7 363.4" fill="none" stroke="#08cc00" stroke-width="0.5"/><path d="M624.2 376.8 627.7 377.6 631.3 378.3M663.9 345.9 661.9 344.2 659.8 342.6M621.9 326.4 619.0 325.9 616.1 325.4M580.9 352.3 582.4 354.1 584.0 355.9" fill="none" stroke="#00cc46" stroke-width="0.5"/><line x1="576.85" y1="348.31" x2="577.85" y2="348.31" stroke="#888" stroke-width="0.3"/><text x="576.55" y="348.91" font-size="1.7" fill="#333" text-anchor="end" textLength="1.65" lengthAdjust="spacingAndGlyphs">0.2</text><line x1="576.31" y1="343.16" x2="577.31" y2="343.16" stroke="#888" stroke-width="0.3"/><text x="576.01" y="343.76" font-size="1.7" fill="#333" text-anchor="end" textLength="1.65" lengthAdjust="spacingAndGlyphs">0.3</text><line x1="575.74" y1="337.88" x2="576.74" y2="337.88" stroke="#888" stroke-width="0.3"/><text x="575.44" y="338.48" font-size="1.7" fill="#333" text-anchor="end" textLength="1.65" lengthAdjust="spacingAndGlyphs">0.4</text><line x1="575.17" y1="332.47" x2="576.17" y2="332.47" stroke="#888" stroke-width="0.3"/><text x="574.87" y="333.07" font-size="1.7" fill="#333" text-anchor="end" textLength="1.65" lengthAdjust="spacingAndGlyphs">0.5</text><line x1="574.58" y1="326.92" x2="575.58" y2="326.92" stroke="#888" stroke-width="0.3"/><text x="574.28" y="327.52" font-size="1.7" fill="#333" text-anchor="end" textLength="1.65" lengthAdjust="spacingAndGlyphs">0.6</text><line x1="573.98" y1="321.23" x2="574.98" y2="321.23" stroke="#888" stroke-width="0.3"/><text x="573.68" y="321.83" font-size="1.7" fill="#333" text-anchor="end" textLength="1.65" lengthAdjust="spacingAndGlyphs">0.7</text><line x1="573.36" y1="315.4" x2="574.36" y2="315.4" stroke="#888" stroke-width="0.3"/><text x="573.06" y="316" font-size="1.7" fill="#333" text-anchor="end" textLength="1.65" lengthAdjust="spacingAndGlyphs">0.8</text><line x1="572.72" y1="309.41" x2="573.72" y2="309.41" stroke="#888" stroke-width="0.3"/><text x="572.42" y="310.01" font-size="1.7" fill="#333" text-anchor="end" textLength="1.65" lengthAdjust="spacingAndGlyphs">0.9</text><g transform="scale(.1)" stroke="#000" stroke-opacity=".42" stroke-width="2.6" stroke-linejoin="round"><polygon points="6167,3044 6150,3033 6172,3032 6188,3043" fill="#13f17a"/><polygon points="6188,3043 6172,3032 6193,3033 6210,3044" fill="#13f05e"/><polygon points="6150,3033 6133,3024 6155,3023 6172,3032" fill="#13f634"/><polygon points="6210,3044 6193,3033 6215,3034 6232,3045" fill="#13ee44"/><polygon points="6172,3032 6155,3023 6177,3023 6193,3033" fill="#13f517"/><polygon points="6133,3024 6116,3017 6138,3016 6155,3023" fill="#35fb14"/><polygon points="6232,3045 6215,3034 6237,3036 6254,3047" fill="#13ec2d"/><polygon points="6193,3033 6177,3023 6199,3024 6215,3034" fill="#29f313"/><polygon points="6155,3023 6138,3016 6160,3016 6177,3023" fill="#52fa14"/><polygon points="6116,3017 6099,3012 6120,3011 6138,3016" fill="#74ff18"/><polygon points="6254,3047 6237,3036 6260,3039 6276,3050" fill="#12eb1a"/><polygon points="6215,3034 6199,3024 6221,3026 6237,3036" fill="#3ff113"/><polygon points="6177,3023 6160,3016 6182,3017 6199,3024" fill="#6cf813"/><polygon points="6138,3016 6120,3011 6142,3011 6160,3016" fill="#90ff15"/><polygon points="6099,3012 6081,3009 6103,3008 6120,3011" fill="#adff24"/><polygon points="6276,3050 6260,3039 6282,3043 6298,3054" fill="#1ce912"/><polygon points="6199,3024 6182,3017 6204,3019 6221,3026" fill="#82f713"/><polygon points="6160,3016 6142,3011 6164,3012 6182,3017" fill="#a9fe14"/><polygon points="6081,3009 6063,3008 6085,3007 6103,3008" fill="#d9ff30"/><polygon points="6237,3036 6221,3026 6243,3029 6260,3039" fill="#53f013"/><polygon points="6120,3011 6103,3008 6125,3008 6142,3011" fill="#c7ff21"/><polygon points="6298,3054 6282,3043 6305,3047 6321,3059" fill="#29e712"/><polygon points="6260,3039 6243,3029 6266,3033 6282,3043" fill="#62ee13"/><polygon points="6221,3026 6204,3019 6227,3022 6243,3029" fill="#95f513"/><polygon points="6182,3017 6164,3012 6187,3014 6204,3019" fill="#c0fc14"/><polygon points="6142,3011 6125,3008 6147,3009 6164,3012" fill="#e0ff1e"/><polygon points="6103,3008 6085,3007 6107,3007 6125,3008" fill="#f3ff2d"/><polygon points="6063,3008 6045,3010 6066,3009 6085,3007" fill="#faff3d"/><polygon points="6321,3059 6305,3047 6328,3053 6344,3064" fill="#33e612"/><polygon points="6282,3043 6266,3033 6289,3038 6305,3047" fill="#70ec13"/><polygon points="6243,3029 6227,3022 6250,3026 6266,3033" fill="#a5f313"/><polygon points="6204,3019 6187,3014 6210,3017 6227,3022" fill="#d3fa14"/><polygon points="6164,3012 6147,3009 6170,3011 6187,3014" fill="#f7ff1a"/><polygon points="6125,3008 6107,3007 6129,3008 6147,3009" fill="#fff32a"/><polygon points="6085,3007 6066,3009 6089,3009 6107,3007" fill="#ffeb3a"/><polygon points="6045,3010 6026,3013 6048,3013 6066,3009" fill="#ffec49"/><polygon points="6344,3064 6328,3053 6352,3060 6367,3071" fill="#3be412"/><polygon points="6305,3047 6289,3038 6312,3044 6328,3053" fill="#79ea12"/><polygon points="6266,3033 6250,3026 6273,3031 6289,3038" fill="#b2f113"/><polygon points="6227,3022 6210,3017 6233,3021 6250,3026" fill="#e3f913"/><polygon points="6187,3014 6170,3011 6192,3014 6210,3017" fill="#fff217"/><polygon points="6147,3009 6129,3008 6152,3010 6170,3011" fill="#ffdd27"/><polygon points="6107,3007 6089,3009 6111,3010 6129,3008" fill="#ffd437"/><polygon points="6066,3009 6048,3013 6070,3013 6089,3009" fill="#ffd546"/><polygon points="6026,3013 6007,3020 6029,3019 6048,3013" fill="#ffdd55"/><polygon points="6289,3038 6273,3031 6296,3036 6312,3044" fill="#bcef13"/><polygon points="6250,3026 6233,3021 6256,3026 6273,3031" fill="#f0f713"/><polygon points="6210,3017 6192,3014 6216,3018 6233,3021" fill="#fee014"/><polygon points="6170,3011 6152,3010 6175,3013 6192,3014" fill="#ffca23"/><polygon points="6129,3008 6111,3010 6134,3012 6152,3010" fill="#ffbe33"/><polygon points="6089,3009 6070,3013 6093,3014 6111,3010" fill="#ffbf43"/><polygon points="6367,3071 6352,3060 6375,3067 6390,3078" fill="#40e212"/><polygon points="6328,3053 6312,3044 6336,3050 6352,3060" fill="#81e912"/><polygon points="6048,3013 6029,3019 6052,3019 6070,3013" fill="#ffc753"/><polygon points="6007,3020 5989,3028 6011,3028 6029,3019" fill="#ffd561"/><polygon points="6390,3078 6375,3067 6399,3076 6414,3087" fill="#42e012"/><polygon points="6273,3031 6256,3026 6280,3031 6296,3036" fill="#f5f013"/><polygon points="6233,3021 6216,3018 6239,3023 6256,3026" fill="#fdd014"/><polygon points="6192,3014 6175,3013 6198,3017 6216,3018" fill="#ffb81f"/><polygon points="6152,3010 6134,3012 6157,3015 6175,3013" fill="#ffab30"/><polygon points="6111,3010 6093,3014 6116,3016 6134,3012" fill="#ffaa40"/><polygon points="5989,3028 5970,3039 5992,3039 6011,3028" fill="#ffd36b"/><polygon points="6352,3060 6336,3050 6360,3058 6375,3067" fill="#84e712"/><polygon points="6312,3044 6296,3036 6320,3043 6336,3050" fill="#c2ee13"/><polygon points="6070,3013 6052,3019 6074,3020 6093,3014" fill="#ffb24f"/><polygon points="6029,3019 6011,3028 6033,3028 6052,3019" fill="#ffc15e"/><polygon points="6414,3087 6399,3076 6423,3085 6437,3096" fill="#41df11"/><polygon points="6375,3067 6360,3058 6383,3066 6399,3076" fill="#87e512"/><polygon points="6336,3050 6320,3043 6344,3051 6360,3058" fill="#c7ec12"/><polygon points="6296,3036 6280,3031 6303,3038 6320,3043" fill="#f3e713"/><polygon points="6256,3026 6239,3023 6263,3028 6280,3031" fill="#fbc314"/><polygon points="6216,3018 6198,3017 6222,3022 6239,3023" fill="#ffa81b"/><polygon points="6175,3013 6157,3015 6180,3019 6198,3017" fill="#ff9a2c"/><polygon points="6134,3012 6116,3016 6139,3019 6157,3015" fill="#ff973c"/><polygon points="6093,3014 6074,3020 6097,3022 6116,3016" fill="#ff9e4c"/><polygon points="6052,3019 6033,3028 6056,3029 6074,3020" fill="#ffad5b"/><polygon points="6011,3028 5992,3039 6014,3039 6033,3028" fill="#ffc068"/><polygon points="5970,3039 5951,3053 5973,3052 5992,3039" fill="#ffd674"/><polygon points="6437,3096 6423,3085 6447,3096 6461,3107" fill="#3edd11"/><polygon points="6399,3076 6383,3066 6407,3076 6423,3085" fill="#86e312"/><polygon points="6360,3058 6344,3051 6368,3059 6383,3066" fill="#c7ea12"/><polygon points="6320,3043 6303,3038 6327,3046 6344,3051" fill="#f1df13"/><polygon points="6280,3031 6263,3028 6287,3035 6303,3038" fill="#f9b913"/><polygon points="6239,3023 6222,3022 6245,3028 6263,3028" fill="#ff9a17"/><polygon points="6198,3017 6180,3019 6204,3024 6222,3022" fill="#ff8a28"/><polygon points="6157,3015 6139,3019 6162,3023 6180,3019" fill="#ff8638"/><polygon points="6116,3016 6097,3022 6121,3025 6139,3019" fill="#ff8d49"/><polygon points="6074,3020 6056,3029 6079,3031 6097,3022" fill="#ff9a58"/><polygon points="6033,3028 6014,3039 6037,3040 6056,3029" fill="#ffad65"/><polygon points="5992,3039 5973,3052 5995,3053 6014,3039" fill="#ffc471"/><polygon points="5951,3053 5932,3069 5954,3068 5973,3052" fill="#ffdc7b"/><polygon points="6423,3085 6407,3076 6432,3086 6447,3096" fill="#81e112"/><polygon points="6344,3051 6327,3046 6351,3054 6368,3059" fill="#efda13"/><polygon points="6222,3022 6204,3024 6228,3030 6245,3028" fill="#ff7d24"/><polygon points="6180,3019 6162,3023 6186,3028 6204,3024" fill="#ff7834"/><polygon points="6056,3029 6037,3040 6060,3043 6079,3031" fill="#ff9c62"/><polygon points="5973,3052 5954,3068 5976,3069 5995,3053" fill="#ffcb79"/><polygon points="6461,3107 6447,3096 6471,3107 6485,3118" fill="#39db11"/><polygon points="6383,3066 6368,3059 6392,3069 6407,3076" fill="#c5e812"/><polygon points="6303,3038 6287,3035 6311,3043 6327,3046" fill="#f6b113"/><polygon points="6263,3028 6245,3028 6269,3035 6287,3035" fill="#fe9114"/><polygon points="6139,3019 6121,3025 6144,3029 6162,3023" fill="#ff7c45"/><polygon points="6097,3022 6079,3031 6102,3034 6121,3025" fill="#ff8954"/><polygon points="6014,3039 5995,3053 6018,3054 6037,3040" fill="#ffb26e"/><polygon points="5932,3069 5913,3087 5935,3087 5954,3068" fill="#ffe681"/><polygon points="6485,3118 6471,3107 6495,3119 6509,3130" fill="#31d911"/><polygon points="6447,3096 6432,3086 6456,3098 6471,3107" fill="#7bdf11"/><polygon points="6407,3076 6392,3069 6416,3079 6432,3086" fill="#c2e612"/><polygon points="6368,3059 6351,3054 6376,3064 6392,3069" fill="#edd813"/><polygon points="6327,3046 6311,3043 6335,3052 6351,3054" fill="#f4ac13"/><polygon points="6287,3035 6269,3035 6294,3042 6311,3043" fill="#fc8914"/><polygon points="6245,3028 6228,3030 6252,3036 6269,3035" fill="#ff721f"/><polygon points="6204,3024 6186,3028 6210,3034 6228,3030" fill="#ff6a30"/><polygon points="6162,3023 6144,3029 6168,3034 6186,3028" fill="#ff6d41"/><polygon points="6121,3025 6102,3034 6126,3038 6144,3029" fill="#ff7951"/><polygon points="6079,3031 6060,3043 6083,3046 6102,3034" fill="#ff8b5f"/><polygon points="6037,3040 6018,3054 6041,3056 6060,3043" fill="#ffa16b"/><polygon points="5995,3053 5976,3069 5999,3070 6018,3054" fill="#ffba76"/><polygon points="5954,3068 5935,3087 5957,3088 5976,3069" fill="#ffd57e"/><polygon points="5913,3087 5894,3108 5916,3108 5935,3087" fill="#fff385"/><polygon points="6509,3130 6495,3119 6519,3133 6533,3144" fill="#26d711"/><polygon points="6471,3107 6456,3098 6480,3110 6495,3119" fill="#73dd11"/><polygon points="6392,3069 6376,3064 6400,3075 6416,3079" fill="#ebd912"/><polygon points="6311,3043 6294,3042 6318,3051 6335,3052" fill="#fa8414"/><polygon points="6102,3034 6083,3046 6107,3050 6126,3038" fill="#ff7c5b"/><polygon points="6018,3054 5999,3070 6022,3073 6041,3056" fill="#ffaa73"/><polygon points="5935,3087 5916,3108 5938,3109 5957,3088" fill="#ffe382"/><polygon points="5894,3108 5874,3132 5896,3132 5916,3108" fill="#fcff87"/><polygon points="6432,3086 6416,3079 6441,3091 6456,3098" fill="#bae412"/><polygon points="6351,3054 6335,3052 6359,3061 6376,3064" fill="#f2ab13"/><polygon points="6269,3035 6252,3036 6276,3044 6294,3042" fill="#ff681b"/><polygon points="6228,3030 6210,3034 6234,3041 6252,3036" fill="#ff5f2c"/><polygon points="6186,3028 6168,3034 6192,3040 6210,3034" fill="#ff613d"/><polygon points="6144,3029 6126,3038 6149,3044 6168,3034" fill="#ff6b4d"/><polygon points="6060,3043 6041,3056 6064,3060 6083,3046" fill="#ff9268"/><polygon points="5976,3069 5957,3088 5980,3089 5999,3070" fill="#ffc57c"/><polygon points="6495,3119 6480,3110 6505,3124 6519,3133" fill="#68db11"/><polygon points="5916,3108 5896,3132 5919,3133 5938,3109" fill="#fff385"/><polygon points="6533,3144 6519,3133 6544,3147 6558,3158" fill="#1ad511"/><polygon points="6456,3098 6441,3091 6465,3104 6480,3110" fill="#b1e212"/><polygon points="6416,3079 6400,3075 6425,3086 6441,3091" fill="#e9dd12"/><polygon points="6376,3064 6359,3061 6384,3072 6400,3075" fill="#f0ac13"/><polygon points="6335,3052 6318,3051 6343,3061 6359,3061" fill="#f88313"/><polygon points="6294,3042 6276,3044 6301,3053 6318,3051" fill="#ff6316"/><polygon points="6252,3036 6234,3041 6259,3049 6276,3044" fill="#ff5627"/><polygon points="6210,3034 6192,3040 6216,3047 6234,3041" fill="#ff5538"/><polygon points="6168,3034 6149,3044 6173,3050 6192,3040" fill="#ff5e48"/><polygon points="6126,3038 6107,3050 6131,3055 6149,3044" fill="#ff6f57"/><polygon points="6083,3046 6064,3060 6088,3064 6107,3050" fill="#ff8364"/><polygon points="6041,3056 6022,3073 6045,3076 6064,3060" fill="#ff9c70"/><polygon points="5999,3070 5980,3089 6003,3092 6022,3073" fill="#ffb779"/><polygon points="5957,3088 5938,3109 5961,3111 5980,3089" fill="#ffd480"/><polygon points="5874,3132 5855,3158 5877,3158 5896,3132" fill="#e9ff89"/><polygon points="6558,3158 6544,3147 6568,3162 6582,3173" fill="#11d417"/><polygon points="6519,3133 6505,3124 6530,3138 6544,3147" fill="#59d911"/><polygon points="6480,3110 6465,3104 6490,3117 6505,3124" fill="#a5e012"/><polygon points="6441,3091 6425,3086 6450,3099 6465,3104" fill="#e6e212"/><polygon points="6400,3075 6384,3072 6409,3084 6425,3086" fill="#eeb113"/><polygon points="6359,3061 6343,3061 6368,3072 6384,3072" fill="#f68513"/><polygon points="6318,3051 6301,3053 6326,3063 6343,3061" fill="#fe6214"/><polygon points="6276,3044 6259,3049 6283,3058 6301,3053" fill="#ff5022"/><polygon points="6234,3041 6216,3047 6241,3056 6259,3049" fill="#ff4c33"/><polygon points="6192,3040 6173,3050 6198,3057 6216,3047" fill="#ff5444"/><polygon points="6149,3044 6131,3055 6155,3061 6173,3050" fill="#ff6253"/><polygon points="6107,3050 6088,3064 6112,3069 6131,3055" fill="#ff7761"/><polygon points="6064,3060 6045,3076 6069,3081 6088,3064" fill="#ff8f6c"/><polygon points="6022,3073 6003,3092 6026,3095 6045,3076" fill="#ffa976"/><polygon points="5980,3089 5961,3111 5984,3113 6003,3092" fill="#ffc57d"/><polygon points="5938,3109 5919,3133 5941,3135 5961,3111" fill="#ffe483"/><polygon points="5896,3132 5877,3158 5899,3159 5919,3133" fill="#f8ff86"/><polygon points="5855,3158 5836,3186 5858,3187 5877,3158" fill="#d3ff89"/><polygon points="6544,3147 6530,3138 6555,3154 6568,3162" fill="#4ad711"/><polygon points="6465,3104 6450,3099 6475,3113 6490,3117" fill="#dee412"/><polygon points="6425,3086 6409,3084 6434,3097 6450,3099" fill="#ecb712"/><polygon points="6343,3061 6326,3063 6351,3074 6368,3072" fill="#fb6314"/><polygon points="6301,3053 6283,3058 6308,3068 6326,3063" fill="#ff4c1e"/><polygon points="6259,3049 6241,3056 6266,3065 6283,3058" fill="#ff452f"/><polygon points="6173,3050 6155,3061 6179,3069 6198,3057" fill="#ff584f"/><polygon points="6131,3055 6112,3069 6136,3076 6155,3061" fill="#ff6b5c"/><polygon points="6088,3064 6069,3081 6093,3086 6112,3069" fill="#ff8268"/><polygon points="6003,3092 5984,3113 6007,3117 6026,3095" fill="#ffb87a"/><polygon points="5961,3111 5941,3135 5964,3137 5984,3113" fill="#ffd680"/><polygon points="5877,3158 5858,3187 5880,3188 5899,3159" fill="#e1ff86"/><polygon points="6582,3173 6568,3162 6593,3179 6606,3189" fill="#10d228"/><polygon points="6505,3124 6490,3117 6515,3132 6530,3138" fill="#96de11"/><polygon points="6384,3072 6368,3072 6393,3084 6409,3084" fill="#f38a13"/><polygon points="6216,3047 6198,3057 6223,3065 6241,3056" fill="#ff4a3f"/><polygon points="6045,3076 6026,3095 6050,3100 6069,3081" fill="#ff9c72"/><polygon points="5919,3133 5899,3159 5922,3161 5941,3135" fill="#fff884"/><polygon points="5836,3186 5817,3217 5839,3218 5858,3187" fill="#b7ff88"/><polygon points="6450,3099 6434,3097 6459,3111 6475,3113" fill="#e9c012"/><polygon points="6326,3063 6308,3068 6333,3079 6351,3074" fill="#ff4b19"/><polygon points="6112,3069 6093,3086 6117,3093 6136,3076" fill="#ff7764"/><polygon points="5984,3113 5964,3137 5988,3141 6007,3117" fill="#ffca7d"/><polygon points="6606,3189 6593,3179 6618,3196 6631,3206" fill="#10d03c"/><polygon points="6568,3162 6555,3154 6579,3170 6593,3179" fill="#38d511"/><polygon points="6530,3138 6515,3132 6540,3148 6555,3154" fill="#85dc11"/><polygon points="6490,3117 6475,3113 6500,3128 6515,3132" fill="#cfe212"/><polygon points="6409,3084 6393,3084 6418,3097 6434,3097" fill="#f19113"/><polygon points="6368,3072 6351,3074 6376,3086 6393,3084" fill="#f96814"/><polygon points="6283,3058 6266,3065 6291,3075 6308,3068" fill="#ff402a"/><polygon points="6241,3056 6223,3065 6247,3074 6266,3065" fill="#ff433a"/><polygon points="6198,3057 6179,3069 6204,3077 6223,3065" fill="#ff4e4a"/><polygon points="6155,3061 6136,3076 6161,3083 6179,3069" fill="#ff6158"/><polygon points="6069,3081 6050,3100 6074,3105 6093,3086" fill="#ff906e"/><polygon points="6026,3095 6007,3117 6031,3122 6050,3100" fill="#ffac77"/><polygon points="5941,3135 5922,3161 5945,3164 5964,3137" fill="#ffeb81"/><polygon points="5899,3159 5880,3188 5903,3190 5922,3161" fill="#eeff84"/><polygon points="5858,3187 5839,3218 5861,3219 5880,3188" fill="#c6ff85"/><polygon points="5817,3217 5799,3251 5820,3251 5839,3218" fill="#98ff86"/><polygon points="6631,3206 6618,3196 6643,3215 6656,3225" fill="#10ce51"/><polygon points="6593,3179 6579,3170 6604,3188 6618,3196" fill="#24d411"/><polygon points="6515,3132 6500,3128 6525,3143 6540,3148" fill="#bde012"/><polygon points="6434,3097 6418,3097 6443,3111 6459,3111" fill="#ef9a13"/><polygon points="6393,3084 6376,3086 6401,3099 6418,3097" fill="#f67013"/><polygon points="6308,3068 6291,3075 6316,3086 6333,3079" fill="#ff3e24"/><polygon points="6223,3065 6204,3077 6229,3086 6247,3074" fill="#ff4745"/><polygon points="6136,3076 6117,3093 6142,3100 6161,3083" fill="#ff6d60"/><polygon points="6050,3100 6031,3122 6055,3127 6074,3105" fill="#ffa173"/><polygon points="6007,3117 5988,3141 6011,3146 6031,3122" fill="#ffbf79"/><polygon points="5922,3161 5903,3190 5926,3193 5945,3164" fill="#fbff81"/><polygon points="5839,3218 5820,3251 5842,3253 5861,3219" fill="#a5ff84"/><polygon points="5799,3251 5780,3286 5802,3287 5820,3251" fill="#84ff96"/><polygon points="6555,3154 6540,3148 6565,3164 6579,3170" fill="#72da11"/><polygon points="6475,3113 6459,3111 6485,3126 6500,3128" fill="#e7cc12"/><polygon points="6351,3074 6333,3079 6359,3091 6376,3086" fill="#ff4d14"/><polygon points="6266,3065 6247,3074 6273,3084 6291,3075" fill="#ff3f35"/><polygon points="6179,3069 6161,3083 6185,3091 6204,3077" fill="#ff5853"/><polygon points="6093,3086 6074,3105 6098,3112 6117,3093" fill="#ff866a"/><polygon points="5964,3137 5945,3164 5968,3168 5988,3141" fill="#ffe07e"/><polygon points="5880,3188 5861,3219 5884,3222 5903,3190" fill="#d2ff83"/><polygon points="6618,3196 6604,3188 6630,3207 6643,3215" fill="#10d214"/><polygon points="6418,3097 6401,3099 6427,3113 6443,3111" fill="#f47a13"/><polygon points="6031,3122 6011,3146 6035,3152 6055,3127" fill="#ffb476"/><polygon points="5820,3251 5802,3287 5824,3289 5842,3253" fill="#82ff84"/><polygon points="6656,3225 6643,3215 6668,3234 6680,3244" fill="#10cc67"/><polygon points="6579,3170 6565,3164 6591,3182 6604,3188" fill="#5ed711"/><polygon points="6540,3148 6525,3143 6551,3160 6565,3164" fill="#a9de11"/><polygon points="6500,3128 6485,3126 6510,3141 6525,3143" fill="#e5d912"/><polygon points="6459,3111 6443,3111 6469,3126 6485,3126" fill="#eca713"/><polygon points="6376,3086 6359,3091 6384,3104 6401,3099" fill="#fc5514"/><polygon points="6333,3079 6316,3086 6341,3098 6359,3091" fill="#ff401f"/><polygon points="6291,3075 6273,3084 6298,3096 6316,3086" fill="#ff3b30"/><polygon points="6247,3074 6229,3086 6254,3097 6273,3084" fill="#ff4240"/><polygon points="6204,3077 6185,3091 6210,3101 6229,3086" fill="#ff514e"/><polygon points="6161,3083 6142,3100 6167,3109 6185,3091" fill="#ff645b"/><polygon points="6117,3093 6098,3112 6123,3120 6142,3100" fill="#ff7c66"/><polygon points="6074,3105 6055,3127 6079,3134 6098,3112" fill="#ff976f"/><polygon points="5988,3141 5968,3168 5992,3173 6011,3146" fill="#ffd57b"/><polygon points="5945,3164 5926,3193 5949,3198 5968,3168" fill="#fff87e"/><polygon points="5903,3190 5884,3222 5907,3225 5926,3193" fill="#deff80"/><polygon points="5861,3219 5842,3253 5865,3256 5884,3222" fill="#b2ff82"/><polygon points="5780,3286 5762,3325 5783,3326 5802,3287" fill="#82ffbc"/><polygon points="6643,3215 6630,3207 6655,3226 6668,3234" fill="#10d02c"/><polygon points="6604,3188 6591,3182 6616,3201 6630,3207" fill="#46d611"/><polygon points="6565,3164 6551,3160 6576,3178 6591,3182" fill="#92dc11"/><polygon points="6525,3143 6510,3141 6536,3158 6551,3160" fill="#dbe212"/><polygon points="6485,3126 6469,3126 6494,3142 6510,3141" fill="#eab512"/><polygon points="6443,3111 6427,3113 6452,3129 6469,3126" fill="#f18713"/><polygon points="6401,3099 6384,3104 6410,3118 6427,3113" fill="#fa6014"/><polygon points="6359,3091 6341,3098 6367,3112 6384,3104" fill="#ff451a"/><polygon points="6316,3086 6298,3096 6323,3108 6341,3098" fill="#ff3c2a"/><polygon points="6273,3084 6254,3097 6280,3108 6298,3096" fill="#ff3f3a"/><polygon points="6229,3086 6210,3101 6236,3111 6254,3097" fill="#ff4c49"/><polygon points="6185,3091 6167,3109 6192,3118 6210,3101" fill="#ff5e56"/><polygon points="6142,3100 6123,3120 6147,3128 6167,3109" fill="#ff7462"/><polygon points="6098,3112 6079,3134 6103,3142 6123,3120" fill="#ff8f6b"/><polygon points="6055,3127 6035,3152 6060,3159 6079,3134" fill="#ffac72"/><polygon points="6011,3146 5992,3173 6016,3179 6035,3152" fill="#ffcb77"/><polygon points="5968,3168 5949,3198 5973,3203 5992,3173" fill="#ffee7b"/><polygon points="5926,3193 5907,3225 5930,3230 5949,3198" fill="#e9ff7e"/><polygon points="5884,3222 5865,3256 5888,3260 5907,3225" fill="#bdff7f"/><polygon points="5842,3253 5824,3289 5846,3292 5865,3256" fill="#8cff7f"/><polygon points="5802,3287 5783,3326 5805,3328 5824,3289" fill="#7fffab"/><polygon points="6630,3207 6616,3201 6641,3220 6655,3226" fill="#2dd411"/><polygon points="6591,3182 6576,3178 6602,3197 6616,3201" fill="#7bda11"/><polygon points="6551,3160 6536,3158 6561,3176 6576,3178" fill="#c4e012"/><polygon points="6510,3141 6494,3142 6520,3159 6536,3158" fill="#e7c612"/><polygon points="6469,3126 6452,3129 6478,3145 6494,3142" fill="#ef9613"/><polygon points="6427,3113 6410,3118 6436,3134 6452,3129" fill="#f76c13"/><polygon points="6384,3104 6367,3112 6393,3126 6410,3118" fill="#ff4b14"/><polygon points="6341,3098 6323,3108 6349,3122 6367,3112" fill="#ff3f25"/><polygon points="6298,3096 6280,3108 6305,3121 6323,3108" fill="#ff3f35"/><polygon points="6254,3097 6236,3111 6261,3123 6280,3108" fill="#ff4944"/><polygon points="6210,3101 6192,3118 6217,3129 6236,3111" fill="#ff5951"/><polygon points="6167,3109 6147,3128 6173,3138 6192,3118" fill="#ff6e5d"/><polygon points="6123,3120 6103,3142 6128,3151 6147,3128" fill="#ff8866"/><polygon points="6079,3134 6060,3159 6084,3167 6103,3142" fill="#ffa46e"/><polygon points="6035,3152 6016,3179 6040,3186 6060,3159" fill="#ffc374"/><polygon points="5992,3173 5973,3203 5997,3209 6016,3179" fill="#ffe578"/><polygon points="5949,3198 5930,3230 5953,3235 5973,3203" fill="#f3ff7a"/><polygon points="5907,3225 5888,3260 5911,3264 5930,3230" fill="#c7ff7c"/><polygon points="5865,3256 5846,3292 5869,3296 5888,3260" fill="#97ff7d"/><polygon points="5824,3289 5805,3328 5827,3331 5846,3292" fill="#7dff9a"/><polygon points="6616,3201 6602,3197 6627,3217 6641,3220" fill="#60d811"/><polygon points="6576,3178 6561,3176 6587,3196 6602,3197" fill="#abde11"/><polygon points="6536,3158 6520,3159 6546,3177 6561,3176" fill="#e5d912"/><polygon points="6494,3142 6478,3145 6504,3162 6520,3159" fill="#eca713"/><polygon points="6452,3129 6436,3134 6462,3150 6478,3145" fill="#f47d13"/><polygon points="6410,3118 6393,3126 6419,3141 6436,3134" fill="#fc5914"/><polygon points="6367,3112 6349,3122 6375,3136 6393,3126" fill="#ff451f"/><polygon points="6323,3108 6305,3121 6331,3134 6349,3122" fill="#ff422f"/><polygon points="6280,3108 6261,3123 6287,3136 6305,3121" fill="#ff483e"/><polygon points="6236,3111 6217,3129 6242,3141 6261,3123" fill="#ff564c"/><polygon points="6192,3118 6173,3138 6198,3149 6217,3129" fill="#ff6a58"/><polygon points="6147,3128 6128,3151 6153,3161 6173,3138" fill="#ff8262"/><polygon points="6103,3142 6084,3167 6109,3176 6128,3151" fill="#ff9c6a"/><polygon points="6060,3159 6040,3186 6065,3195 6084,3167" fill="#ffbc70"/><polygon points="6016,3179 5997,3209 6021,3216 6040,3186" fill="#ffdd74"/><polygon points="5973,3203 5953,3235 5977,3242 5997,3209" fill="#fbff77"/><polygon points="5930,3230 5911,3264 5934,3270 5953,3235" fill="#d0ff79"/><polygon points="5888,3260 5869,3296 5892,3301 5911,3264" fill="#a1ff7a"/><polygon points="5846,3292 5827,3331 5850,3336 5869,3296" fill="#7aff8b"/><polygon points="6561,3176 6546,3177 6572,3196 6587,3196" fill="#d6e312"/><polygon points="6520,3159 6504,3162 6530,3180 6546,3177" fill="#eabb12"/><polygon points="6436,3134 6419,3141 6445,3158 6462,3150" fill="#fa6a14"/><polygon points="6349,3122 6331,3134 6357,3149 6375,3136" fill="#ff4729"/><polygon points="6305,3121 6287,3136 6313,3149 6331,3134" fill="#ff4a39"/><polygon points="6261,3123 6242,3141 6268,3153 6287,3136" fill="#ff5646"/><polygon points="6217,3129 6198,3149 6224,3161 6242,3141" fill="#ff6753"/><polygon points="6173,3138 6153,3161 6179,3172 6198,3149" fill="#ff7e5d"/><polygon points="6128,3151 6109,3176 6134,3186 6153,3161" fill="#ff9865"/><polygon points="6040,3186 6021,3216 6045,3225 6065,3195" fill="#ffd870"/><polygon points="5953,3235 5934,3270 5958,3277 5977,3242" fill="#d8ff76"/><polygon points="5911,3264 5892,3301 5915,3307 5934,3270" fill="#a8ff77"/><polygon points="6602,3197 6587,3196 6613,3216 6627,3217" fill="#90dc11"/><polygon points="6478,3145 6462,3150 6488,3168 6504,3162" fill="#f28f13"/><polygon points="6393,3126 6375,3136 6401,3152 6419,3141" fill="#ff4f19"/><polygon points="6084,3167 6065,3195 6090,3204 6109,3176" fill="#ffb66c"/><polygon points="5997,3209 5977,3242 6001,3249 6021,3216" fill="#fffc74"/><polygon points="5869,3296 5850,3336 5873,3341 5892,3301" fill="#78ff7c"/><polygon points="6546,3177 6530,3180 6556,3200 6572,3196" fill="#e7d212"/><polygon points="6331,3134 6313,3149 6339,3164 6357,3149" fill="#ff5033"/><polygon points="6287,3136 6268,3153 6294,3167 6313,3149" fill="#ff5741"/><polygon points="6198,3149 6179,3172 6204,3184 6224,3161" fill="#ff7c58"/><polygon points="6153,3161 6134,3186 6160,3197 6179,3172" fill="#ff9560"/><polygon points="5934,3270 5915,3307 5939,3314 5958,3277" fill="#b0ff74"/><polygon points="6587,3196 6572,3196 6598,3217 6613,3216" fill="#bae012"/><polygon points="6504,3162 6488,3168 6514,3186 6530,3180" fill="#efa413"/><polygon points="6462,3150 6445,3158 6471,3176 6488,3168" fill="#f77c13"/><polygon points="6419,3141 6401,3152 6427,3168 6445,3158" fill="#ff5d14"/><polygon points="6375,3136 6357,3149 6383,3165 6401,3152" fill="#ff5024"/><polygon points="6242,3141 6224,3161 6249,3174 6268,3153" fill="#ff674d"/><polygon points="6109,3176 6090,3204 6115,3214 6134,3186" fill="#ffb167"/><polygon points="6065,3195 6045,3225 6070,3234 6090,3204" fill="#ffd26c"/><polygon points="6021,3216 6001,3249 6026,3258 6045,3225" fill="#fff770"/><polygon points="5977,3242 5958,3277 5982,3284 6001,3249" fill="#deff73"/><polygon points="5892,3301 5873,3341 5896,3347 5915,3307" fill="#7bff75"/><polygon points="6313,3149 6294,3167 6320,3182 6339,3164" fill="#ff5c3b"/><polygon points="6179,3172 6160,3197 6185,3209 6204,3184" fill="#ff935b"/><polygon points="6572,3196 6556,3200 6582,3220 6598,3217" fill="#e0e512"/><polygon points="6530,3180 6514,3186 6540,3206 6556,3200" fill="#ecbb13"/><polygon points="6488,3168 6471,3176 6497,3194 6514,3186" fill="#f49213"/><polygon points="6445,3158 6427,3168 6454,3186 6471,3176" fill="#fc7014"/><polygon points="6401,3152 6383,3165 6410,3181 6427,3168" fill="#ff5c1e"/><polygon points="6357,3149 6339,3164 6365,3180 6383,3165" fill="#ff572d"/><polygon points="6268,3153 6249,3174 6275,3188 6294,3167" fill="#ff6a48"/><polygon points="6224,3161 6204,3184 6230,3197 6249,3174" fill="#ff7c52"/><polygon points="6134,3186 6115,3214 6140,3225 6160,3197" fill="#ffaf63"/><polygon points="6090,3204 6070,3234 6095,3244 6115,3214" fill="#ffcf68"/><polygon points="6045,3225 6026,3258 6051,3267 6070,3234" fill="#fff36c"/><polygon points="6001,3249 5982,3284 6006,3293 6026,3258" fill="#e2ff6f"/><polygon points="5958,3277 5939,3314 5963,3322 5982,3284" fill="#b5ff71"/><polygon points="5915,3307 5896,3347 5920,3354 5939,3314" fill="#81ff72"/><polygon points="6556,3200 6540,3206 6566,3226 6582,3220" fill="#ead412"/><polygon points="6514,3186 6497,3194 6524,3214 6540,3206" fill="#f1a913"/><polygon points="6471,3176 6454,3186 6480,3205 6497,3194" fill="#f98614"/><polygon points="6427,3168 6410,3181 6436,3199 6454,3186" fill="#ff6c18"/><polygon points="6383,3165 6365,3180 6392,3197 6410,3181" fill="#ff6327"/><polygon points="6339,3164 6320,3182 6347,3198 6365,3180" fill="#ff6435"/><polygon points="6294,3167 6275,3188 6302,3203 6320,3182" fill="#ff6e42"/><polygon points="6249,3174 6230,3197 6256,3211 6275,3188" fill="#ff7f4d"/><polygon points="6204,3184 6185,3209 6211,3223 6230,3197" fill="#ff9556"/><polygon points="6160,3197 6140,3225 6166,3238 6185,3209" fill="#ffaf5e"/><polygon points="6115,3214 6095,3244 6121,3256 6140,3225" fill="#ffcd64"/><polygon points="6070,3234 6051,3267 6076,3278 6095,3244" fill="#fff168"/><polygon points="6026,3258 6006,3293 6031,3303 6051,3267" fill="#e6ff6b"/><polygon points="5982,3284 5963,3322 5987,3331 6006,3293" fill="#b8ff6d"/><polygon points="5939,3314 5920,3354 5944,3362 5963,3322" fill="#85ff6f"/><polygon points="6497,3194 6480,3205 6507,3225 6524,3214" fill="#f69e13"/><polygon points="6454,3186 6436,3199 6463,3218 6480,3205" fill="#fe8114"/><polygon points="6365,3180 6347,3198 6373,3215 6392,3197" fill="#ff702f"/><polygon points="6275,3188 6256,3211 6283,3226 6302,3203" fill="#ff8447"/><polygon points="6230,3197 6211,3223 6237,3237 6256,3211" fill="#ff9851"/><polygon points="6140,3225 6121,3256 6146,3269 6166,3238" fill="#ffce5f"/><polygon points="6051,3267 6031,3303 6056,3313 6076,3278" fill="#e6ff67"/><polygon points="6006,3293 5987,3331 6012,3341 6031,3303" fill="#baff6a"/><polygon points="6540,3206 6524,3214 6550,3235 6566,3226" fill="#efc313"/><polygon points="6410,3181 6392,3197 6418,3215 6436,3199" fill="#ff7221"/><polygon points="6320,3182 6302,3203 6328,3219 6347,3198" fill="#ff763c"/><polygon points="6185,3209 6166,3238 6192,3251 6211,3223" fill="#ffb159"/><polygon points="6095,3244 6076,3278 6101,3289 6121,3256" fill="#fff064"/><polygon points="5963,3322 5944,3362 5968,3371 5987,3331" fill="#88ff6c"/><polygon points="6480,3205 6463,3218 6489,3239 6507,3225" fill="#fb9b14"/><polygon points="6256,3211 6237,3237 6264,3252 6283,3226" fill="#ff9d4b"/><polygon points="6031,3303 6012,3341 6037,3352 6056,3313" fill="#bbff66"/><polygon points="6524,3214 6507,3225 6533,3246 6550,3235" fill="#f3b813"/><polygon points="6436,3199 6418,3215 6445,3234 6463,3218" fill="#ff861b"/><polygon points="6392,3197 6373,3215 6400,3234 6418,3215" fill="#ff7e29"/><polygon points="6347,3198 6328,3219 6355,3237 6373,3215" fill="#ff8136"/><polygon points="6302,3203 6283,3226 6309,3243 6328,3219" fill="#ff8c42"/><polygon points="6211,3223 6192,3251 6218,3266 6237,3237" fill="#ffb554"/><polygon points="6166,3238 6146,3269 6172,3282 6192,3251" fill="#ffd15a"/><polygon points="6121,3256 6101,3289 6127,3302 6146,3269" fill="#fff25f"/><polygon points="6076,3278 6056,3313 6082,3325 6101,3289" fill="#e6ff63"/><polygon points="5987,3331 5968,3371 5992,3381 6012,3341" fill="#89ff68"/><polygon points="6507,3225 6489,3239 6516,3260 6533,3246" fill="#f8b513"/><polygon points="6463,3218 6445,3234 6472,3255 6489,3239" fill="#ff9d15"/><polygon points="6418,3215 6400,3234 6427,3253 6445,3234" fill="#ff9023"/><polygon points="6373,3215 6355,3237 6382,3255 6400,3234" fill="#ff8f30"/><polygon points="6328,3219 6309,3243 6336,3260 6355,3237" fill="#ff973c"/><polygon points="6283,3226 6264,3252 6290,3269 6309,3243" fill="#ffa746"/><polygon points="6237,3237 6218,3266 6244,3281 6264,3252" fill="#ffbb4e"/><polygon points="6192,3251 6172,3282 6198,3297 6218,3266" fill="#ffd655"/><polygon points="6146,3269 6127,3302 6153,3316 6172,3282" fill="#fff65b"/><polygon points="6101,3289 6082,3325 6107,3338 6127,3302" fill="#e4ff5f"/><polygon points="6056,3313 6037,3352 6062,3364 6082,3325" fill="#b9ff62"/><polygon points="6012,3341 5992,3381 6017,3393 6037,3352" fill="#89ff64"/><polygon points="6489,3239 6472,3255 6499,3276 6516,3260" fill="#fcb814"/><polygon points="6445,3234 6427,3253 6454,3274 6472,3255" fill="#ffa71d"/><polygon points="6400,3234 6382,3255 6408,3275 6427,3253" fill="#ffa22a"/><polygon points="6355,3237 6336,3260 6363,3279 6382,3255" fill="#ffa636"/><polygon points="6309,3243 6290,3269 6317,3287 6336,3260" fill="#ffb240"/><polygon points="6264,3252 6244,3281 6271,3298 6290,3269" fill="#ffc549"/><polygon points="6218,3266 6198,3297 6225,3313 6244,3281" fill="#ffde50"/><polygon points="6172,3282 6153,3316 6179,3331 6198,3297" fill="#fffb56"/><polygon points="6127,3302 6107,3338 6133,3352 6153,3316" fill="#deff5b"/><polygon points="6082,3325 6062,3364 6088,3377 6107,3338" fill="#b4ff5e"/><polygon points="6037,3352 6017,3393 6043,3405 6062,3364" fill="#86ff61"/><polygon points="6472,3255 6454,3274 6481,3295 6499,3276" fill="#ffc217"/><polygon points="6427,3253 6408,3275 6435,3295 6454,3274" fill="#ffb824"/><polygon points="6382,3255 6363,3279 6390,3299 6408,3275" fill="#ffb930"/><polygon points="6336,3260 6317,3287 6344,3306 6363,3279" fill="#ffc03b"/><polygon points="6290,3269 6271,3298 6298,3316 6317,3287" fill="#ffd244"/><polygon points="6244,3281 6225,3313 6251,3330 6271,3298" fill="#ffe84b"/><polygon points="6198,3297 6179,3331 6205,3347 6225,3313" fill="#faff51"/><polygon points="6153,3316 6133,3352 6159,3367 6179,3331" fill="#d8ff56"/><polygon points="6107,3338 6088,3377 6113,3391 6133,3352" fill="#afff5a"/><polygon points="6062,3364 6043,3405 6068,3418 6088,3377" fill="#81ff5d"/><polygon points="6454,3274 6435,3295 6463,3317 6481,3295" fill="#ffd21e"/><polygon points="6408,3275 6390,3299 6417,3319 6435,3295" fill="#ffcf2a"/><polygon points="6363,3279 6344,3306 6371,3325 6390,3299" fill="#ffd335"/><polygon points="6317,3287 6298,3316 6324,3335 6344,3306" fill="#ffe13e"/><polygon points="6271,3298 6251,3330 6278,3348 6298,3316" fill="#fff546"/><polygon points="6225,3313 6205,3347 6232,3364 6251,3330" fill="#eeff4c"/><polygon points="6179,3331 6159,3367 6185,3384 6205,3347" fill="#ceff52"/><polygon points="6133,3352 6113,3391 6139,3406 6159,3367" fill="#a6ff56"/><polygon points="6088,3377 6068,3418 6094,3433 6113,3391" fill="#7aff59"/><polygon points="6435,3295 6417,3319 6444,3341 6463,3317" fill="#ffe924"/><polygon points="6390,3299 6371,3325 6398,3346 6417,3319" fill="#ffea2f"/><polygon points="6344,3306 6324,3335 6352,3355 6371,3325" fill="#fff438"/><polygon points="6298,3316 6278,3348 6305,3367 6324,3335" fill="#f9ff41"/><polygon points="6251,3330 6232,3364 6258,3382 6278,3348" fill="#e0ff47"/><polygon points="6205,3347 6185,3384 6212,3401 6232,3364" fill="#c1ff4d"/><polygon points="6159,3367 6139,3406 6166,3423 6185,3384" fill="#9cff51"/><polygon points="6113,3391 6094,3433 6120,3448 6139,3406" fill="#70ff55"/><polygon points="6417,3319 6398,3346 6425,3368 6444,3341" fill="#faff29"/><polygon points="6371,3325 6352,3355 6379,3376 6398,3346" fill="#f3ff33"/><polygon points="6324,3335 6305,3367 6332,3387 6352,3355" fill="#e4ff3b"/><polygon points="6232,3364 6212,3401 6239,3419 6258,3382" fill="#b1ff48"/><polygon points="6185,3384 6166,3423 6192,3440 6212,3401" fill="#8dff4d"/><polygon points="6139,3406 6120,3448 6146,3465 6166,3423" fill="#63ff51"/><polygon points="6278,3348 6258,3382 6285,3401 6305,3367" fill="#ceff42"/><polygon points="6352,3355 6332,3387 6359,3408 6379,3376" fill="#ccff36"/><polygon points="6212,3401 6192,3440 6219,3459 6239,3419" fill="#7dff48"/><polygon points="6398,3346 6379,3376 6406,3398 6425,3368" fill="#d9ff2d"/><polygon points="6305,3367 6285,3401 6312,3422 6332,3387" fill="#b9ff3d"/><polygon points="6258,3382 6239,3419 6266,3439 6285,3401" fill="#9eff43"/><polygon points="6166,3423 6146,3465 6172,3482 6192,3440" fill="#55ff4d"/><polygon points="6379,3376 6359,3408 6387,3431 6406,3398" fill="#b2ff30"/><polygon points="6332,3387 6312,3422 6340,3443 6359,3408" fill="#a1ff38"/><polygon points="6285,3401 6266,3439 6293,3459 6312,3422" fill="#89ff3f"/><polygon points="6239,3419 6219,3459 6246,3478 6266,3439" fill="#69ff44"/><polygon points="6192,3440 6172,3482 6199,3501 6219,3459" fill="#48ff4f"/><polygon points="6312,3422 6293,3459 6320,3481 6340,3443" fill="#6fff3a"/><polygon points="6266,3439 6246,3478 6273,3499 6293,3459" fill="#52ff3f"/><polygon points="6359,3408 6340,3443 6367,3466 6387,3431" fill="#84ff33"/><polygon points="6219,3459 6199,3501 6226,3521 6246,3478" fill="#44ff5b"/><polygon points="6293,3459 6273,3499 6300,3521 6320,3481" fill="#3bff3e"/><polygon points="6340,3443 6320,3481 6347,3504 6367,3466" fill="#52ff35"/><polygon points="6246,3478 6226,3521 6253,3542 6273,3499" fill="#40ff6b"/><polygon points="6320,3481 6300,3521 6328,3544 6347,3504" fill="#36ff53"/><polygon points="6273,3499 6253,3542 6280,3563 6300,3521" fill="#3bff7e"/><polygon points="6300,3521 6280,3563 6308,3586 6328,3544" fill="#37ff94"/></g><circle cx="622.9" cy="308.52" r="1" fill="#c00"/><circle cx="576.12" cy="332.03" r="1" fill="#c00"/><circle cx="668.06" cy="323.95" r="1" fill="#c00"/><circle cx="630.76" cy="358.66" r="0.9" fill="#fcc" stroke="#d66" stroke-width="0.3"/><text x="630.3" y="277.2" font-size="3.1" fill="#000" text-anchor="middle" font-weight="bold" textLength="14.1" lengthAdjust="spacingAndGlyphs">3D Surface</text><text x="561.97" y="333.47" font-size="2.6" fill="#000" text-anchor="middle" transform="rotate(-90 561.97 333.47)" textLength="19.78" lengthAdjust="spacingAndGlyphs">Microencapsulation rate</text><text x="591.87" y="380.58" font-size="2.6" fill="#000" text-anchor="middle" textLength="28.35" lengthAdjust="spacingAndGlyphs">D: Different ratio of water content</text><text x="646.64" y="371.38" font-size="2.6" fill="#000" textLength="53.46" lengthAdjust="spacingAndGlyphs">C: Different ratio of whey protein concentrate and sodium alginate</text><text x="588.91" y="362.8" font-size="1.7" fill="#333" text-anchor="end">0.1</text><text x="601.55" y="369.37" font-size="1.7" fill="#333" text-anchor="end">0.2</text><text x="614.84" y="376.29" font-size="1.7" fill="#333" text-anchor="end">0.3</text><text x="661.36" y="353.79" font-size="1.7" fill="#333">0.1</text><text x="654.64" y="360.48" font-size="1.7" fill="#333">0.2</text><text x="647.55" y="367.54" font-size="1.7" fill="#333">0.3</text><text x="640.06" y="374.99" font-size="1.7" fill="#333">0.4</text></svg>
</body></html>
